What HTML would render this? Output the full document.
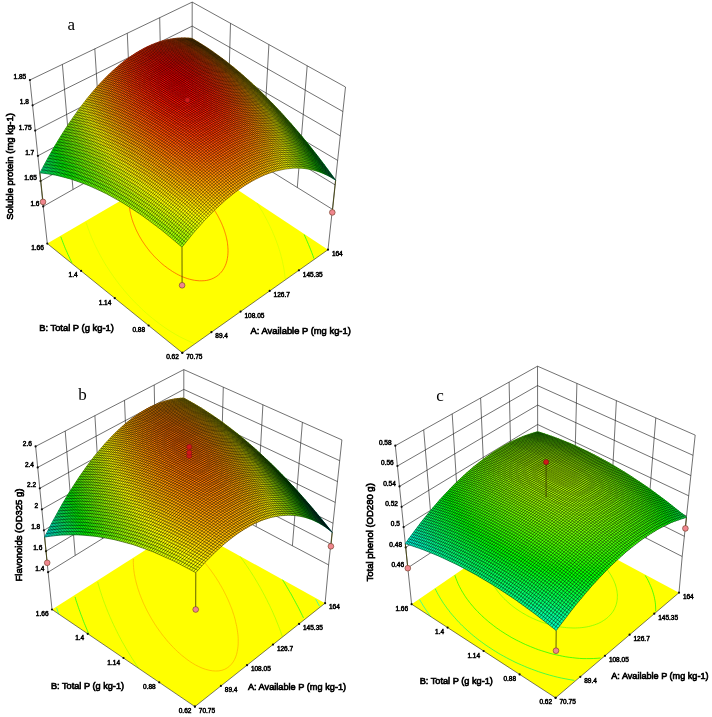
<!DOCTYPE html>
<html><head><meta charset="utf-8"><title>Response surfaces</title>
<style>
html,body{margin:0;padding:0;background:#fff}
svg{display:block}
text{font-family:"Liberation Sans",Arial,sans-serif;fill:#000}
.tk text{stroke:#000;stroke-width:0.5px}
.tt{stroke:#000;stroke-width:0.65px}
.lt{font-family:"Liberation Serif","Times New Roman",serif;font-size:17px;stroke:none}
</style></head><body>
<svg width="712" height="717" viewBox="0 0 712 717">
<rect width="712" height="717" fill="#fff"/>
<g><path d="M43.2 206.4L192.0 122.1M192.0 122.1L332.4 209.3M40.5 181.1L192.0 98.1M192.0 98.1L335.0 184.8M37.9 155.8L192.1 74.1M192.1 74.1L337.6 160.4M35.2 130.6L192.1 50.1M192.1 50.1L340.3 135.9M32.6 105.3L192.2 26.1M192.2 26.1L342.9 111.5M29.9 80.0L192.2 2.1M192.2 2.1L345.5 87.0M43.2 206.4L29.9 80.0M73.0 189.5L62.4 64.4M102.7 172.7L94.8 48.8M132.5 155.8L127.3 33.3M162.2 139.0L159.7 17.7M192.0 122.1L192.2 2.1M227.1 143.9L230.5 23.3M262.2 165.7L268.9 44.6M297.3 187.5L307.2 65.8M332.4 209.3L345.5 87.0M47.3 243.6L43.2 206.4M328.0 249.7L332.4 209.3" fill="none" stroke="#1a1a1a" stroke-width="0.62"/>
<path d="M47.3 243.6 L191.6 159.3 L328.0 249.7 L182.3 352.8 Z" fill="#ffff00"/>
<path d="M60.8 236.7 L61.5 238.7 L62.3 240.7 L63.0 242.7 L63.8 244.7 L64.6 246.7 L65.4 248.7 L66.3 250.6 L67.2 252.6 L68.0 254.6 L69.0 256.6 L69.9 258.6 L70.9 260.7 L71.9 262.7M313.9 258.5 L312.9 255.6 L311.8 252.7 L310.7 249.8 L309.6 247.1 L308.5 244.5 L307.4 241.9 L306.3 239.4 L305.2 236.9 L304.1 234.5" fill="none" stroke="#00ff15" stroke-width="0.70"/>
<path d="M86.1 222.5 L86.6 224.0 L87.2 225.6 L87.7 227.2 L88.2 228.7 L88.8 230.2 L89.4 231.7 L89.9 233.2 L90.5 234.7 L91.1 236.2 L91.7 237.7 L92.4 239.2 L93.0 240.7 L93.7 242.1 L94.3 243.6 L95.0 245.1 L95.7 246.6 L96.5 248.1 L97.2 249.5 L98.0 251.0 L98.7 252.5 L99.5 254.0 L100.4 255.6 L101.2 257.1 L102.1 258.6 L103.0 260.2 L103.9 261.8 L104.8 263.4 L105.8 265.0 L106.8 266.6 L107.9 268.2 L109.0 269.9 L110.1 271.6 L111.3 273.3 L112.5 275.1 L113.7 276.9 L115.1 278.7 L116.4 280.6 L117.8 282.4 L119.3 284.4 L120.9 286.3 L122.5 288.3 L124.2 290.4 L126.0 292.5 L127.8 294.6 L129.8 296.8 L131.8 299.0 L134.0 301.3 L136.3 303.6 L138.7 306.0 L141.2 308.4 L143.8 310.9 L146.6 313.4 L149.6 316.0 L152.7 318.5 L156.0 321.1 L159.4 323.7 L163.1 326.4 L166.9 329.0 L170.9 331.6 L175.1 334.1 L179.5 336.6 L184.2 338.9 L189.0 341.2 L193.9 343.3M285.2 279.0 L284.9 275.9 L284.5 272.9 L284.1 269.9 L283.6 267.1 L283.0 264.3 L282.5 261.6 L281.9 259.0 L281.2 256.5 L280.6 254.1 L279.9 251.7 L279.2 249.5 L278.5 247.3 L277.8 245.1 L277.0 243.0 L276.3 241.0 L275.5 239.0 L274.8 237.1 L274.0 235.2 L273.2 233.4 L272.5 231.6 L271.7 229.9 L270.9 228.1 L270.1 226.5 L269.3 224.8 L268.5 223.2 L267.7 221.6 L266.9 220.1 L266.1 218.5 L265.3 217.0 L264.5 215.6 L263.7 214.1 L262.9 212.6 L262.1 211.2 L261.2 209.8 L260.4 208.4 L259.5 207.0 L258.7 205.6 L257.8 204.2 L256.9 202.9" fill="none" stroke="#d2ff00" stroke-width="0.70"/>
<path d="M209.3 203.0 L208.7 202.3 L208.2 201.6 L207.6 200.8 L207.0 200.1 L206.4 199.4 L205.7 198.7 L205.1 197.9 L204.4 197.1 L203.7 196.4 L203.0 195.6 L202.2 194.8 L201.4 194.0 L200.6 193.2 L199.8 192.3 L198.9 191.5 L198.0 190.6 L197.0 189.8 L196.1 188.9 L195.0 188.0 L193.9 187.1 L192.8 186.1 L191.6 185.2 L190.4 184.3 L189.1 183.3 L187.7 182.4 L186.3 181.4 L184.8 180.4 L183.3 179.5 L181.7 178.5 L180.0 177.6 L178.2 176.7 L176.4 175.8 L174.5 175.0 L172.5 174.2 L170.5 173.5M129.3 196.4 L129.2 197.8 L129.1 199.1 L129.1 200.3 L129.1 201.6 L129.1 202.8 L129.2 204.0 L129.2 205.1 L129.3 206.2 L129.5 207.3 L129.6 208.4 L129.8 209.4 L129.9 210.5 L130.1 211.4 L130.3 212.4 L130.5 213.4 L130.7 214.3 L130.9 215.2 L131.2 216.1 L131.4 217.0 L131.6 217.8 L131.9 218.7 L132.1 219.5 L132.4 220.3 L132.7 221.1 L132.9 221.9 L133.2 222.7 L133.5 223.4 L133.8 224.2 L134.1 224.9 L134.4 225.7 L134.7 226.4 L135.0 227.1 L135.3 227.8 L135.6 228.6 L135.9 229.3 L136.2 230.0 L136.6 230.7 L136.9 231.4 L137.3 232.1 L137.6 232.8 L138.0 233.5 L138.3 234.2 L138.7 234.9 L139.1 235.6 L139.5 236.3 L139.9 237.0 L140.3 237.7 L140.7 238.4 L141.1 239.1 L141.6 239.8 L142.0 240.6 L142.5 241.3 L143.0 242.0 L143.5 242.8 L144.0 243.5 L144.5 244.3 L145.1 245.1 L145.6 245.8 L146.2 246.6 L146.8 247.4 L147.4 248.3 L148.1 249.1 L148.7 249.9 L149.4 250.8 L150.1 251.7 L150.9 252.6 L151.7 253.5 L152.5 254.4 L153.3 255.3 L154.2 256.3 L155.2 257.3 L156.2 258.3 L157.2 259.3 L158.3 260.3 L159.4 261.4 L160.6 262.5 L161.8 263.6 L163.1 264.7 L164.5 265.8 L166.0 266.9 L167.5 268.1 L169.1 269.2 L170.8 270.3 L172.5 271.5 L174.4 272.6 L176.3 273.7 L178.3 274.8 L180.4 275.8 L182.6 276.8 L184.9 277.7 L187.2 278.5 L189.6 279.2 L192.0 279.8 L194.5 280.3 L197.0 280.6 L199.4 280.8 L201.9 280.8 L204.3 280.7 L206.7 280.4 L208.9 279.9 L211.1 279.2 L213.2 278.3 L215.1 277.3 L216.9 276.2 L218.5 274.9 L220.0 273.5 L221.4 272.0 L222.6 270.4 L223.6 268.8 L224.5 267.2 L225.3 265.5 L226.0 263.8 L226.5 262.1 L227.0 260.4 L227.3 258.7 L227.6 257.0 L227.8 255.4 L227.9 253.8 L228.0 252.2 L228.0 250.7 L228.0 249.2 L227.9 247.8 L227.8 246.4 L227.7 245.1 L227.5 243.7 L227.4 242.5 L227.2 241.2 L226.9 240.0 L226.7 238.8 L226.4 237.7 L226.2 236.6 L225.9 235.5 L225.6 234.5 L225.3 233.5 L225.0 232.5 L224.7 231.5 L224.4 230.6 L224.1 229.7 L223.8 228.8 L223.4 227.9 L223.1 227.1 L222.8 226.2 L222.4 225.4 L222.1 224.6 L221.8 223.8 L221.4 223.0 L221.1 222.3 L220.7 221.5 L220.4 220.8 L220.0 220.0 L219.6 219.3 L219.3 218.6 L218.9 217.9 L218.5 217.2 L218.2 216.5 L217.8 215.8 L217.4 215.1 L217.0 214.4 L216.6 213.8 L216.2 213.1 L215.8 212.4 L215.4 211.8 L215.0 211.1 L214.6 210.4 L214.1 209.8 L213.7 209.1 L213.2 208.4 L212.8 207.8 L212.3 207.1 L211.8 206.4 L211.4 205.7 L210.9 205.0 L210.3 204.4 L209.8 203.7 L209.3 203.0" fill="none" stroke="#ff4500" stroke-width="0.70"/>
<path d="M47.3 243.6 L182.3 352.8 L328.0 249.7" fill="none" stroke="#222" stroke-width="0.6"/>
<g fill="#111"><circle cx="182.3" cy="352.8" r="1.1"/><circle cx="211.4" cy="332.2" r="1.1"/><circle cx="240.6" cy="311.6" r="1.1"/><circle cx="269.7" cy="290.9" r="1.1"/><circle cx="298.9" cy="270.3" r="1.1"/><circle cx="328.0" cy="249.7" r="1.1"/><circle cx="182.3" cy="352.8" r="1.1"/><circle cx="148.6" cy="325.5" r="1.1"/><circle cx="114.8" cy="298.2" r="1.1"/><circle cx="81.1" cy="270.9" r="1.1"/><circle cx="47.3" cy="243.6" r="1.1"/><circle cx="43.2" cy="206.4" r="1.1"/><circle cx="40.5" cy="181.1" r="1.1"/><circle cx="37.9" cy="155.8" r="1.1"/><circle cx="35.2" cy="130.6" r="1.1"/><circle cx="32.6" cy="105.3" r="1.1"/><circle cx="29.9" cy="80.0" r="1.1"/></g>
<g font-size="6.5" class="tk"><text x="186.2" y="359.0">70.75</text><text x="215.3" y="338.4">89.4</text><text x="244.5" y="317.8">108.05</text><text x="273.6" y="297.1">126.7</text><text x="302.8" y="276.5">145.35</text><text x="331.9" y="255.9">164</text><text x="178.8" y="359.3" text-anchor="end">0.62</text><text x="145.1" y="332.0" text-anchor="end">0.88</text><text x="111.3" y="304.7" text-anchor="end">1.14</text><text x="77.6" y="277.4" text-anchor="end">1.4</text><text x="43.8" y="250.1" text-anchor="end">1.66</text><text x="39.5" y="205.5" text-anchor="end">1.6</text><text x="36.8" y="180.2" text-anchor="end">1.65</text><text x="34.2" y="154.9" text-anchor="end">1.7</text><text x="31.5" y="129.7" text-anchor="end">1.75</text><text x="28.9" y="104.4" text-anchor="end">1.8</text><text x="26.2" y="79.1" text-anchor="end">1.85</text></g>
<path d="M182.0 247.1 L182.1 285.3" stroke="#3c3c00" stroke-width="0.8"/>
<circle cx="182.1" cy="285.3" r="2.85" fill="#f0868e" stroke="#6a3a20" stroke-width="0.6"/>
<path d="M40.0 172.8 L43.0 201.9" stroke="#3c3c00" stroke-width="0.8"/>
<circle cx="43.0" cy="201.9" r="2.85" fill="#f0868e" stroke="#6a3a20" stroke-width="0.6"/>
<path d="M335.7 180.2 L332.3 212.4" stroke="#3c3c00" stroke-width="0.8"/>
<circle cx="332.3" cy="212.4" r="2.85" fill="#f0868e" stroke="#6a3a20" stroke-width="0.6"/>
<g stroke-width="0.6" stroke-linejoin="round"><path fill="#96ff00" stroke="#96ff00" d="M182.0 247.1l4.3-5.6-4-3.5-4.4 5.6zM116.3 199.1l4.1-6.3-3.6-2-4.2 6.2zM102.4 183.4l4.1-6.3-3.5-1.7-4.1 6.3zM77.6 143.5l3.9-5.9-3.3-0.9-3.8 6zM303.0 168.3l3.5 0.4-3.9-4.8-3.5-0.4zM298.0 151.0l3.4 0.8-3.8-4.5-3.4-0.8z"/><path fill="#9cff00" stroke="#9cff00" d="M177.9 243.6l4.4-5.6-4.1-3.5-4.3 5.6zM119.9 201.2l4.2-6.2-3.7-2.2-4.1 6.3zM106.0 185.1l4-6.2-3.5-1.8-4.1 6.3zM96.0 172.3l4-6.1-3.5-1.5-4 6.2zM83.6 152.4l3.9-6-3.3-1-4 6zM72.5 128.8l3.8-5.7-3.2-0.6-3.8 5.7zM298.4 155.0l3.4 0.7-3.8-4.7-3.4-0.6z"/><path fill="#9fff00" stroke="#9fff00" d="M173.9 240.1l4.3-5.6-4-3.4-4.3 5.6zM123.6 203.4l4.2-6.2-3.7-2.2-4.2 6.2zM89.7 162.0l4-6.1-3.4-1.2-4 6.1z"/><path fill="#a6ff00" stroke="#a6ff00" d="M169.9 236.7l4.3-5.6-4-3.4-4.3 5.8zM131.1 208.1l4.2-6.1-3.8-2.4-4.1 6.1zM99.4 173.8l4.1-6.1-3.5-1.5-4 6.1z"/><path fill="#a9ff00" stroke="#a9ff00" d="M165.9 233.5l4.3-5.8-3.9-3.2-4.3 5.8zM162.0 230.3l4.3-5.8-4-3.1-4.3 5.8zM134.9 210.5l4.2-6-3.8-2.5-4.2 6.1zM93.1 163.3l4-6-3.4-1.4-4 6.1zM86.9 153.5l4-5.9-3.4-1.2-3.9 6zM78.2 136.7l3.9-5.7-3.2-0.8-3.9 5.8zM299.1 163.5l3.5 0.4-3.8-4.7-3.5-0.4zM294.2 146.5l3.4 0.8-3.8-4.6-3.4-0.7z"/><path fill="#acff00" stroke="#acff00" d="M158.0 227.2l4.3-5.8-3.9-3-4.3 5.8zM154.1 224.2l4.3-5.8-3.9-3-4.3 5.9zM142.5 215.7l4.2-5.9-3.8-2.7-4.2 6zM138.7 213.1l4.2-6-3.8-2.6-4.2 6zM113.1 188.8l4.1-6.1-3.6-2-4.1 6.2zM75.7 129.4l3.8-5.6-3.2-0.7-3.8 5.7zM73.1 122.5l3.9-5.6-3.2-0.5-3.8 5.5zM299.5 168.1l3.5 0.2-3.9-4.8-3.5-0.2z"/><path fill="#afff00" stroke="#afff00" d="M150.2 221.3l4.3-5.9-3.9-2.9-4.3 6zM146.3 218.5l4.3-6-3.9-2.7-4.2 5.9zM186.3 241.5l4.4-5.3-4.1-3.7-4.3 5.5zM116.8 190.8l4.1-6.1-3.7-2-4.1 6.1zM103.0 175.4l4-6-3.5-1.7-4.1 6.1zM84.2 145.4l3.9-5.9-3.3-1-3.9 5.9z"/><path fill="#a3ff00" stroke="#a3ff00" d="M127.4 205.7l4.1-6.1-3.7-2.4-4.2 6.2zM109.5 186.9l4.1-6.2-3.6-1.8-4 6.2zM80.9 144.4l3.9-5.9-3.3-0.9-3.9 5.9zM298.8 159.2l3.5 0.5-3.9-4.7-3.5-0.5z"/><path fill="#8fff00" stroke="#8fff00" d="M112.6 197.0l4.2-6.2-3.7-2-4.1 6.3zM80.2 151.4l4-6-3.3-1-3.9 6.1zM302.6 163.9l3.5 0.6-3.8-4.8-3.5-0.5z"/><path fill="#89ff00" stroke="#89ff00" d="M109.0 195.1l4.1-6.3-3.6-1.9-4.1 6.3zM71.8 135.3l3.9-5.9-3.2-0.6-3.9 5.8zM302.3 159.7l3.4 0.7-3.9-4.7-3.4-0.7z"/><path fill="#83ff00" stroke="#83ff00" d="M105.4 193.2l4.1-6.3-3.5-1.8-4.1 6.4zM95.4 180.1l4-6.3-3.4-1.5-4 6.4zM301.8 155.7l3.4 0.8-3.8-4.7-3.4-0.8z"/><path fill="#79ff00" stroke="#79ff00" d="M101.9 191.5l4.1-6.4-3.6-1.7-4 6.4zM92.0 178.7l4-6.4-3.5-1.4-4 6.4zM79.6 158.6l4-6.2-3.4-1-3.9 6.2zM71.1 141.9l3.9-5.9-3.2-0.7-3.8 6zM68.6 134.6l3.9-5.8-3.2-0.6-3.8 5.9z"/><path fill="#70ff00" stroke="#70ff00" d="M98.4 189.8l4-6.4-3.5-1.7-4 6.4zM82.4 167.1l3.9-6.3-3.3-1.1-4 6.3z"/><path fill="#66ff00" stroke="#66ff00" d="M94.9 188.1l4-6.4-3.5-1.6-4 6.5z"/><path fill="#5cff00" stroke="#5cff00" d="M91.4 186.6l4-6.5-3.4-1.4-4 6.5zM73.1 156.7l3.9-6.2-3.3-0.9-3.9 6.3z"/><path fill="#53ff00" stroke="#53ff00" d="M88.0 185.2l4-6.5-3.5-1.4-3.9 6.5zM75.7 164.9l3.9-6.3-3.3-1-3.8 6.4zM67.3 148.1l3.8-6.2-3.1-0.6-3.9 6.2z"/><path fill="#49ff00" stroke="#49ff00" d="M84.6 183.8l3.9-6.5-3.4-1.4-3.9 6.6zM78.4 173.5l4-6.4-3.4-1.1-3.9 6.5z"/><path fill="#3dff00" stroke="#3dff00" d="M81.2 182.5l3.9-6.6-3.3-1.2-4 6.6zM75.1 172.5l3.9-6.5-3.3-1.1-3.9 6.6z"/><path fill="#30ff00" stroke="#30ff00" d="M77.8 181.3l4-6.6-3.4-1.2-3.9 6.7z"/><path fill="#23ff00" stroke="#23ff00" d="M74.5 180.2l3.9-6.7-3.3-1-3.9 6.6z"/><path fill="#13ff00" stroke="#13ff00" d="M71.2 179.1l3.9-6.6-3.3-1-3.8 6.7z"/><path fill="#06ff00" stroke="#06ff00" d="M68.0 178.2l3.8-6.7-3.2-1-3.9 6.8zM59.7 160.9l3.8-6.5-3.2-0.6-3.8 6.6z"/><path fill="#00ff0a" stroke="#00ff0a" d="M64.7 177.3l3.9-6.8-3.2-0.8-3.9 6.8zM56.5 160.4l3.8-6.6-3.1-0.5-3.7 6.6z"/><path fill="#00ff1a" stroke="#00ff1a" d="M61.5 176.5l3.9-6.8-3.2-0.8-3.8 6.8z"/><path fill="#00ff29" stroke="#00ff29" d="M58.4 175.7l3.8-6.8-3.2-0.7-3.8 6.8z"/><path fill="#00ff3d" stroke="#00ff3d" d="M55.2 175.0l3.8-6.8-3.1-0.6-3.8 6.9z"/><path fill="#00ff4c" stroke="#00ff4c" d="M52.1 174.5l3.8-6.9-3.1-0.5-3.8 6.8z"/><path fill="#00ff60" stroke="#00ff60" d="M49.0 173.9l3.8-6.8-3.1-0.5-3.7 6.9z"/><path fill="#00ff73" stroke="#00ff73" d="M46.0 173.5l3.7-6.9-3-0.4-3.7 6.9z"/><path fill="#00ff86" stroke="#00ff86" d="M43.0 173.1l3.7-6.9-3-0.3-3.7 6.9z"/><path fill="#b6ff00" stroke="#b6ff00" d="M182.3 238.0l4.3-5.5-4-3.5-4.4 5.5zM120.4 192.8l4.2-6-3.7-2.1-4.1 6.1zM106.5 177.1l4.1-6-3.6-1.7-4 6zM90.3 154.7l3.9-5.9-3.3-1.2-4 5.9zM81.5 137.6l3.9-5.7-3.3-0.9-3.9 5.7z"/><path fill="#b9ff00" stroke="#b9ff00" d="M178.2 234.5l4.4-5.5-4.1-3.4-4.3 5.5zM294.9 154.5l3.5 0.5-3.8-4.6-3.6-0.5z"/><path fill="#bfff00" stroke="#bfff00" d="M174.2 231.1l4.3-5.5-4-3.4-4.3 5.5zM127.8 197.2l4.2-5.9-3.7-2.3-4.2 6zM110.0 178.9l4.1-6-3.5-1.8-4.1 6zM93.7 155.9l4-5.8-3.5-1.3-3.9 5.9z"/><path fill="#c2ff00" stroke="#c2ff00" d="M170.2 227.7l4.3-5.5-3.9-3.2-4.3 5.5zM131.5 199.6l4.2-6-3.7-2.3-4.2 5.9zM295.9 168.0l3.6 0.1-3.9-4.8-3.6 0zM295.6 163.3l3.5 0.2-3.8-4.7-3.6-0.2zM290.7 145.9l3.5 0.6-3.8-4.5-3.5-0.6z"/><path fill="#c6ff00" stroke="#c6ff00" d="M166.3 224.5l4.3-5.5-4-3.2-4.3 5.6zM135.3 202.0l4.2-5.9-3.8-2.5-4.2 6zM190.7 236.2l4.3-5.2-4.1-3.7-4.3 5.2zM113.6 180.7l4.1-5.9-3.6-1.9-4.1 6zM103.5 167.7l4-5.9-3.5-1.6-4 6zM84.8 138.5l3.9-5.7-3.3-0.9-3.9 5.7z"/><path fill="#c9ff00" stroke="#c9ff00" d="M162.3 221.4l4.3-5.6-3.9-3.1-4.3 5.7zM158.4 218.4l4.3-5.7-4-3-4.2 5.7zM154.5 215.4l4.2-5.7-3.9-2.9-4.2 5.7zM142.9 207.1l4.2-5.8-3.8-2.7-4.2 5.9zM139.1 204.5l4.2-5.9-3.8-2.5-4.2 5.9zM97.1 157.3l4-5.9-3.4-1.3-4 5.8zM90.9 147.6l3.9-5.8-3.3-1.2-4 5.8zM82.1 131.0l3.9-5.6-3.2-0.9-3.9 5.7z"/><path fill="#ccff00" stroke="#ccff00" d="M150.6 212.5l4.2-5.7-3.8-2.8-4.3 5.8zM146.7 209.8l4.3-5.8-3.9-2.7-4.2 5.8zM186.6 232.5l4.3-5.2-4-3.5-4.3 5.2zM117.2 182.7l4.2-6-3.7-1.9-4.1 5.9zM79.5 123.8l3.9-5.5-3.2-0.7-3.9 5.5zM77.0 116.9l3.8-5.3-3.1-0.6-3.9 5.4zM291.0 149.9l3.6 0.5-3.9-4.5-3.5-0.4z"/><path fill="#bcff00" stroke="#bcff00" d="M124.1 195.0l4.2-6-3.7-2.2-4.2 6zM100.0 166.2l4-6-3.5-1.5-4 6zM87.5 146.4l4-5.8-3.4-1.1-3.9 5.9zM78.9 130.2l3.9-5.7-3.3-0.7-3.8 5.6zM76.3 123.1l3.9-5.5-3.2-0.7-3.9 5.6zM295.3 158.8l3.5 0.4-3.9-4.7-3.5-0.3zM290.4 142.0l3.4 0.7-3.8-4.4-3.5-0.7z"/><path fill="#8cff00" stroke="#8cff00" d="M98.9 181.7l4.1-6.3-3.6-1.6-4 6.3zM69.3 128.2l3.8-5.7-3.1-0.6-3.8 5.8z"/><path fill="#6cff00" stroke="#6cff00" d="M88.5 177.3l4-6.4-3.4-1.4-4 6.4zM76.3 157.6l3.9-6.2-3.2-0.9-3.9 6.2zM305.7 160.4l3.4 0.9-3.9-4.8-3.4-0.8z"/><path fill="#63ff00" stroke="#63ff00" d="M85.1 175.9l4-6.4-3.4-1.2-3.9 6.4zM79.0 166.0l4-6.3-3.4-1.1-3.9 6.3zM70.5 148.8l3.9-6.1-3.3-0.8-3.8 6.2z"/><path fill="#56ff00" stroke="#56ff00" d="M81.8 174.7l3.9-6.4-3.3-1.2-4 6.4zM64.8 140.7l3.8-6.1-3.1-0.5-3.8 6.1zM309.5 165.2l3.4 0.9-3.8-4.8-3.4-0.9z"/><path fill="#2dff00" stroke="#2dff00" d="M71.8 171.5l3.9-6.6-3.2-0.9-3.9 6.5zM63.5 154.4l3.8-6.3-3.2-0.6-3.8 6.3z"/><path fill="#20ff00" stroke="#20ff00" d="M68.6 170.5l3.9-6.5-3.3-0.9-3.8 6.6zM57.9 146.4l3.8-6.2-3.1-0.5-3.8 6.3z"/><path fill="#10ff00" stroke="#10ff00" d="M65.4 169.7l3.8-6.6-3.2-0.8-3.8 6.6z"/><path fill="#00ff00" stroke="#00ff00" d="M62.2 168.9l3.8-6.6-3.2-0.7-3.8 6.6z"/><path fill="#00ff10" stroke="#00ff10" d="M59.0 168.2l3.8-6.6-3.1-0.7-3.8 6.7z"/><path fill="#00ff23" stroke="#00ff23" d="M55.9 167.6l3.8-6.7-3.2-0.5-3.7 6.7z"/><path fill="#00ff33" stroke="#00ff33" d="M52.8 167.1l3.7-6.7-3-0.5-3.8 6.7z"/><path fill="#00ff46" stroke="#00ff46" d="M49.7 166.6l3.8-6.7-3.1-0.5-3.7 6.8z"/><path fill="#00ff59" stroke="#00ff59" d="M46.7 166.2l3.7-6.8-3-0.3-3.7 6.8z"/><path fill="#d2ff00" stroke="#d2ff00" d="M182.6 229.0l4.3-5.2-4-3.5-4.4 5.3zM100.5 158.7l4.1-5.8-3.5-1.5-4 5.9zM88.1 139.5l4-5.6-3.4-1.1-3.9 5.7z"/><path fill="#d6ff00" stroke="#d6ff00" d="M178.5 225.6l4.4-5.3-4.1-3.4-4.3 5.3zM124.6 186.8l4.1-5.9-3.7-2.1-4.1 5.9zM110.6 171.1l4-5.9-3.5-1.7-4.1 5.9zM94.2 148.8l4-5.8-3.4-1.2-3.9 5.8zM85.4 131.9l3.9-5.6-3.3-0.9-3.9 5.6zM291.7 158.6l3.6 0.2-3.9-4.6-3.6-0.1zM286.9 141.4l3.5 0.6-3.9-4.4-3.5-0.5z"/><path fill="#dcff00" stroke="#dcff00" d="M174.5 222.2l4.3-5.3-4-3.3-4.2 5.4zM195.0 231.0l4.3-5-4-3.7-4.4 5zM114.1 172.9l4.1-5.8-3.6-1.9-4 5.9zM104.0 160.2l4.1-5.8-3.5-1.5-4.1 5.8zM91.5 140.6l3.9-5.6-3.3-1.1-4 5.6zM80.2 117.6l3.9-5.3-3.3-0.7-3.8 5.3zM287.2 145.5l3.5 0.4-3.8-4.5-3.6-0.3z"/><path fill="#dfff00" stroke="#dfff00" d="M170.6 219.0l4.2-5.4-3.9-3.2-4.3 5.4zM135.7 193.6l4.2-5.7-3.7-2.4-4.2 5.8zM132.0 191.3l4.2-5.8-3.8-2.3-4.1 5.8zM97.7 150.1l4-5.7-3.5-1.4-4 5.8zM282.7 133.3l3.5 0.7-3.8-4.3-3.5-0.6z"/><path fill="#e2ff00" stroke="#e2ff00" d="M166.6 215.8l4.3-5.4-4-3.2-4.2 5.5zM162.7 212.7l4.2-5.5-3.9-3-4.3 5.5zM139.5 196.1l4.2-5.7-3.8-2.5-4.2 5.7zM190.9 227.3l4.4-5-4.1-3.6-4.3 5.1zM117.7 174.8l4.2-5.8-3.7-1.9-4.1 5.8zM88.7 132.8l4-5.5-3.4-1-3.9 5.6zM287.5 149.7l3.5 0.2-3.8-4.4-3.6-0.3z"/><path fill="#e5ff00" stroke="#e5ff00" d="M158.7 209.7l4.3-5.5-3.9-2.9-4.3 5.5zM154.8 206.8l4.3-5.5-3.9-2.9-4.2 5.6zM151.0 204.0l4.2-5.6-3.8-2.7-4.3 5.6zM147.1 201.3l4.3-5.6-3.9-2.7-4.2 5.6zM143.3 198.6l4.2-5.6-3.8-2.6-4.2 5.7zM107.5 161.8l4.1-5.7-3.5-1.7-4.1 5.8zM278.6 125.5l3.5 0.8-3.7-4.2-3.5-0.7z"/><path fill="#d9ff00" stroke="#d9ff00" d="M128.3 189.0l4.1-5.8-3.7-2.3-4.1 5.9zM82.8 124.5l3.9-5.4-3.3-0.8-3.9 5.5zM292.3 168.1l3.6-0.1-3.9-4.7-3.6 0.2zM292.0 163.3l3.6 0-3.9-4.7-3.6 0.1z"/><path fill="#cfff00" stroke="#cfff00" d="M120.9 184.7l4.1-5.9-3.6-2.1-4.2 6zM107.0 169.4l4.1-5.9-3.6-1.7-4 5.9zM291.4 154.2l3.5 0.3-3.9-4.6-3.5-0.2zM286.5 137.6l3.5 0.7-3.8-4.3-3.5-0.7z"/><path fill="#93ff00" stroke="#93ff00" d="M92.5 170.9l4-6.2-3.4-1.4-4 6.2zM86.3 160.8l4-6.1-3.4-1.2-3.9 6.2z"/><path fill="#86ff00" stroke="#86ff00" d="M89.1 169.5l4-6.2-3.4-1.3-4 6.3zM83.0 159.7l3.9-6.2-3.3-1.1-4 6.2zM74.4 142.7l3.8-6-3.2-0.7-3.9 5.9z"/><path fill="#7cff00" stroke="#7cff00" d="M85.7 168.3l4-6.3-3.4-1.2-3.9 6.3zM306.5 168.7l3.5 0.6-3.9-4.8-3.5-0.6z"/><path fill="#46ff00" stroke="#46ff00" d="M72.5 164.0l3.8-6.4-3.2-0.9-3.9 6.4zM61.7 140.2l3.8-6.1-3.1-0.5-3.8 6.1z"/><path fill="#36ff00" stroke="#36ff00" d="M69.2 163.1l3.9-6.4-3.3-0.8-3.8 6.4z"/><path fill="#26ff00" stroke="#26ff00" d="M66.0 162.3l3.8-6.4-3.2-0.8-3.8 6.5z"/><path fill="#16ff00" stroke="#16ff00" d="M62.8 161.6l3.8-6.5-3.1-0.7-3.8 6.5z"/><path fill="#00ff1d" stroke="#00ff1d" d="M53.5 159.9l3.7-6.6-3.1-0.5-3.7 6.6z"/><path fill="#00ff30" stroke="#00ff30" d="M50.4 159.4l3.7-6.6-3-0.4-3.7 6.7z"/><path fill="#e9ff00" stroke="#e9ff00" d="M186.9 223.8l4.3-5.1-4-3.5-4.3 5.1zM121.4 176.7l4.1-5.7-3.6-2-4.2 5.8zM101.1 151.4l4-5.6-3.4-1.4-4 5.7zM94.8 141.8l4-5.6-3.4-1.2-3.9 5.6zM86.0 125.4l4-5.4-3.3-0.9-3.9 5.4zM83.4 118.3l3.9-5.3-3.2-0.7-3.9 5.3zM80.8 111.6l3.9-5.2-3.2-0.6-3.8 5.2zM288.1 158.7l3.6-0.1-3.9-4.5-3.6 0zM287.8 154.1l3.6 0.1-3.9-4.5-3.6-0.1zM283.0 137.1l3.5 0.5-3.8-4.3-3.5-0.5z"/><path fill="#ecff00" stroke="#ecff00" d="M182.9 220.3l4.3-5.1-4.1-3.5-4.3 5.2zM288.6 168.4l3.7-0.3-3.9-4.6-3.7 0.3zM288.4 163.5l3.6-0.2-3.9-4.6-3.7 0.2z"/><path fill="#f2ff00" stroke="#f2ff00" d="M178.8 216.9l4.3-5.2-4-3.3-4.3 5.2zM128.7 180.9l4.2-5.6-3.7-2.2-4.2 5.7zM104.6 152.9l4-5.6-3.5-1.5-4 5.6zM98.2 143.0l4-5.5-3.4-1.3-4 5.6z"/><path fill="#f5ff00" stroke="#f5ff00" d="M174.8 213.6l4.3-5.2-3.9-3.3-4.3 5.3zM195.3 222.3l4.3-4.8-4.1-3.6-4.3 4.8zM114.6 165.2l4.1-5.6-3.5-1.8-4.1 5.7zM89.3 126.3l4-5.4-3.3-0.9-4 5.4zM86.7 119.1l3.9-5.2-3.3-0.9-3.9 5.3zM84.1 112.3l3.9-5.2-3.3-0.7-3.9 5.2zM283.6 145.2l3.6 0.3-3.9-4.4-3.6-0.2zM274.9 121.4l3.5 0.7-3.8-4-3.5-0.7z"/><path fill="#f9ff00" stroke="#f9ff00" d="M170.9 210.4l4.3-5.3-4-3.1-4.3 5.2zM136.2 185.5l4.1-5.6-3.7-2.3-4.2 5.6zM132.4 183.2l4.2-5.6-3.7-2.3-4.2 5.6zM283.9 149.6l3.6 0.1-3.9-4.5-3.6 0zM279.2 132.8l3.5 0.5-3.8-4.2-3.5-0.5z"/><path fill="#fcff00" stroke="#fcff00" d="M166.9 207.2l4.3-5.2-3.9-3.1-4.3 5.3zM139.9 187.9l4.2-5.5-3.8-2.5-4.1 5.6zM191.2 218.7l4.3-4.8-4-3.6-4.3 4.9zM118.2 167.1l4.1-5.7-3.6-1.8-4.1 5.6zM108.1 154.4l4-5.6-3.5-1.5-4 5.6zM95.4 135.0l4-5.4-3.4-1.2-3.9 5.5zM284.2 154.1l3.6 0-3.9-4.5-3.7 0.1z"/><path fill="#ffff00" stroke="#ffff00" d="M163.0 204.2l4.3-5.3-4-3-4.2 5.4zM159.1 201.3l4.2-5.4-3.8-2.9-4.3 5.4zM155.2 198.4l4.3-5.4-3.9-2.8-4.2 5.5zM151.4 195.7l4.2-5.5-3.9-2.7-4.2 5.5zM147.5 193.0l4.2-5.5-3.8-2.6-4.2 5.5zM143.7 190.4l4.2-5.5-3.8-2.5-4.2 5.5zM203.6 221.3l4.3-4.6-4-3.8-4.3 4.6zM101.7 144.4l4-5.6-3.5-1.3-4 5.5zM284.9 169.0l3.7-0.6-3.9-4.6-3.7 0.6zM284.7 163.8l3.7-0.3-4-4.6-3.7 0.4zM284.4 158.9l3.7-0.2-3.9-4.6-3.7 0.3zM279.5 136.7l3.5 0.4-3.8-4.3-3.6-0.3zM275.1 124.9l3.5 0.6-3.7-4.1-3.6-0.5z"/><path fill="#efff00" stroke="#efff00" d="M125.0 178.8l4.2-5.7-3.7-2.1-4.1 5.7zM199.3 226.0l4.3-4.7-4-3.8-4.3 4.8zM111.1 163.5l4.1-5.7-3.6-1.7-4.1 5.7zM92.1 133.9l3.9-5.5-3.3-1.1-4 5.5zM283.3 141.1l3.6 0.3-3.9-4.3-3.5-0.4zM278.9 129.1l3.5 0.6-3.8-4.2-3.5-0.6z"/><path fill="#b3ff00" stroke="#b3ff00" d="M96.5 164.7l4-6-3.4-1.4-4 6zM294.6 150.4l3.4 0.6-3.8-4.5-3.5-0.6z"/><path fill="#4cff00" stroke="#4cff00" d="M69.8 155.9l3.9-6.3-3.2-0.8-3.9 6.3z"/><path fill="#40ff00" stroke="#40ff00" d="M66.6 155.1l3.9-6.3-3.2-0.7-3.8 6.3z"/><path fill="#1dff00" stroke="#1dff00" d="M60.3 153.8l3.8-6.3-3.1-0.6-3.8 6.4z"/><path fill="#0dff00" stroke="#0dff00" d="M57.2 153.3l3.8-6.4-3.1-0.5-3.8 6.4z"/><path fill="#00ff06" stroke="#00ff06" d="M54.1 152.8l3.8-6.4-3.1-0.4-3.7 6.4z"/><path fill="#fffc00" stroke="#fffc00" d="M187.2 215.2l4.3-4.9-4.1-3.5-4.3 4.9zM121.9 169.0l4.1-5.6-3.7-2-4.1 5.7zM111.6 156.1l4.1-5.6-3.6-1.7-4 5.6zM92.7 127.3l3.9-5.3-3.3-1.1-4 5.4zM84.7 106.4l3.9-5-3.2-0.7-3.9 5.1z"/><path fill="#fff900" stroke="#fff900" d="M183.1 211.7l4.3-4.9-4-3.4-4.3 5zM125.5 171.0l4.1-5.5-3.6-2.1-4.1 5.6zM98.8 136.2l4-5.4-3.4-1.2-4 5.4zM90.0 120.0l3.9-5.2-3.3-0.9-3.9 5.2zM87.3 113.0l3.9-5.1-3.2-0.8-3.9 5.2zM279.7 140.9l3.6 0.2-3.8-4.4-3.6-0.1zM271.1 117.4l3.5 0.7-3.8-4-3.5-0.6z"/><path fill="#fff200" stroke="#fff200" d="M179.1 208.4l4.3-5-4-3.3-4.2 5zM129.2 173.1l4.1-5.5-3.7-2.1-4.1 5.5zM115.2 157.8l4-5.5-3.5-1.8-4.1 5.6zM96.0 128.4l4-5.3-3.4-1.1-3.9 5.3zM280.0 145.2l3.6 0-3.9-4.3-3.6-0.1z"/><path fill="#ffef00" stroke="#ffef00" d="M175.2 205.1l4.2-5-3.9-3.2-4.3 5.1zM132.9 175.3l4.1-5.5-3.7-2.2-4.1 5.5zM195.5 213.9l4.3-4.7-4.1-3.6-4.2 4.7zM207.9 216.7l4.3-4.3-4.1-3.9-4.2 4.4zM108.6 147.3l4.1-5.5-3.5-1.5-4.1 5.5zM102.2 137.5l4-5.4-3.4-1.3-4 5.4zM93.3 120.9l3.9-5.1-3.3-1-3.9 5.2zM281.2 169.7l3.7-0.7-3.9-4.6-3.8 0.7zM281.0 164.4l3.7-0.6-4-4.5-3.7 0.6zM280.5 154.4l3.7-0.3-4-4.4-3.6 0.2zM280.2 149.7l3.7-0.1-3.9-4.4-3.7 0.1zM275.6 132.5l3.6 0.3-3.8-4.2-3.6-0.2zM271.3 120.9l3.6 0.5-3.8-4-3.6-0.5z"/><path fill="#ffec00" stroke="#ffec00" d="M171.2 202.0l4.3-5.1-4-3.1-4.2 5.1zM136.6 177.6l4.2-5.5-3.8-2.3-4.1 5.5zM118.7 159.6l4.1-5.5-3.6-1.8-4 5.5zM90.6 113.9l3.9-5.1-3.3-0.9-3.9 5.1zM88.0 107.1l3.8-4.9-3.2-0.8-3.9 5zM280.7 159.3l3.7-0.4-3.9-4.5-3.7 0.4z"/><path fill="#ffe900" stroke="#ffe900" d="M167.3 198.9l4.2-5.1-3.9-3-4.3 5.1zM140.3 179.9l4.2-5.4-3.7-2.4-4.2 5.5zM191.5 210.3l4.2-4.7-4-3.5-4.3 4.7zM275.9 136.6l3.6 0.1-3.9-4.2-3.6-0.1zM267.3 113.5l3.5 0.6-3.7-3.9-3.5-0.6z"/><path fill="#ffe500" stroke="#ffe500" d="M163.3 195.9l4.3-5.1-3.9-3-4.2 5.2zM159.5 193.0l4.2-5.2-3.9-2.8-4.2 5.2zM155.6 190.2l4.2-5.2-3.8-2.8-4.3 5.3zM151.7 187.5l4.3-5.3-3.9-2.6-4.2 5.3zM147.9 184.9l4.2-5.3-3.8-2.6-4.2 5.4zM144.1 182.4l4.2-5.4-3.8-2.5-4.2 5.4zM122.3 161.4l4.2-5.4-3.7-1.9-4.1 5.5zM203.9 212.9l4.2-4.4-4-3.7-4.3 4.4zM112.1 148.8l4.1-5.4-3.5-1.6-4.1 5.5zM105.7 138.8l4-5.3-3.5-1.4-4 5.4zM99.4 129.6l4-5.3-3.4-1.2-4 5.3zM271.6 124.5l3.5 0.4-3.8-4-3.5-0.4z"/><path fill="#80ff00" stroke="#80ff00" d="M77.0 150.5l3.9-6.1-3.3-0.9-3.9 6.1z"/><path fill="#73ff00" stroke="#73ff00" d="M73.7 149.6l3.9-6.1-3.2-0.8-3.9 6.1z"/><path fill="#43ff00" stroke="#43ff00" d="M64.1 147.5l3.9-6.2-3.2-0.6-3.8 6.2zM313.4 170.1l3.3 0.9-3.8-4.9-3.4-0.9z"/><path fill="#33ff00" stroke="#33ff00" d="M61.0 146.9l3.8-6.2-3.1-0.5-3.8 6.2z"/><path fill="#fff500" stroke="#fff500" d="M199.6 217.5l4.3-4.6-4.1-3.7-4.3 4.7zM105.1 145.8l4.1-5.5-3.5-1.5-4 5.6zM275.4 128.6l3.5 0.5-3.8-4.2-3.5-0.4z"/><path fill="#ffe200" stroke="#ffe200" d="M187.4 206.8l4.3-4.7-4-3.4-4.3 4.7zM126.0 163.4l4.1-5.4-3.6-2-4.2 5.4zM96.6 122.0l4-5.1-3.4-1.1-3.9 5.1zM277.4 170.6l3.8-0.9-4-4.6-3.8 0.9zM276.1 140.8l3.6 0.1-3.8-4.3-3.7 0z"/><path fill="#ffdf00" stroke="#ffdf00" d="M183.4 203.4l4.3-4.7-4-3.4-4.3 4.8zM199.8 209.2l4.3-4.4-4.1-3.7-4.3 4.5zM115.7 150.5l4-5.4-3.5-1.7-4.1 5.4zM212.2 212.4l4.3-4.2-4.1-3.9-4.3 4.2zM93.9 114.8l3.9-5-3.3-1-3.9 5.1zM91.2 107.9l3.9-4.9-3.3-0.8-3.8 4.9zM88.6 101.4l3.9-4.8-3.3-0.7-3.8 4.8zM277.2 165.1l3.8-0.7-4-4.5-3.8 0.7zM276.3 145.3l3.7-0.1-3.9-4.4-3.7 0.2zM271.8 128.4l3.6 0.2-3.8-4.1-3.6-0.2zM267.5 116.9l3.6 0.5-3.8-3.9-3.5-0.5z"/><path fill="#ffd900" stroke="#ffd900" d="M179.4 200.1l4.3-4.8-4-3.2-4.2 4.8zM133.3 167.6l4.2-5.3-3.7-2.2-4.2 5.4zM195.7 205.6l4.3-4.5-4-3.5-4.3 4.5zM119.2 152.3l4.1-5.4-3.6-1.8-4 5.4zM208.1 208.5l4.3-4.2-4.1-3.8-4.2 4.3zM272.0 132.4l3.6 0.1-3.8-4.1-3.6-0.1z"/><path fill="#ffd600" stroke="#ffd600" d="M175.5 196.9l4.2-4.8-3.9-3.2-4.3 4.9zM137.0 169.8l4.2-5.3-3.7-2.2-4.2 5.3zM100.0 123.1l4-5.1-3.4-1.1-4 5.1zM273.6 171.6l3.8-1-4-4.6-3.8 1.2zM267.8 120.5l3.5 0.4-3.8-4-3.5-0.3z"/><path fill="#ffd200" stroke="#ffd200" d="M171.5 193.8l4.3-4.9-4-3.1-4.2 5zM140.8 172.1l4.1-5.2-3.7-2.4-4.2 5.3zM191.7 202.1l4.3-4.5-4-3.5-4.3 4.6zM122.8 154.1l4.1-5.3-3.6-1.9-4.1 5.4zM112.7 141.8l4-5.2-3.5-1.6-4 5.3zM216.5 208.2l4.2-3.9-4-4-4.3 4zM106.2 132.1l4-5.2-3.4-1.3-4 5.2zM97.2 115.8l4-5-3.4-1-3.9 5zM94.5 108.8l3.9-4.9-3.3-0.9-3.9 4.9zM91.8 102.2l3.9-4.8-3.2-0.8-3.9 4.8zM272.2 136.6l3.7 0-3.9-4.2-3.6 0zM263.8 113.0l3.5 0.5-3.7-3.9-3.6-0.4z"/><path fill="#ffcf00" stroke="#ffcf00" d="M167.6 190.8l4.2-5-3.9-2.9-4.2 4.9zM163.7 187.8l4.2-4.9-3.9-2.9-4.2 5zM159.8 185.0l4.2-5-3.8-2.8-4.2 5zM148.3 177.0l4.2-5.1-3.8-2.6-4.2 5.2zM144.5 174.5l4.2-5.2-3.8-2.4-4.1 5.2zM204.1 204.8l4.2-4.3-4-3.7-4.3 4.3zM273.4 166.0l3.8-0.9-4-4.5-3.8 1zM273.2 160.6l3.8-0.7-4-4.5-3.8 0.8zM272.4 141.0l3.7-0.2-3.9-4.2-3.7 0.2zM268.0 124.3l3.6 0.2-3.8-4-3.7-0.2zM259.8 105.9l3.6 0.5-3.8-3.7-3.5-0.5z"/><path fill="#ffcc00" stroke="#ffcc00" d="M156.0 182.2l4.2-5-3.9-2.7-4.2 5.1zM152.1 179.6l4.2-5.1-3.8-2.6-4.2 5.1zM187.7 198.7l4.3-4.6-4-3.4-4.3 4.6zM126.5 156.0l4.1-5.2-3.7-2-4.1 5.3zM116.2 143.4l4.1-5.2-3.6-1.6-4 5.2zM212.4 204.3l4.3-4-4.1-3.8-4.3 4zM103.4 124.3l4-5.1-3.4-1.2-4 5.1zM273.0 155.4l3.8-0.6-4-4.4-3.7 0.7zM272.8 150.4l3.8-0.5-4-4.3-3.7 0.5zM272.6 145.6l3.7-0.3-3.9-4.3-3.7 0.4z"/><path fill="#ffdc00" stroke="#ffdc00" d="M129.6 165.5l4.2-5.4-3.7-2.1-4.1 5.4zM109.2 140.3l4-5.3-3.5-1.5-4 5.3zM102.8 130.8l4-5.2-3.4-1.3-4 5.3zM277.0 159.9l3.7-0.6-3.9-4.5-3.8 0.6zM276.8 154.8l3.7-0.4-3.9-4.5-3.8 0.5zM276.6 149.9l3.6-0.2-3.9-4.4-3.7 0.3zM263.6 109.6l3.5 0.6-3.7-3.8-3.6-0.5z"/><path fill="#69ff00" stroke="#69ff00" d="M68.0 141.3l3.8-6-3.2-0.7-3.8 6.1zM65.5 134.1l3.8-5.9-3.1-0.5-3.8 5.9z"/><path fill="#ffc600" stroke="#ffc600" d="M183.7 195.3l4.3-4.6-4-3.3-4.3 4.7zM130.1 158.0l4.1-5.2-3.6-2-4.1 5.2zM97.8 109.8l4-4.9-3.4-1-3.9 4.9zM95.1 103.0l3.9-4.7-3.3-0.9-3.9 4.8zM269.6 167.2l3.8-1.2-4-4.4-3.8 1.2z"/><path fill="#ffc200" stroke="#ffc200" d="M179.7 192.1l4.3-4.7-4-3.2-4.2 4.7zM133.8 160.1l4.1-5.2-3.7-2.1-4.1 5.2zM196.0 197.6l4.2-4.4-4-3.5-4.2 4.4zM119.7 145.1l4.1-5.1-3.5-1.8-4.1 5.2zM208.3 200.5l4.3-4-4.1-3.7-4.2 4zM106.8 125.6l4-5-3.4-1.4-4 5.1zM268.4 132.4l3.6 0-3.8-4.1-3.7 0.1zM260.0 109.2l3.6 0.4-3.8-3.7-3.6-0.4zM256.1 102.2l3.5 0.5-3.7-3.6-3.6-0.5z"/><path fill="#ffbf00" stroke="#ffbf00" d="M175.8 188.9l4.2-4.7-3.9-3.1-4.3 4.7zM137.5 162.3l4.1-5.1-3.7-2.3-4.1 5.2zM113.2 135.0l4-5.1-3.5-1.5-4 5.1zM216.7 200.3l4.2-3.7-4.1-3.9-4.2 3.8zM225.0 200.5l4.2-3.5-4.1-4-4.2 3.6zM265.8 174.4l3.9-1.5-4-4.4-3.9 1.5zM269.4 161.6l3.8-1-4-4.4-3.8 1.1zM268.5 136.8l3.7-0.2-3.8-4.2-3.7 0.3zM264.1 120.3l3.7 0.2-3.8-3.9-3.7-0.2z"/><path fill="#ffbc00" stroke="#ffbc00" d="M171.8 185.8l4.3-4.7-3.9-3-4.3 4.8zM141.2 164.5l4.2-5-3.8-2.3-4.1 5.1zM192.0 194.1l4.2-4.4-4-3.4-4.2 4.4zM123.3 146.9l4.1-5.1-3.6-1.8-4.1 5.1zM104.0 118.0l3.9-4.9-3.4-1.2-3.9 5zM95.7 97.4l4-4.5-3.3-0.9-3.9 4.6zM269.2 156.2l3.8-0.8-3.9-4.3-3.8 0.8zM269.1 151.1l3.7-0.7-3.9-4.3-3.8 0.7zM268.9 146.1l3.7-0.5-3.9-4.2-3.7 0.5zM268.7 141.4l3.7-0.4-3.9-4.2-3.7 0.4zM260.2 112.7l3.6 0.3-3.8-3.8-3.6-0.3z"/><path fill="#ffb900" stroke="#ffb900" d="M167.9 182.9l4.3-4.8-3.9-3-4.3 4.9zM164.0 180.0l4.3-4.9-3.9-2.8-4.2 4.9zM148.7 169.3l4.2-5-3.8-2.5-4.2 5.1zM144.9 166.9l4.2-5.1-3.7-2.3-4.2 5zM126.9 148.8l4.1-5.1-3.6-1.9-4.1 5.1zM204.3 196.8l4.2-4-4-3.7-4.3 4.1zM116.7 136.6l4.1-5.1-3.6-1.6-4 5.1zM110.2 126.9l4.1-4.9-3.5-1.4-4 5zM229.2 197.0l4.2-3.3-4.1-4.1-4.2 3.4zM101.2 110.8l3.9-4.8-3.3-1.1-4 4.9zM98.4 103.9l4-4.6-3.4-1-3.9 4.7zM261.9 176.1l3.9-1.7-4-4.4-4 1.8zM265.7 168.5l3.9-1.3-4-4.4-3.9 1.4zM264.3 124.2l3.7 0.1-3.9-4-3.6 0z"/><path fill="#ffb600" stroke="#ffb600" d="M160.2 177.2l4.2-4.9-3.9-2.7-4.2 4.9zM156.3 174.5l4.2-4.9-3.8-2.7-4.2 5zM152.5 171.9l4.2-5-3.8-2.6-4.2 5zM188.0 190.7l4.2-4.4-4-3.3-4.2 4.4zM212.6 196.5l4.2-3.8-4.1-3.8-4.2 3.9zM220.9 196.6l4.2-3.6-4.1-3.9-4.2 3.6zM265.6 162.8l3.8-1.2-4-4.3-3.8 1.2zM264.5 128.4l3.7-0.1-3.9-4.1-3.7 0.2zM256.2 105.5l3.6 0.4-3.7-3.7-3.6-0.4zM252.3 98.6l3.6 0.5-3.7-3.6-3.6-0.4z"/><path fill="#99ff00" stroke="#99ff00" d="M75.0 136.0l3.9-5.8-3.2-0.8-3.9 5.9z"/><path fill="#ffc900" stroke="#ffc900" d="M200.0 201.1l4.3-4.3-4.1-3.6-4.2 4.4zM109.7 133.5l4-5.1-3.5-1.5-4 5.2zM220.7 204.3l4.3-3.8-4.1-3.9-4.2 3.7zM100.6 116.9l3.9-5-3.3-1.1-4 5zM92.5 96.6l3.9-4.6-3.3-0.7-3.9 4.6zM269.7 172.9l3.9-1.3-4-4.4-3.9 1.3zM268.2 128.3l3.6 0.1-3.8-4.1-3.7-0.1zM264.0 116.6l3.5 0.3-3.7-3.9-3.6-0.3z"/><path fill="#ffb300" stroke="#ffb300" d="M184.0 187.4l4.2-4.4-3.9-3.3-4.3 4.5zM130.6 150.8l4.1-5.1-3.7-2-4.1 5.1zM200.2 193.2l4.3-4.1-4-3.6-4.3 4.2zM120.3 138.2l4-5-3.5-1.7-4.1 5.1zM107.4 119.2l4-4.8-3.5-1.3-3.9 4.9zM233.4 193.7l4.1-3.2-4.1-4.1-4.1 3.2zM96.4 92.0l3.9-4.4-3.3-0.8-3.9 4.5zM257.9 178.0l4-1.9-4.1-4.3-4 1.9zM261.8 170.0l3.9-1.5-4-4.3-4 1.5zM260.3 116.4l3.7 0.2-3.8-3.9-3.7-0.1z"/><path fill="#ffac00" stroke="#ffac00" d="M180.0 184.2l4.3-4.5-4-3.1-4.2 4.5zM137.9 154.9l4.2-4.9-3.7-2.2-4.2 5zM196.2 189.7l4.3-4.2-4.1-3.4-4.2 4.2zM123.8 140.0l4.1-5-3.6-1.8-4 5zM208.5 192.8l4.2-3.9-4-3.7-4.2 3.9zM216.8 192.7l4.2-3.6-4-3.9-4.3 3.7zM225.1 193.0l4.2-3.4-4.1-4-4.2 3.5zM241.6 187.6l4.1-2.7-4-4.2-4.1 2.8zM245.7 184.9l4.1-2.5-4-4.2-4.1 2.5zM249.8 182.4l4.1-2.3-4.1-4.3-4 2.4zM261.7 164.2l3.9-1.4-4-4.3-3.9 1.4zM265.1 146.8l3.8-0.7-3.9-4.2-3.8 0.8zM265.0 141.9l3.7-0.5-3.9-4.2-3.7 0.6zM260.5 120.3l3.6 0-3.8-3.9-3.6 0.1zM256.4 108.9l3.6 0.3-3.8-3.7-3.6-0.2zM252.5 101.8l3.6 0.4-3.8-3.6-3.6-0.3z"/><path fill="#ffa900" stroke="#ffa900" d="M176.1 181.1l4.2-4.5-3.9-3.1-4.2 4.6zM141.6 157.2l4.2-5-3.7-2.2-4.2 4.9zM117.2 129.9l4.1-4.9-3.5-1.5-4.1 4.9zM110.8 120.6l4-4.9-3.4-1.3-4 4.8zM257.8 171.8l4-1.8-4.1-4.3-3.9 1.8zM248.6 95.1l3.6 0.4-3.7-3.4-3.6-0.4z"/><path fill="#ffa600" stroke="#ffa600" d="M172.2 178.1l4.2-4.6-3.9-3-4.2 4.6zM168.3 175.1l4.2-4.6-3.9-2.9-4.2 4.7zM145.4 159.5l4.1-4.9-3.7-2.4-4.2 5zM192.2 186.3l4.2-4.2-3.9-3.4-4.3 4.3zM127.4 141.8l4.1-4.9-3.6-1.9-4.1 5zM204.5 189.1l4.2-3.9-4-3.6-4.2 3.9zM107.9 113.1l4-4.7-3.4-1.2-4 4.7zM229.3 189.6l4.1-3.2-4-4-4.2 3.2zM99.7 92.9l3.9-4.4-3.3-0.9-3.9 4.4zM253.8 173.7l4-1.9-4-4.3-4 2zM261.6 158.5l3.8-1.2-4-4.3-3.8 1.3zM260.6 124.4l3.7-0.2-3.8-3.9-3.7 0.2zM256.5 112.6l3.7 0.1-3.8-3.8-3.7 0z"/><path fill="#ffa300" stroke="#ffa300" d="M164.4 172.3l4.2-4.7-3.9-2.8-4.2 4.8zM160.5 169.6l4.2-4.8-3.8-2.7-4.2 4.8zM156.7 166.9l4.2-4.8-3.8-2.6-4.2 4.8zM152.9 164.3l4.2-4.8-3.8-2.5-4.2 4.8zM149.1 161.8l4.2-4.8-3.8-2.4-4.1 4.9zM212.7 188.9l4.3-3.7-4.1-3.7-4.2 3.7zM221.0 189.1l4.2-3.5-4.1-3.8-4.1 3.4zM105.1 106.0l4-4.6-3.4-1.1-3.9 4.6zM233.4 186.4l4.2-2.9-4.1-4.1-4.1 3zM102.4 99.3l3.9-4.5-3.3-1-4 4.5zM257.7 165.7l4-1.5-4-4.3-4 1.6zM261.4 153.0l3.9-1.1-4-4.2-3.8 1.1zM260.8 128.7l3.7-0.3-3.9-4-3.7 0.3zM252.6 105.3l3.6 0.2-3.7-3.7-3.7-0.1z"/><path fill="#ffaf00" stroke="#ffaf00" d="M134.2 152.8l4.2-5-3.7-2.1-4.1 5.1zM113.7 128.4l4.1-4.9-3.5-1.5-4.1 4.9zM104.5 111.9l4-4.7-3.4-1.2-3.9 4.8zM101.8 104.9l3.9-4.6-3.3-1-4 4.6zM237.5 190.5l4.1-2.9-4-4.1-4.2 2.9zM99.0 98.3l4-4.5-3.3-0.9-4 4.5zM253.9 180.1l4-2.1-4.1-4.3-4 2.1zM265.4 157.3l3.8-1.1-3.9-4.3-3.9 1.1zM265.3 151.9l3.8-0.8-4-4.3-3.8 0.9zM264.8 137.2l3.7-0.4-3.8-4.1-3.8 0.4zM264.7 132.7l3.7-0.3-3.9-4-3.7 0.3z"/><path fill="#ff9f00" stroke="#ff9f00" d="M188.2 183.0l4.3-4.3-4-3.3-4.2 4.3zM131.0 143.7l4.1-4.9-3.6-1.9-4.1 4.9zM200.5 185.5l4.2-3.9-4-3.5-4.3 4zM120.8 131.5l4-4.8-3.5-1.7-4.1 4.9zM114.3 122.0l4-4.8-3.5-1.5-4 4.9zM237.6 183.5l4.1-2.8-4.1-4.1-4.1 2.8zM241.7 180.7l4.1-2.5-4.1-4.2-4.1 2.6zM245.8 178.2l4-2.4-4-4.1-4.1 2.3zM249.8 175.8l4-2.1-4-4.2-4 2.2zM261.3 147.7l3.8-0.9-3.9-4.1-3.8 0.9zM261.2 142.7l3.8-0.8-3.9-4.1-3.8 0.8zM261.1 137.8l3.7-0.6-3.9-4.1-3.7 0.7zM260.9 133.1l3.8-0.4-3.9-4-3.8 0.5zM256.7 116.5l3.6-0.1-3.8-3.8-3.7 0.1zM248.7 98.3l3.6 0.3-3.7-3.5-3.6-0.3zM244.9 91.7l3.6 0.4-3.7-3.4-3.6-0.4z"/><path fill="#ff9c00" stroke="#ff9c00" d="M184.3 179.7l4.2-4.3-4-3.2-4.2 4.4zM134.7 145.7l4.1-4.8-3.7-2.1-4.1 4.9zM208.7 185.2l4.2-3.7-4-3.7-4.2 3.8zM111.4 114.4l4-4.7-3.5-1.3-4 4.7zM225.2 185.6l4.2-3.2-4.1-3.9-4.2 3.3zM100.3 87.6l3.9-4.2-3.3-0.8-3.9 4.2zM253.8 167.5l3.9-1.8-4-4.2-3.9 1.8zM257.7 159.9l3.9-1.4-4-4.2-3.9 1.4z"/><path fill="#ff9900" stroke="#ff9900" d="M180.3 176.6l4.2-4.4-3.9-3.1-4.2 4.4zM138.4 147.8l4.1-4.8-3.7-2.1-4.1 4.8zM196.4 182.1l4.3-4-4-3.4-4.2 4zM124.3 133.2l4.1-4.8-3.6-1.7-4 4.8zM117.8 123.5l4-4.8-3.5-1.5-4 4.8zM217.0 185.2l4.1-3.4-4-3.8-4.2 3.5zM108.5 107.2l4-4.6-3.4-1.2-4 4.6zM229.4 182.4l4.1-3-4.1-3.9-4.1 3zM105.7 100.3l4-4.4-3.4-1.1-3.9 4.5zM103.0 93.8l3.9-4.3-3.3-1-3.9 4.4zM256.8 120.5l3.7-0.2-3.8-3.8-3.7 0.2zM252.7 108.9l3.7 0-3.8-3.6-3.7-0.1z"/><path fill="#ff9600" stroke="#ff9600" d="M176.4 173.5l4.2-4.4-3.9-3-4.2 4.4zM142.1 150.0l4.1-4.8-3.7-2.2-4.1 4.8zM249.8 169.5l4-2-4-4.2-4.1 2zM253.7 161.5l4-1.6-4-4.2-4 1.7zM257.6 154.3l3.8-1.3-3.9-4.2-3.9 1.3zM256.9 124.7l3.7-0.3-3.8-3.9-3.7 0.4zM248.8 101.7l3.7 0.1-3.8-3.5-3.6-0.1zM245.0 94.8l3.6 0.3-3.7-3.4-3.6-0.3zM241.2 88.3l3.6 0.4-3.7-3.3-3.6-0.3z"/><path fill="#ff9300" stroke="#ff9300" d="M172.5 170.5l4.2-4.4-3.9-2.9-4.2 4.4zM145.8 152.2l4.1-4.7-3.7-2.3-4.1 4.8zM192.5 178.7l4.2-4-4-3.4-4.2 4.1zM127.9 135.0l4.1-4.8-3.6-1.8-4.1 4.8zM204.7 181.6l4.2-3.8-4-3.5-4.2 3.8zM212.9 181.5l4.2-3.5-4-3.7-4.2 3.5zM114.8 115.7l4-4.6-3.4-1.4-4 4.7zM221.1 181.8l4.2-3.3-4-3.8-4.2 3.3zM233.5 179.4l4.1-2.8-4-4-4.2 2.9zM237.6 176.6l4.1-2.6-4-4-4.1 2.6zM103.6 88.5l3.9-4.2-3.3-0.9-3.9 4.2zM241.7 174.0l4.1-2.3-4.1-4.1-4 2.4zM245.8 171.7l4-2.2-4.1-4.2-4 2.3zM257.5 148.8l3.8-1.1-3.9-4.1-3.9 1.2zM257.4 143.6l3.8-0.9-3.9-4.1-3.9 1zM257.0 129.2l3.8-0.5-3.9-4-3.7 0.6zM252.8 112.7l3.7-0.1-3.8-3.7-3.7 0.1z"/><path fill="#ff8f00" stroke="#ff8f00" d="M168.6 167.6l4.2-4.4-3.9-2.9-4.2 4.5zM164.7 164.8l4.2-4.5-3.8-2.7-4.2 4.5zM160.9 162.1l4.2-4.5-3.8-2.7-4.2 4.6zM157.1 159.5l4.2-4.6-3.8-2.5-4.2 4.6zM153.3 157.0l4.2-4.6-3.8-2.5-4.2 4.7zM149.5 154.6l4.2-4.7-3.8-2.4-4.1 4.7zM131.5 136.9l4.1-4.8-3.6-1.9-4.1 4.8zM121.3 125.0l4-4.7-3.5-1.6-4 4.8zM111.9 108.4l4-4.5-3.4-1.3-4 4.6zM106.3 94.8l3.9-4.3-3.3-1-3.9 4.3zM249.8 163.3l3.9-1.8-4-4.1-4 1.8zM253.7 155.7l3.9-1.4-4-4.2-3.9 1.5zM257.3 138.6l3.8-0.8-3.9-4-3.8 0.8zM257.2 133.8l3.7-0.7-3.9-3.9-3.7 0.6z"/><path fill="#ff8c00" stroke="#ff8c00" d="M188.5 175.4l4.2-4.1-3.9-3.2-4.3 4.1zM200.7 178.1l4.2-3.8-4-3.5-4.2 3.9zM225.3 178.5l4.1-3-4-3.9-4.1 3.1zM109.1 101.4l3.9-4.4-3.3-1.1-4 4.4zM253.0 116.7l3.7-0.2-3.9-3.8-3.7 0.3zM248.9 105.2l3.7 0.1-3.8-3.6-3.6 0zM237.5 85.1l3.6 0.3-3.7-3.2-3.6-0.3z"/><path fill="#ff8900" stroke="#ff8900" d="M184.5 172.2l4.3-4.1-4-3.2-4.2 4.2zM135.1 138.8l4.2-4.7-3.7-2-4.1 4.8zM124.8 126.7l4.1-4.7-3.6-1.7-4 4.7zM208.9 177.8l4.2-3.5-4-3.6-4.2 3.6zM118.3 117.2l4-4.6-3.5-1.5-4 4.6zM217.1 178.0l4.2-3.3-4.1-3.8-4.1 3.4zM229.4 175.5l4.2-2.9-4.1-3.9-4.1 2.9zM104.2 83.4l3.9-4-3.3-0.9-3.9 4.1zM245.7 165.3l4.1-2-4.1-4.1-4 2.1zM253.6 150.1l3.9-1.3-4-4-3.9 1.3zM253.1 120.9l3.7-0.4-3.8-3.8-3.8 0.4zM245.1 98.2l3.6 0.1-3.7-3.5-3.7-0.1zM241.3 91.4l3.6 0.3-3.7-3.4-3.7-0.2z"/><path fill="#ff8600" stroke="#ff8600" d="M180.6 169.1l4.2-4.2-3.9-3-4.2 4.2zM138.8 140.9l4.1-4.7-3.6-2.1-4.2 4.7zM196.7 174.7l4.2-3.9-4-3.4-4.2 3.9zM115.4 109.7l4-4.5-3.5-1.3-4 4.5zM233.6 172.6l4.1-2.6-4.1-4-4.1 2.7zM106.9 89.5l3.9-4.2-3.3-1-3.9 4.2zM237.7 170.0l4-2.4-4-4-4.1 2.4zM241.7 167.6l4-2.3-4-4-4 2.3zM249.7 157.4l4-1.7-4-4.1-4 1.7zM253.5 144.8l3.9-1.2-4-4-3.8 1.2zM253.2 125.3l3.7-0.6-3.8-3.8-3.8 0.5zM249.0 109.0l3.7-0.1-3.8-3.7-3.7 0.2z"/><path fill="#ff8300" stroke="#ff8300" d="M176.7 166.1l4.2-4.2-3.9-3-4.2 4.3zM142.5 143.0l4.1-4.6-3.7-2.2-4.1 4.7zM128.4 128.4l4.1-4.6-3.6-1.8-4.1 4.7zM204.9 174.3l4.2-3.6-4-3.5-4.2 3.6zM121.8 118.7l4-4.5-3.5-1.6-4 4.6zM221.3 174.7l4.1-3.1-4-3.8-4.2 3.1zM112.5 102.6l4-4.4-3.5-1.2-3.9 4.4zM109.7 95.9l3.9-4.3-3.4-1.1-3.9 4.3zM245.7 159.2l4-1.8-4-4.1-4 1.9zM253.4 139.6l3.9-1-3.9-4-3.9 1zM253.4 134.6l3.8-0.8-3.9-4-3.9 0.9zM253.3 129.8l3.7-0.6-3.8-3.9-3.8 0.7zM245.2 101.7l3.6 0-3.7-3.5-3.7 0zM233.8 81.9l3.6 0.3-3.6-3.2-3.6-0.2z"/><path fill="#ff8000" stroke="#ff8000" d="M172.8 163.2l4.2-4.3-3.9-2.9-4.2 4.3zM146.2 145.2l4.1-4.6-3.7-2.2-4.1 4.6zM192.7 171.3l4.2-3.9-4-3.2-4.1 3.9zM132.0 130.2l4.1-4.5-3.6-1.9-4.1 4.6zM213.1 174.3l4.1-3.4-4-3.6-4.1 3.4zM225.4 171.6l4.1-2.9-4-3.8-4.1 2.9zM107.5 84.3l3.9-4-3.3-0.9-3.9 4zM249.7 151.6l3.9-1.5-4-4-3.9 1.5zM249.1 113.0l3.7-0.3-3.8-3.7-3.7 0.3zM241.3 94.7l3.7 0.1-3.7-3.4-3.7 0zM237.5 88.1l3.7 0.2-3.7-3.2-3.7-0.2z"/><path fill="#ff7c00" stroke="#ff7c00" d="M168.9 160.3l4.2-4.3-3.8-2.8-4.2 4.4zM165.1 157.6l4.2-4.4-3.9-2.7-4.1 4.4zM161.3 154.9l4.1-4.4-3.8-2.6-4.1 4.5zM157.5 152.4l4.1-4.5-3.8-2.5-4.1 4.5zM153.7 149.9l4.1-4.5-3.7-2.4-4.2 4.5zM149.9 147.5l4.2-4.5-3.8-2.4-4.1 4.6zM188.8 168.1l4.1-3.9-3.9-3.2-4.2 3.9zM125.3 120.3l4.1-4.5-3.6-1.6-4 4.5zM118.8 111.1l4-4.4-3.4-1.5-4 4.5zM229.5 168.7l4.1-2.7-4-3.8-4.1 2.7zM110.2 90.5l4-4.1-3.4-1.1-3.9 4.2zM237.7 163.6l4-2.3-4-4-4 2.4zM241.7 161.3l4-2.1-4-4-4 2.1zM249.6 146.1l3.9-1.3-3.9-4-3.9 1.3zM249.2 117.1l3.8-0.4-3.9-3.7-3.7 0.4zM245.2 105.4l3.7-0.2-3.7-3.5-3.8 0.2zM230.2 78.8l3.6 0.2-3.7-3-3.6-0.2z"/><path fill="#ff7600" stroke="#ff7600" d="M184.8 164.9l4.2-3.9-3.9-3.1-4.2 4zM139.3 134.1l4.1-4.5-3.7-2-4.1 4.5zM196.9 167.4l4.2-3.6-4-3.4-4.2 3.8zM128.9 122.0l4-4.4-3.5-1.8-4.1 4.5zM122.3 112.6l4-4.4-3.5-1.5-4 4.4zM221.4 167.8l4.1-2.9-4-3.7-4.1 2.9zM241.7 155.2l4-1.9-4-3.9-4 1.9zM245.7 147.6l3.9-1.5-3.9-4-4 1.6zM249.5 135.6l3.9-1-4-3.9-3.8 1.1zM249.4 130.7l3.9-0.9-3.9-3.8-3.9 0.9zM249.4 126.0l3.8-0.7-3.9-3.9-3.8 0.8zM245.3 109.3l3.7-0.3-3.8-3.6-3.7 0.4zM241.4 98.2l3.7 0-3.8-3.5-3.7 0.2zM237.6 91.4l3.7 0-3.8-3.3-3.6 0.1z"/><path fill="#ff7300" stroke="#ff7300" d="M180.9 161.9l4.2-4-3.9-3.1-4.2 4.1zM142.9 136.2l4.1-4.4-3.6-2.2-4.1 4.5zM205.1 167.2l4.1-3.5-3.9-3.4-4.2 3.5zM213.2 167.3l4.2-3.2-4-3.6-4.2 3.2zM119.4 105.2l4-4.2-3.5-1.4-4 4.3zM225.5 164.9l4.1-2.7-4-3.8-4.1 2.8zM110.8 85.3l3.9-3.9-3.3-1.1-3.9 4zM237.7 157.3l4-2.1-4-3.9-4 2.2zM226.5 75.8l3.6 0.2-3.6-3-3.6-0.1z"/><path fill="#ff7000" stroke="#ff7000" d="M177.0 158.9l4.2-4.1-3.9-2.9-4.2 4.1zM146.6 138.4l4.1-4.4-3.7-2.2-4.1 4.4zM192.9 164.2l4.2-3.8-3.9-3.2-4.2 3.8zM132.5 123.8l4-4.4-3.6-1.8-4 4.4zM125.8 114.2l4.1-4.4-3.6-1.6-4 4.4zM116.5 98.2l3.9-4.1-3.4-1.3-4 4.2zM113.6 91.6l4-4-3.4-1.2-4 4.1zM229.6 162.2l4.1-2.5-4-3.9-4.1 2.6zM233.7 159.7l4-2.4-4-3.8-4 2.3zM241.7 149.4l4-1.8-4-3.9-3.9 1.8zM245.7 142.1l3.9-1.3-4-3.9-3.9 1.4zM245.4 113.4l3.7-0.4-3.8-3.7-3.8 0.5zM241.4 101.9l3.8-0.2-3.8-3.5-3.7 0.3zM230.2 81.8l3.6 0.1-3.6-3.1-3.7 0z"/><path fill="#ff6c00" stroke="#ff6c00" d="M173.1 156.0l4.2-4.1-3.9-2.8-4.1 4.1zM169.3 153.2l4.1-4.1-3.8-2.8-4.2 4.2zM154.1 143.0l4.1-4.3-3.7-2.4-4.2 4.3zM150.3 140.6l4.2-4.3-3.8-2.3-4.1 4.4zM136.1 125.7l4.1-4.4-3.7-1.9-4 4.4zM217.4 164.1l4.1-2.9-4-3.7-4.1 3zM111.4 80.3l3.9-3.8-3.3-1-3.9 3.9zM245.6 136.9l3.9-1.3-3.9-3.8-3.9 1.2zM245.5 122.2l3.8-0.8-3.9-3.7-3.8 0.8zM245.4 117.7l3.8-0.6-3.8-3.7-3.8 0.7zM237.6 94.9l3.7-0.2-3.7-3.3-3.7 0.2zM233.9 88.2l3.6-0.1-3.7-3.2-3.6 0.1zM222.9 72.9l3.6 0.1-3.6-2.9-3.7 0z"/><path fill="#ff6900" stroke="#ff6900" d="M165.4 150.5l4.2-4.2-3.8-2.6-4.2 4.2zM161.6 147.9l4.2-4.2-3.8-2.6-4.2 4.3zM157.8 145.4l4.2-4.3-3.8-2.4-4.1 4.3zM189.0 161.0l4.2-3.8-3.9-3.2-4.2 3.9zM201.1 163.8l4.2-3.5-4-3.4-4.2 3.5zM129.4 115.8l4-4.3-3.5-1.7-4.1 4.4zM209.2 163.7l4.2-3.2-4-3.5-4.1 3.3zM122.8 106.7l4-4.3-3.4-1.4-4 4.2zM221.5 161.2l4.1-2.8-4-3.7-4.1 2.8zM114.2 86.4l3.9-3.9-3.4-1.1-3.9 3.9zM112.0 75.5l3.9-3.6-3.3-1-3.9 3.7zM237.7 151.3l4-1.9-3.9-3.9-4 2zM241.7 143.7l4-1.6-4-3.8-3.9 1.6zM245.6 131.8l3.8-1.1-3.9-3.8-3.8 1.1zM245.5 126.9l3.9-0.9-3.9-3.8-3.8 1zM241.5 105.8l3.7-0.4-3.8-3.5-3.7 0.4zM226.5 78.8l3.7 0-3.7-3-3.7 0z"/><path fill="#ff7900" stroke="#ff7900" d="M135.6 132.1l4.1-4.5-3.6-1.9-4.1 4.5zM200.9 170.8l4.2-3.6-4-3.4-4.2 3.6zM209.1 170.7l4.1-3.4-4-3.6-4.1 3.5zM217.2 170.9l4.2-3.1-4-3.7-4.2 3.2zM115.9 103.9l4-4.3-3.4-1.4-4 4.4zM113.0 97.0l4-4.2-3.4-1.2-3.9 4.3zM233.6 166.0l4.1-2.4-4-3.9-4.1 2.5zM108.1 79.4l3.9-3.9-3.3-0.9-3.9 3.9zM245.7 153.3l4-1.7-4-4-4 1.8zM249.6 140.8l3.8-1.2-3.9-4-3.9 1.3zM249.3 121.4l3.8-0.5-3.9-3.8-3.8 0.6zM233.8 84.9l3.7 0.2-3.7-3.2-3.6-0.1z"/><path fill="#ff6600" stroke="#ff6600" d="M185.1 157.9l4.2-3.9-3.9-3-4.2 3.8zM139.7 127.6l4.1-4.3-3.6-2-4.1 4.4zM197.1 160.4l4.2-3.5-3.9-3.3-4.2 3.6zM119.9 99.6l4-4.2-3.5-1.3-3.9 4.1zM117.0 92.8l4-4-3.4-1.2-4 4zM225.6 158.4l4.1-2.6-4-3.7-4.1 2.6zM229.7 155.8l4-2.3-4-3.8-4 2.4zM233.7 153.5l4-2.2-3.9-3.8-4.1 2.2zM241.5 109.8l3.8-0.5-3.8-3.5-3.8 0.5zM237.7 98.5l3.7-0.3-3.8-3.3-3.7 0.3zM233.9 91.6l3.7-0.2-3.7-3.2-3.7 0.2zM230.2 85.0l3.6-0.1-3.6-3.1-3.7 0.1zM219.2 70.1l3.7 0-3.6-2.8-3.7 0z"/><path fill="#ff6300" stroke="#ff6300" d="M181.2 154.8l4.2-3.8-3.9-3-4.2 3.9zM143.4 129.6l4.1-4.2-3.7-2.1-4.1 4.3zM132.9 117.6l4.1-4.3-3.6-1.8-4 4.3zM205.3 160.3l4.1-3.3-4-3.4-4.1 3.3zM126.3 108.2l4.1-4.2-3.6-1.6-4 4.3zM213.4 160.5l4.1-3-4-3.5-4.1 3zM114.7 81.4l4-3.8-3.4-1.1-3.9 3.8zM237.8 145.5l3.9-1.8-3.9-3.8-4 1.8zM241.7 138.3l3.9-1.4-3.9-3.9-3.9 1.5zM241.6 114.1l3.8-0.7-3.9-3.6-3.7 0.7zM215.6 67.3l3.7 0-3.6-2.7-3.7 0z"/><path fill="#ff6000" stroke="#ff6000" d="M177.3 151.9l4.2-3.9-3.9-2.9-4.2 4zM147.0 131.8l4.2-4.3-3.7-2.1-4.1 4.2zM193.2 157.2l4.2-3.6-4-3.2-4.1 3.6zM123.4 101.0l4-4.1-3.5-1.5-4 4.2zM217.5 157.5l4.1-2.8-4-3.6-4.1 2.9zM120.4 94.1l4-4-3.4-1.3-4 4zM117.6 87.6l3.9-3.9-3.4-1.2-3.9 3.9zM115.3 76.5l3.9-3.5-3.3-1.1-3.9 3.6zM233.8 147.5l4-2-4-3.8-4 2.1zM241.7 133.0l3.9-1.2-3.9-3.8-3.9 1.3zM241.7 128.0l3.8-1.1-3.8-3.7-3.9 1.1zM241.7 123.2l3.8-1-3.9-3.7-3.8 1zM241.6 118.5l3.8-0.8-3.8-3.6-3.8 0.8zM237.7 102.3l3.7-0.4-3.7-3.4-3.8 0.4zM222.8 75.8l3.7 0-3.6-2.9-3.7 0z"/><path fill="#ff5c00" stroke="#ff5c00" d="M173.4 149.1l4.2-4-3.8-2.7-4.2 3.9zM169.6 146.3l4.2-3.9-3.9-2.7-4.1 4zM154.5 136.3l4.1-4.2-3.7-2.3-4.2 4.2zM150.7 134.0l4.2-4.2-3.7-2.3-4.2 4.3zM136.5 119.4l4.1-4.2-3.6-1.9-4.1 4.3zM201.3 156.9l4.1-3.3-3.9-3.3-4.1 3.3zM129.9 109.8l4-4.1-3.5-1.7-4.1 4.2zM209.4 157.0l4.1-3-3.9-3.5-4.2 3.1zM221.6 154.7l4.1-2.6-4-3.6-4.1 2.6zM225.7 152.1l4-2.4-3.9-3.7-4.1 2.5zM229.7 149.7l4.1-2.2-4-3.7-4 2.2zM115.9 71.9l3.9-3.4-3.3-1-3.9 3.4zM237.8 139.9l3.9-1.6-3.9-3.8-4 1.7zM237.7 106.3l3.8-0.5-3.8-3.5-3.8 0.6zM233.9 95.2l3.7-0.3-3.7-3.3-3.7 0.3zM230.2 88.4l3.7-0.2-3.7-3.2-3.8 0.2zM226.5 81.9l3.7-0.1-3.7-3-3.7 0.1zM212.0 64.6l3.7 0-3.6-2.6-3.7 0.1z"/><path fill="#ff5900" stroke="#ff5900" d="M165.8 143.7l4.1-4-3.8-2.6-4.1 4zM162.0 141.1l4.1-4-3.7-2.6-4.2 4.2zM158.2 138.7l4.2-4.2-3.8-2.4-4.1 4.2zM189.3 154.0l4.1-3.6-3.9-3.1-4.1 3.7zM140.2 121.3l4-4.2-3.6-1.9-4.1 4.2zM126.8 102.4l4.1-4-3.5-1.5-4 4.1zM118.1 82.5l4-3.7-3.4-1.2-4 3.8zM233.8 141.7l4-1.8-4-3.7-3.9 1.9zM237.8 134.5l3.9-1.5-3.9-3.7-3.9 1.5zM219.2 72.9l3.7 0-3.7-2.8-3.7 0.1zM208.4 62.1l3.7-0.1-3.6-2.5-3.7 0.1z"/><path fill="#ff5600" stroke="#ff5600" d="M185.4 151.0l4.1-3.7-3.9-3-4.1 3.7zM143.8 123.3l4.1-4.2-3.7-2-4 4.2zM197.4 153.6l4.1-3.3-3.9-3.3-4.2 3.4zM133.4 111.5l4.1-4.1-3.6-1.7-4 4.1zM205.4 153.6l4.2-3.1-4-3.4-4.1 3.2zM213.5 154.0l4.1-2.9-3.9-3.5-4.1 2.9zM123.9 95.4l4-3.9-3.5-1.4-4 4zM121.0 88.8l3.9-3.8-3.4-1.3-3.9 3.9zM118.7 77.6l3.9-3.5-3.4-1.1-3.9 3.5zM237.8 129.3l3.9-1.3-3.9-3.7-3.9 1.4zM237.8 114.9l3.8-0.8-3.8-3.6-3.9 0.9zM237.8 110.5l3.7-0.7-3.8-3.5-3.8 0.8zM233.9 98.9l3.8-0.4-3.8-3.3-3.8 0.4zM222.8 78.9l3.7-0.1-3.7-3-3.7 0.2zM215.5 70.2l3.7-0.1-3.6-2.8-3.7 0.2zM204.8 59.6l3.7-0.1-3.5-2.5-3.7 0.2z"/><path fill="#ff5300" stroke="#ff5300" d="M181.5 148.0l4.1-3.7-3.8-2.9-4.2 3.7zM147.5 125.4l4.1-4.1-3.7-2.2-4.1 4.2zM130.4 104.0l4-4-3.5-1.6-4.1 4zM217.6 151.1l4.1-2.6-3.9-3.6-4.1 2.7zM221.7 148.5l4.1-2.5-4-3.6-4 2.5zM225.8 146.0l4-2.2-3.9-3.7-4.1 2.3zM229.8 143.8l4-2.1-3.9-3.6-4 2zM119.2 73.0l4-3.4-3.4-1.1-3.9 3.4zM233.8 136.2l4-1.7-3.9-3.7-4 1.8zM237.8 124.3l3.9-1.1-3.9-3.7-3.9 1.2zM237.8 119.5l3.8-1-3.8-3.6-3.9 1.1zM233.9 102.9l3.8-0.6-3.8-3.4-3.8 0.7zM230.2 91.9l3.7-0.3-3.7-3.2-3.8 0.3zM226.4 85.2l3.8-0.2-3.7-3.1-3.8 0.3zM201.3 57.2l3.7-0.2-3.6-2.4-3.6 0.2zM173.4 40.8l3.8-0.5-3.4-1.7-3.7 0.6z"/><path fill="#ff5000" stroke="#ff5000" d="M177.6 145.1l4.2-3.7-3.9-2.8-4.1 3.8zM173.8 142.4l4.1-3.8-3.8-2.8-4.2 3.9zM151.2 127.5l4.1-4-3.7-2.2-4.1 4.1zM193.4 150.4l4.2-3.4-3.9-3.1-4.2 3.4zM137.0 113.3l4.1-4.1-3.6-1.8-4.1 4.1zM201.5 150.3l4.1-3.2-3.9-3.3-4.1 3.2zM209.6 150.5l4.1-2.9-4-3.4-4.1 2.9zM127.4 96.9l4-3.9-3.5-1.5-4 3.9zM124.4 90.1l4-3.8-3.5-1.3-3.9 3.8zM121.5 83.7l4-3.7-3.4-1.2-4 3.7zM119.8 68.5l3.9-3.3-3.3-1-3.9 3.3zM233.9 130.8l3.9-1.5-3.9-3.6-3.9 1.5zM219.1 76.0l3.7-0.2-3.6-2.9-3.7 0.3zM211.9 67.5l3.7-0.2-3.6-2.7-3.7 0.2zM197.8 54.8l3.6-0.2-3.5-2.3-3.7 0.3zM194.2 52.6l3.7-0.3-3.5-2.2-3.7 0.3zM180.3 44.4l3.7-0.4-3.4-1.9-3.7 0.5zM176.9 42.6l3.7-0.5-3.4-1.8-3.8 0.5z"/><path fill="#ff4c00" stroke="#ff4c00" d="M169.9 139.7l4.2-3.9-3.8-2.6-4.2 3.9zM166.1 137.1l4.2-3.9-3.8-2.6-4.1 3.9zM162.4 134.5l4.1-3.9-3.8-2.4-4.1 3.9zM158.6 132.1l4.1-3.9-3.7-2.4-4.1 4zM154.9 129.8l4.1-4-3.7-2.3-4.1 4zM189.5 147.3l4.2-3.4-3.9-3.1-4.2 3.5zM140.6 115.2l4.1-4.1-3.6-1.9-4.1 4.1zM133.9 105.7l4-4-3.5-1.7-4 4zM213.7 147.6l4.1-2.7-4-3.5-4.1 2.8zM122.1 78.8l3.9-3.5-3.4-1.2-3.9 3.5zM229.9 138.1l3.9-1.9-3.9-3.6-4 1.9zM233.9 125.7l3.9-1.4-3.9-3.6-3.9 1.4zM233.9 111.4l3.9-0.9-3.9-3.4-3.8 0.9zM233.9 107.1l3.8-0.8-3.8-3.4-3.8 0.8zM230.1 95.6l3.8-0.4-3.7-3.3-3.8 0.5zM226.4 88.7l3.8-0.3-3.8-3.2-3.7 0.5zM222.7 82.2l3.8-0.3-3.7-3-3.8 0.3zM208.3 64.8l3.7-0.2-3.6-2.5-3.7 0.2zM190.7 50.4l3.7-0.3-3.5-2.1-3.7 0.3zM187.2 48.3l3.7-0.3-3.4-2-3.7 0.3zM183.8 46.3l3.7-0.3-3.5-2-3.7 0.4z"/><path fill="#ff4900" stroke="#ff4900" d="M185.6 144.3l4.2-3.5-3.9-2.9-4.1 3.5zM144.2 117.1l4.1-4-3.6-2-4.1 4.1zM197.6 147.0l4.1-3.2-3.9-3.1-4.1 3.2zM205.6 147.1l4.1-2.9-3.9-3.3-4.1 2.9zM130.9 98.4l4-3.8-3.5-1.6-4 3.9zM217.8 144.9l4-2.5-3.9-3.5-4.1 2.5zM124.9 85.0l4-3.6-3.4-1.4-4 3.7zM221.8 142.4l4.1-2.3-4-3.5-4 2.3zM225.9 140.1l4-2-4-3.6-4 2.1zM122.6 74.1l3.9-3.4-3.3-1.1-4 3.4zM229.9 132.6l4-1.8-3.9-3.6-4 1.8zM233.9 120.7l3.9-1.2-3.9-3.5-3.9 1.2zM233.9 116.0l3.9-1.1-3.9-3.5-3.8 1.1zM230.1 99.6l3.8-0.7-3.8-3.3-3.7 0.7zM215.5 73.2l3.7-0.3-3.7-2.7-3.7 0.2zM204.7 62.3l3.7-0.2-3.6-2.5-3.7 0.3z"/><path fill="#ff4600" stroke="#ff4600" d="M181.8 141.4l4.1-3.5-3.9-2.9-4.1 3.6zM147.9 119.1l4.1-3.9-3.7-2.1-4.1 4zM137.5 107.4l4-3.9-3.6-1.8-4 4zM127.9 91.5l4-3.7-3.5-1.5-4 3.8zM123.2 69.6l3.9-3.2-3.4-1.2-3.9 3.3zM230.0 127.2l3.9-1.5-3.9-3.6-3.9 1.6zM226.4 92.4l3.8-0.5-3.8-3.2-3.8 0.6zM222.7 85.7l3.7-0.5-3.7-3-3.7 0.5zM219.0 79.2l3.8-0.3-3.7-2.9-3.7 0.4zM211.8 70.4l3.7-0.2-3.6-2.7-3.7 0.3zM201.1 59.9l3.7-0.3-3.5-2.4-3.7 0.3zM173.1 43.3l3.8-0.7-3.5-1.8-3.7 0.8zM169.7 41.6l3.7-0.8-3.3-1.6-3.8 0.7z"/><path fill="#ff4300" stroke="#ff4300" d="M177.9 138.6l4.1-3.6-3.8-2.8-4.1 3.6zM151.6 121.3l4-3.9-3.6-2.2-4.1 3.9zM193.7 143.9l4.1-3.2-3.9-3.1-4.1 3.2zM201.7 143.8l4.1-2.9-3.9-3.3-4.1 3.1zM134.4 100.0l4-3.8-3.5-1.6-4 3.8zM209.7 144.2l4.1-2.8-3.9-3.3-4.1 2.8zM213.8 141.4l4.1-2.5-3.9-3.4-4.1 2.6zM125.5 80.0l3.9-3.4-3.4-1.3-3.9 3.5zM221.9 136.6l4-2.1-3.9-3.5-4 2.1zM225.9 134.5l4-1.9-3.9-3.6-4 2zM123.7 65.2l3.9-3-3.4-1.1-3.8 3.1zM230.0 122.1l3.9-1.4-3.9-3.5-3.9 1.5zM230.1 108.0l3.8-0.9-3.8-3.4-3.8 1zM230.1 103.7l3.8-0.8-3.8-3.3-3.8 0.8zM197.6 57.5l3.7-0.3-3.5-2.4-3.8 0.4zM176.6 45.0l3.7-0.6-3.4-1.8-3.8 0.7z"/><path fill="#ff4000" stroke="#ff4000" d="M174.1 135.8l4.1-3.6-3.8-2.7-4.1 3.7zM170.3 133.2l4.1-3.7-3.8-2.6-4.1 3.7zM166.5 130.6l4.1-3.7-3.8-2.5-4.1 3.8zM162.7 128.2l4.1-3.8-3.7-2.4-4.1 3.8zM159.0 125.8l4.1-3.8-3.7-2.4-4.1 3.9zM155.3 123.5l4.1-3.9-3.8-2.2-4 3.9zM189.8 140.8l4.1-3.2-3.9-3.1-4.1 3.4zM141.1 109.2l4-3.8-3.6-1.9-4 3.9zM131.4 93.0l3.9-3.7-3.4-1.5-4 3.7zM128.4 86.3l4-3.5-3.5-1.4-4 3.6zM217.9 138.9l4-2.3-3.9-3.5-4 2.4zM126.0 75.3l3.9-3.3-3.4-1.3-3.9 3.4zM226.0 129.0l4-1.8-3.9-3.5-4 1.8zM230.0 117.2l3.9-1.2-3.8-3.5-3.9 1.3zM230.1 112.5l3.8-1.1-3.8-3.4-3.9 1.1zM226.4 96.3l3.7-0.7-3.7-3.2-3.8 0.8zM215.4 76.4l3.7-0.4-3.6-2.8-3.8 0.4zM208.2 67.8l3.7-0.3-3.6-2.7-3.7 0.4zM166.0 42.5l3.7-0.9-3.4-1.7-3.7 1zM194.0 55.2l3.8-0.4-3.6-2.2-3.7 0.4zM190.5 53.0l3.7-0.4-3.5-2.2-3.7 0.5zM187.0 50.9l3.7-0.5-3.5-2.1-3.7 0.6zM183.5 48.9l3.7-0.6-3.4-2-3.8 0.6zM180.0 46.9l3.8-0.6-3.5-1.9-3.7 0.6z"/><path fill="#ff3d00" stroke="#ff3d00" d="M185.9 137.9l4.1-3.4-3.8-2.9-4.2 3.4zM144.7 111.1l4-3.8-3.6-1.9-4 3.8zM197.8 140.7l4.1-3.1-3.9-3.1-4.1 3.1zM137.9 101.7l4.1-3.7-3.6-1.8-4 3.8zM205.8 140.9l4.1-2.8-3.9-3.3-4.1 2.8zM128.9 81.4l4-3.5-3.5-1.3-3.9 3.4zM222.0 131.0l4-2-3.9-3.5-4 2zM126.5 70.7l3.9-3.1-3.3-1.2-3.9 3.2zM127.1 66.4l3.9-3-3.4-1.2-3.9 3zM226.1 123.7l3.9-1.6-3.9-3.4-3.9 1.6zM127.6 62.2l3.9-2.9-3.4-1.1-3.9 2.9zM226.3 100.4l3.8-0.8-3.7-3.3-3.9 0.9zM222.6 89.3l3.8-0.6-3.7-3-3.8 0.6zM219.0 82.7l3.7-0.5-3.7-3-3.7 0.6zM211.7 73.6l3.8-0.4-3.7-2.8-3.7 0.5zM204.6 65.2l3.7-0.4-3.6-2.5-3.7 0.4z"/><path fill="#ff3900" stroke="#ff3900" d="M182.0 135.0l4.2-3.4-3.9-2.8-4.1 3.4zM148.3 113.1l4.1-3.8-3.7-2-4 3.8zM134.9 94.6l4-3.7-3.6-1.6-3.9 3.7zM209.9 138.1l4.1-2.6-4-3.3-4 2.6zM131.9 87.8l3.9-3.5-3.4-1.5-4 3.5zM214.0 135.5l4-2.4-3.9-3.3-4.1 2.4zM218.0 133.1l4-2.1-3.9-3.5-4 2.3zM226.1 118.7l3.9-1.5-3.8-3.4-3.9 1.5zM226.2 109.1l3.9-1.1-3.8-3.3-3.9 1.2zM226.3 104.7l3.8-1-3.8-3.3-3.8 1zM222.6 93.2l3.8-0.8-3.8-3.1-3.8 0.8zM215.3 79.8l3.7-0.6-3.6-2.8-3.8 0.6zM201.0 62.7l3.7-0.4-3.6-2.4-3.7 0.4zM172.8 45.9l3.8-0.9-3.5-1.7-3.7 0.8zM169.4 44.1l3.7-0.8-3.4-1.7-3.7 0.9z"/><path fill="#ff3600" stroke="#ff3600" d="M178.2 132.2l4.1-3.4-3.8-2.7-4.1 3.4zM155.6 117.4l4.1-3.7-3.7-2.2-4 3.7zM152.0 115.2l4-3.7-3.6-2.2-4.1 3.8zM193.9 137.6l4.1-3.1-3.9-3.1-4.1 3.1zM141.5 103.5l4-3.7-3.5-1.8-4.1 3.7zM201.9 137.6l4.1-2.8-3.9-3.2-4.1 2.9zM129.4 76.6l4-3.3-3.5-1.3-3.9 3.3zM222.1 125.5l4-1.8-3.9-3.4-4 1.9zM226.2 113.8l3.9-1.3-3.9-3.4-3.9 1.4zM218.9 86.3l3.8-0.6-3.7-3-3.8 0.7zM208.1 70.9l3.7-0.5-3.6-2.6-3.8 0.5zM162.2 43.6l3.8-1.1-3.4-1.6-3.8 1.1zM197.4 60.3l3.7-0.4-3.5-2.4-3.8 0.5zM193.8 58.0l3.8-0.5-3.6-2.3-3.7 0.6zM176.3 47.7l3.7-0.8-3.4-1.9-3.8 0.9z"/><path fill="#ff3300" stroke="#ff3300" d="M174.4 129.5l4.1-3.4-3.8-2.7-4.1 3.5zM170.6 126.9l4.1-3.5-3.8-2.6-4.1 3.6zM166.8 124.4l4.1-3.6-3.7-2.4-4.1 3.6zM163.1 122.0l4.1-3.6-3.8-2.4-4 3.6zM159.4 119.6l4-3.6-3.7-2.3-4.1 3.7zM190.0 134.5l4.1-3.1-3.8-2.9-4.1 3.1zM145.1 105.4l4-3.7-3.6-1.9-4 3.7zM198.0 134.5l4.1-2.9-3.9-3.1-4.1 2.9zM138.4 96.2l4-3.6-3.5-1.7-4 3.7zM206.0 134.8l4-2.6-3.9-3.3-4 2.7zM135.3 89.3l4-3.5-3.5-1.5-3.9 3.5zM210.0 132.2l4.1-2.4-3.9-3.3-4.1 2.4zM132.4 82.8l3.9-3.4-3.4-1.5-4 3.5zM214.1 129.8l4-2.3-3.9-3.3-4 2.3zM218.1 127.5l4-2-3.9-3.3-4 2zM129.9 72.0l4-3.1-3.5-1.3-3.9 3.1zM130.4 67.6l4-3-3.4-1.2-3.9 3zM222.2 120.3l3.9-1.6-3.8-3.4-4 1.7zM131.0 63.4l3.9-2.8-3.4-1.3-3.9 2.9zM131.5 59.3l3.9-2.6-3.4-1.2-3.9 2.7zM222.5 97.2l3.9-0.9-3.8-3.1-3.8 0.9zM211.6 77.0l3.8-0.6-3.7-2.8-3.8 0.6zM204.4 68.3l3.8-0.5-3.6-2.6-3.8 0.6zM165.6 45.2l3.8-1.1-3.4-1.6-3.8 1.1zM190.3 55.8l3.7-0.6-3.5-2.2-3.7 0.6zM186.8 53.6l3.7-0.6-3.5-2.1-3.8 0.7zM183.2 51.6l3.8-0.7-3.5-2-3.7 0.7zM179.8 49.6l3.7-0.7-3.5-2-3.7 0.8z"/><path fill="#ff3000" stroke="#ff3000" d="M186.2 131.6l4.1-3.1-3.9-2.9-4.1 3.2zM148.7 107.3l4.1-3.6-3.7-2-4 3.7zM142.0 98.0l4-3.6-3.6-1.8-4 3.6zM132.9 77.9l3.9-3.2-3.4-1.4-4 3.3zM218.2 122.2l4-1.9-3.9-3.3-4 1.9zM222.3 115.3l3.9-1.5-3.9-3.3-3.9 1.5zM222.3 110.5l3.9-1.4-3.8-3.2-3.9 1.3zM135.4 56.7l3.8-2.5-3.3-1.2-3.9 2.5zM222.4 105.9l3.9-1.2-3.8-3.3-3.9 1.3zM222.5 101.4l3.8-1-3.8-3.2-3.8 1.1zM218.8 90.1l3.8-0.8-3.7-3-3.8 0.8zM215.2 83.4l3.8-0.7-3.7-2.9-3.8 0.7zM158.4 44.9l3.8-1.3-3.4-1.6-3.8 1.4zM200.8 65.8l3.8-0.6-3.6-2.5-3.8 0.6zM169.0 46.9l3.8-1-3.4-1.8-3.8 1.1z"/><path fill="#ff2d00" stroke="#ff2d00" d="M182.3 128.8l4.1-3.2-3.8-2.8-4.1 3.3zM152.4 109.3l4-3.5-3.6-2.1-4.1 3.6zM194.1 131.4l4.1-2.9-3.9-3-4 3zM202.1 131.6l4-2.7-3.8-3.1-4.1 2.7zM138.9 90.9l4-3.4-3.6-1.7-4 3.5zM206.1 128.9l4.1-2.4-3.9-3.2-4 2.5zM135.8 84.3l4-3.4-3.5-1.5-3.9 3.4zM214.2 124.2l4-2-3.9-3.3-4 2.1zM133.4 73.3l3.9-3-3.4-1.4-4 3.1zM133.9 68.9l3.9-2.9-3.4-1.4-4 3zM134.4 64.6l3.9-2.7-3.4-1.3-3.9 2.8zM134.9 60.6l3.8-2.7-3.3-1.2-3.9 2.6zM218.8 94.1l3.8-0.9-3.8-3.1-3.8 1zM211.5 80.5l3.8-0.7-3.7-2.8-3.8 0.7zM154.6 46.3l3.8-1.4-3.4-1.5-3.8 1.5zM207.9 74.2l3.8-0.6-3.6-2.7-3.8 0.7zM161.8 46.4l3.8-1.2-3.4-1.6-3.8 1.3zM197.2 63.3l3.8-0.6-3.6-2.4-3.8 0.7zM172.5 48.6l3.8-0.9-3.5-1.8-3.8 1z"/><path fill="#ff2900" stroke="#ff2900" d="M178.5 126.1l4.1-3.3-3.8-2.7-4.1 3.3zM174.7 123.4l4.1-3.3-3.8-2.6-4.1 3.3zM170.9 120.8l4.1-3.3-3.7-2.5-4.1 3.4zM159.7 113.7l4.1-3.5-3.7-2.3-4.1 3.6zM156.0 111.5l4.1-3.6-3.7-2.1-4 3.5zM190.3 128.5l4-3-3.8-2.9-4.1 3zM145.5 99.8l4.1-3.5-3.6-1.9-4 3.6zM198.2 128.5l4.1-2.7-3.9-3.1-4.1 2.8zM210.2 126.5l4-2.3-3.9-3.2-4 2.3zM136.3 79.4l4-3.2-3.5-1.5-3.9 3.2zM218.3 117.0l4-1.7-3.9-3.3-3.9 1.8zM218.4 112.0l3.9-1.5-3.8-3.3-3.9 1.6zM218.5 107.2l3.9-1.3-3.8-3.2-3.9 1.4zM218.6 102.7l3.9-1.3-3.8-3.1-3.9 1.3zM139.2 54.2l3.9-2.2-3.4-1.3-3.8 2.3zM218.7 98.3l3.8-1.1-3.7-3.1-3.9 1.1zM143.1 52.0l3.8-2.1-3.3-1.3-3.9 2.1zM215.1 87.1l3.8-0.8-3.7-2.9-3.8 0.8zM150.8 48.0l3.8-1.7-3.4-1.4-3.8 1.7zM204.3 71.6l3.8-0.7-3.7-2.6-3.8 0.7zM165.3 48.1l3.7-1.2-3.4-1.7-3.8 1.2zM193.6 61.0l3.8-0.7-3.6-2.3-3.7 0.7zM190.1 58.7l3.7-0.7-3.5-2.2-3.8 0.7zM186.5 56.5l3.8-0.7-3.5-2.2-3.8 0.8zM183.0 54.4l3.8-0.8-3.6-2-3.7 0.8zM179.5 52.4l3.7-0.8-3.4-2-3.8 0.9zM176.0 50.5l3.8-0.9-3.5-1.9-3.8 0.9z"/><path fill="#ff2600" stroke="#ff2600" d="M167.2 118.4l4.1-3.4-3.8-2.5-4.1 3.5zM163.4 116.0l4.1-3.5-3.7-2.3-4.1 3.5zM186.4 125.6l4.1-3-3.8-2.9-4.1 3.1zM149.1 101.7l4.1-3.5-3.6-1.9-4.1 3.5zM142.4 92.6l4-3.4-3.5-1.7-4 3.4zM202.3 125.8l4-2.5-3.8-3.1-4.1 2.5zM139.3 85.8l4-3.2-3.5-1.7-4 3.4zM210.3 121.0l4-2.1-3.8-3.2-4 2.1zM136.8 74.7l3.9-3-3.4-1.4-3.9 3zM214.3 118.9l4-1.9-3.8-3.2-4 1.9zM138.3 61.9l3.9-2.6-3.5-1.4-3.8 2.7zM138.7 57.9l3.9-2.4-3.4-1.3-3.8 2.5zM215.0 91.1l3.8-1-3.7-3-3.8 1zM146.9 49.9l3.9-1.9-3.4-1.4-3.8 2zM211.4 84.2l3.8-0.8-3.7-2.9-3.8 0.9zM207.8 77.7l3.8-0.7-3.7-2.8-3.8 0.8zM158.0 47.9l3.8-1.5-3.4-1.5-3.8 1.4zM200.6 69.0l3.8-0.7-3.6-2.5-3.8 0.7zM168.7 49.8l3.8-1.2-3.5-1.7-3.7 1.2z"/><path fill="#ff2300" stroke="#ff2300" d="M182.6 122.8l4.1-3.1-3.8-2.7-4.1 3.1zM152.8 103.7l4-3.4-3.6-2.1-4.1 3.5zM194.3 125.5l4.1-2.8-3.8-2.9-4.1 2.8zM146.0 94.4l4-3.3-3.6-1.9-4 3.4zM142.9 87.5l4-3.2-3.6-1.7-4 3.2zM206.3 123.3l4-2.3-3.8-3.2-4 2.4zM139.8 80.9l4-3.1-3.5-1.6-4 3.2zM137.3 70.3l3.9-2.9-3.4-1.4-3.9 2.9zM214.5 113.8l3.9-1.8-3.8-3.2-4 1.8zM137.8 66.0l3.9-2.7-3.4-1.4-3.9 2.7zM214.6 108.8l3.9-1.6-3.8-3.1-3.9 1.6zM214.8 99.6l3.9-1.3-3.8-3.1-3.9 1.3zM142.6 55.5l3.9-2.2-3.4-1.3-3.9 2.2zM214.9 95.2l3.9-1.1-3.8-3-3.9 1.1zM146.5 53.3l3.8-2-3.4-1.4-3.8 2.1zM150.3 51.3l3.9-1.8-3.4-1.5-3.9 1.9zM154.2 49.5l3.8-1.6-3.4-1.6-3.8 1.7zM204.1 75.0l3.8-0.8-3.6-2.6-3.8 0.8zM161.4 49.4l3.9-1.3-3.5-1.7-3.8 1.5zM197.0 66.5l3.8-0.7-3.6-2.5-3.8 0.9zM172.2 51.6l3.8-1.1-3.5-1.9-3.8 1.2z"/><path fill="#ff2000" stroke="#ff2000" d="M178.8 120.1l4.1-3.1-3.8-2.7-4.1 3.2zM175.0 117.5l4.1-3.2-3.8-2.5-4 3.2zM163.8 110.2l4.1-3.3-3.7-2.3-4.1 3.3zM160.1 107.9l4.1-3.3-3.7-2.2-4.1 3.4zM156.4 105.8l4.1-3.4-3.7-2.1-4 3.4zM190.5 122.6l4.1-2.8-3.9-2.9-4 2.8zM149.6 96.3l4-3.3-3.6-1.9-4 3.3zM198.4 122.7l4.1-2.5-3.9-3-4 2.6zM202.5 120.2l4-2.4-3.9-3-4 2.4zM206.5 117.8l4-2.1-3.9-3.1-4 2.2zM140.3 76.2l3.9-2.9-3.5-1.6-3.9 3zM210.5 115.7l4-1.9-3.9-3.2-4 2zM214.7 104.1l3.9-1.4-3.8-3.1-3.9 1.4zM142.2 59.3l3.8-2.4-3.4-1.4-3.9 2.4zM211.3 88.1l3.8-1-3.7-2.9-3.9 1.1zM207.7 81.4l3.8-0.9-3.7-2.8-3.8 1zM157.6 51.0l3.8-1.6-3.4-1.5-3.8 1.6zM200.5 72.4l3.8-0.8-3.7-2.6-3.8 0.9zM164.9 51.1l3.8-1.3-3.4-1.7-3.9 1.3zM193.4 64.2l3.8-0.9-3.6-2.3-3.8 0.9zM189.8 61.9l3.8-0.9-3.5-2.3-3.8 0.9zM186.3 59.6l3.8-0.9-3.6-2.2-3.8 1zM182.7 57.5l3.8-1-3.5-2.1-3.8 1zM179.2 55.4l3.8-1-3.5-2-3.8 1.1zM175.7 53.5l3.8-1.1-3.5-1.9-3.8 1.1z"/><path fill="#ff1d00" stroke="#ff1d00" d="M171.3 115.0l4-3.2-3.7-2.5-4.1 3.2zM167.5 112.5l4.1-3.2-3.7-2.4-4.1 3.3zM186.7 119.7l4-2.8-3.8-2.8-4 2.9zM153.2 98.2l4-3.2-3.6-2-4 3.3zM194.6 119.8l4-2.6-3.8-2.9-4.1 2.6zM146.4 89.2l4-3.1-3.5-1.8-4 3.2zM143.3 82.6l4-3.1-3.5-1.7-4 3.1zM140.7 71.7l4-2.8-3.5-1.5-3.9 2.9zM210.6 110.6l4-1.8-3.8-3.1-4 1.9zM141.2 67.4l3.9-2.7-3.4-1.4-3.9 2.7zM210.8 105.7l3.9-1.6-3.8-3.1-3.9 1.7zM141.7 63.3l3.9-2.6-3.4-1.4-3.9 2.6zM211.0 96.5l3.9-1.3-3.8-3-3.8 1.4zM146.0 56.9l3.9-2.1-3.4-1.5-3.9 2.2zM211.1 92.2l3.9-1.1-3.7-3-3.9 1.2zM149.9 54.8l3.9-2-3.5-1.5-3.8 2zM207.5 85.3l3.9-1.1-3.7-2.8-3.9 1.1zM153.8 52.8l3.8-1.8-3.4-1.5-3.9 1.8zM204.0 78.7l3.8-1-3.7-2.7-3.8 1zM196.8 69.9l3.8-0.9-3.6-2.5-3.8 1zM168.4 52.9l3.8-1.3-3.5-1.8-3.8 1.3z"/><path fill="#ff1a00" stroke="#ff1a00" d="M182.9 117.0l4-2.9-3.7-2.7-4.1 2.9zM179.1 114.3l4.1-2.9-3.8-2.6-4.1 3zM156.8 100.3l4.1-3.2-3.7-2.1-4 3.2zM190.7 116.9l4.1-2.6-3.8-2.9-4.1 2.7zM150.0 91.1l4-3.2-3.6-1.8-4 3.1zM198.6 117.2l4-2.4-3.8-3-4 2.5zM146.9 84.3l3.9-3.1-3.5-1.7-4 3.1zM202.6 114.8l4-2.2-3.8-3-4 2.2zM143.8 77.8l3.9-2.9-3.5-1.6-3.9 2.9zM206.6 112.6l4-2-3.8-3-4 2zM144.2 73.3l4-2.8-3.5-1.6-4 2.8zM145.1 64.7l3.9-2.4-3.4-1.6-3.9 2.6zM210.9 101.0l3.9-1.4-3.8-3.1-3.9 1.6zM145.6 60.7l3.9-2.3-3.5-1.5-3.8 2.4zM207.4 89.3l3.9-1.2-3.8-2.8-3.8 1.2zM200.3 76.0l3.8-1-3.6-2.6-3.9 1.1zM161.1 52.6l3.8-1.5-3.5-1.7-3.8 1.6zM193.2 67.5l3.8-1-3.6-2.3-3.8 1zM171.9 54.7l3.8-1.2-3.5-1.9-3.8 1.3z"/><path fill="#ff1600" stroke="#ff1600" d="M175.3 111.8l4.1-3-3.8-2.5-4 3zM171.6 109.3l4-3-3.7-2.5-4 3.1zM167.9 106.9l4-3.1-3.7-2.3-4 3.1zM164.2 104.6l4-3.1-3.7-2.3-4 3.2zM160.5 102.4l4-3.2-3.6-2.1-4.1 3.2zM186.9 114.1l4.1-2.7-3.8-2.7-4 2.7zM153.6 93.0l4-3.1-3.6-2-4 3.2zM194.8 114.3l4-2.5-3.8-2.9-4 2.5zM147.3 79.5l4-2.9-3.6-1.7-3.9 2.9zM202.8 109.6l4-2-3.8-3-4 2.1zM206.8 107.6l4-1.9-3.8-3-4 1.9zM144.7 68.9l3.9-2.6-3.5-1.6-3.9 2.7zM207.0 102.7l3.9-1.7-3.8-2.9-3.9 1.7zM207.1 98.1l3.9-1.6-3.7-2.9-4 1.6zM207.3 93.6l3.8-1.4-3.7-2.9-3.9 1.5zM149.5 58.4l3.9-2.1-3.5-1.5-3.9 2.1zM153.4 56.3l3.8-1.9-3.4-1.6-3.9 2zM203.8 82.5l3.9-1.1-3.7-2.7-3.9 1.1zM157.2 54.4l3.9-1.8-3.5-1.6-3.8 1.8zM196.6 73.5l3.9-1.1-3.7-2.5-3.8 1.1zM164.5 54.4l3.9-1.5-3.5-1.8-3.8 1.5zM189.6 65.2l3.8-1-3.6-2.3-3.8 1zM186.0 62.9l3.8-1-3.5-2.3-3.8 1.1zM182.5 60.7l3.8-1.1-3.6-2.1-3.8 1.1zM178.9 58.6l3.8-1.1-3.5-2.1-3.8 1.2zM175.4 56.6l3.8-1.2-3.5-1.9-3.8 1.2z"/><path fill="#ff1300" stroke="#ff1300" d="M183.2 111.4l4-2.7-3.8-2.7-4 2.8zM157.2 95.0l4-3.1-3.6-2-4 3.1zM191.0 111.4l4-2.5-3.8-2.8-4 2.6zM150.4 86.1l4-3-3.6-1.9-3.9 3.1zM198.8 111.8l4-2.2-3.8-2.9-4 2.2zM147.7 74.9l4-2.7-3.5-1.7-4 2.8zM203.0 104.6l4-1.9-3.8-2.9-4 1.9zM148.2 70.5l3.9-2.6-3.5-1.6-3.9 2.6zM148.6 66.3l3.9-2.4-3.5-1.6-3.9 2.4zM149.0 62.3l3.9-2.3-3.4-1.6-3.9 2.3zM152.9 60.0l3.9-2.1-3.4-1.6-3.9 2.1zM203.7 86.5l3.8-1.2-3.7-2.8-3.8 1.3zM156.8 57.9l3.9-1.9-3.5-1.6-3.8 1.9zM200.1 79.8l3.9-1.1-3.7-2.7-3.8 1.3zM160.7 56.0l3.8-1.6-3.4-1.8-3.9 1.8zM193.0 71.0l3.8-1.1-3.6-2.4-3.8 1.1zM171.5 58.0l3.9-1.4-3.5-1.9-3.9 1.4zM168.0 56.1l3.9-1.4-3.5-1.8-3.9 1.5z"/><path fill="#ff1000" stroke="#ff1000" d="M179.4 108.8l4-2.8-3.7-2.5-4.1 2.8zM175.6 106.3l4.1-2.8-3.8-2.5-4 2.8zM171.9 103.8l4-2.8-3.7-2.4-4 2.9zM168.2 101.5l4-2.9-3.7-2.3-4 2.9zM164.5 99.2l4-2.9-3.6-2.2-4 3zM160.9 97.1l4-3-3.7-2.2-4 3.1zM187.2 108.7l4-2.6-3.8-2.7-4 2.6zM154.0 87.9l4-2.9-3.6-1.9-4 3zM195.0 108.9l4-2.2-3.8-2.9-4 2.3zM150.8 81.2l4-2.8-3.5-1.8-4 2.9zM199.0 106.7l4-2.1-3.8-2.9-4 2.1zM151.3 76.6l3.9-2.7-3.5-1.7-4 2.7zM203.2 99.8l3.9-1.7-3.8-2.9-3.9 1.7zM203.3 95.2l4-1.6-3.8-2.8-3.9 1.6zM152.5 63.9l3.9-2.3-3.5-1.6-3.9 2.3zM203.5 90.8l3.9-1.5-3.7-2.8-3.9 1.5zM200.0 83.8l3.8-1.3-3.7-2.7-3.8 1.4zM160.3 59.6l3.9-1.8-3.5-1.8-3.9 1.9zM196.5 77.3l3.8-1.3-3.7-2.5-3.8 1.2zM164.2 57.8l3.8-1.7-3.5-1.7-3.8 1.6zM189.4 68.6l3.8-1.1-3.6-2.3-3.8 1.2zM185.8 66.4l3.8-1.2-3.6-2.3-3.8 1.2zM182.2 64.1l3.8-1.2-3.5-2.2-3.9 1.3zM178.6 62.0l3.9-1.3-3.6-2.1-3.8 1.4zM175.1 60.0l3.8-1.4-3.5-2-3.9 1.4z"/><path fill="#ff0d00" stroke="#ff0d00" d="M183.4 106.0l4-2.6-3.7-2.6-4 2.7zM161.2 91.9l4-2.8-3.6-2.1-4 2.9zM157.6 89.9l4-2.9-3.6-2-4 2.9zM191.2 106.1l4-2.3-3.7-2.7-4.1 2.3zM154.4 83.1l4-2.8-3.6-1.9-4 2.8zM195.2 103.8l4-2.1-3.8-2.8-3.9 2.2zM199.2 101.7l4-1.9-3.8-2.9-4 2zM151.7 72.2l3.9-2.6-3.5-1.7-3.9 2.6zM199.4 96.9l3.9-1.7-3.7-2.8-4 1.8zM152.1 67.9l3.9-2.4-3.5-1.6-3.9 2.4zM199.6 92.4l3.9-1.6-3.7-2.8-3.9 1.7zM156.0 65.5l3.9-2.1-3.5-1.8-3.9 2.3zM199.8 88.0l3.9-1.5-3.7-2.7-3.9 1.5zM156.4 61.6l3.9-2-3.5-1.7-3.9 2.1zM196.3 81.2l3.8-1.4-3.6-2.5-3.9 1.4zM163.8 61.4l3.9-1.8-3.5-1.8-3.9 1.8zM192.8 74.7l3.8-1.2-3.6-2.5-3.8 1.3zM189.2 72.3l3.8-1.3-3.6-2.4-3.9 1.4zM171.2 61.5l3.9-1.5-3.6-2-3.8 1.6zM167.7 59.6l3.8-1.6-3.5-1.9-3.8 1.7z"/><path fill="#ff0a00" stroke="#ff0a00" d="M179.7 103.5l4-2.7-3.7-2.5-4.1 2.7zM175.9 101.0l4.1-2.7-3.7-2.4-4.1 2.7zM172.2 98.6l4.1-2.7-3.7-2.4-4.1 2.8zM168.5 96.3l4.1-2.8-3.7-2.2-4 2.8zM164.9 94.1l4-2.8-3.7-2.2-4 2.8zM187.4 103.4l4.1-2.3-3.8-2.7-4 2.4zM158.0 85.0l4-2.8-3.6-1.9-4 2.8zM191.5 101.1l3.9-2.2-3.7-2.7-4 2.2zM154.8 78.4l4-2.6-3.6-1.9-3.9 2.7zM195.4 98.9l4-2-3.8-2.7-3.9 2zM155.2 73.9l4-2.5-3.6-1.8-3.9 2.6zM195.6 94.2l4-1.8-3.7-2.7-4 1.8zM155.6 69.6l3.9-2.3-3.5-1.8-3.9 2.4zM195.9 89.7l3.9-1.7-3.7-2.7-4 1.7zM196.1 85.3l3.9-1.5-3.7-2.6-3.9 1.5zM159.9 63.4l3.9-2-3.5-1.8-3.9 2zM192.6 78.7l3.9-1.4-3.7-2.6-3.9 1.5zM167.3 63.2l3.9-1.7-3.5-1.9-3.9 1.8zM185.5 70.0l3.9-1.4-3.6-2.2-3.9 1.3zM181.9 67.7l3.9-1.3-3.6-2.3-3.9 1.5zM178.3 65.6l3.9-1.5-3.6-2.1-3.8 1.5zM174.8 63.5l3.8-1.5-3.5-2-3.9 1.5z"/><path fill="#ff0600" stroke="#ff0600" d="M183.7 100.8l4-2.4-3.7-2.6-4 2.5zM180.0 98.3l4-2.5-3.8-2.4-3.9 2.5zM176.3 95.9l3.9-2.5-3.6-2.4-4 2.5zM168.9 91.3l4-2.7-3.7-2.2-4 2.7zM165.2 89.1l4-2.7-3.6-2.1-4 2.7zM161.6 87.0l4-2.7-3.6-2.1-4 2.8zM187.7 98.4l4-2.2-3.8-2.6-3.9 2.2zM162.0 82.2l3.9-2.5-3.6-2-3.9 2.6zM158.4 80.3l3.9-2.6-3.5-1.9-4 2.6zM191.7 96.2l3.9-2-3.7-2.7-4 2.1zM158.8 75.8l3.9-2.5-3.5-1.9-4 2.5zM191.9 91.5l4-1.8-3.8-2.7-3.9 1.9zM159.2 71.4l3.9-2.2-3.6-1.9-3.9 2.3zM192.1 87.0l4-1.7-3.7-2.6-4 1.8zM163.1 69.2l3.9-2.1-3.6-1.9-3.9 2.1zM159.5 67.3l3.9-2.1-3.5-1.8-3.9 2.1zM192.4 82.7l3.9-1.5-3.7-2.5-3.9 1.6zM167.0 67.1l3.9-1.9-3.6-2-3.9 2zM163.4 65.2l3.9-2-3.5-1.8-3.9 2zM188.9 76.2l3.9-1.5-3.6-2.4-3.9 1.5zM185.3 73.8l3.9-1.5-3.7-2.3-3.9 1.5zM181.6 71.5l3.9-1.5-3.6-2.3-3.9 1.6zM178.0 69.3l3.9-1.6-3.6-2.1-3.8 1.6zM174.5 67.2l3.8-1.6-3.5-2.1-3.9 1.7zM170.9 65.2l3.9-1.7-3.6-2-3.9 1.7z"/><path fill="#ff0300" stroke="#ff0300" d="M172.6 93.5l4-2.5-3.7-2.4-4 2.7zM184.0 95.8l3.9-2.2-3.7-2.6-4 2.4zM180.2 93.4l4-2.4-3.7-2.4-3.9 2.4zM176.6 91.0l3.9-2.4-3.6-2.4-4 2.4zM169.2 86.4l4-2.4-3.6-2.2-4 2.5zM165.6 84.3l4-2.5-3.7-2.1-3.9 2.5zM187.9 93.6l4-2.1-3.7-2.6-4 2.1zM184.2 91.0l4-2.1-3.7-2.4-4 2.1zM165.9 79.7l4-2.3-3.6-2.1-4 2.4zM162.3 77.7l4-2.4-3.6-2-3.9 2.5zM188.2 88.9l3.9-1.9-3.7-2.5-3.9 2zM162.7 73.3l3.9-2.2-3.5-1.9-3.9 2.2zM188.4 84.5l4-1.8-3.7-2.4-3.9 1.7zM166.6 71.1l4-2-3.6-2-3.9 2.1zM188.7 80.3l3.9-1.6-3.7-2.5-3.9 1.6zM185.0 77.8l3.9-1.6-3.6-2.4-3.9 1.7zM181.4 75.5l3.9-1.7-3.7-2.3-3.9 1.8zM177.7 73.3l3.9-1.8-3.6-2.2-3.9 1.8zM174.1 71.1l3.9-1.8-3.5-2.1-3.9 1.9zM170.6 69.1l3.9-1.9-3.6-2-3.9 1.9z"/><path fill="#ff0000" stroke="#ff0000" d="M172.9 88.6l4-2.4-3.7-2.2-4 2.4zM180.5 88.6l4-2.1-3.7-2.5-3.9 2.2zM176.9 86.2l3.9-2.2-3.6-2.3-4 2.3zM173.2 84.0l4-2.3-3.7-2.2-3.9 2.3zM169.6 81.8l3.9-2.3-3.6-2.1-4 2.3zM184.5 86.5l3.9-2-3.6-2.5-4 2zM180.8 84.0l4-2-3.7-2.3-3.9 2zM177.2 81.7l3.9-2-3.6-2.3-4 2.1zM173.5 79.5l4-2.1-3.7-2.2-3.9 2.2zM169.9 77.4l3.9-2.2-3.6-2.1-3.9 2.2zM166.3 75.3l3.9-2.2-3.6-2-3.9 2.2zM184.8 82.0l3.9-1.7-3.7-2.5-3.9 1.9zM181.1 79.7l3.9-1.9-3.6-2.3-3.9 1.9zM177.5 77.4l3.9-1.9-3.7-2.2-3.9 1.9zM173.8 75.2l3.9-1.9-3.6-2.2-3.9 2zM170.2 73.1l3.9-2-3.5-2-4 2z"/><path fill="#60ff00" stroke="#60ff00" d="M310.0 169.3l3.4 0.8-3.9-4.9-3.4-0.7z"/><path fill="#76ff00" stroke="#76ff00" d="M306.1 164.5l3.4 0.7-3.8-4.8-3.4-0.7z"/><path fill="#21ef00" stroke="#21ef00" d="M316.7 171.0l3.3 1.2-3.8-5-3.3-1.1z"/><path fill="#35ef00" stroke="#35ef00" d="M312.9 166.1l3.3 1.1-3.8-4.9-3.3-1z"/><path fill="#4bef00" stroke="#4bef00" d="M309.1 161.3l3.3 1-3.8-4.8-3.4-1z"/><path fill="#5def00" stroke="#5def00" d="M305.2 156.5l3.4 1-3.8-4.7-3.4-1z"/><path fill="#71ef00" stroke="#71ef00" d="M301.4 151.8l3.4 1-3.8-4.6-3.4-0.9z"/><path fill="#83ef00" stroke="#83ef00" d="M297.6 147.3l3.4 0.9-3.8-4.5-3.4-1z"/><path fill="#95ef00" stroke="#95ef00" d="M293.8 142.7l3.4 1-3.8-4.5-3.4-0.9z"/><path fill="#a8ef00" stroke="#a8ef00" d="M290.0 138.3l3.4 0.9-3.7-4.4-3.5-0.8z"/><path fill="#baef00" stroke="#baef00" d="M286.2 134.0l3.5 0.8-3.8-4.3-3.5-0.8z"/><path fill="#c9ef00" stroke="#c9ef00" d="M282.4 129.7l3.5 0.8-3.8-4.2-3.5-0.8z"/><path fill="#03df00" stroke="#03df00" d="M320.0 172.2l3.2 1.2-3.7-4.9-3.3-1.3z"/><path fill="#17df00" stroke="#17df00" d="M316.2 167.2l3.3 1.3-3.8-4.9-3.3-1.3z"/><path fill="#2adf00" stroke="#2adf00" d="M312.4 162.3l3.3 1.3-3.8-4.9-3.3-1.2z"/><path fill="#3ddf00" stroke="#3ddf00" d="M308.6 157.5l3.3 1.2-3.8-4.7-3.3-1.2z"/><path fill="#4edf00" stroke="#4edf00" d="M304.8 152.8l3.3 1.2-3.7-4.7-3.4-1.1z"/><path fill="#69ef00" stroke="#69ef00" d="M301.0 148.2l3.4 1.1-3.8-4.6-3.4-1z"/><path fill="#7bef00" stroke="#7bef00" d="M297.2 143.7l3.4 1-3.8-4.5-3.4-1z"/><path fill="#8def00" stroke="#8def00" d="M293.4 139.2l3.4 1-3.7-4.4-3.4-1z"/><path fill="#9eef00" stroke="#9eef00" d="M289.7 134.8l3.4 1-3.8-4.3-3.4-1z"/><path fill="#adef00" stroke="#adef00" d="M285.9 130.5l3.4 1-3.7-4.3-3.5-0.9z"/><path fill="#bfef00" stroke="#bfef00" d="M282.1 126.3l3.5 0.9-3.8-4.1-3.4-1z"/><path fill="#ceef00" stroke="#ceef00" d="M278.4 122.1l3.4 1-3.7-4.1-3.5-0.9z"/><path fill="#ddef00" stroke="#ddef00" d="M274.6 118.1l3.5 0.9-3.8-4.1-3.5-0.8z"/><path fill="#e9ef00" stroke="#e9ef00" d="M270.8 114.1l3.5 0.8-3.7-3.9-3.5-0.8z"/><path fill="#efe600" stroke="#efe600" d="M267.1 110.2l3.5 0.8-3.7-3.8-3.5-0.8z"/><path fill="#efda00" stroke="#efda00" d="M263.4 106.4l3.5 0.8-3.7-3.8-3.6-0.7z"/><path fill="#efce00" stroke="#efce00" d="M259.6 102.7l3.6 0.7-3.8-3.7-3.5-0.6z"/><path fill="#efc200" stroke="#efc200" d="M255.9 99.1l3.5 0.6-3.7-3.6-3.5-0.6z"/><path fill="#efb600" stroke="#efb600" d="M252.2 95.5l3.5 0.6-3.6-3.5-3.6-0.5z"/><path fill="#efab00" stroke="#efab00" d="M248.5 92.1l3.6 0.5-3.7-3.4-3.6-0.5z"/><path fill="#efa100" stroke="#efa100" d="M244.8 88.7l3.6 0.5-3.7-3.3-3.6-0.5z"/><path fill="#ef9900" stroke="#ef9900" d="M241.1 85.4l3.6 0.5-3.7-3.3-3.6-0.4z"/><path fill="#ef8f00" stroke="#ef8f00" d="M237.4 82.2l3.6 0.4-3.6-3.2-3.6-0.4z"/><path fill="#ef8600" stroke="#ef8600" d="M233.8 79.0l3.6 0.4-3.6-3.1-3.7-0.3zM226.5 70.4l3.6 0.5-3.6-2.9-3.6-0.4z"/><path fill="#ef8000" stroke="#ef8000" d="M230.1 76.0l3.7 0.3-3.7-3-3.6-0.3zM222.9 67.6l3.6 0.4-3.6-2.8-3.6-0.4z"/><path fill="#ef7b00" stroke="#ef7b00" d="M226.5 73.0l3.6 0.3-3.6-2.9-3.6-0.3zM219.3 64.8l3.6 0.4-3.5-2.7-3.7-0.4z"/><path fill="#ef7100" stroke="#ef7100" d="M222.9 70.1l3.6 0.3-3.6-2.8-3.6-0.3zM212.2 59.6l3.6 0.2-3.5-2.5-3.7-0.3z"/><path fill="#ef6f00" stroke="#ef6f00" d="M219.3 67.3l3.6 0.3-3.6-2.8-3.6-0.2zM208.6 57.0l3.7 0.3-3.6-2.5-3.6-0.2z"/><path fill="#ef6900" stroke="#ef6900" d="M215.7 64.6l3.6 0.2-3.6-2.7-3.6-0.1zM201.6 52.3l3.6 0.1-3.5-2.3-3.6-0.1zM198.1 50.0l3.6 0.1-3.4-2.2-3.7-0.1z"/><path fill="#ef6200" stroke="#ef6200" d="M212.1 62.0l3.6 0.1-3.5-2.5-3.7-0.1z"/><path fill="#ef6000" stroke="#ef6000" d="M208.5 59.5l3.7 0.1-3.6-2.6-3.6 0z"/><path fill="#ef5d00" stroke="#ef5d00" d="M205.0 57.0l3.6 0-3.5-2.4-3.7 0z"/><path fill="#ef5a00" stroke="#ef5a00" d="M201.4 54.6l3.7 0-3.5-2.3-3.7 0zM197.9 52.3l3.7 0-3.5-2.3-3.7 0.1zM177.2 40.3l3.6-0.3-3.4-1.8-3.6 0.4z"/><path fill="#ef5600" stroke="#ef5600" d="M194.4 50.1l3.7-0.1-3.5-2.2-3.7 0.2zM190.9 48.0l3.7-0.2-3.5-2-3.6 0.2zM187.5 46.0l3.6-0.2-3.4-2.1-3.7 0.3zM184.0 44.0l3.7-0.3-3.4-1.9-3.7 0.3zM180.6 42.1l3.7-0.3-3.5-1.8-3.6 0.3z"/><path fill="#00cf1a" stroke="#00cf1a" d="M323.2 173.4l3.2 1.5-3.7-5-3.2-1.4z"/><path fill="#00df09" stroke="#00df09" d="M319.5 168.5l3.2 1.4-3.8-5-3.2-1.3z"/><path fill="#0bdf00" stroke="#0bdf00" d="M315.7 163.6l3.2 1.3-3.7-4.8-3.3-1.4z"/><path fill="#1fdf00" stroke="#1fdf00" d="M311.9 158.7l3.3 1.4-3.8-4.8-3.3-1.3z"/><path fill="#32df00" stroke="#32df00" d="M308.1 154.0l3.3 1.3-3.7-4.7-3.3-1.3z"/><path fill="#46df00" stroke="#46df00" d="M304.4 149.3l3.3 1.3-3.8-4.6-3.3-1.3z"/><path fill="#57df00" stroke="#57df00" d="M300.6 144.7l3.3 1.3-3.7-4.5-3.4-1.3z"/><path fill="#67df00" stroke="#67df00" d="M296.8 140.2l3.4 1.3-3.8-4.5-3.3-1.2z"/><path fill="#78df00" stroke="#78df00" d="M293.1 135.8l3.3 1.2-3.7-4.4-3.4-1.1z"/><path fill="#88df00" stroke="#88df00" d="M289.3 131.5l3.4 1.1-3.8-4.3-3.3-1.1z"/><path fill="#96df00" stroke="#96df00" d="M285.6 127.2l3.3 1.1-3.7-4.2-3.4-1z"/><path fill="#a7df00" stroke="#a7df00" d="M281.8 123.1l3.4 1-3.7-4.1-3.4-1zM277.8 116.0l3.4 1.1-3.7-4-3.5-1.1z"/><path fill="#b5df00" stroke="#b5df00" d="M278.1 119.0l3.4 1-3.7-4-3.5-1.1zM274.0 112.0l3.5 1.1-3.7-3.9-3.5-1.1z"/><path fill="#c3df00" stroke="#c3df00" d="M274.3 114.9l3.5 1.1-3.8-4-3.4-1zM270.3 108.1l3.5 1.1-3.7-3.8-3.5-1.1z"/><path fill="#cedf00" stroke="#cedf00" d="M270.6 111.0l3.4 1-3.7-3.9-3.4-0.9zM266.6 104.3l3.5 1.1-3.7-3.8-3.5-1z"/><path fill="#dcdf00" stroke="#dcdf00" d="M266.9 107.2l3.4 0.9-3.7-3.8-3.4-0.9zM262.9 100.6l3.5 1-3.7-3.7-3.4-1z"/><path fill="#dfd600" stroke="#dfd600" d="M263.2 103.4l3.4 0.9-3.7-3.7-3.5-0.9zM259.3 96.9l3.4 1-3.6-3.6-3.5-0.9z"/><path fill="#dfcc00" stroke="#dfcc00" d="M259.4 99.7l3.5 0.9-3.6-3.7-3.6-0.8zM255.6 93.4l3.5 0.9-3.7-3.5-3.5-0.9z"/><path fill="#dfc000" stroke="#dfc000" d="M255.7 96.1l3.6 0.8-3.7-3.5-3.5-0.8z"/><path fill="#dfb500" stroke="#dfb500" d="M252.1 92.6l3.5 0.8-3.7-3.5-3.5-0.7z"/><path fill="#dfad00" stroke="#dfad00" d="M248.4 89.2l3.5 0.7-3.7-3.4-3.5-0.6z"/><path fill="#efad00" stroke="#efad00" d="M244.7 85.9l3.5 0.6-3.6-3.3-3.6-0.6z"/><path fill="#efa400" stroke="#efa400" d="M241.0 82.6l3.6 0.6-3.6-3.2-3.6-0.6z"/><path fill="#ef9c00" stroke="#ef9c00" d="M237.4 79.4l3.6 0.6-3.7-3.1-3.5-0.6z"/><path fill="#ef9500" stroke="#ef9500" d="M233.8 76.3l3.5 0.6-3.6-3.1-3.6-0.5z"/><path fill="#ef8d00" stroke="#ef8d00" d="M230.1 73.3l3.6 0.5-3.6-2.9-3.6-0.5z"/><path fill="#ef7800" stroke="#ef7800" d="M215.7 62.1l3.7 0.4-3.6-2.7-3.6-0.2z"/><path fill="#ef6c00" stroke="#ef6c00" d="M205.1 54.6l3.6 0.2-3.5-2.4-3.6-0.1z"/><path fill="#ef6500" stroke="#ef6500" d="M194.6 47.8l3.7 0.1-3.5-2.2-3.7 0.1zM191.1 45.8l3.7-0.1-3.4-2-3.7 0zM187.7 43.7l3.7 0-3.5-2-3.6 0.1z"/><path fill="#df5e00" stroke="#df5e00" d="M184.3 41.8l3.6-0.1-3.4-1.9-3.7 0.2z"/><path fill="#df6200" stroke="#df6200" d="M180.8 40.0l3.7-0.2-3.4-1.8-3.7 0.2z"/><path fill="#00cf39" stroke="#00cf39" d="M326.4 174.9l3.2 1.6-3.8-5-3.1-1.6z"/><path fill="#00cf25" stroke="#00cf25" d="M322.7 169.9l3.1 1.6-3.7-5-3.2-1.6z"/><path fill="#00cf12" stroke="#00cf12" d="M318.9 164.9l3.2 1.6-3.7-4.9-3.2-1.5z"/><path fill="#00cf00" stroke="#00cf00" d="M315.2 160.1l3.2 1.5-3.8-4.8-3.2-1.5z"/><path fill="#12cf00" stroke="#12cf00" d="M311.4 155.3l3.2 1.5-3.7-4.7-3.2-1.5z"/><path fill="#25cf00" stroke="#25cf00" d="M307.7 150.6l3.2 1.5-3.7-4.7-3.3-1.4z"/><path fill="#36cf00" stroke="#36cf00" d="M303.9 146.0l3.3 1.4-3.7-4.5-3.3-1.4z"/><path fill="#46cf00" stroke="#46cf00" d="M300.2 141.5l3.3 1.4-3.8-4.5-3.3-1.4z"/><path fill="#55cf00" stroke="#55cf00" d="M296.4 137.0l3.3 1.4-3.7-4.4-3.3-1.4z"/><path fill="#65cf00" stroke="#65cf00" d="M292.7 132.6l3.3 1.4-3.7-4.4-3.4-1.3z"/><path fill="#74cf00" stroke="#74cf00" d="M288.9 128.3l3.4 1.3-3.7-4.2-3.4-1.3zM284.9 121.2l3.3 1.4-3.7-4.1-3.3-1.4z"/><path fill="#81cf00" stroke="#81cf00" d="M285.2 124.1l3.4 1.3-3.7-4.2-3.4-1.2z"/><path fill="#8ecf00" stroke="#8ecf00" d="M281.5 120.0l3.4 1.2-3.7-4.1-3.4-1.1z"/><path fill="#dfc300" stroke="#dfc300" d="M251.9 89.9l3.5 0.9-3.6-3.4-3.6-0.9z"/><path fill="#dfb800" stroke="#dfb800" d="M248.2 86.5l3.6 0.9-3.7-3.4-3.5-0.8z"/><path fill="#dfb000" stroke="#dfb000" d="M244.6 83.2l3.5 0.8-3.6-3.2-3.5-0.8z"/><path fill="#dfa700" stroke="#dfa700" d="M241.0 80.0l3.5 0.8-3.6-3.2-3.6-0.7z"/><path fill="#df9f00" stroke="#df9f00" d="M237.3 76.9l3.6 0.7-3.6-3.1-3.6-0.7z"/><path fill="#df9900" stroke="#df9900" d="M233.7 73.8l3.6 0.7-3.6-3-3.6-0.6z"/><path fill="#df9100" stroke="#df9100" d="M230.1 70.9l3.6 0.6-3.6-2.9-3.6-0.6z"/><path fill="#df8b00" stroke="#df8b00" d="M226.5 68.0l3.6 0.6-3.6-2.9-3.6-0.5z"/><path fill="#df8600" stroke="#df8600" d="M222.9 65.2l3.6 0.5-3.5-2.7-3.6-0.5z"/><path fill="#df8100" stroke="#df8100" d="M219.4 62.5l3.6 0.5-3.6-2.7-3.6-0.5z"/><path fill="#df7d00" stroke="#df7d00" d="M215.8 59.8l3.6 0.5-3.5-2.6-3.6-0.4z"/><path fill="#df7800" stroke="#df7800" d="M212.3 57.3l3.6 0.4-3.5-2.5-3.7-0.4z"/><path fill="#df7500" stroke="#df7500" d="M208.7 54.8l3.7 0.4-3.5-2.5-3.7-0.3z"/><path fill="#df7300" stroke="#df7300" d="M205.2 52.4l3.7 0.3-3.5-2.3-3.7-0.3z"/><path fill="#df7000" stroke="#df7000" d="M201.7 50.1l3.7 0.3-3.5-2.3-3.6-0.2zM198.3 47.9l3.6 0.2-3.5-2.2-3.6-0.2zM194.8 45.7l3.6 0.2-3.4-2.1-3.6-0.1zM184.5 39.8l3.6 0-3.3-1.9-3.7 0.1z"/><path fill="#df6c00" stroke="#df6c00" d="M191.4 43.7l3.6 0.1-3.4-2-3.7-0.1zM187.9 41.7l3.7 0.1-3.5-2-3.6 0z"/><path fill="#00bf51" stroke="#00bf51" d="M329.6 176.5l3.1 1.8-3.7-5.1-3.2-1.7z"/><path fill="#00bf3e" stroke="#00bf3e" d="M325.8 171.5l3.2 1.7-3.7-5-3.2-1.7z"/><path fill="#00bf2b" stroke="#00bf2b" d="M322.1 166.5l3.2 1.7-3.8-4.9-3.1-1.7z"/><path fill="#00bf1a" stroke="#00bf1a" d="M318.4 161.6l3.1 1.7-3.7-4.8-3.2-1.7z"/><path fill="#00bf0a" stroke="#00bf0a" d="M314.6 156.8l3.2 1.7-3.7-4.8-3.2-1.6z"/><path fill="#08bf00" stroke="#08bf00" d="M310.9 152.1l3.2 1.6-3.7-4.7-3.2-1.6z"/><path fill="#18bf00" stroke="#18bf00" d="M307.2 147.4l3.2 1.6-3.7-4.6-3.2-1.5z"/><path fill="#29cf00" stroke="#29cf00" d="M303.5 142.9l3.2 1.5-3.7-4.5-3.3-1.5z"/><path fill="#39cf00" stroke="#39cf00" d="M299.7 138.4l3.3 1.5-3.7-4.5-3.3-1.4z"/><path fill="#48cf00" stroke="#48cf00" d="M296.0 134.0l3.3 1.4-3.7-4.3-3.3-1.5z"/><path fill="#58cf00" stroke="#58cf00" d="M292.3 129.6l3.3 1.5-3.7-4.3-3.3-1.4z"/><path fill="#68cf00" stroke="#68cf00" d="M288.6 125.4l3.3 1.4-3.7-4.2-3.3-1.4z"/><path fill="#84cf00" stroke="#84cf00" d="M281.2 117.1l3.3 1.4-3.7-4.1-3.3-1.3z"/><path fill="#91cf00" stroke="#91cf00" d="M277.5 113.1l3.3 1.3-3.7-3.9-3.3-1.3z"/><path fill="#9ecf00" stroke="#9ecf00" d="M273.8 109.2l3.3 1.3-3.6-3.9-3.4-1.2z"/><path fill="#a8cf00" stroke="#a8cf00" d="M270.1 105.4l3.4 1.2-3.7-3.8-3.4-1.2z"/><path fill="#b5cf00" stroke="#b5cf00" d="M266.4 101.6l3.4 1.2-3.6-3.7-3.5-1.2z"/><path fill="#c0cf00" stroke="#c0cf00" d="M262.7 97.9l3.5 1.2-3.7-3.7-3.4-1.1z"/><path fill="#cacf00" stroke="#cacf00" d="M259.1 94.3l3.4 1.1-3.6-3.5-3.5-1.1z"/><path fill="#cfca00" stroke="#cfca00" d="M255.4 90.8l3.5 1.1-3.7-3.5-3.4-1z"/><path fill="#cfc200" stroke="#cfc200" d="M251.8 87.4l3.4 1-3.6-3.4-3.5-1z"/><path fill="#cfb800" stroke="#cfb800" d="M248.1 84.0l3.5 1-3.6-3.3-3.5-0.9z"/><path fill="#cfb000" stroke="#cfb000" d="M244.5 80.8l3.5 0.9-3.6-3.2-3.5-0.9z"/><path fill="#cfa800" stroke="#cfa800" d="M240.9 77.6l3.5 0.9-3.6-3.1-3.5-0.9z"/><path fill="#cfa300" stroke="#cfa300" d="M237.3 74.5l3.5 0.9-3.6-3.1-3.5-0.8z"/><path fill="#cf9b00" stroke="#cf9b00" d="M233.7 71.5l3.5 0.8-3.6-3-3.5-0.7z"/><path fill="#cf9600" stroke="#cf9600" d="M230.1 68.6l3.5 0.7-3.5-2.9-3.6-0.7z"/><path fill="#cf8e00" stroke="#cf8e00" d="M226.5 65.7l3.6 0.7-3.6-2.8-3.5-0.6z"/><path fill="#cf8900" stroke="#cf8900" d="M223.0 63.0l3.5 0.6-3.5-2.7-3.6-0.6z"/><path fill="#cf8700" stroke="#cf8700" d="M219.4 60.3l3.6 0.6-3.6-2.7-3.5-0.5z"/><path fill="#cf8100" stroke="#cf8100" d="M215.9 57.7l3.5 0.5-3.5-2.5-3.5-0.5z"/><path fill="#cf7f00" stroke="#cf7f00" d="M212.4 55.2l3.5 0.5-3.5-2.5-3.5-0.5z"/><path fill="#cf7c00" stroke="#cf7c00" d="M208.9 52.7l3.5 0.5-3.4-2.4-3.6-0.4z"/><path fill="#cf7a00" stroke="#cf7a00" d="M205.4 50.4l3.6 0.4-3.5-2.3-3.6-0.4z"/><path fill="#cf7700" stroke="#cf7700" d="M201.9 48.1l3.6 0.4-3.5-2.3-3.6-0.3zM198.4 45.9l3.6 0.3-3.4-2.1-3.6-0.3z"/><path fill="#cf7400" stroke="#cf7400" d="M195.0 43.8l3.6 0.3-3.4-2.1-3.6-0.2zM191.6 41.8l3.6 0.2-3.4-2-3.7-0.2zM188.1 39.8l3.7 0.2-3.4-1.9-3.6-0.2z"/><path fill="#00af65" stroke="#00af65" d="M332.7 178.3l3 1.9-3.7-5.1-3-1.9z"/><path fill="#00bf5b" stroke="#00bf5b" d="M329.0 173.2l3 1.9-3.7-5-3-1.9z"/><path fill="#00bf48" stroke="#00bf48" d="M325.3 168.2l3 1.9-3.6-5-3.2-1.8z"/><path fill="#00bf37" stroke="#00bf37" d="M321.5 163.3l3.2 1.8-3.7-4.8-3.2-1.8z"/><path fill="#00bf26" stroke="#00bf26" d="M317.8 158.5l3.2 1.8-3.7-4.8-3.2-1.8z"/><path fill="#00bf16" stroke="#00bf16" d="M314.1 153.7l3.2 1.8-3.7-4.7-3.2-1.8z"/><path fill="#00bf04" stroke="#00bf04" d="M310.4 149.0l3.2 1.8-3.7-4.7-3.2-1.7z"/><path fill="#0cbf00" stroke="#0cbf00" d="M306.7 144.4l3.2 1.7-3.7-4.5-3.2-1.7z"/><path fill="#1abf00" stroke="#1abf00" d="M303.0 139.9l3.2 1.7-3.7-4.5-3.2-1.7z"/><path fill="#28bf00" stroke="#28bf00" d="M299.3 135.4l3.2 1.7-3.7-4.4-3.2-1.6z"/><path fill="#39bf00" stroke="#39bf00" d="M295.6 131.1l3.2 1.6-3.6-4.3-3.3-1.6z"/><path fill="#45bf00" stroke="#45bf00" d="M291.9 126.8l3.3 1.6-3.7-4.3-3.3-1.5z"/><path fill="#54bf00" stroke="#54bf00" d="M288.2 122.6l3.3 1.5-3.7-4.1-3.3-1.5z"/><path fill="#60bf00" stroke="#60bf00" d="M284.5 118.5l3.3 1.5-3.6-4.1-3.4-1.5z"/><path fill="#6ebf00" stroke="#6ebf00" d="M280.8 114.4l3.4 1.5-3.7-4-3.4-1.4z"/><path fill="#7abf00" stroke="#7abf00" d="M277.1 110.5l3.4 1.4-3.7-3.9-3.3-1.4z"/><path fill="#83bf00" stroke="#83bf00" d="M273.5 106.6l3.3 1.4-3.6-3.9-3.4-1.3z"/><path fill="#8fbf00" stroke="#8fbf00" d="M269.8 102.8l3.4 1.3-3.7-3.7-3.3-1.3z"/><path fill="#99bf00" stroke="#99bf00" d="M266.2 99.1l3.3 1.3-3.6-3.7-3.4-1.3z"/><path fill="#a3bf00" stroke="#a3bf00" d="M262.5 95.4l3.4 1.3-3.6-3.6-3.4-1.2z"/><path fill="#acbf00" stroke="#acbf00" d="M258.9 91.9l3.4 1.2-3.6-3.5-3.5-1.2z"/><path fill="#b6bf00" stroke="#b6bf00" d="M255.2 88.4l3.5 1.2-3.7-3.4-3.4-1.2z"/><path fill="#bfbf00" stroke="#bfbf00" d="M251.6 85.0l3.4 1.2-3.6-3.4-3.4-1.1z"/><path fill="#bfb800" stroke="#bfb800" d="M248.0 81.7l3.4 1.1-3.6-3.2-3.4-1.1z"/><path fill="#bfb100" stroke="#bfb100" d="M244.4 78.5l3.4 1.1-3.5-3.2-3.5-1z"/><path fill="#bfaa00" stroke="#bfaa00" d="M240.8 75.4l3.5 1-3.6-3.1-3.5-1z"/><path fill="#bfa300" stroke="#bfa300" d="M237.2 72.3l3.5 1-3.6-3-3.5-1z"/><path fill="#bf9e00" stroke="#bf9e00" d="M233.6 69.3l3.5 1-3.5-3-3.5-0.9z"/><path fill="#bf9700" stroke="#bf9700" d="M230.1 66.4l3.5 0.9-3.6-2.8-3.5-0.9z"/><path fill="#bf9200" stroke="#bf9200" d="M226.5 63.6l3.5 0.9-3.5-2.8-3.5-0.8z"/><path fill="#bf8d00" stroke="#bf8d00" d="M223.0 60.9l3.5 0.8-3.5-2.7-3.6-0.8z"/><path fill="#bf8b00" stroke="#bf8b00" d="M219.4 58.2l3.6 0.8-3.5-2.6-3.6-0.7z"/><path fill="#bf8600" stroke="#bf8600" d="M215.9 55.7l3.6 0.7-3.5-2.5-3.6-0.7z"/><path fill="#bf8300" stroke="#bf8300" d="M212.4 53.2l3.6 0.7-3.5-2.5-3.5-0.6z"/><path fill="#bf8100" stroke="#bf8100" d="M209.0 50.8l3.5 0.6-3.5-2.3-3.5-0.6z"/><path fill="#bf7f00" stroke="#bf7f00" d="M205.5 48.5l3.5 0.6-3.4-2.3-3.6-0.6z"/><path fill="#bf7c00" stroke="#bf7c00" d="M202.0 46.2l3.6 0.6-3.4-2.2-3.6-0.5zM198.6 44.1l3.6 0.5-3.4-2.2-3.6-0.4zM195.2 42.0l3.6 0.4-3.5-2-3.5-0.4z"/><path fill="#bf7a00" stroke="#bf7a00" d="M191.8 40.0l3.5 0.4-3.3-2-3.6-0.3z"/></g>
<path d="M182.0 247.1Q141.2 211.3 105.4 193.2Q69.7 175.3 40.0 172.8M182.0 247.1Q226.0 190.3 265.8 174.4Q305.3 159.3 335.7 180.2M183.8 244.7Q143.1 208.7 107.2 190.5Q71.4 172.4 41.6 169.8M180.3 245.6Q224.3 188.6 264.1 172.5Q303.7 157.2 334.1 178.0M185.7 242.4Q144.9 206.2 108.9 187.8Q73.0 169.5 43.1 166.9M178.5 244.1Q222.5 186.9 262.4 170.7Q302.0 155.2 332.6 175.9M187.5 240.0Q146.7 203.7 110.7 185.2Q74.7 166.7 44.7 164.0M176.8 242.6Q220.8 185.2 260.6 168.8Q300.3 153.1 331.0 173.7M189.4 237.8Q148.5 201.2 112.4 182.6Q76.4 164.0 46.3 161.1M175.1 241.1Q219.0 183.6 258.9 167.0Q298.6 151.1 329.4 171.6M191.2 235.5Q150.3 198.8 114.2 180.0Q78.0 161.2 47.8 158.2M173.4 239.7Q217.3 181.9 257.2 165.2Q297.0 149.1 327.9 169.4M193.1 233.3Q152.1 196.4 115.9 177.4Q79.7 158.5 49.4 155.4M171.7 238.2Q215.5 180.3 255.5 163.4Q295.3 147.1 326.3 167.3M194.9 231.1Q154.0 194.1 117.7 174.9Q81.4 155.8 51.0 152.6M170.0 236.8Q213.8 178.7 253.8 161.6Q293.6 145.2 324.7 165.2M196.8 229.0Q155.8 191.7 119.4 172.4Q83.1 153.2 52.6 149.8M168.3 235.4Q212.0 177.2 252.1 159.8Q292.0 143.2 323.2 163.2M198.6 226.9Q157.6 189.5 121.2 170.0Q84.8 150.6 54.2 147.1M166.6 234.0Q210.3 175.6 250.4 158.1Q290.3 141.3 321.6 161.1M200.4 224.8Q159.4 187.2 122.9 167.5Q86.5 148.0 55.8 144.4M164.9 232.6Q208.5 174.0 248.7 156.3Q288.6 139.4 320.0 159.0M202.3 222.8Q161.2 185.0 124.7 165.2Q88.2 145.4 57.4 141.7M163.2 231.3Q206.8 172.5 247.0 154.6Q287.0 137.4 318.5 157.0M204.1 220.8Q163.0 182.8 126.4 162.8Q89.8 142.9 59.0 139.1M161.5 230.0Q205.1 171.0 245.3 152.9Q285.3 135.6 316.9 155.0M205.9 218.8Q164.9 180.7 128.2 160.5Q91.5 140.4 60.6 136.4M159.9 228.6Q203.4 169.5 243.6 151.2Q283.6 133.7 315.3 153.0M207.8 216.9Q166.7 178.6 129.9 158.2Q93.2 138.0 62.2 133.9M158.2 227.3Q201.6 168.0 241.9 149.5Q282.0 131.8 313.7 151.0M209.6 215.0Q168.5 176.5 131.7 156.0Q94.9 135.6 63.8 131.3M156.5 226.0Q199.9 166.5 240.2 147.9Q280.3 130.0 312.2 149.0M211.4 213.2Q170.3 174.5 133.4 153.8Q96.6 133.2 65.4 128.8M154.8 224.8Q198.2 165.1 238.5 146.3Q278.7 128.1 310.6 147.0M213.2 211.4Q172.1 172.5 135.2 151.6Q98.3 130.9 67.1 126.3M153.2 223.5Q196.5 163.7 236.8 144.6Q277.0 126.3 309.0 145.1M215.0 209.6Q173.9 170.5 137.0 149.5Q100.1 128.6 68.7 123.9M151.5 222.3Q194.8 162.2 235.2 143.0Q275.3 124.5 307.5 143.1M216.9 207.9Q175.7 168.6 138.7 147.4Q101.8 126.3 70.3 121.4M149.9 221.0Q193.1 160.8 233.5 141.4Q273.7 122.7 305.9 141.2M218.7 206.2Q177.5 166.7 140.5 145.3Q103.5 124.0 71.9 119.1M148.2 219.8Q191.4 159.5 231.8 139.9Q272.0 121.0 304.3 139.3M220.5 204.5Q179.3 164.9 142.2 143.3Q105.2 121.8 73.6 116.7M146.6 218.6Q189.7 158.1 230.1 138.3Q270.4 119.2 302.8 137.4M222.3 202.9Q181.1 163.1 144.0 141.3Q106.9 119.7 75.2 114.4M144.9 217.5Q188.0 156.8 228.4 136.8Q268.7 117.5 301.2 135.5M224.1 201.3Q182.9 161.3 145.7 139.3Q108.6 117.5 76.8 112.1M143.3 216.3Q186.3 155.4 226.8 135.2Q267.1 115.8 299.6 133.6M225.9 199.8Q184.7 159.5 147.5 137.4Q110.3 115.4 78.5 109.8M141.7 215.2Q184.6 154.1 225.1 133.7Q265.4 114.1 298.1 131.8M227.7 198.2Q186.5 157.9 149.3 135.5Q112.0 113.4 80.1 107.6M140.0 214.0Q182.9 152.8 223.4 132.2Q263.8 112.4 296.5 129.9M229.4 196.8Q188.3 156.2 151.0 133.7Q113.7 111.3 81.8 105.4M138.4 212.9Q181.2 151.5 221.8 130.7Q262.1 110.7 294.9 128.1M231.2 195.3Q190.1 154.6 152.8 131.9Q115.5 109.3 83.4 103.3M136.8 211.8Q179.5 150.3 220.1 129.3Q260.5 109.0 293.4 126.3M233.0 193.9Q191.9 153.0 154.5 130.1Q117.2 107.4 85.0 101.2M135.2 210.7Q177.9 149.0 218.4 127.8Q258.8 107.4 291.8 124.5M234.8 192.6Q193.7 151.4 156.3 128.4Q118.9 105.4 86.7 99.1M133.6 209.7Q176.2 147.8 216.8 126.4Q257.2 105.8 290.2 122.7M236.5 191.2Q195.5 149.9 158.0 126.7Q120.6 103.6 88.3 97.0M132.0 208.6Q174.5 146.6 215.1 125.0Q255.6 104.2 288.7 120.9M238.3 190.0Q197.3 148.5 159.8 125.0Q122.3 101.7 90.0 95.0M130.4 207.6Q172.9 145.4 213.5 123.6Q253.9 102.6 287.1 119.2M240.1 188.7Q199.0 147.0 161.5 123.4Q124.0 99.9 91.6 93.0M128.8 206.6Q171.2 144.2 211.8 122.2Q252.3 101.0 285.6 117.5M241.8 187.5Q200.8 145.6 163.3 121.8Q125.8 98.1 93.3 91.1M127.2 205.6Q169.5 143.0 210.2 120.9Q250.7 99.4 284.0 115.7M243.6 186.3Q202.6 144.3 165.0 120.3Q127.5 96.4 94.9 89.2M125.6 204.6Q167.9 141.9 208.5 119.5Q249.0 97.9 282.4 114.0M245.3 185.2Q204.3 142.9 166.7 118.7Q129.2 94.7 96.6 87.3M124.0 203.6Q166.2 140.7 206.9 118.2Q247.4 96.3 280.9 112.3M247.1 184.1Q206.1 141.7 168.5 117.3Q130.9 93.0 98.3 85.4M122.5 202.7Q164.6 139.6 205.3 116.9Q245.8 94.8 279.3 110.6M248.8 183.0Q207.9 140.4 170.2 115.8Q132.6 91.4 99.9 83.6M120.9 201.7Q163.0 138.5 203.6 115.6Q244.1 93.3 277.8 109.0M250.5 182.0Q209.6 139.2 172.0 114.4Q134.3 89.8 101.6 81.8M119.3 200.8Q161.3 137.4 202.0 114.3Q242.5 91.8 276.2 107.3M252.2 181.0Q211.4 138.0 173.7 113.0Q136.1 88.2 103.2 80.1M117.8 199.9Q159.7 136.4 200.4 113.0Q240.9 90.4 274.7 105.7M253.9 180.1Q213.1 136.9 175.4 111.7Q137.8 86.7 104.9 78.4M116.2 199.0Q158.1 135.3 198.7 111.8Q239.3 88.9 273.1 104.1M255.7 179.1Q214.9 135.8 177.1 110.4Q139.5 85.2 106.5 76.7M114.7 198.2Q156.4 134.3 197.1 110.5Q237.6 87.5 271.6 102.5M257.4 178.3Q216.6 134.7 178.9 109.2Q141.2 83.7 108.2 75.1M113.1 197.3Q154.8 133.3 195.5 109.3Q236.0 86.1 270.0 100.9M259.1 177.4Q218.3 133.7 180.6 108.0Q142.9 82.3 109.8 73.5M111.6 196.5Q153.2 132.3 193.9 108.1Q234.4 84.7 268.5 99.3M260.8 176.6Q220.1 132.7 182.3 106.8Q144.6 80.9 111.5 71.9M110.0 195.6Q151.6 131.3 192.3 106.9Q232.8 83.3 266.9 97.7M262.4 175.9Q221.8 131.8 184.0 105.6Q146.3 79.6 113.2 70.4M108.5 194.8Q150.0 130.3 190.7 105.7Q231.2 81.9 265.4 96.2M264.1 175.1Q223.5 130.9 185.7 104.5Q148.0 78.3 114.8 68.9M107.0 194.0Q148.4 129.4 189.1 104.6Q229.6 80.5 263.8 94.6M265.8 174.4Q225.2 130.0 187.4 103.4Q149.7 77.0 116.5 67.5M105.4 193.2Q146.8 128.4 187.4 103.4Q228.0 79.2 262.3 93.1M267.5 173.8Q226.9 129.2 189.2 102.4Q151.4 75.8 118.1 66.0M103.9 192.5Q145.2 127.5 185.9 102.3Q226.4 77.9 260.7 91.6M269.1 173.1Q228.6 128.4 190.9 101.4Q153.1 74.6 119.8 64.6M102.4 191.7Q143.6 126.6 184.3 101.2Q224.8 76.6 259.2 90.1M270.8 172.6Q230.3 127.6 192.6 100.5Q154.8 73.4 121.4 63.3M100.9 191.0Q142.0 125.7 182.7 100.1Q223.2 75.3 257.7 88.7M272.4 172.0Q232.0 126.9 194.3 99.5Q156.5 72.3 123.1 62.0M99.4 190.3Q140.4 124.8 181.1 99.0Q221.6 74.0 256.1 87.2M274.1 171.5Q233.7 126.2 195.9 98.6Q158.2 71.2 124.7 60.7M97.9 189.5Q138.9 124.0 179.5 98.0Q220.0 72.7 254.6 85.8M275.7 171.0Q235.4 125.5 197.6 97.8Q159.9 70.2 126.4 59.4M96.4 188.9Q137.3 123.1 177.9 96.9Q218.4 71.5 253.0 84.3M277.3 170.6Q237.1 124.9 199.3 97.0Q161.6 69.1 128.0 58.2M94.9 188.2Q135.7 122.3 176.3 95.9Q216.8 70.3 251.5 82.9M278.9 170.2Q238.8 124.4 201.0 96.2Q163.3 68.2 129.7 57.1M93.5 187.5Q134.2 121.5 174.8 94.9Q215.2 69.0 250.0 81.5M280.5 169.8Q240.4 123.8 202.7 95.5Q164.9 67.2 131.3 55.9M92.0 186.9Q132.6 120.7 173.2 93.9Q213.6 67.9 248.5 80.1M282.1 169.5Q242.1 123.3 204.3 94.8Q166.6 66.3 133.0 54.8M90.5 186.2Q131.1 119.9 171.6 92.9Q212.1 66.7 246.9 78.7M283.7 169.2Q243.8 122.8 206.0 94.1Q168.3 65.5 134.6 53.8M89.1 185.6Q129.5 119.2 170.1 92.0Q210.5 65.5 245.4 77.4M285.3 168.9Q245.4 122.4 207.7 93.5Q170.0 64.6 136.3 52.7M87.6 185.0Q128.0 118.4 168.5 91.0Q208.9 64.3 243.9 76.1M286.9 168.7Q247.0 122.0 209.3 92.9Q171.6 63.8 137.9 51.7M86.2 184.4Q126.4 117.7 166.9 90.1Q207.3 63.2 242.4 74.7M288.5 168.5Q248.7 121.6 211.0 92.3Q173.3 63.1 139.6 50.8M84.7 183.9Q124.9 117.0 165.4 89.2Q205.8 62.1 240.8 73.4M290.1 168.3Q250.3 121.3 212.6 91.8Q175.0 62.3 141.2 49.8M83.3 183.3Q123.4 116.3 163.8 88.3Q204.2 61.0 239.3 72.1M291.6 168.2Q251.9 121.0 214.3 91.3Q176.6 61.7 142.8 48.9M81.8 182.8Q121.8 115.6 162.3 87.4Q202.6 59.9 237.8 70.8M293.2 168.1Q253.6 120.8 215.9 90.8Q178.3 61.0 144.5 48.1M80.4 182.2Q120.3 114.9 160.8 86.5Q201.1 58.8 236.3 69.6M294.7 168.0Q255.2 120.6 217.5 90.4Q179.9 60.4 146.1 47.3M79.0 181.7Q118.8 114.3 159.2 85.7Q199.5 57.8 234.8 68.3M296.2 168.0Q256.8 120.4 219.2 90.0Q181.6 59.8 147.7 46.5M77.5 181.2Q117.3 113.6 157.7 84.8Q198.0 56.7 233.3 67.1M297.8 168.0Q258.4 120.2 220.8 89.7Q183.2 59.3 149.3 45.7M76.1 180.7Q115.8 113.0 156.2 84.0Q196.4 55.7 231.8 65.9M299.3 168.0Q260.0 120.1 222.4 89.4Q184.9 58.8 151.0 45.0M74.7 180.3Q114.3 112.4 154.6 83.2Q194.9 54.7 230.3 64.7M300.8 168.1Q261.5 120.0 224.0 89.1Q186.5 58.3 152.6 44.3M73.3 179.8Q112.8 111.8 153.1 82.4Q193.3 53.7 228.7 63.5M302.3 168.2Q263.1 120.0 225.6 88.9Q188.2 57.8 154.2 43.7M71.9 179.4Q111.3 111.2 151.6 81.6Q191.8 52.7 227.2 62.3M303.8 168.4Q264.7 120.0 227.2 88.6Q189.8 57.4 155.8 43.1M70.5 178.9Q109.8 110.7 150.1 80.8Q190.2 51.8 225.7 61.1M305.3 168.5Q266.3 120.0 228.8 88.5Q191.4 57.1 157.4 42.5M69.1 178.5Q108.4 110.1 148.6 80.1Q188.7 50.8 224.3 60.0M306.7 168.7Q267.8 120.1 230.4 88.3Q193.0 56.7 159.0 42.0M67.8 178.1Q106.9 109.6 147.1 79.4Q187.2 49.9 222.8 58.8M308.2 169.0Q269.4 120.1 232.0 88.2Q194.6 56.4 160.6 41.5M66.4 177.7Q105.4 109.1 145.6 78.7Q185.6 49.0 221.3 57.7M309.7 169.3Q270.9 120.3 233.6 88.2Q196.3 56.2 162.2 41.0M65.0 177.3Q103.9 108.6 144.1 78.0Q184.1 48.1 219.8 56.6M311.1 169.6Q272.4 120.4 235.1 88.1Q197.9 56.0 163.8 40.5M63.6 177.0Q102.5 108.1 142.6 77.3Q182.6 47.2 218.3 55.5M312.6 169.9Q274.0 120.6 236.7 88.1Q199.5 55.8 165.4 40.1M62.3 176.6Q101.0 107.6 141.1 76.6Q181.1 46.3 216.8 54.5M314.0 170.3Q275.5 120.8 238.2 88.2Q201.1 55.6 167.0 39.8M60.9 176.3Q99.6 107.2 139.6 75.9Q179.6 45.4 215.3 53.4M315.4 170.7Q277.0 121.1 239.8 88.2Q202.6 55.5 168.6 39.4M59.6 176.0Q98.1 106.7 138.1 75.3Q178.1 44.6 213.8 52.3M316.8 171.1Q278.5 121.4 241.3 88.3Q204.2 55.4 170.2 39.1M58.2 175.7Q96.7 106.3 136.7 74.7Q176.5 43.8 212.4 51.3M318.2 171.5Q280.0 121.7 242.9 88.5Q205.8 55.3 171.8 38.9M56.9 175.4Q95.3 105.9 135.2 74.1Q175.0 43.0 210.9 50.3M319.6 172.0Q281.5 122.1 244.4 88.6Q207.4 55.3 173.4 38.6M55.6 175.1Q93.8 105.5 133.7 73.5Q173.5 42.2 209.4 49.3M321.0 172.5Q283.0 122.4 245.9 88.8Q209.0 55.3 174.9 38.4M54.2 174.9Q92.4 105.1 132.3 72.9Q172.0 41.4 207.9 48.3M322.4 173.1Q284.4 122.9 247.5 89.1Q210.5 55.4 176.5 38.3M52.9 174.6Q91.0 104.7 130.8 72.3Q170.6 40.6 206.5 47.3M323.8 173.7Q285.9 123.3 249.0 89.3Q212.1 55.4 178.1 38.1M51.6 174.4Q89.6 104.4 129.3 71.8Q169.1 39.9 205.0 46.4M325.1 174.3Q287.3 123.8 250.5 89.6Q213.6 55.6 179.6 38.0M50.3 174.1Q88.2 104.0 127.9 71.2Q167.6 39.2 203.6 45.4M326.5 174.9Q288.8 124.3 252.0 89.9Q215.2 55.7 181.2 38.0M49.0 173.9Q86.8 103.7 126.5 70.7Q166.1 38.4 202.1 44.5M327.8 175.6Q290.2 124.8 253.5 90.3Q216.7 55.9 182.7 37.9M47.7 173.7Q85.4 103.4 125.0 70.2Q164.6 37.7 200.6 43.6M329.2 176.3Q291.7 125.4 255.0 90.7Q218.3 56.1 184.3 37.9M46.4 173.5Q84.0 103.1 123.6 69.7Q163.1 37.0 199.2 42.7M330.5 177.0Q293.1 126.0 256.4 91.1Q219.8 56.3 185.8 38.0M45.1 173.4Q82.6 102.8 122.1 69.2Q161.7 36.4 197.7 41.8M331.8 177.8Q294.5 126.7 257.9 91.6Q221.3 56.6 187.4 38.0M43.8 173.2Q81.2 102.5 120.7 68.8Q160.2 35.7 196.3 40.9M333.1 178.5Q295.9 127.3 259.4 92.1Q222.9 56.9 188.9 38.1M42.5 173.1Q79.8 102.3 119.3 68.3Q158.7 35.1 194.8 40.1M334.4 179.4Q297.3 128.0 260.8 92.6Q224.4 57.3 190.4 38.3M41.3 172.9Q78.5 102.0 117.9 67.9Q157.3 34.4 193.4 39.3M335.7 180.2Q298.7 128.7 262.3 93.1Q225.9 57.6 192.0 38.4M40.0 172.8Q77.1 101.8 116.5 67.5Q155.8 33.8 192.0 38.4" fill="none" stroke="#000" stroke-width="0.60" stroke-opacity="0.70"/>
<circle cx="187.4" cy="100.0" r="2.6" fill="#d01818" stroke="#701010" stroke-width="0.5"/>
<text x="13.0" y="166.4" font-size="9.5" text-anchor="middle" class="tt" transform="rotate(-90 13.0 166.4)">Soluble protein (mg kg-1)</text>
<text x="76.5" y="331.0" font-size="9.4" text-anchor="middle" class="tt">B: Total P (g kg-1)</text>
<text x="300.7" y="334.0" font-size="9.4" text-anchor="middle" class="tt">A: Available P (mg kg-1)</text>
<text x="67.5" y="29.9" class="lt">a</text></g>
<g><path d="M48.1 572.2L183.8 488.4M183.8 488.4L328.6 564.9M46.0 551.2L183.8 468.6M183.8 468.6L330.8 544.1M43.9 530.3L183.8 448.8M183.8 448.8L333.0 523.2M41.9 509.3L183.8 429.0M183.8 429.0L335.2 502.4M39.8 488.3L183.8 409.2M183.8 409.2L337.5 481.6M37.7 467.4L183.8 389.4M183.8 389.4L339.7 460.7M35.6 446.4L183.8 369.6M183.8 369.6L341.9 439.9M48.1 572.2L35.6 446.4M75.2 555.4L65.2 431.0M102.4 538.7L94.9 415.7M129.5 521.9L124.5 400.3M156.7 505.2L154.2 385.0M183.8 488.4L183.8 369.6M220.0 507.5L223.3 387.2M256.2 526.6L262.9 404.8M292.4 545.8L302.4 422.3M328.6 564.9L341.9 439.9M52.0 609.5L48.1 572.2M325.1 603.2L328.6 564.9" fill="none" stroke="#1a1a1a" stroke-width="0.62"/>
<path d="M52.0 609.5 L184.3 525.3 L325.1 603.2 L194.9 706.6 Z" fill="#ffff00"/>
<path d="M56.6 607.9 L57.3 610.0 L58.0 612.2 L58.7 614.3M319.7 606.4 L318.3 604.0 L317.0 601.6 L315.7 599.3" fill="none" stroke="#00ffd6" stroke-width="0.70"/>
<path d="M75.0 596.9 L75.6 598.7 L76.1 600.6 L76.7 602.3 L77.3 604.1 L77.9 605.9 L78.5 607.7 L79.1 609.4 L79.8 611.2 L80.4 612.9 L81.0 614.7 L81.7 616.4 L82.4 618.2 L83.0 619.9 L83.7 621.7 L84.4 623.5 L85.2 625.3 L85.9 627.1 L86.7 628.9 L87.4 630.7 L88.2 632.6 L89.0 634.5M303.5 617.9 L302.3 615.5 L301.2 613.2 L300.1 611.0 L299.0 608.8 L297.9 606.7 L296.8 604.7 L295.7 602.6 L294.7 600.7 L293.6 598.8 L292.6 596.9 L291.6 595.0 L290.6 593.2 L289.5 591.5 L288.5 589.7 L287.5 588.0 L286.5 586.3 L285.5 584.6 L284.5 582.9 L283.5 581.3 L282.5 579.7" fill="none" stroke="#00ff1a" stroke-width="0.70"/>
<path d="M97.7 581.9 L98.1 583.5 L98.5 585.1 L99.0 586.6 L99.4 588.1 L99.9 589.6 L100.3 591.1 L100.8 592.5 L101.3 593.9 L101.7 595.3 L102.2 596.7 L102.7 598.1 L103.1 599.4 L103.6 600.7 L104.1 602.1 L104.6 603.4 L105.1 604.7 L105.6 606.0 L106.1 607.3 L106.6 608.6 L107.1 609.9 L107.6 611.2 L108.2 612.5 L108.7 613.8 L109.3 615.1 L109.8 616.4 L110.4 617.7 L111.0 619.1 L111.6 620.4 L112.2 621.8 L112.8 623.1 L113.5 624.5 L114.1 625.9 L114.8 627.3 L115.5 628.7 L116.2 630.2 L117.0 631.7 L117.7 633.2 L118.5 634.7 L119.3 636.3 L120.2 637.9 L121.0 639.5 L121.9 641.2 L122.9 642.9 L123.9 644.6 L124.9 646.4 L126.0 648.3 L127.1 650.2 L128.3 652.2 L129.5 654.2 L130.8 656.3 L132.2 658.5 L133.7 660.8 L135.2 663.1 L136.8 665.6 L138.5 668.1M282.3 636.5 L281.4 633.8 L280.5 631.3 L279.6 628.8 L278.7 626.5 L277.8 624.2 L276.9 622.0 L276.1 620.0 L275.3 617.9 L274.4 616.0 L273.6 614.1 L272.8 612.3 L272.0 610.5 L271.2 608.8 L270.4 607.2 L269.7 605.6 L268.9 604.0 L268.1 602.5 L267.4 601.0 L266.7 599.5 L265.9 598.1 L265.2 596.7 L264.5 595.3 L263.7 593.9 L263.0 592.6 L262.3 591.3 L261.6 590.0 L260.9 588.7 L260.2 587.4 L259.5 586.2 L258.7 584.9 L258.0 583.7 L257.3 582.5 L256.6 581.3 L255.9 580.1 L255.1 578.8 L254.4 577.6 L253.7 576.4 L252.9 575.2 L252.1 574.0 L251.4 572.8 L250.6 571.6 L249.8 570.4 L249.0 569.2 L248.2 568.0 L247.4 566.8 L246.5 565.5 L245.7 564.3 L244.8 563.0 L243.9 561.7 L243.0 560.4 L242.0 559.1 L241.1 557.8 L240.1 556.4" fill="none" stroke="#a2ff00" stroke-width="0.70"/>
<path d="M213.9 574.7 L213.4 573.9 L212.8 573.2 L212.3 572.4 L211.7 571.6 L211.1 570.7 L210.5 569.9 L209.8 569.0 L209.1 568.1 L208.4 567.2 L207.7 566.3 L206.9 565.3 L206.1 564.3 L205.3 563.3 L204.4 562.3 L203.4 561.2 L202.4 560.1 L201.4 558.9 L200.3 557.7 L199.1 556.5 L197.9 555.2 L196.6 553.9 L195.2 552.5 L193.7 551.1 L192.1 549.7 L190.5 548.2 L188.7 546.8 L186.8 545.2 L184.8 543.7 L182.6 542.2 L180.4 540.7 L178.0 539.2 L175.5 537.8 L172.9 536.4 L170.2 535.2M133.4 558.9 L133.3 560.8 L133.3 562.6 L133.4 564.3 L133.5 566.0 L133.6 567.6 L133.7 569.1 L133.9 570.6 L134.1 572.1 L134.3 573.5 L134.5 574.8 L134.8 576.1 L135.0 577.3 L135.2 578.5 L135.5 579.6 L135.8 580.7 L136.0 581.8 L136.3 582.9 L136.6 583.9 L136.8 584.8 L137.1 585.8 L137.4 586.7 L137.6 587.6 L137.9 588.5 L138.2 589.4 L138.5 590.2 L138.7 591.0 L139.0 591.8 L139.3 592.6 L139.5 593.4 L139.8 594.1 L140.1 594.9 L140.4 595.6 L140.7 596.4 L140.9 597.1 L141.2 597.8 L141.5 598.5 L141.8 599.2 L142.1 599.9 L142.4 600.6 L142.6 601.2 L142.9 601.9 L143.2 602.6 L143.5 603.3 L143.8 603.9 L144.1 604.6 L144.5 605.3 L144.8 606.0 L145.1 606.6 L145.4 607.3 L145.7 608.0 L146.1 608.7 L146.4 609.4 L146.8 610.1 L147.1 610.8 L147.5 611.5 L147.9 612.2 L148.3 612.9 L148.7 613.7 L149.1 614.4 L149.5 615.2 L149.9 615.9 L150.4 616.7 L150.8 617.5 L151.3 618.4 L151.8 619.2 L152.3 620.1 L152.9 620.9 L153.4 621.8 L154.0 622.8 L154.6 623.7 L155.2 624.7 L155.9 625.7 L156.6 626.8 L157.3 627.8 L158.1 628.9 L158.9 630.1 L159.8 631.3 L160.7 632.5 L161.6 633.8 L162.6 635.1 L163.7 636.5 L164.9 637.9 L166.1 639.4 L167.4 641.0 L168.8 642.6 L170.3 644.2 L171.9 646.0 L173.6 647.7 L175.5 649.6 L177.4 651.5 L179.6 653.4 L181.8 655.4 L184.3 657.3 L186.8 659.3 L189.6 661.3 L192.5 663.2 L195.6 665.0 L198.8 666.6 L202.1 668.1 L205.5 669.3 L208.9 670.2 L212.3 670.8 L215.6 671.0 L218.8 670.9 L221.9 670.3 L224.7 669.3 L227.2 667.9 L229.5 666.2 L231.5 664.1 L233.2 661.9 L234.6 659.4 L235.7 656.9 L236.6 654.3 L237.2 651.6 L237.7 648.9 L238.0 646.3 L238.2 643.7 L238.2 641.2 L238.2 638.8 L238.1 636.5 L237.9 634.3 L237.6 632.2 L237.3 630.1 L237.0 628.2 L236.7 626.3 L236.3 624.6 L235.9 622.9 L235.5 621.3 L235.2 619.7 L234.8 618.3 L234.4 616.8 L234.0 615.5 L233.6 614.2 L233.1 613.0 L232.8 611.8 L232.4 610.6 L232.0 609.5 L231.6 608.4 L231.2 607.4 L230.8 606.4 L230.4 605.4 L230.0 604.5 L229.7 603.6 L229.3 602.7 L228.9 601.8 L228.6 601.0 L228.2 600.2 L227.9 599.4 L227.5 598.6 L227.1 597.8 L226.8 597.1 L226.4 596.3 L226.1 595.6 L225.7 594.9 L225.4 594.2 L225.0 593.5 L224.7 592.8 L224.4 592.1 L224.0 591.5 L223.7 590.8 L223.3 590.1 L223.0 589.5 L222.6 588.8 L222.2 588.2 L221.9 587.5 L221.5 586.9 L221.2 586.2 L220.8 585.6 L220.4 584.9 L220.0 584.3 L219.6 583.6 L219.3 583.0 L218.9 582.3 L218.5 581.7 L218.0 581.0 L217.6 580.3 L217.2 579.7 L216.8 579.0 L216.3 578.3 L215.9 577.6 L215.4 576.9 L214.9 576.2 L214.4 575.4 L213.9 574.7" fill="none" stroke="#ffae00" stroke-width="0.70"/>
<path d="M52.0 609.5 L194.9 706.6 L325.1 603.2" fill="none" stroke="#222" stroke-width="0.6"/>
<g fill="#111"><circle cx="194.9" cy="706.6" r="1.1"/><circle cx="220.9" cy="685.9" r="1.1"/><circle cx="247.0" cy="665.2" r="1.1"/><circle cx="273.0" cy="644.6" r="1.1"/><circle cx="299.1" cy="623.9" r="1.1"/><circle cx="325.1" cy="603.2" r="1.1"/><circle cx="194.9" cy="706.6" r="1.1"/><circle cx="159.2" cy="682.3" r="1.1"/><circle cx="123.5" cy="658.0" r="1.1"/><circle cx="87.7" cy="633.8" r="1.1"/><circle cx="52.0" cy="609.5" r="1.1"/><circle cx="48.1" cy="572.2" r="1.1"/><circle cx="46.0" cy="551.2" r="1.1"/><circle cx="43.9" cy="530.3" r="1.1"/><circle cx="41.9" cy="509.3" r="1.1"/><circle cx="39.8" cy="488.3" r="1.1"/><circle cx="37.7" cy="467.4" r="1.1"/><circle cx="35.6" cy="446.4" r="1.1"/></g>
<g font-size="6.5" class="tk"><text x="198.8" y="712.8">70.75</text><text x="224.8" y="692.1">89.4</text><text x="250.9" y="671.4">108.05</text><text x="276.9" y="650.8">126.7</text><text x="303.0" y="630.1">145.35</text><text x="329.0" y="609.4">164</text><text x="191.4" y="713.1" text-anchor="end">0.62</text><text x="155.7" y="688.8" text-anchor="end">0.88</text><text x="120.0" y="664.5" text-anchor="end">1.14</text><text x="84.2" y="640.3" text-anchor="end">1.4</text><text x="48.5" y="616.0" text-anchor="end">1.66</text><text x="44.4" y="571.3" text-anchor="end">1.4</text><text x="42.3" y="550.3" text-anchor="end">1.6</text><text x="40.2" y="529.4" text-anchor="end">1.8</text><text x="38.1" y="508.4" text-anchor="end">2</text><text x="36.1" y="487.4" text-anchor="end">2.2</text><text x="34.0" y="466.5" text-anchor="end">2.4</text><text x="31.9" y="445.5" text-anchor="end">2.6</text></g>
<path d="M195.8 572.6 L195.7 609.5" stroke="#3c3c00" stroke-width="0.8"/>
<circle cx="195.7" cy="609.5" r="2.85" fill="#f0868e" stroke="#6a3a20" stroke-width="0.6"/>
<path d="M44.6 537.0 L47.2 562.8" stroke="#3c3c00" stroke-width="0.8"/>
<circle cx="47.2" cy="562.8" r="2.85" fill="#f0868e" stroke="#6a3a20" stroke-width="0.6"/>
<path d="M332.3 532.4 L330.9 546.3" stroke="#3c3c00" stroke-width="0.8"/>
<circle cx="330.9" cy="546.3" r="2.85" fill="#f0868e" stroke="#6a3a20" stroke-width="0.6"/>
<g stroke-width="0.6" stroke-linejoin="round"><path fill="#efff00" stroke="#efff00" d="M195.8 572.6l4.1-4.6-4.4-2.5-4 4.7zM191.5 570.2l4-4.7-4.4-2.4-4 4.7zM187.1 567.8l4-4.7-4.3-2.4-4 4.8zM165.6 550.2l3.9-4.9-4.1-1.9-4 5zM153.0 538.3l3.9-5-4-1.6-3.9 5zM144.8 528.7l3.9-4.9-4-1.5-3.8 5zM132.9 512.4l3.8-4.9-3.8-1.2-3.8 5zM110.7 473.7l3.7-4.5-3.6-0.6-3.6 4.5zM271.6 499.4l3.3-0.2-4.1-3.7-3.3 0.2z"/><path fill="#ecff00" stroke="#ecff00" d="M182.8 565.5l4-4.8-4.3-2.3-4 4.9zM136.9 519.7l3.8-4.9-3.9-1.3-3.8 5zM104.0 457.9l3.6-4.2-3.5-0.4-3.5 4.3zM265.2 484.3l3.3 0.1-4.1-3.6-3.2 0zM259.7 473.9l3.2 0.2-3.9-3.5-3.3-0.2z"/><path fill="#e9ff00" stroke="#e9ff00" d="M178.5 563.3l4-4.9-4.3-2.2-4 5zM174.2 561.2l4-5-4.2-2-4 4.9zM161.4 548.4l4-5-4.2-1.8-3.9 5zM149.0 536.7l3.9-5-4.1-1.5-3.8 5zM125.3 504.3l3.7-4.9-3.7-1-3.8 5zM121.5 497.6l3.8-4.8-3.8-0.9-3.7 4.8zM117.8 491.1l3.8-4.8-3.7-0.7-3.8 4.8zM114.2 484.9l3.7-4.7-3.6-0.7-3.7 4.7zM107.3 468.1l3.6-4.5-3.5-0.5-3.6 4.5zM278.3 515.9l3.3-0.5-4.2-3.9-3.3 0.5zM270.8 495.5l3.3-0.1-4.1-3.8-3.3 0.2zM254.3 464.1l3.3 0.4-3.9-3.4-3.3-0.3z"/><path fill="#e2ff00" stroke="#e2ff00" d="M170.0 559.1l4-4.9-4.2-2.1-4 5.1zM133.0 518.5l3.8-5-3.9-1.1-3.8 5zM107.2 473.1l3.6-4.5-3.5-0.5-3.7 4.6zM100.7 452.9l3.6-4.2-3.4-0.3-3.6 4.3zM276.6 507.3l3.3-0.2-4.1-3.9-3.4 0.3z"/><path fill="#dfff00" stroke="#dfff00" d="M165.8 557.2l4-5.1-4.2-1.9-4 5.1zM153.2 545.0l3.9-5.1-4.1-1.6-3.9 5.1zM145.0 535.2l3.8-5-4-1.5-3.8 5.1zM136.9 526.0l3.9-5-3.9-1.3-3.9 5.1zM121.5 503.4l3.8-5-3.8-0.8-3.8 4.9zM117.8 496.7l3.7-4.8-3.7-0.8-3.7 4.9zM114.1 490.4l3.8-4.8-3.7-0.7-3.7 4.8zM275.8 503.2l3.3-0.1-4.2-3.9-3.3 0.2zM269.3 488.0l3.2 0.1-4-3.7-3.3-0.1zM263.7 477.4l3.2 0.3-4-3.6-3.2-0.2z"/><path fill="#dcff00" stroke="#dcff00" d="M161.6 555.3l4-5.1-4.2-1.8-4 5.1zM125.3 510.3l3.8-5-3.8-1-3.8 5zM110.6 484.2l3.7-4.7-3.6-0.6-3.7 4.8zM103.8 467.6l3.6-4.5-3.5-0.4-3.6 4.6zM100.6 457.6l3.5-4.3-3.4-0.4-3.6 4.4zM274.9 499.2l3.3 0-4.1-3.8-3.3 0.1zM258.3 467.5l3.2 0.4-3.9-3.4-3.3-0.4z"/><path fill="#d6ff00" stroke="#d6ff00" d="M157.4 553.5l4-5.1-4.1-1.8-4 5.2zM133.0 524.8l3.9-5.1-3.9-1.2-3.9 5.2zM103.6 472.7l3.7-4.6-3.5-0.5-3.7 4.7zM100.4 462.4l3.6-4.5-3.4-0.3-3.6 4.5zM280.8 511.2l3.3-0.2-4.2-3.9-3.3 0.2zM274.1 495.4l3.3 0.1-4.1-3.8-3.3-0.1zM262.9 474.1l3.3 0.4-4-3.5-3.2-0.4z"/><path fill="#cfff00" stroke="#cfff00" d="M153.3 551.8l4-5.2-4.1-1.6-4 5.2zM137.0 532.5l3.9-5.2-4-1.3-3.8 5.3zM125.3 516.4l3.8-5.1-3.8-1-3.8 5.1zM107.0 483.7l3.7-4.8-3.6-0.6-3.7 4.9zM100.3 467.3l3.6-4.6-3.5-0.3-3.6 4.6zM97.1 457.3l3.6-4.4-3.4-0.2-3.6 4.4zM273.3 491.7l3.2 0.2-4-3.8-3.2-0.1zM262.2 471.0l3.2 0.5-3.9-3.6-3.2-0.4z"/><path fill="#c9ff00" stroke="#c9ff00" d="M149.2 550.2l4-5.2-4.1-1.6-3.9 5.3zM141.0 540.5l4-5.3-4-1.4-3.9 5.3zM114.0 501.8l3.8-5.1-3.7-0.7-3.7 5.1zM97.0 462.1l3.6-4.5-3.5-0.3-3.5 4.6zM278.2 499.2l3.3 0.2-4.1-3.9-3.3-0.1zM272.5 488.1l3.2 0.3-4-3.7-3.2-0.3zM266.9 477.7l3.2 0.5-3.9-3.7-3.3-0.4z"/><path fill="#c2ff00" stroke="#c2ff00" d="M145.2 548.7l3.9-5.3-4-1.5-4 5.4zM137.1 539.1l3.9-5.3-4-1.3-3.9 5.4zM125.3 522.7l3.8-5.3-3.8-1-3.8 5.3zM103.4 483.2l3.7-4.9-3.6-0.4-3.6 4.9zM284.1 511.0l3.2 0-4.1-4-3.3 0.1zM277.4 495.5l3.2 0.3-4.1-3.9-3.2-0.2zM271.7 484.7l3.2 0.4-4-3.7-3.2-0.4z"/><path fill="#b9ff00" stroke="#b9ff00" d="M141.1 547.3l4-5.4-4.1-1.4-3.9 5.4zM133.1 537.9l3.9-5.4-3.9-1.2-3.9 5.4zM117.7 514.6l3.8-5.3-3.8-0.8-3.8 5.3zM106.8 494.8l3.7-5.1-3.6-0.5-3.7 5.1zM103.3 488.7l3.7-5-3.6-0.5-3.6 5zM96.7 472.0l3.6-4.7-3.5-0.3-3.6 4.8zM93.6 461.9l3.5-4.6-3.4-0.2-3.5 4.7zM282.3 503.1l3.2 0.3-4-4-3.3-0.2zM270.9 481.4l3.2 0.5-4-3.7-3.2-0.5z"/><path fill="#b3ff00" stroke="#b3ff00" d="M137.1 545.9l3.9-5.4-3.9-1.4-3.9 5.5zM125.3 529.1l3.8-5.4-3.8-1-3.8 5.4zM99.9 482.8l3.6-4.9-3.5-0.4-3.6 5zM93.4 466.8l3.6-4.7-3.4-0.2-3.6 4.7zM288.2 515.1l3.3 0-4.2-4.1-3.2 0zM281.5 499.4l3.2 0.3-4.1-3.9-3.2-0.3zM275.7 488.4l3.2 0.5-4-3.8-3.2-0.4z"/><path fill="#a9ff00" stroke="#a9ff00" d="M133.2 544.6l3.9-5.5-4-1.2-3.9 5.5zM121.5 528.1l3.8-5.4-3.8-1-3.9 5.5zM99.8 488.2l3.6-5-3.5-0.4-3.7 5.1zM93.2 471.8l3.6-4.8-3.4-0.2-3.6 4.8zM286.4 507.1l3.2 0.3-4.1-4-3.2-0.3z"/><path fill="#9fff00" stroke="#9fff00" d="M129.2 543.4l3.9-5.5-3.9-1.2-3.9 5.6zM113.9 520.0l3.8-5.4-3.8-0.8-3.7 5.4zM103.1 500.0l3.7-5.2-3.6-0.5-3.7 5.2zM99.6 493.8l3.7-5.1-3.5-0.5-3.7 5.2zM93.1 476.9l3.6-4.9-3.5-0.2-3.6 5z"/><path fill="#96ff00" stroke="#96ff00" d="M125.3 542.3l3.9-5.6-3.9-1.1-3.8 5.7zM106.6 512.4l3.7-5.4-3.7-0.6-3.7 5.5zM92.9 482.2l3.6-5-3.4-0.3-3.6 5.1zM290.6 511.2l3.1 0.4-4.1-4.2-3.2-0.3z"/><path fill="#89ff00" stroke="#89ff00" d="M121.5 541.3l3.8-5.7-3.8-1-3.9 5.7zM86.4 471.5l3.6-4.9-3.4-0.1-3.5 5zM288.7 503.8l3.2 0.5-4.1-4.1-3.1-0.5z"/><path fill="#80ff00" stroke="#80ff00" d="M117.6 540.3l3.9-5.7-3.9-0.9-3.8 5.8zM92.6 493.2l3.6-5.3-3.5-0.3-3.6 5.3zM86.2 476.6l3.6-5-3.4-0.1-3.5 5.1zM293.7 511.6l3.2 0.5-4.1-4.2-3.2-0.5z"/><path fill="#73ff00" stroke="#73ff00" d="M113.8 539.5l3.8-5.8-3.8-0.9-3.8 5.9zM92.4 498.8l3.7-5.4-3.5-0.2-3.6 5.4z"/><path fill="#66ff00" stroke="#66ff00" d="M110.0 538.7l3.8-5.9-3.7-0.8-3.8 5.9zM92.3 504.6l3.7-5.5-3.6-0.3-3.6 5.6zM82.7 481.8l3.5-5.2-3.3 0-3.6 5.3zM296.9 512.1l3.1 0.6-4.1-4.2-3.1-0.6z"/><path fill="#59ff00" stroke="#59ff00" d="M106.3 537.9l3.8-5.9-3.7-0.7-3.8 6zM102.7 530.7l3.7-5.8-3.7-0.6-3.7 5.9zM92.2 510.6l3.6-5.6-3.5-0.4-3.7 5.7zM82.5 487.2l3.5-5.3-3.3-0.1-3.6 5.4z"/><path fill="#49ff00" stroke="#49ff00" d="M102.6 537.3l3.8-6-3.7-0.6-3.8 6zM88.6 510.3l3.7-5.7-3.5-0.2-3.6 5.7zM79.1 487.2l3.6-5.4-3.4 0.1-3.5 5.4z"/><path fill="#3dff00" stroke="#3dff00" d="M98.9 536.7l3.8-6-3.7-0.5-3.7 6zM95.4 529.7l3.7-6-3.6-0.4-3.7 6zM91.9 522.9l3.7-5.9-3.6-0.3-3.7 5.9zM88.5 516.4l3.7-5.8-3.6-0.3-3.6 5.9zM78.9 492.7l3.6-5.5-3.4 0-3.6 5.5z"/><path fill="#2dff00" stroke="#2dff00" d="M95.3 536.2l3.7-6-3.6-0.5-3.8 6.1zM91.8 529.3l3.7-6-3.6-0.4-3.7 6zM88.3 522.6l3.7-5.9-3.5-0.3-3.7 5.9z"/><path fill="#1dff00" stroke="#1dff00" d="M91.6 535.8l3.8-6.1-3.6-0.4-3.7 6.1zM88.2 528.9l3.7-6-3.6-0.3-3.6 6.1zM84.8 522.3l3.7-5.9-3.5-0.2-3.7 6zM75.3 498.3l3.6-5.6-3.4 0-3.5 5.7z"/><path fill="#0dff00" stroke="#0dff00" d="M88.1 535.4l3.7-6.1-3.6-0.4-3.7 6.2zM84.7 528.7l3.6-6.1-3.5-0.3-3.6 6.2z"/><path fill="#00ff03" stroke="#00ff03" d="M84.5 535.1l3.7-6.2-3.5-0.2-3.7 6.2zM71.8 504.1l3.5-5.8-3.3 0.1-3.5 5.9z"/><path fill="#00ff16" stroke="#00ff16" d="M81.0 534.9l3.7-6.2-3.5-0.2-3.7 6.3zM77.7 528.3l3.6-6.1-3.4-0.1-3.6 6.2zM68.5 504.3l3.5-5.9-3.3 0.2-3.5 5.9z"/><path fill="#00ff29" stroke="#00ff29" d="M77.5 534.8l3.7-6.3-3.5-0.2-3.6 6.4zM74.3 528.3l3.6-6.2-3.4-0.1-3.6 6.3zM65.2 504.5l3.5-5.9-3.3 0.2-3.5 6z"/><path fill="#00ff3d" stroke="#00ff3d" d="M74.1 534.7l3.6-6.4-3.4 0-3.6 6.4zM70.9 528.3l3.6-6.3-3.4 0.1-3.6 6.3z"/><path fill="#00ff50" stroke="#00ff50" d="M70.7 534.7l3.6-6.4-3.4 0-3.6 6.4z"/><path fill="#00ff63" stroke="#00ff63" d="M67.3 534.7l3.6-6.4-3.4 0.1-3.5 6.5z"/><path fill="#00ff76" stroke="#00ff76" d="M64.0 534.9l3.5-6.5-3.3 0.1-3.5 6.6z"/><path fill="#00ff8c" stroke="#00ff8c" d="M60.7 535.1l3.5-6.6-3.3 0.2-3.5 6.6z"/><path fill="#00ffa3" stroke="#00ffa3" d="M57.4 535.3l3.5-6.6-3.3 0.3-3.4 6.6z"/><path fill="#00ffb9" stroke="#00ffb9" d="M54.2 535.6l3.4-6.6-3.2 0.4-3.4 6.6z"/><path fill="#00ffcf" stroke="#00ffcf" d="M51.0 536.0l3.4-6.6-3.2 0.4-3.4 6.7z"/><path fill="#00ffe9" stroke="#00ffe9" d="M47.8 536.5l3.4-6.7-3.1 0.4-3.5 6.8z"/><path fill="#ffff00" stroke="#ffff00" d="M199.9 568.0l4-4.4-4.4-2.6-4 4.5zM195.5 565.5l4-4.5-4.4-2.5-4 4.6zM191.1 563.1l4-4.6-4.3-2.4-4 4.6zM165.4 543.4l3.9-4.7-4.1-1.9-4 4.8zM129.0 499.4l3.8-4.7-3.8-1-3.7 4.7zM125.3 492.8l3.7-4.7-3.7-0.9-3.8 4.7zM121.6 486.3l3.7-4.5-3.7-0.9-3.7 4.7zM117.9 480.2l3.7-4.5-3.6-0.8-3.7 4.6zM110.9 463.6l3.7-4.2-3.6-0.6-3.6 4.3zM107.6 453.7l3.6-4.1-3.5-0.5-3.6 4.2zM268.3 499.7l3.3-0.3-4.1-3.7-3.4 0.4zM261.9 484.4l3.3-0.1-4-3.5-3.4 0.1zM256.4 473.8l3.3 0.1-4-3.5-3.3 0zM246.5 457.5l3.3 0.3-3.9-3.2-3.3-0.2z"/><path fill="#fcff00" stroke="#fcff00" d="M186.8 560.7l4-4.6-4.3-2.3-4 4.6zM182.5 558.4l4-4.6-4.3-2.3-4 4.7zM152.9 531.7l3.9-4.8-4.1-1.6-3.9 4.9zM144.7 522.3l3.9-4.8-4-1.4-3.8 4.9zM132.9 506.3l3.8-4.7-3.9-1.1-3.7 4.8zM114.3 474.3l3.7-4.5-3.6-0.6-3.7 4.5zM267.5 495.7l3.3-0.2-4.1-3.7-3.3 0.3zM251.1 463.9l3.2 0.2-3.9-3.3-3.2-0.2z"/><path fill="#f9ff00" stroke="#f9ff00" d="M178.2 556.2l4-4.7-4.3-2.1-3.9 4.8zM161.2 541.6l4-4.8-4.2-1.8-3.9 4.9zM136.8 513.5l3.8-4.8-3.9-1.2-3.8 4.9zM107.5 458.3l3.6-4.2-3.5-0.4-3.6 4.2zM274.9 516.5l3.4-0.6-4.2-3.9-3.5 0.7zM266.7 491.8l3.3-0.2-4-3.6-3.4 0.2zM261.2 480.8l3.2 0-4-3.5-3.3 0zM255.7 470.4l3.3 0.2-4-3.4-3.2-0.1z"/><path fill="#f5ff00" stroke="#f5ff00" d="M174.0 554.2l3.9-4.8-4.2-2.1-3.9 4.8zM148.8 530.2l3.9-4.9-4-1.5-3.9 4.9zM140.8 521.0l3.8-4.9-3.9-1.3-3.8 4.9zM125.3 498.4l3.7-4.7-3.7-0.9-3.8 4.8zM121.5 491.9l3.8-4.7-3.7-0.9-3.8 4.8zM117.9 485.6l3.7-4.7-3.7-0.7-3.7 4.7zM110.8 468.6l3.7-4.4-3.6-0.6-3.6 4.5zM104.3 448.7l3.6-4-3.5-0.4-3.5 4.1zM274.1 512.0l3.3-0.5-4.2-3.8-3.4 0.5zM273.2 507.7l3.4-0.4-4.2-3.8-3.3 0.4zM250.4 460.8l3.3 0.3-3.9-3.3-3.3-0.3zM245.9 454.6l3.2 0.4-3.9-3.2-3.2-0.3z"/><path fill="#f2ff00" stroke="#f2ff00" d="M169.8 552.1l3.9-4.8-4.2-2-3.9 4.9zM157.1 539.9l3.9-4.9-4.1-1.7-3.9 5zM129.1 505.3l3.7-4.8-3.8-1.1-3.7 4.9zM114.3 479.5l3.7-4.6-3.7-0.6-3.6 4.6zM107.4 463.1l3.6-4.3-3.5-0.5-3.6 4.4zM104.1 453.3l3.6-4.2-3.4-0.4-3.6 4.2zM272.4 503.5l3.4-0.3-4.2-3.8-3.3 0.3zM266.0 488.0l3.3 0-4.1-3.7-3.3 0.1zM260.4 477.3l3.3 0.1-4-3.5-3.3-0.1zM255.0 467.2l3.3 0.3-4-3.4-3.2-0.2z"/><path fill="#e5ff00" stroke="#e5ff00" d="M157.3 546.6l3.9-5-4.1-1.7-3.9 5.1zM140.9 527.3l3.8-5-3.9-1.3-3.9 5zM129.1 511.3l3.8-5-3.8-1-3.8 5zM110.7 478.9l3.6-4.6-3.6-0.6-3.6 4.6zM103.9 462.7l3.6-4.4-3.5-0.4-3.6 4.5zM277.4 511.5l3.4-0.3-4.2-3.9-3.4 0.4zM270.0 491.6l3.3 0.1-4-3.7-3.3 0zM264.4 480.8l3.3 0.2-4-3.6-3.3-0.1zM259.0 470.6l3.2 0.4-3.9-3.5-3.3-0.3z"/><path fill="#d9ff00" stroke="#d9ff00" d="M149.1 543.4l3.9-5.1-4-1.6-3.9 5.2zM141.0 533.8l3.8-5.1-3.9-1.4-3.9 5.2zM129.1 517.4l3.8-5-3.8-1.1-3.8 5.1zM107.1 478.3l3.6-4.6-3.5-0.6-3.7 4.8zM281.6 515.4l3.4-0.2-4.2-4-3.4 0.3zM268.5 484.4l3.2 0.3-4-3.7-3.3-0.2z"/><path fill="#d2ff00" stroke="#d2ff00" d="M145.1 541.9l3.9-5.2-4-1.5-4 5.3zM121.5 509.3l3.8-5-3.8-0.9-3.8 5.1zM117.7 502.5l3.8-4.9-3.7-0.9-3.8 5.1zM114.1 496.0l3.7-4.9-3.7-0.7-3.7 4.9zM110.5 489.7l3.7-4.8-3.6-0.7-3.7 5zM279.9 507.1l3.3-0.1-4.1-3.9-3.3 0.1zM267.7 481.0l3.2 0.4-4-3.7-3.2-0.3z"/><path fill="#afff00" stroke="#afff00" d="M129.2 536.7l3.9-5.4-3.9-1.2-3.9 5.5zM113.9 513.8l3.8-5.3-3.7-0.8-3.8 5.4zM110.3 507.0l3.7-5.2-3.6-0.7-3.8 5.3zM106.7 500.5l3.7-5.2-3.6-0.5-3.7 5.2zM96.5 477.2l3.6-4.9-3.4-0.3-3.6 4.9z"/><path fill="#a6ff00" stroke="#a6ff00" d="M125.3 535.6l3.9-5.5-3.9-1-3.8 5.5zM96.4 482.5l3.6-5-3.5-0.3-3.6 5z"/><path fill="#99ff00" stroke="#99ff00" d="M121.5 534.6l3.8-5.5-3.8-1-3.9 5.6zM89.8 471.6l3.6-4.8-3.4-0.2-3.6 4.9z"/><path fill="#8fff00" stroke="#8fff00" d="M117.6 533.7l3.9-5.6-3.9-0.9-3.8 5.6zM96.1 493.4l3.7-5.2-3.6-0.3-3.6 5.3zM89.6 476.8l3.6-5-3.4-0.2-3.6 5zM289.6 507.4l3.2 0.5-4.1-4.1-3.2-0.4z"/><path fill="#83ff00" stroke="#83ff00" d="M113.8 532.8l3.8-5.6-3.7-0.9-3.8 5.7zM96.0 499.1l3.6-5.3-3.5-0.4-3.7 5.4zM287.8 500.2l3.1 0.7-4-4.1-3.1-0.6z"/><path fill="#76ff00" stroke="#76ff00" d="M110.1 532.0l3.8-5.7-3.8-0.7-3.7 5.7zM95.8 505.0l3.7-5.5-3.5-0.4-3.7 5.5zM86.0 481.9l3.6-5.1-3.4-0.2-3.5 5.2z"/><path fill="#69ff00" stroke="#69ff00" d="M106.4 531.3l3.7-5.7-3.7-0.7-3.7 5.8zM102.7 524.3l3.8-5.7-3.7-0.6-3.7 5.7zM99.2 517.5l3.7-5.6-3.6-0.5-3.7 5.6zM95.7 510.9l3.7-5.5-3.6-0.4-3.6 5.6z"/><path fill="#4cff00" stroke="#4cff00" d="M99.0 530.2l3.7-5.9-3.6-0.6-3.7 6zM95.5 523.3l3.7-5.8-3.6-0.5-3.7 5.9zM92.0 516.7l3.7-5.8-3.5-0.3-3.7 5.8z"/><path fill="#00ff06" stroke="#00ff06" d="M81.2 528.5l3.6-6.2-3.5-0.1-3.6 6.1zM77.9 522.1l3.6-6.1-3.4-0.1-3.6 6.1z"/><path fill="#00ff53" stroke="#00ff53" d="M67.5 528.4l3.6-6.3-3.3 0.1-3.6 6.3z"/><path fill="#00ff66" stroke="#00ff66" d="M64.2 528.5l3.6-6.3-3.4 0.1-3.5 6.4z"/><path fill="#00ff7c" stroke="#00ff7c" d="M60.9 528.7l3.5-6.4-3.2 0.3-3.6 6.4z"/><path fill="#00ff93" stroke="#00ff93" d="M57.6 529.0l3.6-6.4-3.3 0.3-3.5 6.5z"/><path fill="#00ffa9" stroke="#00ffa9" d="M54.4 529.4l3.5-6.5-3.2 0.3-3.5 6.6z"/><path fill="#00ffbf" stroke="#00ffbf" d="M51.2 529.8l3.5-6.6-3.2 0.4-3.4 6.6z"/><path fill="#fff200" stroke="#fff200" d="M203.9 563.6l3.9-4.2-4.4-2.6-3.9 4.2zM199.5 561.0l3.9-4.2-4.3-2.6-4 4.3zM195.1 558.5l4-4.3-4.3-2.5-4 4.4zM190.8 556.1l4-4.4-4.4-2.4-3.9 4.5zM186.5 553.8l3.9-4.5-4.2-2.3-4 4.5zM165.2 536.8l3.9-4.7-4.1-1.8-4 4.7zM140.6 508.7l3.9-4.6-3.9-1.3-3.9 4.7zM111.1 454.1l3.6-4-3.5-0.5-3.6 4.1zM264.1 496.1l3.4-0.4-4.1-3.6-3.4 0.4zM257.8 480.9l3.4-0.1-4.1-3.5-3.3 0.2zM252.4 470.4l3.3 0-3.9-3.3-3.4 0zM242.6 454.4l3.3 0.2-3.9-3.1-3.3-0.2zM238.1 448.4l3.3 0.2-3.8-3-3.3-0.2zM233.7 442.6l3.3 0.3-3.8-2.9-3.3-0.2z"/><path fill="#fff500" stroke="#fff500" d="M182.2 551.5l4-4.5-4.3-2.2-4 4.6zM177.9 549.4l4-4.6-4.2-2.1-4 4.6zM152.7 525.3l3.9-4.7-4-1.6-3.9 4.8zM144.6 516.1l3.9-4.7-4-1.4-3.8 4.8zM132.8 500.5l3.8-4.7-3.8-1.1-3.8 4.7zM129.0 493.7l3.8-4.6-3.8-1-3.7 4.7zM125.3 487.2l3.7-4.5-3.7-0.9-3.7 4.5zM121.6 480.9l3.7-4.4-3.7-0.8-3.7 4.5zM114.5 464.2l3.6-4.2-3.5-0.6-3.7 4.2zM107.9 444.7l3.5-3.9-3.4-0.4-3.6 3.9zM263.4 492.1l3.3-0.3-4.1-3.6-3.3 0.3zM247.2 460.6l3.2 0.2-3.9-3.3-3.3-0.1z"/><path fill="#fff900" stroke="#fff900" d="M173.7 547.3l4-4.6-4.2-2.1-4 4.7zM161.0 535.0l4-4.7-4.1-1.8-4 4.8zM136.7 507.5l3.9-4.7-3.9-1.2-3.8 4.7zM118.0 474.9l3.6-4.4-3.6-0.7-3.7 4.5zM111.0 458.8l3.6-4.1-3.5-0.6-3.6 4.2zM271.4 517.3l3.5-0.8-4.3-3.8-3.4 0.9zM270.6 512.7l3.5-0.7-4.3-3.8-3.4 0.8zM269.8 508.2l3.4-0.5-4.1-3.8-3.5 0.6zM262.6 488.2l3.4-0.2-4.1-3.6-3.3 0.2zM257.1 477.3l3.3 0-4-3.5-3.3 0.1zM251.8 467.1l3.2 0.1-3.9-3.3-3.3-0.1z"/><path fill="#fffc00" stroke="#fffc00" d="M169.5 545.3l4-4.7-4.2-1.9-3.9 4.7zM156.9 533.3l4-4.8-4.1-1.6-3.9 4.8zM148.7 523.8l3.9-4.8-4-1.5-3.9 4.8zM140.7 514.8l3.8-4.8-3.9-1.3-3.8 4.8zM114.4 469.2l3.7-4.4-3.6-0.6-3.7 4.4zM107.7 449.1l3.6-4-3.4-0.4-3.6 4zM269.1 503.9l3.3-0.4-4.1-3.8-3.4 0.5zM242.0 451.5l3.2 0.3-3.8-3.2-3.3-0.2z"/><path fill="#c6ff00" stroke="#c6ff00" d="M133.1 531.3l3.8-5.3-3.9-1.2-3.8 5.3zM121.5 515.4l3.8-5.1-3.8-1-3.8 5.3zM117.7 508.5l3.8-5.1-3.8-0.9-3.7 5.2zM110.4 495.3l3.7-4.9-3.6-0.7-3.7 5.1zM106.9 489.2l3.7-5-3.6-0.5-3.7 5zM100.1 472.3l3.7-4.7-3.5-0.3-3.6 4.7zM285.0 515.2l3.2-0.1-4.1-4.1-3.3 0.2z"/><path fill="#bcff00" stroke="#bcff00" d="M129.2 530.1l3.8-5.3-3.9-1.1-3.8 5.4zM114.0 507.7l3.7-5.2-3.7-0.7-3.7 5.2zM110.4 501.1l3.7-5.1-3.7-0.7-3.7 5.2zM283.2 507.0l3.2 0.1-4.1-4-3.2 0zM276.5 491.9l3.2 0.4-4-3.9-3.2-0.3z"/><path fill="#9cff00" stroke="#9cff00" d="M117.6 527.2l3.9-5.5-3.8-0.9-3.8 5.5zM96.2 487.9l3.7-5.1-3.5-0.3-3.7 5.1zM291.5 515.1l3.2 0.3-4.1-4.2-3.3-0.2zM284.7 499.7l3.1 0.5-4-4-3.2-0.4z"/><path fill="#93ff00" stroke="#93ff00" d="M113.9 526.3l3.8-5.5-3.8-0.8-3.8 5.6zM110.2 519.2l3.7-5.4-3.7-0.7-3.7 5.5zM103.0 505.8l3.7-5.3-3.6-0.5-3.7 5.4zM99.5 499.5l3.7-5.2-3.6-0.5-3.6 5.3zM283.8 496.2l3.1 0.6-4-4-3.2-0.5z"/><path fill="#86ff00" stroke="#86ff00" d="M110.1 525.6l3.8-5.6-3.7-0.8-3.8 5.7zM106.5 518.6l3.7-5.5-3.6-0.7-3.8 5.6zM102.9 511.9l3.7-5.5-3.6-0.6-3.7 5.6zM99.4 505.4l3.7-5.4-3.6-0.5-3.7 5.5zM89.5 482.0l3.6-5.1-3.5-0.1-3.6 5.1zM294.7 515.4l3.1 0.4-4.1-4.2-3.1-0.4z"/><path fill="#79ff00" stroke="#79ff00" d="M106.4 524.9l3.8-5.7-3.7-0.6-3.8 5.7zM102.8 518.0l3.8-5.6-3.7-0.5-3.7 5.6zM99.3 511.4l3.7-5.6-3.6-0.4-3.7 5.5zM292.8 507.9l3.1 0.6-4-4.2-3.2-0.5z"/><path fill="#5cff00" stroke="#5cff00" d="M99.1 523.7l3.7-5.7-3.6-0.5-3.7 5.8zM95.6 517.0l3.7-5.6-3.6-0.5-3.7 5.8z"/><path fill="#0aff00" stroke="#0aff00" d="M81.3 522.2l3.7-6-3.5-0.2-3.6 6.1zM72.0 498.4l3.5-5.7-3.3 0.2-3.5 5.7z"/><path fill="#00ff1a" stroke="#00ff1a" d="M74.5 522.0l3.6-6.1-3.4 0-3.6 6.2z"/><path fill="#00ff2d" stroke="#00ff2d" d="M71.1 522.1l3.6-6.2-3.4 0.1-3.5 6.2z"/><path fill="#00ff43" stroke="#00ff43" d="M67.8 522.2l3.5-6.2-3.3 0.1-3.6 6.2z"/><path fill="#00ff56" stroke="#00ff56" d="M64.4 522.3l3.6-6.2-3.3 0.2-3.5 6.3z"/><path fill="#00ff6c" stroke="#00ff6c" d="M61.2 522.6l3.5-6.3-3.3 0.2-3.5 6.4z"/><path fill="#00ff80" stroke="#00ff80" d="M57.9 522.9l3.5-6.4-3.2 0.3-3.5 6.4z"/><path fill="#00ff96" stroke="#00ff96" d="M54.7 523.2l3.5-6.4-3.2 0.4-3.5 6.4z"/><path fill="#ffe500" stroke="#ffe500" d="M207.8 559.4l4-4-4.4-2.7-4 4.1zM203.4 556.8l4-4.1-4.4-2.7-3.9 4.2zM186.2 547.0l3.9-4.3-4.2-2.3-4 4.4zM181.9 544.8l4-4.4-4.3-2.2-3.9 4.5zM165.0 530.3l3.9-4.5-4.1-1.8-3.9 4.5zM140.6 502.8l3.8-4.5-3.9-1.3-3.8 4.6zM121.6 470.5l3.7-4.2-3.6-0.8-3.7 4.3zM111.4 440.8l3.6-3.7-3.5-0.5-3.5 3.8zM260.0 492.5l3.4-0.4-4.1-3.6-3.4 0.5zM253.8 477.5l3.3-0.2-4-3.4-3.3 0.2zM248.4 467.1l3.4 0-4-3.3-3.3 0.1z"/><path fill="#ffe200" stroke="#ffe200" d="M199.1 554.2l3.9-4.2-4.3-2.5-3.9 4.2zM194.8 551.7l3.9-4.2-4.3-2.5-4 4.3zM190.4 549.3l4-4.3-4.3-2.3-3.9 4.3zM169.1 532.1l3.9-4.4-4.1-1.9-3.9 4.5zM156.6 520.6l3.9-4.5-4-1.7-3.9 4.6zM148.5 511.4l3.8-4.5-3.9-1.5-3.9 4.6zM136.6 495.8l3.8-4.4-3.8-1.2-3.8 4.5zM132.8 489.1l3.7-4.4-3.7-1-3.8 4.4zM129.0 482.7l3.7-4.3-3.7-1-3.7 4.4zM125.3 476.5l3.7-4.3-3.7-0.9-3.7 4.4zM118.1 460.0l3.7-4-3.6-0.7-3.6 4.1zM114.7 450.1l3.6-3.9-3.5-0.6-3.6 4zM260.7 496.7l3.4-0.6-4.1-3.6-3.4 0.7zM254.5 481.2l3.3-0.3-4-3.4-3.4 0.3zM243.9 460.6l3.3 0-4-3.2-3.3 0.1z"/><path fill="#ffe900" stroke="#ffe900" d="M177.7 542.7l3.9-4.5-4.2-2.1-3.9 4.5zM160.9 528.5l3.9-4.5-4.1-1.8-3.9 4.7zM152.6 519.0l3.9-4.6-4-1.5-3.9 4.6zM144.5 510.0l3.9-4.6-3.9-1.3-3.9 4.6zM118.1 464.8l3.6-4.1-3.6-0.7-3.6 4.2zM114.6 454.7l3.7-4-3.6-0.6-3.6 4zM111.3 445.1l3.6-3.8-3.5-0.5-3.5 3.9zM259.3 488.5l3.3-0.3-4-3.6-3.4 0.5zM238.7 451.3l3.3 0.2-3.9-3.1-3.2-0.1zM234.3 445.4l3.3 0.2-3.9-3-3.2-0.1zM229.9 439.8l3.3 0.2-3.8-2.9-3.3-0.1z"/><path fill="#ffec00" stroke="#ffec00" d="M173.5 540.6l3.9-4.5-4.2-2-3.9 4.6zM132.8 494.7l3.8-4.5-3.8-1.1-3.8 4.6zM129.0 488.1l3.8-4.4-3.8-1-3.7 4.5zM125.3 481.8l3.7-4.4-3.7-0.9-3.7 4.4zM121.6 475.7l3.7-4.4-3.7-0.8-3.6 4.4zM114.6 459.4l3.6-4.1-3.6-0.6-3.6 4.1zM267.9 518.3l3.5-1-4.2-3.7-3.5 1zM267.2 513.6l3.4-0.9-4.2-3.7-3.5 0.9zM266.4 509.0l3.4-0.8-4.2-3.7-3.4 0.8zM265.6 504.5l3.5-0.6-4.2-3.7-3.4 0.7zM258.6 484.6l3.3-0.2-4.1-3.5-3.3 0.3zM253.1 473.9l3.3-0.1-4-3.4-3.3 0.2zM243.2 457.4l3.3 0.1-3.9-3.1-3.3-0.1z"/><path fill="#ffef00" stroke="#ffef00" d="M169.3 538.7l3.9-4.6-4.1-2-3.9 4.7zM156.8 526.9l3.9-4.7-4.1-1.6-3.9 4.7zM148.6 517.5l3.9-4.6-4-1.5-3.9 4.7zM136.7 501.6l3.8-4.6-3.9-1.2-3.8 4.7zM118.0 469.8l3.7-4.3-3.6-0.7-3.7 4.4zM111.2 449.6l3.6-4-3.5-0.5-3.6 4zM264.9 500.2l3.4-0.5-4.2-3.6-3.4 0.6zM247.8 463.8l3.3 0.1-3.9-3.3-3.3 0z"/><path fill="#ccff00" stroke="#ccff00" d="M129.1 523.7l3.9-5.2-3.9-1.1-3.8 5.3zM103.5 477.9l3.7-4.8-3.6-0.4-3.6 4.8zM279.1 503.1l3.2 0-4.1-3.9-3.3 0z"/><path fill="#b6ff00" stroke="#b6ff00" d="M121.5 521.7l3.8-5.3-3.8-1-3.8 5.4z"/><path fill="#acff00" stroke="#acff00" d="M117.7 520.8l3.8-5.4-3.8-0.8-3.8 5.4zM103.2 494.3l3.7-5.1-3.6-0.5-3.7 5.1zM287.3 511.0l3.3 0.2-4.2-4.1-3.2-0.1zM280.6 495.8l3.2 0.4-4.1-3.9-3.2-0.4zM274.9 485.1l3.1 0.6-3.9-3.8-3.2-0.5z"/><path fill="#29ff00" stroke="#29ff00" d="M85.0 516.2l3.6-5.9-3.4-0.2-3.7 5.9zM75.5 492.7l3.6-5.5-3.3 0.1-3.6 5.6z"/><path fill="#1aff00" stroke="#1aff00" d="M81.5 516.0l3.7-5.9-3.5-0.1-3.6 5.9z"/><path fill="#06ff00" stroke="#06ff00" d="M78.1 515.9l3.6-5.9-3.4-0.1-3.6 6z"/><path fill="#00ff0d" stroke="#00ff0d" d="M74.7 515.9l3.6-6-3.4 0-3.6 6.1z"/><path fill="#00ff20" stroke="#00ff20" d="M71.3 516.0l3.6-6.1-3.4 0.1-3.5 6.1z"/><path fill="#00ff33" stroke="#00ff33" d="M68.0 516.1l3.5-6.1-3.3 0.1-3.5 6.2z"/><path fill="#00ff46" stroke="#00ff46" d="M64.7 516.3l3.5-6.2-3.3 0.2-3.5 6.2z"/><path fill="#00ff5c" stroke="#00ff5c" d="M61.4 516.5l3.5-6.2-3.2 0.3-3.5 6.2z"/><path fill="#00ff73" stroke="#00ff73" d="M58.2 516.8l3.5-6.2-3.3 0.3-3.4 6.3z"/><path fill="#ffdc00" stroke="#ffdc00" d="M211.8 555.4l3.9-3.8-4.4-2.8-3.9 3.9zM177.4 536.1l3.9-4.3-4.1-2.1-4 4.4zM160.7 522.2l3.9-4.4-4.1-1.7-3.9 4.5zM152.5 512.9l3.8-4.5-4-1.5-3.8 4.5zM140.5 497.0l3.8-4.4-3.9-1.2-3.8 4.4zM125.3 471.3l3.7-4.1-3.7-0.9-3.7 4.2zM118.2 455.3l3.6-3.9-3.5-0.7-3.7 4zM255.2 485.1l3.4-0.5-4.1-3.4-3.4 0.5zM249.8 474.1l3.3-0.2-4-3.3-3.4 0.3zM244.5 463.9l3.3-0.1-3.9-3.2-3.4 0.2zM218.1 429.0l3.3 0.1-3.7-2.6-3.3-0.1z"/><path fill="#ffd900" stroke="#ffd900" d="M207.4 552.7l3.9-3.9-4.3-2.7-4 3.9zM203.0 550.0l4-3.9-4.3-2.6-4 4zM185.9 540.4l3.9-4.2-4.3-2.3-3.9 4.3zM181.6 538.2l3.9-4.3-4.2-2.1-3.9 4.3zM164.8 524.0l3.8-4.4-4-1.8-3.9 4.4zM148.4 505.4l3.8-4.3-3.9-1.5-3.8 4.5zM136.6 490.2l3.8-4.3-3.9-1.2-3.7 4.4zM132.8 483.7l3.7-4.3-3.8-1-3.7 4.3zM129.0 477.4l3.7-4.2-3.7-1-3.7 4.3zM121.7 460.7l3.7-4-3.6-0.7-3.7 4zM114.9 441.3l3.6-3.6-3.5-0.6-3.6 3.7zM115.0 437.1l3.6-3.5-3.5-0.5-3.6 3.5zM255.9 489.0l3.4-0.5-4.1-3.4-3.4 0.5zM239.9 457.5l3.3-0.1-3.9-3.1-3.3 0.2zM222.3 434.2l3.3 0.1-3.7-2.7-3.3 0z"/><path fill="#ffd600" stroke="#ffd600" d="M198.7 547.5l4-4-4.4-2.5-3.9 4zM194.4 545.0l3.9-4-4.2-2.5-4 4.2zM190.1 542.7l4-4.2-4.3-2.3-3.9 4.2zM168.9 525.8l3.9-4.3-4.2-1.9-3.8 4.4zM156.5 514.4l3.8-4.4-4-1.6-3.8 4.5zM118.3 450.7l3.6-3.8-3.6-0.7-3.6 3.9zM260.9 520.8l3.5-1.4-4.2-3.6-3.6 1.4zM260.2 515.8l3.5-1.2-4.3-3.6-3.5 1.3zM257.3 497.4l3.4-0.7-4.1-3.5-3.5 0.8zM256.6 493.2l3.4-0.7-4.1-3.5-3.5 0.7zM250.4 477.8l3.4-0.3-4-3.4-3.4 0.5zM245.1 467.3l3.3-0.2-3.9-3.2-3.4 0.3zM235.4 451.3l3.3 0-3.8-3-3.4 0.1zM231.0 445.4l3.3 0-3.8-2.9-3.3 0.1zM226.6 439.7l3.3 0.1-3.8-2.8-3.3 0z"/><path fill="#ffdf00" stroke="#ffdf00" d="M173.2 534.1l4-4.4-4.2-2-3.9 4.4zM144.5 504.1l3.8-4.5-3.9-1.3-3.8 4.5zM121.7 465.5l3.7-4-3.7-0.8-3.6 4.1zM114.8 445.6l3.6-3.7-3.5-0.6-3.6 3.8zM264.4 519.4l3.5-1.1-4.2-3.7-3.5 1.2zM263.7 514.6l3.5-1-4.3-3.7-3.5 1.1zM262.9 509.9l3.5-0.9-4.2-3.7-3.5 1zM262.2 505.3l3.4-0.8-4.1-3.6-3.5 0.9zM261.5 500.9l3.4-0.7-4.2-3.5-3.4 0.7zM249.1 470.6l3.3-0.2-4-3.3-3.3 0.2zM239.3 454.3l3.3 0.1-3.9-3.1-3.3 0zM234.9 448.3l3.2 0.1-3.8-3-3.3 0zM230.5 442.5l3.2 0.1-3.8-2.8-3.3-0.1zM226.1 437.0l3.3 0.1-3.8-2.8-3.3-0.1z"/><path fill="#a3ff00" stroke="#a3ff00" d="M110.2 513.1l3.8-5.4-3.7-0.7-3.7 5.4zM106.6 506.4l3.8-5.3-3.7-0.6-3.7 5.3zM90.0 466.6l3.6-4.7-3.4-0.1-3.6 4.7zM285.5 503.4l3.2 0.4-4-4.1-3.2-0.3zM279.7 492.3l3.2 0.5-4-3.9-3.2-0.5z"/><path fill="#39ff00" stroke="#39ff00" d="M85.2 510.1l3.6-5.7-3.5-0.2-3.6 5.8z"/><path fill="#26ff00" stroke="#26ff00" d="M81.7 510.0l3.6-5.8-3.4-0.1-3.6 5.8z"/><path fill="#16ff00" stroke="#16ff00" d="M78.3 509.9l3.6-5.8-3.4-0.1-3.6 5.9zM72.2 492.9l3.6-5.6-3.3 0.1-3.6 5.6z"/><path fill="#03ff00" stroke="#03ff00" d="M74.9 509.9l3.6-5.9-3.4 0.1-3.6 5.9z"/><path fill="#00ff10" stroke="#00ff10" d="M71.5 510.0l3.6-5.9-3.3 0-3.6 6z"/><path fill="#00ff23" stroke="#00ff23" d="M68.2 510.1l3.6-6-3.3 0.2-3.6 6z"/><path fill="#00ff39" stroke="#00ff39" d="M64.9 510.3l3.6-6-3.3 0.2-3.5 6.1z"/><path fill="#00ff4c" stroke="#00ff4c" d="M61.7 510.6l3.5-6.1-3.3 0.3-3.5 6.1z"/><path fill="#ffd200" stroke="#ffd200" d="M215.7 551.6l3.9-3.7-4.3-2.8-4 3.7zM173.0 527.7l3.9-4.3-4.1-1.9-3.9 4.3zM160.5 516.1l3.9-4.4-4.1-1.7-3.8 4.4zM152.3 506.9l3.9-4.3-4-1.5-3.8 4.3zM144.4 498.3l3.8-4.3-3.9-1.4-3.8 4.4zM140.4 491.4l3.8-4.3-3.8-1.2-3.8 4.3zM129.0 472.2l3.7-4.1-3.7-0.9-3.7 4.1zM125.3 466.3l3.7-4-3.6-0.8-3.7 4zM121.8 456.0l3.6-3.9-3.6-0.7-3.6 3.9zM118.3 446.2l3.6-3.7-3.5-0.6-3.6 3.7zM259.4 511.0l3.5-1.1-4.2-3.6-3.5 1.2zM258.7 506.3l3.5-1-4.2-3.5-3.5 1zM258.0 501.8l3.5-0.9-4.2-3.5-3.5 0.9zM251.1 481.7l3.4-0.5-4.1-3.4-3.4 0.6zM240.5 460.8l3.4-0.2-4-3.1-3.3 0.2zM214.4 426.4l3.3 0.1-3.7-2.5-3.3 0z"/><path fill="#ffcf00" stroke="#ffcf00" d="M211.3 548.8l4-3.7-4.4-2.8-3.9 3.8zM177.2 529.7l3.9-4.2-4.2-2.1-3.9 4.3zM136.5 484.7l3.8-4.2-3.8-1.1-3.7 4.3zM132.7 478.4l3.8-4.2-3.8-1-3.7 4.2zM257.3 522.3l3.6-1.5-4.3-3.6-3.6 1.6zM118.4 441.9l3.6-3.6-3.5-0.6-3.6 3.6zM251.8 485.6l3.4-0.5-4.1-3.4-3.4 0.6zM245.7 470.9l3.4-0.3-4-3.3-3.4 0.4zM236.0 454.5l3.3-0.2-3.9-3-3.3 0.2zM222.8 437.0l3.3 0-3.8-2.8-3.3 0.1zM218.6 431.6l3.3 0-3.8-2.6-3.3 0zM210.7 424.0l3.3 0-3.7-2.5-3.3 0.1zM202.9 416.8l3.3 0-3.7-2.3-3.2 0.1z"/><path fill="#ffcc00" stroke="#ffcc00" d="M207.0 546.1l3.9-3.8-4.3-2.6-3.9 3.8zM202.7 543.5l3.9-3.8-4.3-2.6-4 3.9zM198.3 541.0l4-3.9-4.3-2.5-3.9 3.9zM194.1 538.5l3.9-3.9-4.3-2.4-3.9 4zM189.8 536.2l3.9-4-4.2-2.3-4 4zM185.5 533.9l4-4-4.3-2.3-3.9 4.2zM181.3 531.8l3.9-4.2-4.1-2.1-3.9 4.2zM219.6 547.9l3.9-3.4-4.3-2.9-3.9 3.5zM164.6 517.8l3.8-4.3-4-1.8-3.9 4.4zM156.3 508.4l3.9-4.2-4-1.6-3.9 4.3zM148.3 499.6l3.8-4.2-3.9-1.4-3.8 4.3zM125.4 461.5l3.6-3.9-3.6-0.9-3.7 4zM121.8 451.4l3.7-3.8-3.6-0.7-3.6 3.8zM256.6 517.2l3.6-1.4-4.3-3.5-3.6 1.4zM118.5 437.7l3.6-3.5-3.5-0.6-3.6 3.5zM252.4 489.7l3.5-0.7-4.1-3.4-3.5 0.8zM246.4 474.6l3.4-0.5-4.1-3.2-3.4 0.5zM241.1 464.2l3.4-0.3-4-3.1-3.4 0.3zM231.5 448.4l3.4-0.1-3.9-2.9-3.3 0.2zM227.2 442.6l3.3-0.1-3.9-2.8-3.3 0.1zM188.1 406.2l3.3-0.2-3.5-2-3.3 0.3z"/><path fill="#56ff00" stroke="#56ff00" d="M88.8 504.4l3.6-5.6-3.4-0.2-3.7 5.6z"/><path fill="#46ff00" stroke="#46ff00" d="M85.3 504.2l3.7-5.6-3.5-0.2-3.6 5.7z"/><path fill="#36ff00" stroke="#36ff00" d="M81.9 504.1l3.6-5.7-3.4-0.1-3.6 5.7zM75.8 487.3l3.5-5.4-3.3 0-3.5 5.5z"/><path fill="#23ff00" stroke="#23ff00" d="M78.5 504.0l3.6-5.7-3.4 0-3.6 5.8z"/><path fill="#10ff00" stroke="#10ff00" d="M75.1 504.1l3.6-5.8-3.4 0-3.5 5.8z"/><path fill="#ffc900" stroke="#ffc900" d="M215.3 545.1l3.9-3.5-4.4-2.8-3.9 3.5zM168.6 519.6l3.9-4.2-4.1-1.9-3.8 4.3zM144.3 492.6l3.8-4.2-3.9-1.3-3.8 4.3zM140.4 485.9l3.7-4.1-3.8-1.3-3.8 4.2zM136.5 479.4l3.7-4.1-3.7-1.1-3.8 4.2zM132.7 473.2l3.7-4-3.7-1.1-3.7 4.1zM129.0 467.2l3.7-4-3.7-0.9-3.7 4zM125.4 456.7l3.6-3.8-3.6-0.8-3.6 3.9zM121.9 446.9l3.6-3.6-3.6-0.8-3.6 3.7zM255.9 512.3l3.5-1.3-4.2-3.5-3.6 1.3zM255.2 507.5l3.5-1.2-4.2-3.5-3.5 1.3zM254.5 502.8l3.5-1-4.2-3.5-3.5 1.1zM118.6 433.6l3.5-3.3-3.5-0.6-3.5 3.4zM253.8 498.3l3.5-0.9-4.2-3.4-3.5 1zM253.1 494.0l3.5-0.8-4.2-3.5-3.4 0.9zM247.0 478.4l3.4-0.6-4-3.2-3.4 0.6zM236.6 457.7l3.3-0.2-3.9-3-3.4 0.3zM214.8 429.0l3.3 0-3.7-2.6-3.3 0.2zM207.0 421.6l3.3-0.1-3.7-2.4-3.3 0.2zM199.3 414.6l3.2-0.1-3.6-2.2-3.3 0.2zM184.6 404.3l3.3-0.3-3.6-1.9-3.3 0.3zM181.0 402.4l3.3-0.3-3.5-1.8-3.3 0.4z"/><path fill="#ffc600" stroke="#ffc600" d="M210.9 542.3l3.9-3.5-4.3-2.8-3.9 3.7zM172.8 521.5l3.8-4.2-4.1-1.9-3.9 4.2zM223.5 544.5l3.9-3.2-4.4-3-3.8 3.3zM160.3 510.0l3.9-4.2-4-1.6-3.9 4.2zM152.2 501.1l3.8-4.2-3.9-1.5-3.8 4.2zM253.7 524.0l3.6-1.7-4.3-3.5-3.7 1.8zM121.9 442.5l3.6-3.5-3.5-0.7-3.6 3.6zM241.7 467.7l3.4-0.4-4-3.1-3.4 0.4zM232.1 451.5l3.3-0.2-3.9-2.9-3.3 0.3zM227.7 445.6l3.3-0.2-3.8-2.8-3.4 0.2zM223.3 439.8l3.3-0.1-3.8-2.7-3.3 0.2zM219.0 434.3l3.3-0.1-3.7-2.6-3.3 0.1zM195.6 412.5l3.3-0.2-3.6-2.1-3.3 0.2zM177.5 400.7l3.3-0.4-3.5-1.7-3.3 0.4z"/><path fill="#ffc200" stroke="#ffc200" d="M206.6 539.7l3.9-3.7-4.3-2.6-3.9 3.7zM181.1 525.5l3.8-4-4.1-2.1-3.9 4zM176.9 523.4l3.9-4-4.2-2.1-3.8 4.2zM164.4 511.7l3.8-4.1-4-1.8-3.9 4.2zM156.2 502.6l3.8-4.2-4-1.5-3.8 4.2zM148.2 494.0l3.8-4.2-3.9-1.4-3.8 4.2zM132.7 468.1l3.7-3.9-3.7-1-3.7 4zM250.0 525.9l3.7-1.9-4.4-3.4-3.6 1.9zM129.0 462.3l3.7-3.8-3.7-0.9-3.6 3.9zM253.0 518.8l3.6-1.6-4.3-3.5-3.6 1.7zM125.4 452.1l3.7-3.7-3.6-0.8-3.7 3.8zM252.3 513.7l3.6-1.4-4.3-3.5-3.6 1.6zM122.0 438.3l3.6-3.4-3.5-0.7-3.6 3.5zM248.3 486.4l3.5-0.8-4.1-3.3-3.5 0.9zM247.7 482.3l3.4-0.6-4.1-3.3-3.4 0.7zM242.3 471.4l3.4-0.5-4-3.2-3.4 0.6zM237.1 461.1l3.4-0.3-3.9-3.1-3.4 0.4zM211.1 426.6l3.3-0.2-3.7-2.4-3.4 0.2zM203.3 419.3l3.3-0.2-3.7-2.3-3.3 0.3zM192.0 410.4l3.3-0.2-3.6-2.1-3.3 0.3z"/><path fill="#ffbf00" stroke="#ffbf00" d="M202.3 537.1l3.9-3.7-4.3-2.6-3.9 3.8zM198.0 534.6l3.9-3.8-4.3-2.4-3.9 3.8zM193.7 532.2l3.9-3.8-4.2-2.4-3.9 3.9zM189.5 529.9l3.9-3.9-4.3-2.3-3.9 3.9zM185.2 527.6l3.9-3.9-4.2-2.2-3.8 4zM219.2 541.6l3.8-3.3-4.3-2.9-3.9 3.4zM168.4 513.5l3.9-4.1-4.1-1.8-3.8 4.1zM227.4 541.3l3.8-3.1-4.3-3-3.9 3.1zM144.2 487.1l3.8-4.1-3.9-1.2-3.7 4.1zM140.3 480.5l3.7-4-3.8-1.2-3.7 4.1zM136.5 474.2l3.7-3.9-3.8-1.1-3.7 4zM246.3 528.0l3.7-2.1-4.3-3.4-3.7 2.2zM129.0 457.6l3.7-3.8-3.7-0.9-3.6 3.8zM125.5 447.6l3.6-3.5-3.6-0.8-3.6 3.6zM251.6 508.8l3.6-1.3-4.2-3.4-3.6 1.4zM251.0 504.1l3.5-1.3-4.2-3.4-3.6 1.3zM250.3 499.4l3.5-1.1-4.2-3.3-3.5 1.1zM122.1 434.2l3.5-3.2-3.5-0.7-3.5 3.3zM249.6 495.0l3.5-1-4.1-3.4-3.5 1.1zM122.1 430.3l3.6-3.2-3.5-0.7-3.6 3.3zM249.0 490.6l3.4-0.9-4.1-3.3-3.5 0.9zM232.6 454.8l3.4-0.3-3.9-3-3.4 0.4zM219.5 437.2l3.3-0.2-3.8-2.7-3.3 0.3zM215.3 431.7l3.3-0.1-3.8-2.6-3.3 0.2zM207.3 424.2l3.4-0.2-3.7-2.4-3.4 0.2zM199.6 417.1l3.3-0.3-3.6-2.2-3.4 0.3zM188.4 408.4l3.3-0.3-3.6-1.9-3.3 0.3zM184.8 406.5l3.3-0.3-3.5-1.9-3.4 0.4z"/><path fill="#63ff00" stroke="#63ff00" d="M89.0 498.6l3.6-5.4-3.5-0.3-3.6 5.5z"/><path fill="#53ff00" stroke="#53ff00" d="M85.5 498.4l3.6-5.5-3.4-0.1-3.6 5.5zM79.3 481.9l3.6-5.3-3.4 0-3.5 5.3z"/><path fill="#43ff00" stroke="#43ff00" d="M82.1 498.3l3.6-5.5-3.4-0.1-3.6 5.6z"/><path fill="#30ff00" stroke="#30ff00" d="M78.7 498.3l3.6-5.6-3.4 0-3.6 5.6z"/><path fill="#00ff0a" stroke="#00ff0a" d="M68.7 498.6l3.5-5.7-3.3 0.1-3.5 5.8z"/><path fill="#ffbc00" stroke="#ffbc00" d="M214.8 538.8l3.9-3.4-4.4-2.8-3.8 3.4zM172.5 515.4l3.9-4-4.1-2-3.9 4.1zM223.0 538.3l3.9-3.1-4.4-3-3.8 3.2zM160.2 504.2l3.8-4.1-4-1.7-3.8 4.2zM231.2 538.2l3.9-2.8-4.4-3.1-3.8 2.9zM152.1 495.4l3.8-4.1-3.9-1.5-3.8 4.2zM235.1 535.4l3.7-2.7-4.3-3.1-3.8 2.7zM242.6 530.3l3.7-2.3-4.3-3.3-3.8 2.3zM132.7 463.2l3.7-3.7-3.7-1-3.7 3.8zM249.3 520.6l3.7-1.8-4.3-3.4-3.7 1.8zM125.5 443.3l3.6-3.5-3.6-0.8-3.6 3.5zM243.0 475.2l3.4-0.6-4.1-3.2-3.4 0.7zM237.7 464.6l3.4-0.4-4-3.1-3.4 0.5zM228.2 448.7l3.3-0.3-3.8-2.8-3.4 0.3zM223.8 442.8l3.4-0.2-3.9-2.8-3.3 0.3zM195.9 414.9l3.4-0.3-3.7-2.1-3.3 0.3zM181.2 404.7l3.4-0.4-3.6-1.9-3.3 0.5zM177.7 402.9l3.3-0.5-3.5-1.7-3.4 0.6zM174.1 401.3l3.4-0.6-3.5-1.7-3.4 0.7z"/><path fill="#ffb900" stroke="#ffb900" d="M210.5 536.0l3.8-3.4-4.3-2.7-3.8 3.5zM206.2 533.4l3.8-3.5-4.3-2.6-3.8 3.5zM176.6 517.3l3.9-3.9-4.1-2-3.9 4zM164.2 505.8l3.8-4-4-1.7-3.8 4.1zM156.0 496.9l3.8-4.1-3.9-1.5-3.8 4.1zM148.1 488.4l3.7-4-3.8-1.4-3.8 4.1zM238.8 532.7l3.8-2.4-4.4-3.3-3.7 2.6zM144.1 481.8l3.8-4-3.9-1.3-3.7 4zM140.2 475.3l3.8-3.9-3.8-1.1-3.7 3.9zM136.4 469.2l3.7-3.9-3.7-1.1-3.7 3.9zM245.7 522.5l3.6-1.9-4.3-3.4-3.6 2.1zM248.7 515.4l3.6-1.7-4.3-3.3-3.6 1.7zM129.0 452.9l3.7-3.6-3.6-0.9-3.7 3.7zM248.0 510.4l3.6-1.6-4.2-3.3-3.6 1.6zM125.5 439.0l3.6-3.3-3.5-0.8-3.6 3.4zM244.2 483.2l3.5-0.9-4.1-3.2-3.5 0.9zM243.6 479.1l3.4-0.7-4-3.2-3.5 0.8zM238.3 468.3l3.4-0.6-4-3.1-3.4 0.7zM233.2 458.1l3.4-0.4-4-2.9-3.4 0.4zM215.7 434.6l3.3-0.3-3.7-2.6-3.4 0.3zM211.5 429.2l3.3-0.2-3.7-2.4-3.4 0.2zM203.6 421.8l3.4-0.2-3.7-2.3-3.4 0.3zM192.3 412.8l3.3-0.3-3.6-2.1-3.3 0.4z"/><path fill="#ffb600" stroke="#ffb600" d="M201.9 530.8l3.8-3.5-4.2-2.6-3.9 3.7zM197.6 528.4l3.9-3.7-4.3-2.4-3.8 3.7zM193.4 526.0l3.8-3.7-4.2-2.4-3.9 3.8zM189.1 523.7l3.9-3.8-4.2-2.2-3.9 3.8zM184.9 521.5l3.9-3.8-4.1-2.2-3.9 3.9zM180.8 519.4l3.9-3.9-4.2-2.1-3.9 3.9zM218.7 535.4l3.8-3.2-4.3-2.8-3.9 3.2zM168.2 507.6l3.9-3.9-4.1-1.9-3.8 4zM226.9 535.2l3.8-2.9-4.4-3-3.8 2.9zM230.7 532.3l3.8-2.7-4.4-3.1-3.8 2.8zM242.0 524.7l3.7-2.2-4.3-3.2-3.7 2.2zM245.0 517.2l3.7-1.8-4.3-3.3-3.6 1.9zM132.7 458.5l3.7-3.7-3.7-1-3.7 3.8zM129.1 448.4l3.6-3.5-3.6-0.8-3.6 3.5zM247.4 505.5l3.6-1.4-4.3-3.4-3.5 1.5zM246.7 500.7l3.6-1.3-4.2-3.3-3.6 1.4zM246.1 496.1l3.5-1.1-4.1-3.3-3.6 1.2zM125.6 434.9l3.5-3.2-3.5-0.7-3.5 3.2zM245.5 491.7l3.5-1.1-4.2-3.3-3.5 1.2zM125.6 431.0l3.6-3.1-3.5-0.8-3.6 3.2zM244.8 487.3l3.5-0.9-4.1-3.2-3.5 1zM228.7 451.9l3.4-0.4-3.9-2.8-3.4 0.4zM224.3 445.9l3.4-0.3-3.9-2.8-3.4 0.4zM220.0 440.1l3.3-0.3-3.8-2.6-3.4 0.3zM207.7 426.8l3.4-0.2-3.8-2.4-3.3 0.3zM199.9 419.6l3.4-0.3-3.7-2.2-3.4 0.3zM188.7 410.8l3.3-0.4-3.6-2-3.4 0.5z"/><path fill="#70ff00" stroke="#70ff00" d="M89.1 492.9l3.6-5.3-3.4-0.2-3.6 5.4zM82.9 476.6l3.5-5.1-3.3 0-3.6 5.1z"/><path fill="#60ff00" stroke="#60ff00" d="M85.7 492.8l3.6-5.4-3.4-0.1-3.6 5.4z"/><path fill="#50ff00" stroke="#50ff00" d="M82.3 492.7l3.6-5.4-3.4-0.1-3.6 5.5z"/><path fill="#ffb300" stroke="#ffb300" d="M214.3 532.6l3.9-3.2-4.3-2.8-3.9 3.3zM172.3 509.4l3.8-3.8-4-1.9-3.9 3.9zM222.5 532.2l3.8-2.9-4.3-3-3.8 3.1zM160.0 498.4l3.8-3.9-4-1.7-3.8 4.1zM152.0 489.8l3.7-3.9-3.9-1.5-3.7 4zM234.5 529.6l3.7-2.6-4.3-3.1-3.8 2.6zM148.0 483.0l3.7-3.8-3.8-1.4-3.8 4zM238.2 527.0l3.8-2.3-4.3-3.2-3.8 2.4zM140.2 470.3l3.7-3.8-3.8-1.2-3.7 3.9zM136.4 464.2l3.7-3.7-3.7-1-3.7 3.7zM244.4 512.1l3.6-1.7-4.2-3.3-3.7 1.8zM129.1 444.1l3.6-3.4-3.6-0.9-3.6 3.5zM125.7 427.1l3.5-3-3.5-0.7-3.5 3zM238.9 472.1l3.4-0.7-4-3.1-3.4 0.7zM233.7 461.6l3.4-0.5-3.9-3-3.4 0.6zM211.9 432.0l3.4-0.3-3.8-2.5-3.4 0.4zM196.2 417.4l3.4-0.3-3.7-2.2-3.3 0.4zM185.0 408.9l3.4-0.5-3.6-1.9-3.3 0.6zM181.5 407.1l3.3-0.6-3.6-1.8-3.3 0.6zM177.9 405.3l3.3-0.6-3.5-1.8-3.4 0.7zM174.3 403.6l3.4-0.7-3.6-1.6-3.3 0.7zM170.8 402.0l3.3-0.7-3.5-1.6-3.3 0.8z"/><path fill="#ffaf00" stroke="#ffaf00" d="M210.0 529.9l3.9-3.3-4.3-2.7-3.9 3.4zM205.7 527.3l3.9-3.4-4.3-2.6-3.8 3.4zM176.4 511.4l3.8-3.8-4.1-2-3.8 3.8zM218.2 529.4l3.8-3.1-4.3-2.8-3.8 3.1zM164.0 500.1l3.8-3.9-4-1.7-3.8 3.9zM226.3 529.3l3.8-2.8-4.3-3-3.8 2.8zM155.9 491.3l3.8-3.9-4-1.5-3.7 3.9zM144.0 476.5l3.8-3.8-3.8-1.3-3.8 3.9zM237.7 521.5l3.7-2.2-4.3-3.2-3.8 2.3zM241.4 519.3l3.6-2.1-4.2-3.2-3.7 2.1zM132.7 453.8l3.6-3.5-3.6-1-3.7 3.6zM243.8 507.1l3.6-1.6-4.2-3.3-3.7 1.7zM129.1 439.8l3.6-3.2-3.6-0.9-3.6 3.3zM240.1 480.0l3.5-0.9-4.1-3.1-3.5 0.9zM239.5 476.0l3.5-0.8-4.1-3.1-3.5 0.8zM234.3 465.3l3.4-0.7-4-3-3.4 0.7zM229.2 455.2l3.4-0.4-3.9-2.9-3.4 0.5zM224.8 449.1l3.4-0.4-3.9-2.8-3.4 0.5zM220.4 443.2l3.4-0.4-3.8-2.7-3.4 0.5zM216.1 437.5l3.4-0.3-3.8-2.6-3.4 0.4zM204.0 424.5l3.3-0.3-3.7-2.4-3.3 0.4zM192.6 415.3l3.3-0.4-3.6-2.1-3.4 0.5z"/><path fill="#ffac00" stroke="#ffac00" d="M201.5 524.7l3.8-3.4-4.2-2.5-3.9 3.5zM197.2 522.3l3.9-3.5-4.2-2.4-3.9 3.5zM188.8 517.7l3.9-3.7-4.2-2.2-3.8 3.7zM184.7 515.5l3.8-3.7-4.1-2.2-3.9 3.8zM180.5 513.4l3.9-3.8-4.2-2-3.8 3.8zM168.0 501.8l3.8-3.8-4-1.8-3.8 3.9zM230.1 526.5l3.8-2.6-4.3-3.1-3.8 2.7zM151.8 484.4l3.8-3.8-3.9-1.4-3.7 3.8zM233.9 523.9l3.8-2.4-4.4-3.1-3.7 2.4zM140.1 465.3l3.7-3.6-3.7-1.2-3.7 3.7zM240.8 514.0l3.6-1.9-4.3-3.2-3.6 1.9zM136.4 459.5l3.7-3.6-3.7-1.1-3.7 3.7zM132.7 449.3l3.6-3.4-3.6-1-3.6 3.5zM243.2 502.2l3.5-1.5-4.2-3.2-3.6 1.5zM242.5 497.5l3.6-1.4-4.2-3.2-3.5 1.4zM241.9 492.9l3.6-1.2-4.2-3.2-3.5 1.3zM129.1 435.7l3.6-3.1-3.6-0.9-3.5 3.2zM241.3 488.5l3.5-1.2-4.1-3.1-3.5 1.1zM129.1 431.7l3.6-3-3.5-0.8-3.6 3.1zM240.7 484.2l3.5-1-4.1-3.2-3.5 1.1zM129.2 427.9l3.5-2.9-3.5-0.9-3.5 3zM129.2 424.1l3.6-2.8-3.5-0.8-3.6 2.9zM234.9 469.0l3.4-0.7-4-3-3.4 0.8zM229.8 458.7l3.4-0.6-4-2.9-3.4 0.7zM208.1 429.6l3.4-0.4-3.8-2.4-3.3 0.5zM200.3 422.2l3.3-0.4-3.7-2.2-3.3 0.5zM188.9 413.3l3.4-0.5-3.6-2-3.4 0.6z"/><path fill="#ffa900" stroke="#ffa900" d="M193.0 519.9l3.9-3.5-4.2-2.4-3.9 3.7zM213.9 526.6l3.8-3.1-4.3-2.8-3.8 3.2zM172.1 503.7l3.8-3.8-4.1-1.9-3.8 3.8zM222.0 526.3l3.8-2.8-4.3-2.9-3.8 2.9zM159.8 492.8l3.8-3.8-3.9-1.6-3.8 3.9zM225.8 523.5l3.8-2.7-4.3-3-3.8 2.8zM147.9 477.8l3.7-3.8-3.8-1.3-3.8 3.8zM144.0 471.4l3.7-3.7-3.8-1.2-3.7 3.8zM237.1 516.1l3.7-2.1-4.3-3.2-3.7 2.2zM240.1 508.9l3.7-1.8-4.3-3.2-3.6 1.8zM136.4 454.8l3.6-3.5-3.7-1-3.6 3.5zM132.7 444.9l3.6-3.3-3.6-0.9-3.6 3.4zM235.4 472.9l3.5-0.8-4-3.1-3.5 0.9zM225.3 452.4l3.4-0.5-3.9-2.8-3.4 0.6zM220.9 446.4l3.4-0.5-3.9-2.7-3.4 0.5zM216.6 440.6l3.4-0.5-3.9-2.6-3.3 0.5zM212.3 435.0l3.4-0.4-3.8-2.6-3.4 0.5zM196.6 420.1l3.3-0.5-3.7-2.2-3.3 0.6zM185.3 411.4l3.4-0.6-3.7-1.9-3.3 0.6zM181.7 409.5l3.3-0.6-3.5-1.8-3.4 0.7zM170.9 404.4l3.4-0.8-3.5-1.6-3.4 0.9zM167.4 402.9l3.4-0.9-3.5-1.5-3.4 0.9z"/><path fill="#8cff00" stroke="#8cff00" d="M92.7 487.6l3.7-5.1-3.5-0.3-3.6 5.2z"/><path fill="#7cff00" stroke="#7cff00" d="M89.3 487.4l3.6-5.2-3.4-0.2-3.6 5.3z"/><path fill="#6cff00" stroke="#6cff00" d="M85.9 487.3l3.6-5.3-3.5-0.1-3.5 5.3zM297.8 515.8l3.1 0.5-4-4.2-3.2-0.5z"/><path fill="#ffa600" stroke="#ffa600" d="M209.6 523.9l3.8-3.2-4.2-2.6-3.9 3.2zM205.3 521.3l3.9-3.2-4.3-2.6-3.8 3.3zM176.1 505.6l3.9-3.7-4.1-2-3.8 3.8zM217.7 523.5l3.8-2.9-4.3-2.8-3.8 2.9zM163.8 494.5l3.8-3.8-4-1.7-3.8 3.8zM155.7 485.9l3.8-3.8-3.9-1.5-3.8 3.8zM229.6 520.8l3.7-2.4-4.2-3.1-3.8 2.5zM151.7 479.2l3.8-3.7-3.9-1.5-3.7 3.8zM233.3 518.4l3.8-2.3-4.3-3.1-3.7 2.3zM236.5 510.8l3.6-1.9-4.2-3.2-3.7 2zM140.1 460.5l3.7-3.5-3.7-1.1-3.7 3.6zM239.5 503.9l3.7-1.7-4.3-3.2-3.6 1.7zM238.9 499.0l3.6-1.5-4.1-3.2-3.6 1.6zM132.7 440.7l3.6-3.2-3.6-0.9-3.6 3.2zM236.0 476.9l3.5-0.9-4.1-3.1-3.4 1zM230.3 462.3l3.4-0.7-3.9-2.9-3.5 0.8zM204.4 427.3l3.3-0.5-3.7-2.3-3.4 0.5zM192.9 418.0l3.3-0.6-3.6-2.1-3.4 0.6zM178.1 407.8l3.4-0.7-3.6-1.8-3.4 0.8zM174.5 406.1l3.4-0.8-3.6-1.7-3.4 0.8z"/><path fill="#ffa300" stroke="#ffa300" d="M201.1 518.8l3.8-3.3-4.2-2.5-3.8 3.4zM196.9 516.4l3.8-3.4-4.2-2.4-3.8 3.4zM192.7 514.0l3.8-3.4-4.2-2.3-3.8 3.5zM188.5 511.8l3.8-3.5-4.1-2.2-3.8 3.5zM184.4 509.6l3.8-3.5-4.1-2.2-3.9 3.7zM180.2 507.6l3.9-3.7-4.1-2-3.9 3.7zM213.4 520.7l3.8-2.9-4.2-2.8-3.8 3.1zM167.8 496.2l3.8-3.7-4-1.8-3.8 3.8zM221.5 520.6l3.8-2.8-4.3-2.8-3.8 2.8zM159.7 487.4l3.8-3.7-4-1.6-3.8 3.8zM225.3 517.8l3.8-2.5-4.3-2.9-3.8 2.6zM229.1 515.3l3.7-2.3-4.3-3-3.7 2.4zM147.8 472.7l3.7-3.7-3.8-1.3-3.7 3.7zM232.8 513.0l3.7-2.2-4.3-3.1-3.7 2.3zM143.9 466.5l3.7-3.6-3.8-1.2-3.7 3.6zM235.9 505.7l3.6-1.8-4.2-3.2-3.6 2zM136.3 450.3l3.7-3.4-3.7-1-3.6 3.4zM238.4 494.3l3.5-1.4-4.1-3.1-3.6 1.4zM237.8 489.8l3.5-1.3-4.1-3.2-3.6 1.4zM132.7 436.6l3.6-3.1-3.6-0.9-3.6 3.1zM237.2 485.3l3.5-1.1-4.1-3.1-3.5 1.2zM132.7 432.6l3.6-3-3.6-0.9-3.6 3zM236.6 481.1l3.5-1.1-4.1-3.1-3.5 1.1zM132.7 428.7l3.6-2.8-3.6-0.9-3.5 2.9zM132.7 425.0l3.6-2.8-3.5-0.9-3.6 2.8zM132.8 421.3l3.5-2.6-3.5-0.9-3.5 2.7zM230.9 466.1l3.4-0.8-4-3-3.4 0.9zM225.8 455.9l3.4-0.7-3.9-2.8-3.4 0.7zM221.4 449.7l3.4-0.6-3.9-2.7-3.4 0.6zM217.0 443.7l3.4-0.5-3.8-2.6-3.4 0.6zM212.8 438.0l3.3-0.5-3.8-2.5-3.4 0.6zM208.5 432.5l3.4-0.5-3.8-2.4-3.4 0.6zM200.6 425.0l3.4-0.5-3.7-2.3-3.4 0.6zM189.2 415.9l3.4-0.6-3.7-2-3.3 0.7zM164.0 404.0l3.4-1.1-3.5-1.5-3.4 1.2z"/><path fill="#ff9f00" stroke="#ff9f00" d="M209.2 518.1l3.8-3.1-4.3-2.6-3.8 3.1zM171.8 498.0l3.8-3.6-4-1.9-3.8 3.7zM217.2 517.8l3.8-2.8-4.2-2.8-3.8 2.8zM155.6 480.6l3.8-3.6-3.9-1.5-3.8 3.7zM232.2 507.7l3.7-2-4.2-3-3.7 2.1zM143.8 461.7l3.7-3.5-3.7-1.2-3.7 3.5zM140.1 455.9l3.6-3.5-3.7-1.1-3.6 3.5zM235.3 500.7l3.6-1.7-4.1-3.1-3.7 1.8zM136.3 445.9l3.6-3.3-3.6-1-3.6 3.3zM136.3 441.6l3.6-3.1-3.6-1-3.6 3.2zM231.4 469.9l3.5-0.9-4-2.9-3.5 0.9zM226.3 459.5l3.5-0.8-4-2.8-3.4 0.8zM204.7 430.2l3.4-0.6-3.7-2.3-3.4 0.6zM196.9 422.8l3.4-0.6-3.7-2.1-3.4 0.6zM185.6 414.0l3.3-0.7-3.6-1.9-3.4 0.7zM181.9 412.1l3.4-0.7-3.6-1.9-3.4 0.8zM178.3 410.3l3.4-0.8-3.6-1.7-3.4 0.8zM174.7 408.6l3.4-0.8-3.6-1.7-3.4 0.9zM171.1 407.0l3.4-0.9-3.6-1.7-3.3 1.1zM167.6 405.5l3.3-1.1-3.5-1.5-3.4 1.1z"/><path fill="#ff9c00" stroke="#ff9c00" d="M204.9 515.5l3.8-3.1-4.2-2.6-3.8 3.2zM200.7 513.0l3.8-3.2-4.2-2.4-3.8 3.2zM180.0 501.9l3.8-3.5-4.1-2.1-3.8 3.6zM175.9 499.9l3.8-3.6-4.1-1.9-3.8 3.6zM213.0 515.0l3.8-2.8-4.3-2.7-3.8 2.9zM163.6 489.0l3.8-3.6-3.9-1.7-3.8 3.7zM221.0 515.0l3.8-2.6-4.3-2.9-3.7 2.7zM224.8 512.4l3.7-2.4-4.2-3-3.8 2.5zM151.6 474.0l3.8-3.5-3.9-1.5-3.7 3.7zM228.5 510.0l3.7-2.3-4.2-2.9-3.7 2.2zM147.7 467.7l3.7-3.5-3.8-1.3-3.7 3.6zM140.0 451.3l3.7-3.3-3.7-1.1-3.7 3.4zM234.8 495.9l3.6-1.6-4.2-3.1-3.6 1.7zM234.2 491.2l3.6-1.4-4.2-3.1-3.6 1.6zM233.6 486.7l3.6-1.4-4.1-3-3.6 1.4zM136.3 437.5l3.6-3-3.6-1-3.6 3.1zM233.1 482.3l3.5-1.2-4.1-3.1-3.5 1.4zM136.3 433.5l3.6-2.9-3.6-1-3.6 3zM232.5 478.0l3.5-1.1-4-3-3.6 1.2zM232.0 473.9l3.4-1-4-3-3.5 1.1zM136.3 425.9l3.5-2.7-3.5-1-3.6 2.8zM136.3 422.2l3.5-2.5-3.5-1-3.5 2.6zM226.9 463.2l3.4-0.9-4-2.8-3.4 0.9zM136.3 418.7l3.5-2.4-3.5-1-3.5 2.5zM221.9 453.1l3.4-0.7-3.9-2.7-3.4 0.8zM217.5 447.0l3.4-0.6-3.9-2.7-3.4 0.8zM213.2 441.2l3.4-0.6-3.8-2.6-3.5 0.7zM208.9 435.6l3.4-0.6-3.8-2.5-3.4 0.7zM201.0 427.9l3.4-0.6-3.8-2.3-3.4 0.7zM193.2 420.7l3.4-0.6-3.7-2.1-3.4 0.7zM160.6 405.2l3.4-1.2-3.5-1.4-3.4 1.3z"/><path fill="#ff9900" stroke="#ff9900" d="M196.5 510.6l3.8-3.2-4.1-2.4-3.9 3.3zM192.3 508.3l3.9-3.3-4.2-2.3-3.8 3.4zM188.2 506.1l3.8-3.4-4.1-2.2-3.8 3.4zM184.1 503.9l3.8-3.4-4.1-2.1-3.8 3.5zM208.7 512.4l3.8-2.9-4.2-2.7-3.8 3zM167.6 490.7l3.8-3.5-4-1.8-3.8 3.6zM216.8 512.2l3.7-2.7-4.2-2.8-3.8 2.8zM159.5 482.1l3.8-3.6-3.9-1.5-3.8 3.6zM155.5 475.5l3.7-3.6-3.8-1.4-3.8 3.5zM151.5 469.0l3.7-3.4-3.8-1.4-3.7 3.5zM228.0 504.8l3.7-2.1-4.2-3-3.7 2.1zM147.6 462.9l3.7-3.4-3.8-1.3-3.7 3.5zM231.7 502.7l3.6-2-4.2-3-3.6 2zM143.8 457.0l3.6-3.4-3.7-1.2-3.6 3.5zM231.1 497.7l3.7-1.8-4.2-3-3.7 1.9zM140.0 446.9l3.6-3.2-3.7-1.1-3.6 3.3zM136.3 429.6l3.5-2.8-3.5-0.9-3.6 2.8zM227.4 467.0l3.5-0.9-4-2.9-3.5 1zM222.4 456.7l3.4-0.8-3.9-2.8-3.5 0.9zM139.8 416.3l3.5-2.3-3.5-1-3.5 2.3zM205.1 433.2l3.4-0.7-3.8-2.3-3.4 0.7zM157.2 406.6l3.4-1.4-3.5-1.3-3.5 1.5zM189.5 418.7l3.4-0.7-3.7-2.1-3.4 0.8zM185.8 416.7l3.4-0.8-3.6-1.9-3.4 0.8zM167.7 408.1l3.4-1.1-3.5-1.5-3.5 1.1zM164.1 406.6l3.5-1.1-3.6-1.5-3.4 1.2z"/><path fill="#bfff00" stroke="#bfff00" d="M100.0 477.5l3.6-4.8-3.5-0.4-3.6 4.9zM96.8 467.0l3.6-4.6-3.4-0.3-3.6 4.7z"/><path fill="#ff9600" stroke="#ff9600" d="M204.5 509.8l3.8-3-4.2-2.5-3.8 3.1zM175.6 494.4l3.8-3.5-4-1.9-3.8 3.5zM171.6 492.5l3.8-3.5-4-1.8-3.8 3.5zM163.5 483.7l3.7-3.5-3.9-1.7-3.8 3.6zM220.5 509.5l3.8-2.5-4.2-2.8-3.8 2.5zM224.3 507.0l3.7-2.2-4.2-3-3.7 2.4zM143.7 452.4l3.7-3.2-3.7-1.2-3.7 3.3zM230.6 492.9l3.6-1.7-4.2-2.9-3.6 1.7zM230.0 488.3l3.6-1.6-4.1-3-3.6 1.7zM139.9 442.6l3.7-3-3.7-1.1-3.6 3.1zM139.9 438.5l3.6-2.9-3.6-1.1-3.6 3zM228.4 475.1l3.6-1.2-4.1-2.9-3.5 1.3zM227.9 471.0l3.5-1.1-4-2.9-3.5 1.2zM139.8 423.2l3.6-2.5-3.6-1-3.5 2.5zM222.9 460.4l3.4-0.9-3.9-2.8-3.5 1zM139.8 419.7l3.5-2.4-3.5-1-3.5 2.4zM218.0 450.5l3.4-0.8-3.9-2.7-3.5 0.9zM143.3 414.0l3.5-2.1-3.5-1.1-3.5 2.2zM213.6 444.5l3.4-0.8-3.8-2.5-3.5 0.8zM146.8 411.9l3.5-1.9-3.6-1.2-3.4 2zM209.3 438.7l3.5-0.7-3.9-2.4-3.4 0.7zM153.7 408.2l3.5-1.6-3.6-1.2-3.4 1.6zM197.2 425.7l3.4-0.7-3.7-2.2-3.4 0.8zM193.5 423.6l3.4-0.8-3.7-2.1-3.4 0.8zM160.7 408.0l3.4-1.4-3.5-1.4-3.4 1.4zM182.2 414.8l3.4-0.8-3.7-1.9-3.4 0.9zM178.5 413.0l3.4-0.9-3.6-1.8-3.4 1zM174.9 411.3l3.4-1-3.6-1.7-3.4 1.1zM171.3 409.7l3.4-1.1-3.6-1.6-3.4 1.1z"/><path fill="#ff9300" stroke="#ff9300" d="M200.3 507.4l3.8-3.1-4.1-2.4-3.8 3.1zM196.2 505.0l3.8-3.1-4.2-2.4-3.8 3.2zM192.0 502.7l3.8-3.2-4.1-2.3-3.8 3.3zM187.9 500.5l3.8-3.3-4.1-2.1-3.8 3.3zM183.8 498.4l3.8-3.3-4.1-2.1-3.8 3.3zM179.7 496.3l3.8-3.3-4.1-2.1-3.8 3.5zM212.5 509.5l3.8-2.8-4.2-2.6-3.8 2.7zM167.4 485.4l3.8-3.5-4-1.7-3.7 3.5zM216.3 506.7l3.8-2.5-4.3-2.8-3.7 2.7zM159.4 477.0l3.7-3.5-3.9-1.6-3.7 3.6zM220.1 504.2l3.7-2.4-4.2-2.8-3.8 2.4zM155.4 470.5l3.7-3.4-3.9-1.5-3.7 3.4zM223.8 501.8l3.7-2.1-4.2-2.9-3.7 2.2zM151.4 464.2l3.7-3.3-3.8-1.4-3.7 3.4zM227.5 499.7l3.6-2-4.2-2.9-3.6 2zM147.5 458.2l3.7-3.3-3.8-1.3-3.6 3.4zM226.9 494.8l3.7-1.9-4.2-2.9-3.6 1.9zM143.7 448.0l3.6-3.1-3.7-1.2-3.6 3.2zM229.5 483.7l3.6-1.4-4.1-2.9-3.6 1.5zM229.0 479.4l3.5-1.4-4.1-2.9-3.5 1.4zM139.9 434.5l3.6-2.9-3.6-1-3.6 2.9zM139.9 430.6l3.5-2.7-3.6-1.1-3.5 2.8zM139.8 426.8l3.6-2.6-3.6-1-3.5 2.7zM223.4 464.2l3.5-1-4-2.8-3.5 1.1zM218.4 454.0l3.5-0.9-3.9-2.6-3.5 0.9zM143.3 417.3l3.5-2.2-3.5-1.1-3.5 2.3zM205.5 436.3l3.4-0.7-3.8-2.4-3.4 0.8zM150.3 410.0l3.4-1.8-3.5-1.2-3.5 1.8zM201.3 430.9l3.4-0.7-3.7-2.3-3.4 0.8zM157.3 409.5l3.4-1.5-3.5-1.4-3.5 1.6zM189.8 421.5l3.4-0.8-3.7-2-3.4 0.8zM164.3 409.4l3.4-1.3-3.6-1.5-3.4 1.4z"/><path fill="#ff8f00" stroke="#ff8f00" d="M208.3 506.8l3.8-2.7-4.2-2.6-3.8 2.8zM204.1 504.3l3.8-2.8-4.2-2.6-3.7 3zM171.4 487.2l3.8-3.4-4-1.9-3.8 3.5zM212.1 504.1l3.7-2.7-4.1-2.6-3.8 2.7zM163.3 478.5l3.7-3.4-3.9-1.6-3.7 3.5zM223.3 496.8l3.6-2-4.1-2.9-3.7 2.1zM147.4 453.6l3.7-3.1-3.7-1.3-3.7 3.2zM226.4 490.0l3.6-1.7-4.1-2.9-3.6 1.8zM143.6 443.7l3.6-3-3.6-1.1-3.7 3zM143.6 439.6l3.6-2.9-3.7-1.1-3.6 2.9zM224.4 472.3l3.5-1.3-4-2.8-3.6 1.3zM223.9 468.2l3.5-1.2-4-2.8-3.6 1.2zM143.4 424.2l3.5-2.4-3.5-1.1-3.6 2.5zM218.9 457.7l3.5-1-4-2.7-3.5 1.1zM143.4 420.7l3.5-2.3-3.6-1.1-3.5 2.4zM214.0 447.9l3.5-0.9-3.9-2.5-3.4 0.9zM146.8 415.1l3.5-2.1-3.5-1.1-3.5 2.1zM209.7 442.0l3.5-0.8-3.9-2.5-3.4 0.9zM150.3 413.0l3.5-1.8-3.5-1.2-3.5 1.9zM153.8 411.2l3.5-1.7-3.6-1.3-3.4 1.8zM197.6 428.7l3.4-0.8-3.8-2.2-3.4 0.8zM160.8 410.8l3.5-1.4-3.6-1.4-3.4 1.5zM186.1 419.5l3.4-0.8-3.7-2-3.4 1zM182.4 417.7l3.4-1-3.6-1.9-3.5 1zM178.7 415.8l3.5-1-3.7-1.8-3.4 1.1zM175.1 414.1l3.4-1.1-3.6-1.7-3.4 1.2zM171.5 412.5l3.4-1.2-3.6-1.6-3.4 1.2zM167.9 410.9l3.4-1.2-3.6-1.6-3.4 1.3z"/><path fill="#ff8c00" stroke="#ff8c00" d="M200.0 501.9l3.7-3-4.1-2.4-3.8 3zM195.8 499.5l3.8-3-4.1-2.3-3.8 3zM179.4 490.9l3.8-3.2-4-2-3.8 3.3zM175.4 489.0l3.8-3.3-4-1.9-3.8 3.4zM207.9 501.5l3.8-2.7-4.2-2.6-3.8 2.7zM167.2 480.2l3.8-3.3-4-1.8-3.7 3.4zM215.8 501.4l3.8-2.4-4.2-2.7-3.7 2.5zM159.2 471.9l3.7-3.3-3.8-1.5-3.7 3.4zM219.6 499.0l3.7-2.2-4.2-2.8-3.7 2.3zM155.2 465.6l3.7-3.3-3.8-1.4-3.7 3.3zM151.3 459.5l3.7-3.2-3.8-1.4-3.7 3.3zM222.8 491.9l3.6-1.9-4.1-2.8-3.7 1.9zM147.4 449.2l3.6-3-3.7-1.3-3.6 3.1zM225.9 485.4l3.6-1.7-4.1-2.8-3.6 1.6zM225.4 480.9l3.6-1.5-4.1-2.9-3.6 1.6zM224.9 476.5l3.5-1.4-4-2.8-3.6 1.4zM143.5 435.6l3.6-2.8-3.6-1.2-3.6 2.9zM143.5 431.6l3.5-2.6-3.6-1.1-3.5 2.7zM143.4 427.9l3.6-2.6-3.6-1.1-3.6 2.6zM219.4 461.5l3.5-1.1-4-2.7-3.5 1.2zM214.5 451.4l3.5-0.9-4-2.6-3.4 1zM146.9 418.4l3.5-2.2-3.6-1.1-3.5 2.2zM210.2 445.4l3.4-0.9-3.9-2.5-3.4 0.9zM150.4 416.2l3.5-1.9-3.6-1.3-3.5 2.1zM205.9 439.6l3.4-0.9-3.8-2.4-3.4 0.9zM153.9 414.3l3.5-1.8-3.6-1.3-3.5 1.8zM201.7 434.0l3.4-0.8-3.8-2.3-3.4 0.9zM157.4 412.5l3.4-1.7-3.5-1.3-3.5 1.7zM193.8 426.5l3.4-0.8-3.7-2.1-3.4 0.9zM190.1 424.5l3.4-0.9-3.7-2.1-3.5 1zM164.4 412.3l3.5-1.4-3.6-1.5-3.5 1.4z"/><path fill="#ff8900" stroke="#ff8900" d="M191.7 497.2l3.8-3-4.1-2.3-3.8 3.2zM187.6 495.1l3.8-3.2-4.1-2.1-3.8 3.2zM183.5 493.0l3.8-3.2-4.1-2.1-3.8 3.2zM203.7 498.9l3.8-2.7-4.2-2.5-3.7 2.8zM171.2 481.9l3.7-3.2-3.9-1.8-3.8 3.3zM211.7 498.8l3.7-2.5-4.2-2.6-3.7 2.5zM163.1 473.5l3.7-3.3-3.9-1.6-3.7 3.3zM215.4 496.3l3.7-2.3-4.2-2.7-3.7 2.4zM159.1 467.1l3.7-3.3-3.9-1.5-3.7 3.3zM219.1 494.0l3.7-2.1-4.2-2.8-3.7 2.2zM155.1 460.9l3.7-3.2-3.8-1.4-3.7 3.2zM151.2 454.9l3.7-3.1-3.8-1.3-3.7 3.1zM222.3 487.2l3.6-1.8-4.1-2.9-3.7 1.9zM221.8 482.5l3.6-1.6-4.1-2.8-3.6 1.7zM147.3 444.9l3.6-2.9-3.7-1.3-3.6 3zM147.2 440.7l3.6-2.8-3.6-1.2-3.6 2.9zM220.3 469.5l3.6-1.3-4.1-2.8-3.5 1.4zM219.8 465.4l3.6-1.2-4-2.7-3.6 1.3zM147.0 425.3l3.5-2.3-3.6-1.2-3.5 2.4zM214.9 455.1l3.5-1.1-3.9-2.6-3.5 1.1zM146.9 421.8l3.6-2.3-3.6-1.1-3.5 2.3zM150.5 419.5l3.5-2-3.6-1.3-3.5 2.2zM202.1 437.2l3.4-0.9-3.8-2.3-3.5 1zM197.9 431.8l3.4-0.9-3.7-2.2-3.5 0.9zM161.0 413.8l3.4-1.5-3.6-1.5-3.4 1.7zM186.3 422.5l3.5-1-3.7-2-3.5 1.1zM182.6 420.6l3.5-1.1-3.7-1.8-3.4 1.1zM179.0 418.8l3.4-1.1-3.7-1.9-3.4 1.2zM175.3 417.0l3.4-1.2-3.6-1.7-3.5 1.3zM171.6 415.4l3.5-1.3-3.6-1.6-3.5 1.3zM168.0 413.8l3.5-1.3-3.6-1.6-3.5 1.4z"/><path fill="#ff8600" stroke="#ff8600" d="M199.6 496.5l3.7-2.8-4.1-2.4-3.7 2.9zM195.5 494.2l3.7-2.9-4.1-2.3-3.7 2.9zM179.2 485.7l3.7-3.1-4-2-3.7 3.2zM175.2 483.8l3.7-3.2-4-1.9-3.7 3.2zM207.5 496.2l3.7-2.5-4.1-2.6-3.8 2.6zM167.0 475.1l3.8-3.2-4-1.7-3.7 3.3zM162.9 468.6l3.8-3.1-3.9-1.7-3.7 3.3zM214.9 491.3l3.7-2.2-4.1-2.7-3.7 2.3zM218.6 489.1l3.7-1.9-4.2-2.8-3.6 2zM155.0 456.3l3.7-3.1-3.8-1.4-3.7 3.1zM151.1 450.5l3.7-3-3.8-1.3-3.6 3zM221.3 478.1l3.6-1.6-4.1-2.8-3.6 1.6zM220.8 473.7l3.6-1.4-4.1-2.8-3.6 1.5zM147.2 436.7l3.6-2.7-3.7-1.2-3.6 2.8zM147.1 432.8l3.6-2.6-3.7-1.2-3.5 2.6zM147.0 429.0l3.6-2.5-3.6-1.2-3.6 2.6zM215.4 458.9l3.5-1.2-4-2.6-3.5 1.2zM150.5 423.0l3.6-2.2-3.6-1.3-3.6 2.3zM210.6 448.9l3.4-1-3.8-2.5-3.5 1zM206.3 442.9l3.4-0.9-3.8-2.4-3.5 1zM154.0 417.5l3.5-2-3.6-1.2-3.5 1.9zM198.2 435.0l3.5-1-3.8-2.2-3.5 1zM157.5 415.5l3.5-1.7-3.6-1.3-3.5 1.8zM194.1 429.6l3.5-0.9-3.8-2.2-3.4 1zM190.4 427.5l3.4-1-3.7-2-3.5 1.1zM164.6 415.3l3.4-1.5-3.6-1.5-3.4 1.5z"/><path fill="#ff8300" stroke="#ff8300" d="M191.4 491.9l3.7-2.9-4.1-2.2-3.7 3zM187.3 489.8l3.7-3-4-2.2-3.8 3.1zM183.2 487.7l3.8-3.1-4.1-2-3.7 3.1zM203.3 493.7l3.8-2.6-4.1-2.5-3.8 2.7zM174.9 478.7l3.8-3.1-4-1.9-3.7 3.2zM171.0 476.9l3.7-3.2-3.9-1.8-3.8 3.2zM211.2 493.7l3.7-2.4-4.1-2.6-3.7 2.4zM158.9 462.3l3.7-3.1-3.8-1.5-3.7 3.2zM214.5 486.4l3.6-2-4.1-2.7-3.6 2.1zM218.1 484.4l3.7-1.9-4.1-2.7-3.7 1.9zM154.9 451.8l3.6-2.9-3.7-1.4-3.7 3zM217.7 479.8l3.6-1.7-4.1-2.8-3.6 1.9zM151.0 446.2l3.7-2.9-3.8-1.3-3.6 2.9zM217.2 475.3l3.6-1.6-4.1-2.7-3.6 1.7zM150.9 442.0l3.6-2.8-3.7-1.3-3.6 2.8zM216.7 471.0l3.6-1.5-4-2.7-3.6 1.6zM150.8 437.9l3.6-2.6-3.6-1.3-3.6 2.7zM216.3 466.8l3.5-1.4-4-2.6-3.5 1.4zM150.8 434.0l3.5-2.5-3.6-1.3-3.6 2.6zM215.8 462.8l3.6-1.3-4-2.6-3.6 1.3zM150.7 430.2l3.5-2.4-3.6-1.3-3.6 2.5zM150.6 426.5l3.6-2.3-3.7-1.2-3.5 2.3zM211.0 452.5l3.5-1.1-3.9-2.5-3.5 1.2zM206.7 446.4l3.5-1-3.9-2.5-3.5 1.2zM154.1 420.8l3.5-2-3.6-1.3-3.5 2zM202.4 440.6l3.5-1-3.8-2.4-3.5 1.1zM157.6 418.8l3.5-1.9-3.6-1.4-3.5 2zM194.4 432.8l3.5-1-3.8-2.2-3.5 1.1zM161.1 416.9l3.5-1.6-3.6-1.5-3.5 1.7zM186.6 425.6l3.5-1.1-3.8-2-3.4 1.1zM182.9 423.6l3.4-1.1-3.7-1.9-3.4 1.2zM179.2 421.8l3.4-1.2-3.6-1.8-3.5 1.3zM175.5 420.1l3.5-1.3-3.7-1.8-3.5 1.4zM171.8 418.4l3.5-1.4-3.7-1.6-3.4 1.4zM168.2 416.8l3.4-1.4-3.6-1.6-3.4 1.5z"/><path fill="#ff8000" stroke="#ff8000" d="M199.2 491.3l3.8-2.7-4.1-2.3-3.8 2.7zM195.1 489.0l3.8-2.7-4.1-2.3-3.8 2.8zM191.0 486.8l3.8-2.8-4.1-2.3-3.7 2.9zM187.0 484.6l3.7-2.9-4-2.1-3.8 3zM182.9 482.6l3.8-3-4-2-3.8 3zM178.9 480.6l3.8-3-4-2-3.8 3.1zM207.1 491.1l3.7-2.4-4.1-2.6-3.7 2.5zM203.0 488.6l3.7-2.5-4.1-2.4-3.7 2.6zM170.8 471.9l3.7-3-3.9-1.8-3.8 3.1zM166.8 470.2l3.8-3.1-3.9-1.6-3.8 3.1zM210.8 488.7l3.7-2.3-4.1-2.6-3.7 2.3zM162.8 463.8l3.7-3-3.9-1.6-3.7 3.1zM158.8 457.7l3.7-3-3.8-1.5-3.7 3.1zM214.0 481.7l3.7-1.9-4.1-2.6-3.7 1.9zM154.8 447.5l3.6-2.8-3.7-1.4-3.7 2.9zM211.8 460.2l3.6-1.3-4-2.6-3.5 1.4zM211.4 456.3l3.5-1.2-3.9-2.6-3.5 1.3zM154.2 427.8l3.6-2.3-3.6-1.3-3.6 2.3zM207.1 450.1l3.5-1.2-3.9-2.5-3.5 1.3zM154.2 424.2l3.5-2.1-3.6-1.3-3.6 2.2zM202.8 444.1l3.5-1.2-3.9-2.3-3.5 1.2zM157.7 422.1l3.5-2-3.6-1.3-3.5 2zM198.6 438.3l3.5-1.1-3.9-2.2-3.4 1.2zM161.2 420.1l3.5-1.7-3.6-1.5-3.5 1.9zM190.6 430.7l3.5-1.1-3.7-2.1-3.5 1.2zM168.3 419.9l3.5-1.5-3.6-1.6-3.5 1.6zM164.7 418.4l3.5-1.6-3.6-1.5-3.5 1.6z"/><path fill="#ff7c00" stroke="#ff7c00" d="M198.9 486.3l3.7-2.6-4.1-2.4-3.7 2.7zM174.7 473.7l3.7-2.9-3.9-1.9-3.7 3zM206.7 486.1l3.7-2.3-4.1-2.5-3.7 2.4zM166.7 465.5l3.7-3-3.9-1.7-3.7 3zM210.4 483.8l3.6-2.1-4.1-2.6-3.6 2.2zM162.6 459.2l3.7-2.9-3.8-1.6-3.7 3zM209.9 479.1l3.7-1.9-4.1-2.6-3.6 2.1zM158.7 453.2l3.6-2.8-3.8-1.5-3.6 2.9zM213.6 477.2l3.6-1.9-4.1-2.6-3.6 1.9zM158.5 448.9l3.7-2.8-3.8-1.4-3.6 2.8zM213.1 472.7l3.6-1.7-4-2.6-3.6 1.8zM154.7 443.3l3.6-2.7-3.8-1.4-3.6 2.8zM212.7 468.4l3.6-1.6-4-2.6-3.6 1.7zM154.5 439.2l3.6-2.6-3.7-1.3-3.6 2.6zM212.3 464.2l3.5-1.4-4-2.6-3.5 1.5zM154.4 435.3l3.6-2.5-3.7-1.3-3.5 2.5zM154.3 431.5l3.6-2.4-3.7-1.3-3.5 2.4zM207.5 453.8l3.5-1.3-3.9-2.4-3.6 1.3zM203.2 447.7l3.5-1.3-3.9-2.3-3.5 1.3zM157.8 425.5l3.5-2-3.6-1.4-3.5 2.1zM198.9 441.8l3.5-1.2-3.8-2.3-3.5 1.3zM161.3 423.5l3.5-1.9-3.6-1.5-3.5 2zM194.8 436.2l3.4-1.2-3.8-2.2-3.5 1.3zM164.8 421.6l3.5-1.7-3.6-1.5-3.5 1.7zM186.9 428.7l3.5-1.2-3.8-1.9-3.5 1.2zM183.1 426.8l3.5-1.2-3.7-2-3.5 1.4zM179.4 425.0l3.5-1.4-3.7-1.8-3.5 1.4zM175.7 423.2l3.5-1.4-3.7-1.7-3.5 1.4zM172.0 421.5l3.5-1.4-3.7-1.7-3.5 1.5z"/><path fill="#ff7900" stroke="#ff7900" d="M194.8 484.0l3.7-2.7-4.1-2.2-3.7 2.6zM190.7 481.7l3.7-2.6-4-2.2-3.7 2.7zM186.7 479.6l3.7-2.7-4-2.2-3.7 2.9zM182.7 477.6l3.7-2.9-4-2-3.7 2.9zM178.7 475.6l3.7-2.9-4-1.9-3.7 2.9zM202.6 483.7l3.7-2.4-4.1-2.4-3.7 2.4zM198.5 481.3l3.7-2.4-4.1-2.3-3.7 2.5zM174.5 468.9l3.7-2.8-3.9-1.9-3.7 2.9zM170.6 467.1l3.7-2.9-3.9-1.7-3.7 3zM206.3 481.3l3.6-2.2-4-2.4-3.7 2.2zM166.5 460.8l3.7-2.8-3.9-1.7-3.7 2.9zM162.5 454.7l3.6-2.8-3.8-1.5-3.6 2.8zM209.5 474.6l3.6-1.9-4-2.5-3.6 1.9zM209.1 470.2l3.6-1.8-4-2.5-3.6 1.8zM158.4 444.7l3.6-2.6-3.7-1.5-3.6 2.7zM208.7 465.9l3.6-1.7-4-2.5-3.6 1.7zM158.3 440.6l3.6-2.5-3.8-1.5-3.6 2.6zM208.3 461.7l3.5-1.5-3.9-2.5-3.6 1.6zM158.1 436.6l3.6-2.4-3.7-1.4-3.6 2.5zM207.9 457.7l3.5-1.4-3.9-2.5-3.6 1.5zM158.0 432.8l3.6-2.3-3.7-1.4-3.6 2.4zM203.5 451.4l3.6-1.3-3.9-2.4-3.6 1.4zM157.9 429.1l3.6-2.1-3.7-1.5-3.6 2.3zM199.3 445.4l3.5-1.3-3.9-2.3-3.5 1.4zM161.5 427.0l3.5-2-3.7-1.5-3.5 2zM195.1 439.6l3.5-1.3-3.8-2.1-3.6 1.3zM165.0 425.0l3.5-1.8-3.7-1.6-3.5 1.9zM190.9 434.1l3.5-1.3-3.8-2.1-3.4 1.3zM187.2 432.0l3.4-1.3-3.7-2-3.5 1.4zM183.4 430.1l3.5-1.4-3.8-1.9-3.5 1.4zM179.6 428.2l3.5-1.4-3.7-1.8-3.5 1.5zM175.9 426.5l3.5-1.5-3.7-1.8-3.5 1.6zM172.2 424.8l3.5-1.6-3.7-1.7-3.5 1.7zM168.5 423.2l3.5-1.7-3.7-1.6-3.5 1.7z"/><path fill="#ff7600" stroke="#ff7600" d="M194.4 479.1l3.7-2.5-4-2.3-3.7 2.6zM190.4 476.9l3.7-2.6-4-2.2-3.7 2.6zM186.4 474.7l3.7-2.6-4-2.1-3.7 2.7zM182.4 472.7l3.7-2.7-4-2-3.7 2.8zM178.4 470.8l3.7-2.8-3.9-1.9-3.7 2.8zM202.2 478.9l3.7-2.2-4.1-2.5-3.7 2.4zM198.1 476.6l3.7-2.4-4-2.3-3.7 2.4zM170.4 462.5l3.6-2.8-3.8-1.7-3.7 2.8zM205.9 476.7l3.6-2.1-4-2.5-3.7 2.1zM201.8 474.2l3.7-2.1-4.1-2.4-3.6 2.2zM166.3 456.3l3.7-2.7-3.9-1.7-3.6 2.8zM205.5 472.1l3.6-1.9-4-2.5-3.7 2zM162.3 450.4l3.7-2.7-3.8-1.6-3.7 2.8zM205.1 467.7l3.6-1.8-4-2.5-3.6 1.9zM162.2 446.1l3.6-2.5-3.8-1.5-3.6 2.6zM204.7 463.4l3.6-1.7-4-2.4-3.6 1.8zM162.0 442.1l3.6-2.5-3.7-1.5-3.6 2.5zM204.3 459.3l3.6-1.6-4-2.4-3.6 1.7zM161.9 438.1l3.6-2.3-3.8-1.6-3.6 2.4zM203.9 455.3l3.6-1.5-4-2.4-3.5 1.6zM161.7 434.2l3.6-2.2-3.7-1.5-3.6 2.3zM199.6 449.1l3.6-1.4-3.9-2.3-3.6 1.5zM161.6 430.5l3.5-2.1-3.6-1.4-3.6 2.1zM195.4 443.2l3.5-1.4-3.8-2.2-3.5 1.5zM165.1 428.4l3.6-1.9-3.7-1.5-3.5 2zM191.2 437.5l3.6-1.3-3.9-2.1-3.5 1.4zM187.4 435.5l3.5-1.4-3.7-2.1-3.6 1.5zM172.4 428.1l3.5-1.6-3.7-1.7-3.5 1.7zM168.7 426.5l3.5-1.7-3.7-1.6-3.5 1.8z"/><path fill="#ff7300" stroke="#ff7300" d="M194.1 474.3l3.7-2.4-4-2.2-3.7 2.4zM190.1 472.1l3.7-2.4-4-2.2-3.7 2.5zM186.1 470.0l3.7-2.5-4-2.1-3.7 2.6zM182.1 468.0l3.7-2.6-3.9-2-3.7 2.7zM178.2 466.1l3.7-2.7-4-1.9-3.6 2.7zM174.3 464.2l3.6-2.7-3.9-1.8-3.6 2.8zM197.8 471.9l3.6-2.2-4-2.3-3.6 2.3zM174.0 459.7l3.7-2.6-3.9-1.8-3.6 2.7zM170.2 458.0l3.6-2.7-3.8-1.7-3.7 2.7zM201.4 469.7l3.7-2-4-2.4-3.7 2.1zM170.0 453.6l3.6-2.6-3.8-1.7-3.7 2.6zM166.1 451.9l3.7-2.6-3.8-1.6-3.7 2.7zM201.1 465.3l3.6-1.9-4-2.3-3.6 1.9zM166.0 447.7l3.6-2.5-3.8-1.6-3.6 2.5zM200.7 461.1l3.6-1.8-4-2.3-3.6 1.8zM165.8 443.6l3.6-2.4-3.8-1.6-3.6 2.5zM200.3 457.0l3.6-1.7-3.9-2.3-3.6 1.7zM165.6 439.6l3.6-2.2-3.7-1.6-3.6 2.3zM200.0 453.0l3.5-1.6-3.9-2.3-3.5 1.6zM165.5 435.8l3.5-2.2-3.7-1.6-3.6 2.2zM195.7 446.9l3.6-1.5-3.9-2.2-3.5 1.6zM169.0 433.6l3.6-2-3.7-1.6-3.6 2zM165.3 432.0l3.6-2-3.8-1.6-3.5 2.1zM191.6 441.1l3.5-1.5-3.9-2.1-3.5 1.5zM187.7 439.0l3.5-1.5-3.8-2-3.5 1.6zM176.3 433.4l3.6-1.8-3.8-1.7-3.5 1.7zM172.6 431.6l3.5-1.7-3.7-1.8-3.5 1.9zM168.9 430.0l3.5-1.9-3.7-1.6-3.6 1.9zM183.6 433.5l3.6-1.5-3.8-1.9-3.5 1.5zM179.9 431.6l3.5-1.5-3.8-1.9-3.5 1.7zM176.1 429.9l3.5-1.7-3.7-1.7-3.5 1.6z"/><path fill="#ff7000" stroke="#ff7000" d="M193.8 469.7l3.6-2.3-4-2.2-3.6 2.3zM189.8 467.5l3.6-2.3-3.9-2.2-3.7 2.4zM185.8 465.4l3.7-2.4-4-2-3.6 2.4zM181.9 463.4l3.6-2.4-3.9-2-3.7 2.5zM177.9 461.5l3.7-2.5-3.9-1.9-3.7 2.6zM197.4 467.4l3.7-2.1-4-2.3-3.7 2.2zM193.4 465.2l3.7-2.2-4-2.2-3.6 2.2zM177.7 457.1l3.7-2.4-3.9-1.9-3.7 2.5zM173.8 455.3l3.7-2.5-3.9-1.8-3.6 2.6zM197.1 463.0l3.6-1.9-4-2.3-3.6 2zM173.6 451.0l3.6-2.3-3.8-1.8-3.6 2.4zM169.8 449.3l3.6-2.4-3.8-1.7-3.6 2.5zM196.7 458.8l3.6-1.8-3.9-2.3-3.6 1.9zM169.6 445.2l3.6-2.3-3.8-1.7-3.6 2.4zM196.4 454.7l3.6-1.7-3.9-2.3-3.6 1.8zM169.4 441.2l3.6-2.2-3.8-1.6-3.6 2.2zM196.1 450.7l3.5-1.6-3.9-2.2-3.5 1.7zM192.2 448.6l3.5-1.7-3.8-2.1-3.6 1.7zM173.0 439.0l3.6-2-3.8-1.7-3.6 2.1zM169.2 437.4l3.6-2.1-3.8-1.7-3.5 2.2zM191.9 444.8l3.5-1.6-3.8-2.1-3.6 1.6zM188.0 442.7l3.6-1.6-3.9-2.1-3.5 1.7zM184.2 440.7l3.5-1.7-3.8-1.9-3.5 1.7zM180.4 438.8l3.5-1.7-3.8-1.9-3.5 1.8zM176.6 437.0l3.5-1.8-3.8-1.8-3.5 1.9zM172.8 435.3l3.5-1.9-3.7-1.8-3.6 2zM183.9 437.1l3.5-1.6-3.8-2-3.5 1.7zM180.1 435.2l3.5-1.7-3.7-1.9-3.6 1.8z"/><path fill="#ff6c00" stroke="#ff6c00" d="M189.5 463.0l3.6-2.2-3.9-2.1-3.7 2.3zM185.5 461.0l3.7-2.3-3.9-2-3.7 2.3zM181.6 459.0l3.7-2.3-3.9-2-3.7 2.4zM193.1 460.8l3.6-2-3.9-2.2-3.6 2.1zM189.2 458.7l3.6-2.1-3.9-2.1-3.6 2.2zM185.3 456.7l3.6-2.2-3.9-2-3.6 2.2zM181.4 454.7l3.6-2.2-3.9-2-3.6 2.3zM177.5 452.8l3.6-2.3-3.9-1.8-3.6 2.3zM192.8 456.6l3.6-1.9-3.9-2.2-3.6 2zM188.9 454.5l3.6-2-3.9-2.1-3.6 2.1zM185.0 452.5l3.6-2.1-3.9-2-3.6 2.1zM181.1 450.5l3.6-2.1-3.9-1.9-3.6 2.2zM177.2 448.7l3.6-2.2-3.8-1.8-3.6 2.2zM173.4 446.9l3.6-2.2-3.8-1.8-3.6 2.3zM192.5 452.5l3.6-1.8-3.9-2.1-3.6 1.8zM188.6 450.4l3.6-1.8-3.9-2.1-3.6 1.9zM184.7 448.4l3.6-1.9-3.9-2-3.6 2zM180.8 446.5l3.6-2-3.8-1.9-3.6 2.1zM177.0 444.7l3.6-2.1-3.8-1.8-3.6 2.1zM173.2 442.9l3.6-2.1-3.8-1.8-3.6 2.2zM188.3 446.5l3.6-1.7-3.9-2.1-3.6 1.8zM184.4 444.5l3.6-1.8-3.8-2-3.6 1.9zM180.6 442.6l3.6-1.9-3.8-1.9-3.6 2zM176.8 440.8l3.6-2-3.8-1.8-3.6 2z"/><path fill="#4eef00" stroke="#4eef00" d="M300.9 516.3l3.1 0.8-4-4.4-3.1-0.6z"/><path fill="#35ef00" stroke="#35ef00" d="M304.0 517.1l3 0.8-4-4.3-3-0.9z"/><path fill="#47ef00" stroke="#47ef00" d="M300.0 512.7l3 0.9-4-4.3-3.1-0.8z"/><path fill="#5aef00" stroke="#5aef00" d="M295.9 508.5l3.1 0.8-4.1-4.3-3-0.7z"/><path fill="#69ef00" stroke="#69ef00" d="M291.9 504.3l3 0.7-4-4.1-3.1-0.7z"/><path fill="#19df00" stroke="#19df00" d="M307.0 517.9l3 1.1-4-4.5-3-0.9z"/><path fill="#2adf00" stroke="#2adf00" d="M303.0 513.6l3 0.9-4-4.3-3-0.9z"/><path fill="#3bdf00" stroke="#3bdf00" d="M299.0 509.3l3 0.9-4-4.3-3.1-0.9z"/><path fill="#51ef00" stroke="#51ef00" d="M294.9 505.0l3.1 0.9-4-4.2-3.1-0.8z"/><path fill="#62ef00" stroke="#62ef00" d="M290.9 500.9l3.1 0.8-4-4.1-3.1-0.8z"/><path fill="#71ef00" stroke="#71ef00" d="M286.9 496.8l3.1 0.8-4-4.1-3.1-0.7z"/><path fill="#83ef00" stroke="#83ef00" d="M282.9 492.8l3.1 0.7-4-3.9-3.1-0.7z"/><path fill="#92ef00" stroke="#92ef00" d="M278.9 488.9l3.1 0.7-4-3.9-3.1-0.6z"/><path fill="#00cf02" stroke="#00cf02" d="M310.0 519.0l3 1.1-4-4.4-3-1.2z"/><path fill="#0fcf00" stroke="#0fcf00" d="M306.0 514.5l3 1.2-4-4.5-3-1zM300.0 503.8l3 1.3-4-4.3-2.9-1.2z"/><path fill="#21df00" stroke="#21df00" d="M302.0 510.2l3 1-4-4.3-3-1z"/><path fill="#32df00" stroke="#32df00" d="M298.0 505.9l3 1-4-4.2-3-1z"/><path fill="#42df00" stroke="#42df00" d="M294.0 501.7l3 1-3.9-4.2-3.1-0.9z"/><path fill="#54df00" stroke="#54df00" d="M290.0 497.6l3.1 0.9-4-4.1-3.1-0.9z"/><path fill="#65df00" stroke="#65df00" d="M286.0 493.5l3.1 0.9-4-4-3.1-0.8z"/><path fill="#7bef00" stroke="#7bef00" d="M282.0 489.6l3.1 0.8-3.9-4-3.2-0.7z"/><path fill="#8aef00" stroke="#8aef00" d="M278.0 485.7l3.2 0.7-4-3.8-3.1-0.7z"/><path fill="#99ef00" stroke="#99ef00" d="M274.1 481.9l3.1 0.7-3.9-3.8-3.2-0.6z"/><path fill="#a8ef00" stroke="#a8ef00" d="M270.1 478.2l3.2 0.6-4-3.7-3.1-0.6z"/><path fill="#b3ef00" stroke="#b3ef00" d="M266.2 474.5l3.1 0.6-3.9-3.6-3.2-0.5z"/><path fill="#00cf1a" stroke="#00cf1a" d="M313.0 520.1l2.9 1.4-4-4.6-2.9-1.2z"/><path fill="#00cf0b" stroke="#00cf0b" d="M309.0 515.7l2.9 1.2-4-4.4-2.9-1.3z"/><path fill="#08cf00" stroke="#08cf00" d="M305.0 511.2l2.9 1.3-3.9-4.4-3-1.2z"/><path fill="#18cf00" stroke="#18cf00" d="M301.0 506.9l3 1.2-4-4.3-3-1.1z"/><path fill="#27cf00" stroke="#27cf00" d="M297.0 502.7l3 1.1-3.9-4.2-3-1.1z"/><path fill="#36cf00" stroke="#36cf00" d="M293.1 498.5l3 1.1-4-4.2-3-1z"/><path fill="#4bdf00" stroke="#4bdf00" d="M289.1 494.4l3 1-3.9-4.1-3.1-0.9z"/><path fill="#59df00" stroke="#59df00" d="M285.1 490.4l3.1 0.9-4-4-3-0.9z"/><path fill="#6adf00" stroke="#6adf00" d="M281.2 486.4l3 0.9-3.9-3.9-3.1-0.8z"/><path fill="#78df00" stroke="#78df00" d="M277.2 482.6l3.1 0.8-3.9-3.8-3.1-0.8z"/><path fill="#86df00" stroke="#86df00" d="M273.3 478.8l3.1 0.8-4-3.8-3.1-0.7z"/><path fill="#9eef00" stroke="#9eef00" d="M269.3 475.1l3.1 0.7-3.9-3.7-3.1-0.6z"/><path fill="#abef00" stroke="#abef00" d="M265.4 471.5l3.1 0.6-3.9-3.6-3.1-0.6z"/><path fill="#baef00" stroke="#baef00" d="M261.5 467.9l3.1 0.6-3.9-3.5-3.1-0.5z"/><path fill="#c5ef00" stroke="#c5ef00" d="M257.6 464.5l3.1 0.5-3.8-3.4-3.2-0.5z"/><path fill="#d1ef00" stroke="#d1ef00" d="M253.7 461.1l3.2 0.5-3.9-3.4-3.2-0.4z"/><path fill="#ddef00" stroke="#ddef00" d="M249.8 457.8l3.2 0.4-3.9-3.2-3.2-0.4zM245.2 451.8l3.3 0.4-3.9-3.2-3.2-0.4zM240.8 445.9l3.2 0.5-3.8-3.1-3.2-0.4z"/><path fill="#00bf32" stroke="#00bf32" d="M315.9 521.5l2.8 1.4-3.9-4.5-2.9-1.5z"/><path fill="#00bf22" stroke="#00bf22" d="M311.9 516.9l2.9 1.5-4-4.6-2.9-1.3z"/><path fill="#00bf10" stroke="#00bf10" d="M307.9 512.5l2.9 1.3-3.9-4.4-2.9-1.3z"/><path fill="#00bf02" stroke="#00bf02" d="M304.0 508.1l2.9 1.3-3.9-4.3-3-1.3z"/><path fill="#1fcf00" stroke="#1fcf00" d="M296.1 499.6l2.9 1.2-3.9-4.2-3-1.2z"/><path fill="#2ecf00" stroke="#2ecf00" d="M292.1 495.4l3 1.2-3.9-4.2-3-1.1z"/><path fill="#3ecf00" stroke="#3ecf00" d="M288.2 491.3l3 1.1-3.9-4-3.1-1.1z"/><path fill="#4bcf00" stroke="#4bcf00" d="M284.2 487.3l3.1 1.1-4-4-3-1z"/><path fill="#5bcf00" stroke="#5bcf00" d="M280.3 483.4l3 1-3.9-3.9-3-0.9z"/><path fill="#70df00" stroke="#70df00" d="M276.4 479.6l3 0.9-3.9-3.8-3.1-0.9z"/><path fill="#7ddf00" stroke="#7ddf00" d="M272.4 475.8l3.1 0.9-3.9-3.7-3.1-0.9z"/><path fill="#8bdf00" stroke="#8bdf00" d="M268.5 472.1l3.1 0.9-3.8-3.7-3.2-0.8z"/><path fill="#96df00" stroke="#96df00" d="M264.6 468.5l3.2 0.8-3.9-3.6-3.2-0.7z"/><path fill="#a4df00" stroke="#a4df00" d="M260.7 465.0l3.2 0.7-3.9-3.5-3.1-0.6zM256.1 458.8l3.2 0.8-3.8-3.4-3.2-0.7z"/><path fill="#bcef00" stroke="#bcef00" d="M256.9 461.6l3.1 0.6-3.9-3.4-3.1-0.6z"/><path fill="#c9ef00" stroke="#c9ef00" d="M253.0 458.2l3.1 0.6-3.8-3.3-3.2-0.5z"/><path fill="#d4ef00" stroke="#d4ef00" d="M249.1 455.0l3.2 0.5-3.8-3.3-3.3-0.4z"/><path fill="#e9ef00" stroke="#e9ef00" d="M241.4 448.6l3.2 0.4-3.8-3.1-3.2-0.3zM237.0 442.9l3.2 0.4-3.8-3-3.2-0.3z"/><path fill="#efec00" stroke="#efec00" d="M237.6 445.6l3.2 0.3-3.8-3-3.3-0.3zM233.2 440.0l3.2 0.3-3.8-2.9-3.2-0.3z"/><path fill="#00af44" stroke="#00af44" d="M318.7 522.9l2.8 1.7-3.9-4.7-2.8-1.5z"/><path fill="#00af34" stroke="#00af34" d="M314.8 518.4l2.8 1.5-3.9-4.5-2.9-1.6z"/><path fill="#00bf28" stroke="#00bf28" d="M310.8 513.8l2.9 1.6-3.9-4.5-2.9-1.5z"/><path fill="#00bf1a" stroke="#00bf1a" d="M306.9 509.4l2.9 1.5-3.9-4.4-2.9-1.4z"/><path fill="#00bf0a" stroke="#00bf0a" d="M303.0 505.1l2.9 1.4-3.9-4.4-3-1.3z"/><path fill="#04bf00" stroke="#04bf00" d="M299.0 500.8l3 1.3-4-4.2-2.9-1.3z"/><path fill="#14bf00" stroke="#14bf00" d="M295.1 496.6l2.9 1.3-3.9-4.2-2.9-1.3z"/><path fill="#22bf00" stroke="#22bf00" d="M291.2 492.4l2.9 1.3-3.8-4.1-3-1.2z"/><path fill="#34cf00" stroke="#34cf00" d="M287.3 488.4l3 1.2-3.9-4-3.1-1.2z"/><path fill="#43cf00" stroke="#43cf00" d="M283.3 484.4l3.1 1.2-3.9-4-3.1-1.1z"/><path fill="#50cf00" stroke="#50cf00" d="M279.4 480.5l3.1 1.1-3.9-3.9-3.1-1z"/><path fill="#5dcf00" stroke="#5dcf00" d="M275.5 476.7l3.1 1-3.9-3.8-3.1-0.9z"/><path fill="#6acf00" stroke="#6acf00" d="M271.6 473.0l3.1 0.9-3.9-3.7-3-0.9z"/><path fill="#77cf00" stroke="#77cf00" d="M267.8 469.3l3 0.9-3.8-3.6-3.1-0.9z"/><path fill="#8fdf00" stroke="#8fdf00" d="M263.9 465.7l3.1 0.9-3.9-3.6-3.1-0.8z"/><path fill="#99df00" stroke="#99df00" d="M260.0 462.2l3.1 0.8-3.8-3.4-3.2-0.8z"/><path fill="#b0df00" stroke="#b0df00" d="M252.3 455.5l3.2 0.7-3.9-3.4-3.1-0.6z"/><path fill="#bbdf00" stroke="#bbdf00" d="M248.5 452.2l3.1 0.6-3.8-3.2-3.2-0.6zM244.0 446.4l3.2 0.7-3.8-3.2-3.2-0.6zM239.6 440.9l3.2 0.7-3.8-3.1-3.2-0.6z"/><path fill="#c6df00" stroke="#c6df00" d="M244.6 449.0l3.2 0.6-3.8-3.2-3.2-0.5zM240.2 443.3l3.2 0.6-3.8-3-3.2-0.6z"/><path fill="#efe300" stroke="#efe300" d="M229.4 437.1l3.2 0.3-3.7-2.8-3.3-0.3z"/><path fill="#efdd00" stroke="#efdd00" d="M225.6 434.3l3.3 0.3-3.8-2.8-3.2-0.2zM221.4 429.1l3.2 0.3-3.7-2.7-3.2-0.2zM213.5 421.6l3.3 0.3-3.7-2.6-3.2-0.1z"/><path fill="#efd400" stroke="#efd400" d="M221.9 431.6l3.2 0.2-3.7-2.7-3.3-0.1zM198.6 410.1l3.2 0.1-3.5-2.2-3.3 0z"/><path fill="#009f56" stroke="#009f56" d="M321.5 524.6l2.8 1.7-3.9-4.7-2.8-1.7z"/><path fill="#00af4d" stroke="#00af4d" d="M317.6 519.9l2.8 1.7-3.9-4.6-2.8-1.6z"/><path fill="#00af3d" stroke="#00af3d" d="M313.7 515.4l2.8 1.6-3.9-4.5-2.8-1.6z"/><path fill="#00af2e" stroke="#00af2e" d="M309.8 510.9l2.8 1.6-3.9-4.5-2.8-1.5z"/><path fill="#00af21" stroke="#00af21" d="M305.9 506.5l2.8 1.5-3.9-4.4-2.8-1.5z"/><path fill="#00af12" stroke="#00af12" d="M302.0 502.1l2.8 1.5-3.8-4.3-3-1.4z"/><path fill="#00bf04" stroke="#00bf04" d="M298.0 497.9l3 1.4-3.9-4.2-3-1.4z"/><path fill="#0cbf00" stroke="#0cbf00" d="M294.1 493.7l3 1.4-3.9-4.2-2.9-1.3z"/><path fill="#1abf00" stroke="#1abf00" d="M290.3 489.6l2.9 1.3-3.9-4-2.9-1.3z"/><path fill="#26bf00" stroke="#26bf00" d="M286.4 485.6l2.9 1.3-3.8-4-3-1.3z"/><path fill="#34bf00" stroke="#34bf00" d="M282.5 481.6l3 1.3-3.9-4-3-1.2z"/><path fill="#40bf00" stroke="#40bf00" d="M278.6 477.7l3 1.2-3.9-3.8-3-1.2z"/><path fill="#55cf00" stroke="#55cf00" d="M274.7 473.9l3 1.2-3.8-3.8-3.1-1.1z"/><path fill="#62cf00" stroke="#62cf00" d="M270.8 470.2l3.1 1.1-3.8-3.7-3.1-1z"/><path fill="#6dcf00" stroke="#6dcf00" d="M267.0 466.6l3.1 1-3.9-3.6-3.1-1z"/><path fill="#7acf00" stroke="#7acf00" d="M263.1 463.0l3.1 1-3.8-3.5-3.1-0.9z"/><path fill="#87cf00" stroke="#87cf00" d="M259.3 459.6l3.1 0.9-3.8-3.5-3.1-0.8zM254.8 453.6l3.1 0.9-3.8-3.3-3.1-0.9z"/><path fill="#91cf00" stroke="#91cf00" d="M255.5 456.2l3.1 0.8-3.8-3.4-3.2-0.8zM251.0 450.3l3.1 0.9-3.8-3.3-3.1-0.8zM246.5 444.7l3.1 0.9-3.7-3.2-3.1-0.8z"/><path fill="#a7df00" stroke="#a7df00" d="M251.6 452.8l3.2 0.8-3.8-3.3-3.2-0.7z"/><path fill="#b2df00" stroke="#b2df00" d="M247.8 449.6l3.2 0.7-3.8-3.2-3.2-0.7z"/><path fill="#cedf00" stroke="#cedf00" d="M236.4 440.3l3.2 0.6-3.8-3-3.2-0.5zM232.1 435.0l3.2 0.5-3.7-2.9-3.2-0.5z"/><path fill="#d6df00" stroke="#d6df00" d="M232.6 437.4l3.2 0.5-3.7-2.9-3.2-0.4zM228.4 432.1l3.2 0.5-3.8-2.8-3.2-0.4z"/><path fill="#efef00" stroke="#efef00" d="M228.9 434.6l3.2 0.4-3.7-2.9-3.3-0.3z"/><path fill="#efe600" stroke="#efe600" d="M225.1 431.8l3.3 0.3-3.8-2.7-3.2-0.3z"/><path fill="#efd700" stroke="#efd700" d="M217.7 426.5l3.2 0.2-3.7-2.6-3.2-0.1zM209.9 419.2l3.2 0.1-3.6-2.4-3.3-0.1z"/><path fill="#efd100" stroke="#efd100" d="M214.0 424.0l3.2 0.1-3.7-2.5-3.2-0.1zM206.2 416.8l3.3 0.1-3.7-2.3-3.3-0.1z"/><path fill="#efcb00" stroke="#efcb00" d="M210.3 421.5l3.2 0.1-3.6-2.4-3.3-0.1zM202.5 414.5l3.3 0.1-3.6-2.3-3.3 0zM191.4 406.0l3.3-0.1-3.6-2-3.2 0.1z"/><path fill="#efc500" stroke="#efc500" d="M206.6 419.1l3.3 0.1-3.7-2.4-3.3 0zM195.3 410.2l3.3-0.1-3.6-2.1-3.3 0.1zM180.8 400.3l3.3-0.3-3.5-1.8-3.3 0.4z"/><path fill="#009f6c" stroke="#009f6c" d="M324.3 526.3l2.7 1.9-3.9-4.7-2.7-1.9z"/><path fill="#009f5e" stroke="#009f5e" d="M320.4 521.6l2.7 1.9-3.8-4.7-2.8-1.8z"/><path fill="#009f50" stroke="#009f50" d="M316.5 517.0l2.8 1.8-3.9-4.6-2.8-1.7z"/><path fill="#009f40" stroke="#009f40" d="M312.6 512.5l2.8 1.7-3.9-4.5-2.8-1.7z"/><path fill="#00af37" stroke="#00af37" d="M308.7 508.0l2.8 1.7-3.8-4.4-2.9-1.7z"/><path fill="#00af2a" stroke="#00af2a" d="M304.8 503.6l2.9 1.7-3.9-4.4-2.8-1.6z"/><path fill="#00af1a" stroke="#00af1a" d="M301.0 499.3l2.8 1.6-3.8-4.3-2.9-1.5z"/><path fill="#00af0d" stroke="#00af0d" d="M297.1 495.1l2.9 1.5-3.9-4.2-2.9-1.5z"/><path fill="#02af00" stroke="#02af00" d="M293.2 490.9l2.9 1.5-3.8-4.1-3-1.4z"/><path fill="#0faf00" stroke="#0faf00" d="M289.3 486.9l3 1.4-3.9-4.1-2.9-1.3z"/><path fill="#1cbf00" stroke="#1cbf00" d="M285.5 482.9l2.9 1.3-3.8-3.9-3-1.4z"/><path fill="#2bbf00" stroke="#2bbf00" d="M281.6 478.9l3 1.4-3.9-3.9-3-1.3z"/><path fill="#37bf00" stroke="#37bf00" d="M277.7 475.1l3 1.3-3.8-3.9-3-1.2z"/><path fill="#45bf00" stroke="#45bf00" d="M273.9 471.3l3 1.2-3.8-3.7-3-1.2zM269.3 465.1l3 1.3-3.8-3.7-3-1.2z"/><path fill="#51bf00" stroke="#51bf00" d="M270.1 467.6l3 1.2-3.8-3.7-3.1-1.1zM265.5 461.5l3 1.2-3.8-3.6-3-1.1z"/><path fill="#5bbf00" stroke="#5bbf00" d="M266.2 464.0l3.1 1.1-3.8-3.6-3.1-1z"/><path fill="#6fcf00" stroke="#6fcf00" d="M262.4 460.5l3.1 1-3.8-3.5-3.1-1z"/><path fill="#7ccf00" stroke="#7ccf00" d="M258.6 457.0l3.1 1-3.8-3.5-3.1-0.9z"/><path fill="#9bcf00" stroke="#9bcf00" d="M247.2 447.1l3.1 0.8-3.8-3.2-3.1-0.8zM242.8 441.6l3.1 0.8-3.7-3.1-3.2-0.8z"/><path fill="#a6cf00" stroke="#a6cf00" d="M243.4 443.9l3.1 0.8-3.7-3.1-3.2-0.7z"/><path fill="#c3df00" stroke="#c3df00" d="M235.8 437.9l3.2 0.6-3.7-3-3.2-0.5z"/><path fill="#dcdf00" stroke="#dcdf00" d="M224.6 429.4l3.2 0.4-3.7-2.7-3.2-0.4z"/><path fill="#dfda00" stroke="#dfda00" d="M220.9 426.7l3.2 0.4-3.7-2.7-3.2-0.3zM213.1 419.3l3.2 0.4-3.6-2.5-3.2-0.3zM205.4 412.5l3.3 0.3-3.6-2.4-3.3-0.2z"/><path fill="#dfd400" stroke="#dfd400" d="M217.2 424.1l3.2 0.3-3.6-2.5-3.3-0.3zM209.5 416.9l3.2 0.3-3.6-2.4-3.3-0.2zM201.8 410.2l3.3 0.2-3.6-2.2-3.2-0.2z"/><path fill="#efc900" stroke="#efc900" d="M198.9 412.3l3.3 0-3.6-2.2-3.3 0.1zM187.9 404.0l3.2-0.1-3.5-2-3.3 0.2zM184.3 402.1l3.3-0.2-3.5-1.9-3.3 0.3z"/><path fill="#efc200" stroke="#efc200" d="M191.7 408.1l3.3-0.1-3.6-2-3.3 0.2z"/><path fill="#008f76" stroke="#008f76" d="M327.0 528.2l2.6 2-3.8-4.7-2.7-2z"/><path fill="#008f6a" stroke="#008f6a" d="M323.1 523.5l2.7 2-3.8-4.7-2.7-2z"/><path fill="#009f66" stroke="#009f66" d="M319.3 518.8l2.7 2-3.9-4.7-2.7-1.9z"/><path fill="#009f58" stroke="#009f58" d="M315.4 514.2l2.7 1.9-3.8-4.5-2.8-1.9z"/><path fill="#009f4a" stroke="#009f4a" d="M311.5 509.7l2.8 1.9-3.8-4.5-2.8-1.8z"/><path fill="#009f3c" stroke="#009f3c" d="M307.7 505.3l2.8 1.8-3.9-4.4-2.8-1.8z"/><path fill="#009f2e" stroke="#009f2e" d="M303.8 500.9l2.8 1.8-3.8-4.4-2.8-1.7z"/><path fill="#009f20" stroke="#009f20" d="M300.0 496.6l2.8 1.7-3.8-4.2-2.9-1.7z"/><path fill="#00af16" stroke="#00af16" d="M296.1 492.4l2.9 1.7-3.9-4.2-2.8-1.6z"/><path fill="#00af09" stroke="#00af09" d="M292.3 488.3l2.8 1.6-3.8-4.1-2.9-1.6z"/><path fill="#04af00" stroke="#04af00" d="M288.4 484.2l2.9 1.6-3.8-4.1-2.9-1.4z"/><path fill="#12af00" stroke="#12af00" d="M284.6 480.3l2.9 1.4-3.8-3.9-3-1.4z"/><path fill="#1faf00" stroke="#1faf00" d="M280.7 476.4l3 1.4-3.8-3.9-3-1.4z"/><path fill="#2aaf00" stroke="#2aaf00" d="M276.9 472.5l3 1.4-3.8-3.8-3-1.3z"/><path fill="#39bf00" stroke="#39bf00" d="M273.1 468.8l3 1.3-3.8-3.7-3-1.3z"/><path fill="#5dbf00" stroke="#5dbf00" d="M261.7 458.0l3 1.1-3.8-3.5-3-1.1zM257.2 452.2l3 1.2-3.7-3.4-3.1-1.1z"/><path fill="#69bf00" stroke="#69bf00" d="M257.9 454.5l3 1.1-3.7-3.4-3.1-1zM253.4 448.9l3.1 1.1-3.8-3.4-3.1-1z"/><path fill="#73bf00" stroke="#73bf00" d="M254.1 451.2l3.1 1-3.8-3.3-3.1-1zM249.6 445.6l3.1 1-3.7-3.2-3.1-1z"/><path fill="#7cbf00" stroke="#7cbf00" d="M250.3 447.9l3.1 1-3.8-3.3-3.1-0.9zM245.9 442.4l3.1 1-3.7-3.2-3.1-0.9z"/><path fill="#a3cf00" stroke="#a3cf00" d="M239.0 438.5l3.2 0.8-3.8-3-3.1-0.8z"/><path fill="#abcf00" stroke="#abcf00" d="M235.3 435.5l3.1 0.8-3.7-3-3.1-0.7z"/><path fill="#b5cf00" stroke="#b5cf00" d="M231.6 432.6l3.1 0.7-3.7-2.9-3.2-0.6z"/><path fill="#bdcf00" stroke="#bdcf00" d="M227.8 429.8l3.2 0.6-3.7-2.8-3.2-0.5z"/><path fill="#d1df00" stroke="#d1df00" d="M224.1 427.1l3.2 0.5-3.6-2.7-3.3-0.5z"/><path fill="#dadf00" stroke="#dadf00" d="M220.4 424.4l3.3 0.5-3.7-2.6-3.2-0.4z"/><path fill="#dfdf00" stroke="#dfdf00" d="M216.8 421.9l3.2 0.4-3.7-2.6-3.2-0.4zM209.1 414.8l3.2 0.4-3.6-2.4-3.3-0.3z"/><path fill="#dfce00" stroke="#dfce00" d="M205.8 414.6l3.3 0.2-3.7-2.3-3.2-0.2z"/><path fill="#dfc800" stroke="#dfc800" d="M202.2 412.3l3.2 0.2-3.6-2.3-3.2-0.1zM191.1 403.9l3.3 0-3.5-2-3.3 0zM187.6 401.9l3.3 0-3.6-1.9-3.2 0z"/><path fill="#efce00" stroke="#efce00" d="M195.0 408.0l3.3 0-3.6-2.1-3.3 0.1z"/><path fill="#008f8e" stroke="#008f8e" d="M329.6 530.2l2.7 2.2-3.8-4.8-2.7-2.1z"/><path fill="#008f7f" stroke="#008f7f" d="M325.8 525.5l2.7 2.1-3.9-4.8-2.6-2z"/><path fill="#008f71" stroke="#008f71" d="M322.0 520.8l2.6 2-3.8-4.7-2.7-2z"/><path fill="#008f64" stroke="#008f64" d="M318.1 516.1l2.7 2-3.8-4.6-2.7-1.9z"/><path fill="#008f56" stroke="#008f56" d="M314.3 511.6l2.7 1.9-3.8-4.5-2.7-1.9z"/><path fill="#008f4a" stroke="#008f4a" d="M310.5 507.1l2.7 1.9-3.8-4.5-2.8-1.8z"/><path fill="#009f44" stroke="#009f44" d="M306.6 502.7l2.8 1.8-3.8-4.3-2.8-1.9z"/><path fill="#009f36" stroke="#009f36" d="M302.8 498.3l2.8 1.9-3.8-4.4-2.8-1.7z"/><path fill="#009f2a" stroke="#009f2a" d="M299.0 494.1l2.8 1.7-3.8-4.2-2.9-1.7z"/><path fill="#009f1c" stroke="#009f1c" d="M295.1 489.9l2.9 1.7-3.8-4.2-2.9-1.6z"/><path fill="#009f10" stroke="#009f10" d="M291.3 485.8l2.9 1.6-3.8-4-2.9-1.7z"/><path fill="#009f04" stroke="#009f04" d="M287.5 481.7l2.9 1.7-3.8-4.1-2.9-1.5z"/><path fill="#09af00" stroke="#09af00" d="M283.7 477.8l2.9 1.5-3.8-3.9-2.9-1.5z"/><path fill="#14af00" stroke="#14af00" d="M279.9 473.9l2.9 1.5-3.8-3.9-2.9-1.4z"/><path fill="#21af00" stroke="#21af00" d="M276.1 470.1l2.9 1.4-3.7-3.7-3-1.4z"/><path fill="#2caf00" stroke="#2caf00" d="M272.3 466.4l3 1.4-3.8-3.8-3-1.3z"/><path fill="#37af00" stroke="#37af00" d="M268.5 462.7l3 1.3-3.8-3.6-3-1.3z"/><path fill="#42af00" stroke="#42af00" d="M264.7 459.1l3 1.3-3.7-3.5-3.1-1.3z"/><path fill="#4daf00" stroke="#4daf00" d="M260.9 455.6l3.1 1.3-3.8-3.5-3-1.2z"/><path fill="#83bf00" stroke="#83bf00" d="M242.2 439.3l3.1 0.9-3.7-3.1-3.2-0.8z"/><path fill="#8dbf00" stroke="#8dbf00" d="M238.4 436.3l3.2 0.8-3.7-3-3.2-0.8z"/><path fill="#a1cf00" stroke="#a1cf00" d="M234.7 433.3l3.2 0.8-3.7-2.9-3.2-0.8z"/><path fill="#a8cf00" stroke="#a8cf00" d="M231.0 430.4l3.2 0.8-3.7-2.9-3.2-0.7z"/><path fill="#b0cf00" stroke="#b0cf00" d="M227.3 427.6l3.2 0.7-3.7-2.8-3.1-0.6z"/><path fill="#b8cf00" stroke="#b8cf00" d="M223.7 424.9l3.1 0.6-3.6-2.7-3.2-0.5z"/><path fill="#c0cf00" stroke="#c0cf00" d="M220.0 422.3l3.2 0.5-3.7-2.6-3.2-0.5z"/><path fill="#c5cf00" stroke="#c5cf00" d="M216.3 419.7l3.2 0.5-3.6-2.6-3.2-0.4z"/><path fill="#cacf00" stroke="#cacf00" d="M212.7 417.2l3.2 0.4-3.6-2.4-3.2-0.4z"/><path fill="#dfd100" stroke="#dfd100" d="M198.3 408.0l3.2 0.2-3.6-2.2-3.2-0.1z"/><path fill="#dfcc00" stroke="#dfcc00" d="M194.7 405.9l3.2 0.1-3.5-2.1-3.3 0z"/><path fill="#dfc600" stroke="#dfc600" d="M184.1 400.0l3.2 0-3.5-1.9-3.2 0.1z"/></g>
<path d="M195.8 572.6Q151.8 547.7 113.8 539.5Q75.9 531.3 44.6 537.0M195.8 572.6Q236.5 525.8 271.4 517.3Q306.2 509.3 332.3 532.4M197.8 570.3Q153.8 545.0 115.7 536.5Q77.7 528.1 46.4 533.6M193.6 571.4Q234.3 524.2 269.3 515.4Q304.1 507.1 330.4 530.0M199.9 568.0Q155.8 542.4 117.6 533.7Q79.5 525.0 48.1 530.2M191.5 570.2Q232.1 522.7 267.2 513.6Q302.1 504.9 328.5 527.6M201.9 565.8Q157.8 539.9 119.5 530.9Q81.3 521.9 49.8 526.9M189.3 569.0Q229.9 521.2 265.1 511.7Q300.1 502.7 326.6 525.2M203.9 563.6Q159.8 537.4 121.5 528.1Q83.2 518.8 51.5 523.6M187.1 567.8Q227.7 519.7 262.9 509.9Q298.0 500.6 324.6 522.8M205.8 561.5Q161.8 534.9 123.4 525.3Q85.0 515.8 53.2 520.4M184.9 566.6Q225.5 518.2 260.8 508.1Q296.0 498.5 322.7 520.5M207.8 559.4Q163.8 532.5 125.3 522.7Q86.9 512.8 55.0 517.2M182.8 565.5Q223.3 516.8 258.7 506.3Q293.9 496.4 320.8 518.1M209.8 557.4Q165.7 530.2 127.2 520.0Q88.7 509.9 56.7 514.0M180.6 564.4Q221.1 515.3 256.6 504.6Q291.9 494.3 318.9 515.8M211.8 555.4Q167.7 527.9 129.1 517.4Q90.6 507.0 58.4 510.9M178.5 563.3Q218.9 513.9 254.5 502.8Q289.9 492.3 317.0 513.5M213.8 553.5Q169.7 525.6 131.0 514.9Q92.4 504.2 60.2 507.8M176.4 562.2Q216.8 512.5 252.4 501.1Q287.8 490.2 315.1 511.3M215.7 551.6Q171.7 523.4 132.9 512.4Q94.2 501.4 61.9 504.8M174.2 561.2Q214.6 511.2 250.3 499.4Q285.8 488.2 313.2 509.0M217.7 549.7Q173.6 521.3 134.8 509.9Q96.1 498.6 63.7 501.8M172.1 560.1Q212.5 509.8 248.2 497.8Q283.8 486.2 311.3 506.8M219.6 547.9Q175.6 519.2 136.7 507.5Q98.0 495.9 65.4 498.8M170.0 559.1Q210.3 508.5 246.1 496.1Q281.7 484.3 309.4 504.5M221.6 546.2Q177.6 517.1 138.6 505.1Q99.8 493.2 67.2 495.9M167.9 558.1Q208.2 507.2 244.0 494.5Q279.7 482.3 307.5 502.3M223.5 544.5Q179.5 515.1 140.6 502.8Q101.7 490.6 68.9 493.0M165.8 557.2Q206.0 506.0 241.9 492.9Q277.7 480.4 305.6 500.2M225.5 542.9Q181.5 513.1 142.5 500.5Q103.5 488.0 70.7 490.2M163.7 556.2Q203.9 504.7 239.8 491.3Q275.6 478.5 303.7 498.0M227.4 541.3Q183.4 511.2 144.4 498.3Q105.4 485.5 72.5 487.4M161.6 555.3Q201.7 503.5 237.8 489.8Q273.6 476.6 301.8 495.8M229.3 539.7Q185.4 509.3 146.3 496.1Q107.2 483.0 74.2 484.7M159.5 554.4Q199.6 502.3 235.7 488.2Q271.6 474.7 299.9 493.7M231.2 538.2Q187.3 507.5 148.2 494.0Q109.1 480.5 76.0 481.9M157.4 553.5Q197.5 501.1 233.6 486.7Q269.6 472.8 298.0 491.6M233.2 536.8Q189.2 505.7 150.1 491.9Q110.9 478.1 77.8 479.3M155.4 552.7Q195.4 499.9 231.6 485.2Q267.6 471.0 296.1 489.5M235.1 535.4Q191.2 504.0 152.0 489.8Q112.8 475.7 79.5 476.6M153.3 551.8Q193.3 498.8 229.5 483.7Q265.5 469.2 294.2 487.4M236.9 534.0Q193.1 502.3 153.9 487.8Q114.7 473.4 81.3 474.1M151.3 551.0Q191.2 497.7 227.4 482.3Q263.5 467.4 292.3 485.4M238.8 532.7Q195.0 500.7 155.7 485.9Q116.5 471.2 83.1 471.5M149.2 550.2Q189.1 496.6 225.4 480.9Q261.5 465.7 290.4 483.4M240.7 531.5Q197.0 499.1 157.6 484.0Q118.4 468.9 84.8 469.0M147.2 549.5Q187.0 495.5 223.3 479.4Q259.5 463.9 288.5 481.3M242.6 530.3Q198.9 497.6 159.5 482.1Q120.2 466.8 86.6 466.5M145.2 548.7Q184.9 494.5 221.3 478.1Q257.5 462.2 286.6 479.3M244.5 529.1Q200.8 496.1 161.4 480.3Q122.1 464.6 88.4 464.1M143.2 548.0Q182.8 493.4 219.2 476.7Q255.5 460.5 284.7 477.4M246.3 528.0Q202.7 494.6 163.3 478.5Q123.9 462.5 90.2 461.8M141.1 547.3Q180.8 492.4 217.2 475.3Q253.5 458.8 282.8 475.4M248.2 526.9Q204.6 493.2 165.2 476.8Q125.8 460.5 92.0 459.4M139.1 546.6Q178.7 491.4 215.2 474.0Q251.5 457.1 280.9 473.5M250.0 525.9Q206.5 491.9 167.0 475.1Q127.6 458.5 93.7 457.1M137.1 545.9Q176.6 490.5 213.1 472.7Q249.5 455.5 279.0 471.5M251.8 524.9Q208.4 490.6 168.9 473.5Q129.5 456.5 95.5 454.9M135.2 545.3Q174.6 489.5 211.1 471.4Q247.5 453.9 277.1 469.6M253.7 524.0Q210.2 489.4 170.8 471.9Q131.3 454.6 97.3 452.7M133.2 544.6Q172.5 488.6 209.1 470.2Q245.5 452.3 275.3 467.8M255.5 523.1Q212.1 488.2 172.6 470.4Q133.2 452.8 99.1 450.5M131.2 544.0Q170.5 487.7 207.1 468.9Q243.5 450.7 273.4 465.9M257.3 522.3Q214.0 487.0 174.5 468.9Q135.0 450.9 100.9 448.4M129.2 543.4Q168.5 486.8 205.1 467.7Q241.6 449.1 271.5 464.0M259.1 521.5Q215.8 485.9 176.3 467.5Q136.9 449.2 102.6 446.3M127.3 542.9Q166.4 486.0 203.1 466.5Q239.6 447.6 269.6 462.2M260.9 520.8Q217.7 484.8 178.2 466.1Q138.7 447.4 104.4 444.3M125.3 542.3Q164.4 485.1 201.1 465.3Q237.6 446.1 267.7 460.4M262.7 520.1Q219.5 483.8 180.0 464.7Q140.6 445.8 106.2 442.3M123.4 541.8Q162.4 484.3 199.1 464.2Q235.6 444.6 265.8 458.6M264.4 519.4Q221.4 482.9 181.9 463.4Q142.4 444.1 108.0 440.4M121.5 541.3Q160.4 483.5 197.1 463.0Q233.7 443.1 264.0 456.9M266.2 518.8Q223.2 481.9 183.7 462.2Q144.2 442.5 109.8 438.5M119.5 540.8Q158.4 482.8 195.1 461.9Q231.7 441.7 262.1 455.1M267.9 518.3Q225.0 481.1 185.5 461.0Q146.1 441.0 111.5 436.6M117.6 540.3Q156.4 482.0 193.1 460.8Q229.7 440.2 260.2 453.4M269.7 517.8Q226.9 480.2 187.4 459.8Q147.9 439.5 113.3 434.8M115.7 539.9Q154.4 481.3 191.1 459.8Q227.8 438.8 258.3 451.7M271.4 517.3Q228.7 479.5 189.2 458.7Q149.7 438.1 115.1 433.1M113.8 539.5Q152.4 480.6 189.2 458.7Q225.8 437.4 256.5 450.0M273.2 516.9Q230.5 478.7 191.0 457.6Q151.5 436.6 116.9 431.3M111.9 539.0Q150.5 479.9 187.2 457.7Q223.8 436.0 254.6 448.3M274.9 516.5Q232.3 478.1 192.8 456.6Q153.4 435.3 118.6 429.7M110.0 538.7Q148.5 479.2 185.3 456.7Q221.9 434.7 252.7 446.6M276.6 516.2Q234.1 477.4 194.6 455.6Q155.2 434.0 120.4 428.0M108.2 538.3Q146.5 478.6 183.3 455.7Q220.0 433.4 250.9 445.0M278.3 515.9Q235.9 476.8 196.4 454.7Q157.0 432.7 122.2 426.4M106.3 537.9Q144.6 477.9 181.4 454.7Q218.0 432.1 249.0 443.4M280.0 515.6Q237.6 476.3 198.2 453.8Q158.8 431.5 124.0 424.9M104.4 537.6Q142.6 477.3 179.4 453.8Q216.1 430.8 247.1 441.8M281.6 515.4Q239.4 475.8 200.0 453.0Q160.6 430.3 125.7 423.4M102.6 537.3Q140.7 476.7 177.5 452.8Q214.1 429.5 245.3 440.2M283.3 515.3Q241.2 475.3 201.8 452.2Q162.4 429.2 127.5 421.9M100.7 537.0Q138.8 476.2 175.5 451.9Q212.2 428.3 243.4 438.7M285.0 515.2Q242.9 474.9 203.5 451.4Q164.2 428.1 129.3 420.5M98.9 536.7Q136.8 475.6 173.6 451.0Q210.3 427.0 241.6 437.1M286.6 515.1Q244.6 474.5 205.3 450.7Q166.0 427.0 131.0 419.2M97.1 536.4Q134.9 475.1 171.7 450.2Q208.3 425.8 239.7 435.6M288.2 515.1Q246.4 474.2 207.1 450.1Q167.8 426.0 132.8 417.8M95.3 536.2Q133.0 474.6 169.8 449.3Q206.4 424.6 237.9 434.1M289.9 515.1Q248.1 473.9 208.8 449.5Q169.6 425.1 134.5 416.6M93.4 536.0Q131.1 474.1 167.9 448.5Q204.5 423.5 236.0 432.6M291.5 515.1Q249.8 473.7 210.6 448.9Q171.4 424.2 136.3 415.3M91.6 535.8Q129.2 473.6 166.0 447.7Q202.6 422.3 234.2 431.2M293.1 515.2Q251.5 473.5 212.3 448.4Q173.1 423.3 138.0 414.1M89.9 535.6Q127.3 473.2 164.1 446.9Q200.7 421.2 232.3 429.7M294.7 515.4Q253.2 473.3 214.0 447.9Q174.9 422.5 139.8 413.0M88.1 535.4Q125.4 472.8 162.2 446.1Q198.8 420.1 230.5 428.3M296.3 515.6Q254.9 473.2 215.8 447.4Q176.7 421.7 141.5 411.9M86.3 535.3Q123.6 472.4 160.3 445.4Q196.9 419.0 228.7 426.9M297.8 515.8Q256.6 473.2 217.5 447.0Q178.4 421.0 143.3 410.8M84.5 535.1Q121.7 472.0 158.4 444.7Q195.0 417.9 226.8 425.5M299.4 516.0Q258.3 473.1 219.2 446.7Q180.2 420.3 145.0 409.8M82.8 535.0Q119.8 471.6 156.5 444.0Q193.1 416.9 225.0 424.2M300.9 516.3Q259.9 473.2 220.9 446.4Q181.9 419.7 146.7 408.8M81.0 534.9Q118.0 471.3 154.7 443.3Q191.2 415.9 223.2 422.8M302.5 516.7Q261.6 473.2 222.6 446.1Q183.7 419.1 148.5 407.9M79.3 534.8Q116.1 470.9 152.8 442.6Q189.3 414.9 221.3 421.5M304.0 517.1Q263.2 473.3 224.3 445.9Q185.4 418.5 150.2 407.0M77.5 534.8Q114.3 470.6 150.9 442.0Q187.5 413.9 219.5 420.2M305.5 517.5Q264.9 473.5 226.0 445.7Q187.2 418.0 151.9 406.2M75.8 534.7Q112.5 470.3 149.1 441.3Q185.6 412.9 217.7 418.9M307.0 517.9Q266.5 473.7 227.7 445.6Q188.9 417.6 153.6 405.4M74.1 534.7Q110.7 470.0 147.2 440.7Q183.7 412.0 215.9 417.6M308.5 518.4Q268.1 473.9 229.3 445.5Q190.6 417.1 155.4 404.6M72.4 534.7Q108.8 469.8 145.4 440.1Q181.9 411.1 214.1 416.4M310.0 519.0Q269.7 474.2 231.0 445.4Q192.3 416.8 157.1 403.9M70.7 534.7Q107.0 469.6 143.6 439.6Q180.0 410.2 212.3 415.2M311.5 519.5Q271.3 474.5 232.7 445.4Q194.0 416.4 158.8 403.2M69.0 534.7Q105.2 469.3 141.7 439.0Q178.1 409.3 210.5 413.9M313.0 520.1Q272.9 474.8 234.3 445.4Q195.7 416.1 160.5 402.6M67.3 534.7Q103.4 469.1 139.9 438.5Q176.3 408.4 208.7 412.8M314.4 520.8Q274.5 475.2 235.9 445.5Q197.4 415.9 162.2 402.0M65.6 534.8Q101.7 469.0 138.1 438.0Q174.5 407.6 206.9 411.6M315.9 521.5Q276.0 475.6 237.6 445.6Q199.1 415.7 163.9 401.4M64.0 534.9Q99.9 468.8 136.3 437.5Q172.6 406.8 205.1 410.4M317.3 522.2Q277.6 476.1 239.2 445.7Q200.8 415.5 165.6 400.9M62.3 535.0Q98.1 468.7 134.5 437.0Q170.8 406.0 203.3 409.3M318.7 522.9Q279.1 476.6 240.8 445.9Q202.5 415.4 167.3 400.5M60.7 535.1Q96.4 468.5 132.7 436.6Q169.0 405.2 201.5 408.2M320.1 523.7Q280.7 477.1 242.4 446.2Q204.2 415.3 168.9 400.0M59.0 535.2Q94.6 468.4 130.9 436.1Q167.1 404.4 199.7 407.1M321.5 524.6Q282.2 477.7 244.0 446.4Q205.8 415.2 170.6 399.7M57.4 535.3Q92.9 468.3 129.1 435.7Q165.3 403.7 197.9 406.0M322.9 525.4Q283.7 478.3 245.6 446.7Q207.5 415.2 172.3 399.3M55.8 535.5Q91.1 468.3 127.3 435.3Q163.5 402.9 196.2 405.0M324.3 526.3Q285.2 479.0 247.2 447.1Q209.1 415.3 174.0 399.0M54.2 535.6Q89.4 468.2 125.6 434.9Q161.7 402.2 194.4 403.9M325.6 527.2Q286.7 479.7 248.7 447.5Q210.8 415.4 175.6 398.8M52.5 535.8Q87.7 468.2 123.8 434.6Q159.9 401.6 192.6 402.9M327.0 528.2Q288.2 480.4 250.3 447.9Q212.4 415.5 177.3 398.6M51.0 536.0Q86.0 468.2 122.1 434.2Q158.1 400.9 190.9 401.9M328.3 529.2Q289.7 481.2 251.8 448.4Q214.1 415.6 178.9 398.4M49.4 536.2Q84.3 468.2 120.3 433.9Q156.3 400.2 189.1 400.9M329.6 530.2Q291.1 482.0 253.4 448.9Q215.7 415.8 180.6 398.2M47.8 536.5Q82.6 468.2 118.6 433.6Q154.5 399.6 187.3 400.0M331.0 531.3Q292.6 482.8 254.9 449.4Q217.3 416.1 182.2 398.1M46.2 536.7Q80.9 468.2 116.8 433.3Q152.7 399.0 185.6 399.0M332.3 532.4Q294.0 483.7 256.5 450.0Q218.9 416.3 183.8 398.1M44.6 537.0Q79.2 468.3 115.1 433.1Q150.9 398.4 183.8 398.1" fill="none" stroke="#000" stroke-width="0.70" stroke-opacity="0.66"/>
<circle cx="189.2" cy="455.8" r="2.6" fill="#d01818" stroke="#701010" stroke-width="0.5"/>
<circle cx="189.2" cy="452.6" r="2.6" fill="#d01818" stroke="#701010" stroke-width="0.5"/>
<circle cx="189.2" cy="446.9" r="2.6" fill="#d01818" stroke="#701010" stroke-width="0.5"/>
<text x="22.0" y="535.0" font-size="9.5" text-anchor="middle" class="tt" transform="rotate(-90 22.0 535.0)">Flavonoids (OD325 g)</text>
<text x="87.5" y="689.0" font-size="9.2" text-anchor="middle" class="tt">B: Total P (g kg-1)</text>
<text x="297.0" y="690.4" font-size="9.2" text-anchor="middle" class="tt">A: Available P (mg kg-1)</text>
<text x="78.3" y="400.0" class="lt">b</text></g>
<g><path d="M407.8 567.8L537.8 482.8M537.8 482.8L682.2 556.5M405.7 547.4L537.8 463.4M537.8 463.4L684.4 536.3M403.6 527.1L537.7 443.9M537.7 443.9L686.5 516.0M401.6 506.8L537.6 424.5M537.6 424.5L688.7 495.8M399.5 486.4L537.6 405.1M537.6 405.1L690.9 475.6M397.4 466.0L537.5 385.6M537.5 385.6L693.0 455.3M395.3 445.7L537.5 366.2M537.5 366.2L695.2 435.1M407.8 567.8L395.3 445.7M433.8 550.8L423.7 429.8M459.8 533.8L452.2 413.9M485.8 516.8L480.6 398.0M511.8 499.8L509.1 382.1M537.8 482.8L537.5 366.2M573.9 501.2L576.9 383.4M610.0 519.6L616.4 400.6M646.1 538.1L655.8 417.9M682.2 556.5L695.2 435.1M411.6 604.2L407.8 567.8M679.0 592.7L682.2 556.5" fill="none" stroke="#1a1a1a" stroke-width="0.62"/>
<path d="M411.6 604.2 L538.2 517.3 L679.0 592.7 L555.6 697.8 Z" fill="#ffff00"/>
<path d="" fill="none" stroke="#00dcff" stroke-width="0.70"/>
<path d="M419.6 599.5 L420.8 601.7 L422.1 603.8 L423.4 606.0 L424.8 608.1 L426.2 610.2 L427.6 612.3 L429.1 614.4 L430.6 616.5" fill="none" stroke="#00ffbe" stroke-width="0.70"/>
<path d="M435.2 588.7 L436.1 590.6 L437.1 592.5 L438.1 594.4 L439.2 596.2 L440.2 598.1 L441.4 599.9 L442.5 601.8 L443.7 603.6 L445.0 605.4 L446.2 607.1 L447.5 608.9 L448.9 610.6 L450.2 612.4 L451.6 614.1 L453.1 615.8 L454.6 617.5 L456.1 619.2 L457.6 620.9 L459.2 622.6 L460.8 624.2 L462.5 625.9 L464.2 627.5 L466.0 629.2 L467.8 630.8 L469.6 632.4 L471.5 634.1 L473.4 635.7 L475.4 637.3 L477.4 638.9 L479.5 640.5 L481.7 642.1 L483.8 643.7 L486.1 645.3 L488.4 646.8 L490.8 648.4 L493.2 650.0 L495.7 651.5 L498.2 653.1 L500.8 654.6 L503.5 656.1 L506.3 657.6 L509.1 659.1 L512.1 660.6 L515.0 662.1 L518.1 663.5 L521.3 664.9 L524.5 666.3 L527.8 667.7 L531.3 669.0 L534.8 670.3 L538.3 671.6 L542.0 672.8 L545.8 674.0 L549.6 675.1 L553.6 676.2 L557.6 677.2 L561.7 678.1 L565.9 678.9 L570.1 679.7 L574.4 680.4" fill="none" stroke="#00ff5a" stroke-width="0.70"/>
<path d="M454.9 575.2 L455.4 576.9 L456.0 578.5 L456.6 580.1 L457.3 581.7 L457.9 583.3 L458.6 584.8 L459.4 586.4 L460.2 587.9 L461.0 589.4 L461.8 590.9 L462.7 592.4 L463.6 593.8 L464.5 595.3 L465.4 596.7 L466.4 598.1 L467.4 599.5 L468.5 600.9 L469.5 602.3 L470.6 603.6 L471.7 605.0 L472.9 606.3 L474.0 607.7 L475.2 609.0 L476.4 610.3 L477.7 611.6 L479.0 612.9 L480.3 614.2 L481.6 615.5 L483.0 616.8 L484.4 618.1 L485.8 619.3 L487.3 620.6 L488.8 621.9 L490.3 623.1 L491.9 624.3 L493.5 625.6 L495.1 626.8 L496.8 628.1 L498.6 629.3 L500.3 630.5 L502.1 631.7 L504.0 632.9 L505.9 634.1 L507.9 635.3 L509.9 636.5 L511.9 637.7 L514.0 638.8 L516.2 640.0 L518.4 641.1 L520.7 642.2 L523.1 643.4 L525.5 644.5 L527.9 645.5 L530.5 646.6 L533.0 647.6 L535.7 648.7 L538.4 649.7 L541.2 650.6 L544.1 651.5 L547.0 652.4 L550.0 653.3 L553.0 654.1 L556.1 654.8 L559.3 655.5 L562.6 656.2 L565.8 656.8 L569.2 657.3 L572.6 657.7 L576.0 658.1 L579.5 658.4 L583.0 658.6 L586.5 658.6 L590.0 658.6 L593.6 658.5 L597.1 658.3 L600.6 658.0M655.6 611.3 L655.7 609.2 L655.6 607.0 L655.5 604.9 L655.3 602.8 L655.0 600.8 L654.6 598.7 L654.2 596.7 L653.7 594.8 L653.1 592.8 L652.5 590.9 L651.9 589.1 L651.2 587.3 L650.4 585.5 L649.6 583.7 L648.8 582.0 L648.0 580.3 L647.1 578.6 L646.1 577.0 L645.2 575.4" fill="none" stroke="#0aff00" stroke-width="0.70"/>
<path d="M587.2 550.9 L586.2 550.2 L585.1 549.6 L584.1 548.9 L583.0 548.2 L582.0 547.6 L580.9 546.9 L579.7 546.3 L578.6 545.6 L577.4 545.0 L576.2 544.4 L575.0 543.8 L573.8 543.2 L572.5 542.6 L571.3 542.0 L569.9 541.4 L568.6 540.8 L567.2 540.2 L565.8 539.7 L564.4 539.1 L562.9 538.6 L561.4 538.0 L559.9 537.5 L558.4 537.0 L556.8 536.6 L555.2 536.1 L553.5 535.7 L551.8 535.2 L550.1 534.8 L548.4 534.5 L546.6 534.1 L544.8 533.8 L542.9 533.5 L541.1 533.3 L539.2 533.1 L537.3 532.9 L535.3 532.7 L533.4 532.7 L531.4 532.6 L529.5 532.6 L527.5 532.7 L525.5 532.8 L523.5 532.9 L521.6 533.1 L519.6 533.4 L517.7 533.8 L515.8 534.1 L513.9 534.6M491.1 550.1 L490.4 551.3 L489.8 552.5 L489.3 553.7 L488.8 555.0 L488.4 556.2 L488.1 557.5 L487.8 558.7 L487.6 559.9 L487.4 561.2 L487.3 562.4 L487.3 563.6 L487.3 564.8 L487.3 566.0 L487.4 567.2 L487.5 568.3 L487.7 569.5 L487.9 570.6 L488.1 571.8 L488.4 572.9 L488.7 574.0 L489.0 575.1 L489.4 576.1 L489.7 577.2 L490.1 578.2 L490.6 579.3 L491.0 580.3 L491.5 581.3 L492.0 582.3 L492.5 583.3 L493.0 584.2 L493.6 585.2 L494.1 586.1 L494.7 587.1 L495.3 588.0 L496.0 588.9 L496.6 589.8 L497.2 590.7 L497.9 591.6 L498.6 592.5 L499.3 593.3 L500.0 594.2 L500.8 595.0 L501.5 595.9 L502.3 596.7 L503.0 597.5 L503.8 598.4 L504.7 599.2 L505.5 600.0 L506.3 600.8 L507.2 601.6 L508.1 602.4 L509.0 603.2 L509.9 604.0 L510.9 604.8 L511.8 605.5 L512.8 606.3 L513.8 607.1 L514.9 607.9 L515.9 608.6 L517.0 609.4 L518.1 610.1 L519.2 610.9 L520.4 611.6 L521.6 612.4 L522.8 613.1 L524.0 613.8 L525.3 614.5 L526.6 615.3 L527.9 616.0 L529.3 616.7 L530.7 617.4 L532.1 618.1 L533.6 618.7 L535.1 619.4 L536.7 620.1 L538.2 620.7 L539.9 621.4 L541.5 622.0 L543.2 622.6 L545.0 623.2 L546.7 623.7 L548.6 624.2 L550.4 624.8 L552.3 625.2 L554.3 625.7 L556.2 626.1 L558.2 626.5 L560.3 626.9 L562.4 627.2 L564.5 627.4 L566.6 627.7 L568.8 627.8 L570.9 627.9 L573.1 628.0 L575.3 628.0 L577.5 627.9 L579.7 627.8 L581.9 627.6 L584.0 627.3 L586.2 627.0 L588.3 626.6 L590.4 626.1 L592.4 625.5 L594.4 624.9 L596.3 624.2 L598.2 623.5 L600.0 622.6 L601.7 621.7 L603.3 620.7 L604.8 619.7 L606.3 618.6 L607.7 617.5 L608.9 616.3 L610.1 615.1 L611.2 613.9 L612.2 612.6 L613.1 611.3 L613.9 610.0 L614.6 608.6 L615.2 607.2 L615.8 605.9 L616.2 604.5 L616.6 603.1 L616.9 601.7 L617.1 600.4 L617.3 599.0 L617.3 597.7 L617.4 596.3 L617.4 595.0 L617.3 593.7 L617.1 592.4 L617.0 591.1 L616.7 589.8 L616.5 588.6 L616.2 587.4 L615.8 586.2 L615.5 585.0 L615.1 583.8 L614.6 582.7 L614.2 581.6 L613.7 580.5 L613.2 579.4 L612.7 578.3 L612.1 577.3 L611.5 576.2 L611.0 575.2 L610.3 574.2 L609.7 573.3 L609.1 572.3 L608.4 571.4 L607.8 570.4 L607.1 569.5 L606.4 568.6 L605.7 567.7 L605.0 566.9 L604.3 566.0 L603.5 565.2 L602.8 564.3 L602.0 563.5 L601.2 562.7 L600.5 561.9 L599.7 561.1 L598.9 560.3 L598.0 559.6 L597.2 558.8 L596.4 558.0 L595.5 557.3 L594.6 556.6 L593.8 555.8 L592.9 555.1 L591.9 554.4 L591.0 553.7 L590.1 553.0 L589.1 552.3 L588.2 551.6 L587.2 550.9" fill="none" stroke="#6eff00" stroke-width="0.70"/>
<path d="M411.6 604.2 L555.6 697.8 L679.0 592.7" fill="none" stroke="#222" stroke-width="0.6"/>
<g fill="#111"><circle cx="555.6" cy="697.8" r="1.1"/><circle cx="580.3" cy="676.8" r="1.1"/><circle cx="605.0" cy="655.8" r="1.1"/><circle cx="629.6" cy="634.7" r="1.1"/><circle cx="654.3" cy="613.7" r="1.1"/><circle cx="679.0" cy="592.7" r="1.1"/><circle cx="555.6" cy="697.8" r="1.1"/><circle cx="519.6" cy="674.4" r="1.1"/><circle cx="483.6" cy="651.0" r="1.1"/><circle cx="447.6" cy="627.6" r="1.1"/><circle cx="411.6" cy="604.2" r="1.1"/><circle cx="407.8" cy="567.8" r="1.1"/><circle cx="405.7" cy="547.4" r="1.1"/><circle cx="403.6" cy="527.1" r="1.1"/><circle cx="401.6" cy="506.8" r="1.1"/><circle cx="399.5" cy="486.4" r="1.1"/><circle cx="397.4" cy="466.0" r="1.1"/><circle cx="395.3" cy="445.7" r="1.1"/></g>
<g font-size="6.5" class="tk"><text x="559.5" y="704.0">70.75</text><text x="584.2" y="683.0">89.4</text><text x="608.9" y="662.0">108.05</text><text x="633.5" y="640.9">126.7</text><text x="658.2" y="619.9">145.35</text><text x="682.9" y="598.9">164</text><text x="552.1" y="704.3" text-anchor="end">0.62</text><text x="516.1" y="680.9" text-anchor="end">0.88</text><text x="480.1" y="657.5" text-anchor="end">1.14</text><text x="444.1" y="634.1" text-anchor="end">1.4</text><text x="408.1" y="610.7" text-anchor="end">1.66</text><text x="404.1" y="566.9" text-anchor="end">0.46</text><text x="402.0" y="546.5" text-anchor="end">0.48</text><text x="399.9" y="526.2" text-anchor="end">0.5</text><text x="397.9" y="505.9" text-anchor="end">0.52</text><text x="395.8" y="485.5" text-anchor="end">0.54</text><text x="393.7" y="465.1" text-anchor="end">0.56</text><text x="391.6" y="444.8" text-anchor="end">0.58</text></g>
<path d="M556.2 630.5 L556.0 650.7" stroke="#3c3c00" stroke-width="0.8"/>
<circle cx="556.0" cy="650.7" r="2.85" fill="#f0868e" stroke="#6a3a20" stroke-width="0.6"/>
<path d="M405.3 543.6 L407.8 568.2" stroke="#3c3c00" stroke-width="0.8"/>
<circle cx="407.8" cy="568.2" r="2.85" fill="#f0868e" stroke="#6a3a20" stroke-width="0.6"/>
<path d="M686.5 517.3 L685.4 528.4" stroke="#3c3c00" stroke-width="0.8"/>
<circle cx="685.4" cy="528.4" r="2.85" fill="#f0868e" stroke="#6a3a20" stroke-width="0.6"/>
<g stroke-width="0.6" stroke-linejoin="round"><path fill="#00ffb9" stroke="#00ffb9" d="M556.2 630.5l3.6-5-4.1-3.4-3.7 5z"/><path fill="#00ffb2" stroke="#00ffb2" d="M552.0 627.1l3.7-5-4.2-3.3-3.6 5zM415.5 535.1l3.4-4.6-3.3-1-3.4 4.6z"/><path fill="#00ffa9" stroke="#00ffa9" d="M547.9 623.8l3.6-5-4.1-3.2-3.7 5zM418.8 536.2l3.5-4.6-3.4-1.1-3.4 4.6z"/><path fill="#00ffa3" stroke="#00ffa3" d="M543.7 620.6l3.7-5-4.2-3.2-3.6 5z"/><path fill="#00ff9c" stroke="#00ff9c" d="M539.6 617.4l3.6-5-4.1-3.1-3.6 5zM555.7 622.1l3.6-4.8-4.2-3.3-3.6 4.8zM429.0 545.8l3.5-4.8-3.5-1.3-3.4 4.8zM418.9 530.5l3.5-4.5-3.4-1-3.4 4.5z"/><path fill="#00ff96" stroke="#00ff96" d="M535.5 614.3l3.6-5-4.1-3-3.6 4.9zM439.6 556.4l3.5-4.8-3.6-1.6-3.5 4.9zM551.5 618.8l3.6-4.8-4.1-3.3-3.6 4.9zM425.6 538.5l3.5-4.6-3.4-1.2-3.5 4.6z"/><path fill="#00ff8f" stroke="#00ff8f" d="M531.4 611.2l3.6-4.9-4-3-3.7 4.9z"/><path fill="#00ff89" stroke="#00ff89" d="M527.3 608.2l3.7-4.9-4.1-3-3.6 5zM559.3 617.3l3.6-4.8-4.2-3.3-3.6 4.8zM425.7 532.7l3.4-4.5-3.4-1.1-3.4 4.5z"/><path fill="#00ff86" stroke="#00ff86" d="M523.3 605.3l3.6-5-4-2.8-3.6 4.9zM450.3 561.4l3.6-4.9-3.7-1.7-3.5 4.9zM543.2 612.4l3.7-4.8-4.1-3.1-3.7 4.8zM439.5 550.0l3.5-4.7-3.5-1.5-3.5 4.8zM432.5 541.0l3.5-4.6-3.5-1.3-3.5 4.6zM422.4 526.0l3.4-4.4-3.4-1-3.4 4.4z"/><path fill="#00ff80" stroke="#00ff80" d="M519.3 602.4l3.6-4.9-4-2.8-3.6 4.9zM457.6 565.0l3.6-4.9-3.7-1.8-3.5 4.8zM539.1 609.3l3.7-4.8-4.1-3.1-3.7 4.9zM443.1 551.6l3.5-4.8-3.6-1.5-3.5 4.7zM555.1 614.0l3.6-4.8-4.1-3.2-3.6 4.7zM567.1 615.9l3.6-4.7-4.2-3.3-3.6 4.6zM429.1 533.9l3.4-4.5-3.4-1.2-3.4 4.5z"/><path fill="#00ff7c" stroke="#00ff7c" d="M515.3 599.6l3.6-4.9-4-2.8-3.6 5zM461.3 566.8l3.6-4.8-3.7-1.9-3.6 4.9zM436.0 542.4l3.5-4.6-3.5-1.4-3.5 4.6zM425.7 527.1l3.5-4.4-3.4-1.1-3.4 4.4z"/><path fill="#00ff79" stroke="#00ff79" d="M511.3 596.9l3.6-5-4-2.6-3.6 4.9zM465.0 568.8l3.6-4.9-3.7-1.9-3.6 4.8zM535.0 606.3l3.7-4.9-4.1-3-3.6 4.9zM446.6 553.1l3.5-4.7-3.5-1.6-3.5 4.8zM551.0 610.7l3.6-4.7-4.1-3.2-3.6 4.8z"/><path fill="#00ff76" stroke="#00ff76" d="M507.3 594.2l3.6-4.9-4-2.6-3.6 4.9zM468.7 570.8l3.6-4.9-3.7-2-3.6 4.9zM531.0 603.3l3.6-4.9-4.1-2.9-3.6 4.8zM439.5 543.8l3.5-4.6-3.5-1.4-3.5 4.6zM562.9 612.5l3.6-4.6-4.2-3.3-3.6 4.6zM432.5 535.1l3.5-4.5-3.5-1.2-3.4 4.5z"/><path fill="#00ff73" stroke="#00ff73" d="M503.3 591.6l3.6-4.9-3.9-2.6-3.6 4.9zM499.4 589.0l3.6-4.9-3.9-2.5-3.6 4.9zM476.3 575.0l3.5-4.9-3.7-2.1-3.6 4.9zM472.5 572.9l3.6-4.9-3.8-2.1-3.6 4.9zM450.2 554.8l3.6-4.8-3.7-1.6-3.5 4.7zM546.9 607.6l3.6-4.8-4.1-3.1-3.6 4.8zM429.1 528.2l3.5-4.4-3.4-1.1-3.5 4.4z"/><path fill="#00ff70" stroke="#00ff70" d="M495.5 586.5l3.6-4.9-3.9-2.4-3.6 4.9zM491.6 584.1l3.6-4.9-3.9-2.4-3.6 4.9zM487.7 581.7l3.6-4.9-3.8-2.3-3.6 4.9zM483.9 579.4l3.6-4.9-3.8-2.2-3.6 4.9zM480.1 577.2l3.6-4.9-3.9-2.2-3.5 4.9zM526.9 600.3l3.6-4.8-4-2.9-3.6 4.9zM453.9 556.5l3.5-4.8-3.6-1.7-3.6 4.8zM443.0 545.3l3.5-4.7-3.5-1.4-3.5 4.6zM425.8 521.6l3.4-4.3-3.3-1-3.5 4.3z"/><path fill="#00ff83" stroke="#00ff83" d="M454.0 563.1l3.5-4.8-3.6-1.8-3.6 4.9z"/><path fill="#00ff8c" stroke="#00ff8c" d="M446.7 559.7l3.5-4.9-3.6-1.7-3.5 4.9zM547.4 615.6l3.6-4.9-4.1-3.1-3.7 4.8zM436.0 548.6l3.5-4.8-3.5-1.4-3.5 4.7zM429.0 539.7l3.5-4.6-3.4-1.2-3.5 4.6z"/><path fill="#00ff93" stroke="#00ff93" d="M443.1 558.0l3.5-4.9-3.5-1.5-3.5 4.8zM432.5 547.1l3.5-4.7-3.5-1.4-3.5 4.8zM563.5 620.6l3.6-4.7-4.2-3.4-3.6 4.8zM422.3 531.6l3.4-4.5-3.3-1.1-3.5 4.5z"/><path fill="#00ff9f" stroke="#00ff9f" d="M436.0 554.9l3.5-4.9-3.5-1.4-3.5 4.8zM422.2 537.3l3.5-4.6-3.4-1.1-3.5 4.6z"/><path fill="#00ffa6" stroke="#00ffa6" d="M432.5 553.4l3.5-4.8-3.5-1.5-3.5 4.9zM559.8 625.5l3.7-4.9-4.2-3.3-3.6 4.8zM425.6 544.5l3.4-4.8-3.4-1.2-3.4 4.7z"/><path fill="#00ffac" stroke="#00ffac" d="M429.0 552.0l3.5-4.9-3.5-1.3-3.4 4.8zM422.2 543.2l3.4-4.7-3.4-1.2-3.4 4.7z"/><path fill="#00ffb6" stroke="#00ffb6" d="M425.6 550.6l3.4-4.8-3.4-1.3-3.5 4.8zM418.8 542.0l3.4-4.7-3.4-1.1-3.4 4.7z"/><path fill="#00ffbc" stroke="#00ffbc" d="M422.1 549.3l3.5-4.8-3.4-1.3-3.5 4.8z"/><path fill="#00ffc6" stroke="#00ffc6" d="M418.7 548.0l3.5-4.8-3.4-1.2-3.5 4.9z"/><path fill="#00ffcf" stroke="#00ffcf" d="M415.3 546.9l3.5-4.9-3.4-1.1-3.4 4.8z"/><path fill="#00ffd9" stroke="#00ffd9" d="M412.0 545.7l3.4-4.8-3.4-1.1-3.4 4.8z"/><path fill="#00ffe2" stroke="#00ffe2" d="M408.6 544.6l3.4-4.8-3.3-1-3.4 4.8z"/><path fill="#00ff6c" stroke="#00ff6c" d="M522.9 597.5l3.6-4.9-4-2.7-3.6 4.8zM542.8 604.5l3.6-4.8-4.1-3-3.6 4.7zM558.7 609.2l3.6-4.6-4.1-3.2-3.6 4.6zM436.0 536.4l3.5-4.5-3.5-1.3-3.5 4.5zM570.7 611.2l3.6-4.5-4.2-3.4-3.6 4.6z"/><path fill="#00ff66" stroke="#00ff66" d="M518.9 594.7l3.6-4.8-4-2.8-3.6 4.8zM461.2 560.1l3.5-4.8-3.7-1.8-3.5 4.8zM538.7 601.4l3.6-4.7-4.1-3-3.6 4.7zM554.6 606.0l3.6-4.6-4.1-3.2-3.6 4.6zM439.5 537.8l3.4-4.6-3.4-1.3-3.5 4.5zM429.2 522.7l3.4-4.4-3.4-1-3.4 4.3z"/><path fill="#00ff63" stroke="#00ff63" d="M514.9 591.9l3.6-4.8-4-2.7-3.6 4.9zM464.9 562.0l3.5-4.8-3.7-1.9-3.5 4.8zM450.1 548.4l3.6-4.7-3.6-1.5-3.5 4.6zM566.5 607.9l3.6-4.6-4.2-3.2-3.6 4.5z"/><path fill="#00ff60" stroke="#00ff60" d="M510.9 589.3l3.6-4.9-4-2.6-3.6 4.9zM506.9 586.7l3.6-4.9-3.9-2.5-3.6 4.8zM468.6 563.9l3.5-4.8-3.7-1.9-3.5 4.8zM534.6 598.4l3.6-4.7-4.1-2.9-3.6 4.7zM550.5 602.8l3.6-4.6-4.1-3.1-3.6 4.6zM443.0 539.2l3.5-4.6-3.6-1.4-3.4 4.6zM436.0 530.6l3.4-4.4-3.4-1.3-3.5 4.5z"/><path fill="#00ff5c" stroke="#00ff5c" d="M503.0 584.1l3.6-4.8-3.9-2.5-3.6 4.8zM476.1 568.0l3.5-4.8-3.7-2.1-3.6 4.8zM472.3 565.9l3.6-4.8-3.8-2-3.5 4.8zM530.5 595.5l3.6-4.7-4-2.9-3.6 4.7zM453.8 550.0l3.5-4.6-3.6-1.7-3.6 4.7zM562.3 604.6l3.6-4.5-4.1-3.3-3.6 4.6zM574.3 606.7l3.5-4.4-4.1-3.4-3.6 4.4zM432.6 523.8l3.4-4.3-3.4-1.2-3.4 4.4zM429.2 517.3l3.5-4.2-3.4-1-3.4 4.2z"/><path fill="#00ff59" stroke="#00ff59" d="M499.1 581.6l3.6-4.8-3.9-2.4-3.6 4.8zM495.2 579.2l3.6-4.8-3.9-2.4-3.6 4.8zM491.3 576.8l3.6-4.8-3.8-2.3-3.6 4.8zM487.5 574.5l3.6-4.8-3.9-2.2-3.5 4.8zM483.7 572.3l3.5-4.8-3.8-2.2-3.6 4.8zM479.8 570.1l3.6-4.8-3.8-2.1-3.5 4.8zM457.4 551.7l3.5-4.6-3.6-1.7-3.5 4.6zM546.4 599.7l3.6-4.6-4.1-3.1-3.6 4.7zM446.5 540.6l3.5-4.5-3.5-1.5-3.5 4.6zM439.5 531.9l3.4-4.4-3.5-1.3-3.4 4.4z"/><path fill="#00ff69" stroke="#00ff69" d="M457.5 558.3l3.5-4.8-3.6-1.8-3.5 4.8zM446.6 546.8l3.5-4.6-3.6-1.6-3.5 4.7zM432.5 529.4l3.5-4.5-3.4-1.1-3.5 4.4z"/><path fill="#00ffbf" stroke="#00ffbf" d="M415.4 540.9l3.4-4.7-3.3-1.1-3.5 4.7z"/><path fill="#00ffcc" stroke="#00ffcc" d="M412.0 539.8l3.5-4.7-3.3-1-3.5 4.7z"/><path fill="#00ff56" stroke="#00ff56" d="M526.5 592.6l3.6-4.7-4-2.8-3.6 4.8z"/><path fill="#00ff53" stroke="#00ff53" d="M522.5 589.9l3.6-4.8-4-2.7-3.6 4.7zM461.0 553.5l3.6-4.7-3.7-1.7-3.5 4.6zM542.3 596.7l3.6-4.7-4.1-2.9-3.6 4.6zM450.1 542.2l3.5-4.6-3.6-1.5-3.5 4.5zM558.2 601.4l3.6-4.6-4.1-3.1-3.6 4.5zM570.1 603.3l3.6-4.4-4.2-3.3-3.6 4.5zM436.0 524.9l3.5-4.3-3.5-1.1-3.4 4.3zM432.6 518.3l3.5-4.2-3.4-1-3.5 4.2z"/><path fill="#00ff50" stroke="#00ff50" d="M518.5 587.1l3.6-4.7-4-2.7-3.6 4.7zM464.7 555.3l3.5-4.7-3.6-1.8-3.6 4.7zM442.9 533.2l3.5-4.4-3.5-1.3-3.4 4.4z"/><path fill="#00ff4c" stroke="#00ff4c" d="M514.5 584.4l3.6-4.7-4-2.6-3.6 4.7zM468.4 557.2l3.5-4.7-3.7-1.9-3.5 4.7zM538.2 593.7l3.6-4.6-4.1-2.9-3.6 4.6zM453.7 543.7l3.5-4.5-3.6-1.6-3.5 4.6zM554.1 598.2l3.6-4.5-4.2-3.1-3.5 4.5zM439.4 526.2l3.5-4.3-3.4-1.3-3.5 4.3zM577.8 602.3l3.6-4.3-4.2-3.4-3.5 4.3zM683.8 518.1l2.7-0.8-3.9-3.3-2.8 0.8z"/><path fill="#00ff49" stroke="#00ff49" d="M510.5 581.8l3.6-4.7-3.9-2.5-3.6 4.7zM475.9 561.1l3.5-4.7-3.7-1.9-3.6 4.6zM472.1 559.1l3.6-4.6-3.8-2-3.5 4.7zM446.5 534.6l3.4-4.4-3.5-1.4-3.5 4.4zM565.9 600.1l3.6-4.5-4.1-3.2-3.6 4.4zM436.0 519.5l3.5-4.2-3.4-1.2-3.5 4.2zM432.7 513.1l3.4-4.1-3.4-1-3.4 4.1z"/><path fill="#00ff46" stroke="#00ff46" d="M506.6 579.3l3.6-4.7-3.9-2.5-3.6 4.7zM502.7 576.8l3.6-4.7-3.9-2.4-3.6 4.7zM483.4 565.3l3.6-4.7-3.8-2.1-3.6 4.7zM479.6 563.2l3.6-4.7-3.8-2.1-3.5 4.7zM534.1 590.8l3.6-4.6-4-2.9-3.6 4.6zM457.3 545.4l3.5-4.6-3.6-1.6-3.5 4.5zM550.0 595.1l3.5-4.5-4.1-3.1-3.5 4.5z"/><path fill="#00ff43" stroke="#00ff43" d="M498.8 574.4l3.6-4.7-3.9-2.4-3.6 4.7zM494.9 572.0l3.6-4.7-3.9-2.3-3.5 4.7zM491.1 569.7l3.5-4.7-3.8-2.2-3.6 4.7zM487.2 567.5l3.6-4.7-3.8-2.2-3.6 4.7zM530.1 587.9l3.6-4.6-4-2.8-3.6 4.6zM460.9 547.1l3.5-4.6-3.6-1.7-3.5 4.6zM450.0 536.1l3.5-4.4-3.6-1.5-3.4 4.4zM561.8 596.8l3.6-4.4-4.2-3.1-3.5 4.4zM442.9 527.5l3.5-4.4-3.5-1.2-3.5 4.3zM573.7 598.9l3.5-4.3-4.1-3.3-3.6 4.3z"/><path fill="#00ff40" stroke="#00ff40" d="M526.1 585.1l3.6-4.6-4-2.7-3.6 4.6zM464.6 548.8l3.5-4.5-3.7-1.8-3.5 4.6zM545.9 592.0l3.5-4.5-4-2.9-3.6 4.5zM439.5 520.6l3.4-4.2-3.4-1.1-3.5 4.2zM436.1 514.1l3.4-4.1-3.4-1-3.4 4.1zM679.8 514.8l2.8-0.8-4-3.2-2.7 0.8z"/><path fill="#00ff39" stroke="#00ff39" d="M522.1 582.4l3.6-4.6-4-2.7-3.6 4.6zM468.2 550.6l3.6-4.5-3.7-1.8-3.5 4.5zM541.8 589.1l3.6-4.5-4.1-3-3.6 4.6zM569.5 595.6l3.6-4.3-4.2-3.2-3.5 4.3z"/><path fill="#00ff36" stroke="#00ff36" d="M518.1 579.7l3.6-4.6-4-2.6-3.6 4.6zM514.1 577.1l3.6-4.6-3.9-2.5-3.6 4.6zM475.7 554.5l3.5-4.6-3.7-1.9-3.6 4.5zM471.9 552.5l3.6-4.5-3.7-1.9-3.6 4.5zM537.7 586.2l3.6-4.6-4-2.8-3.6 4.5zM457.2 539.2l3.5-4.4-3.6-1.6-3.5 4.4zM449.9 530.2l3.5-4.3-3.5-1.4-3.5 4.3zM442.9 521.9l3.5-4.2-3.5-1.3-3.4 4.2zM439.5 515.3l3.4-4.1-3.4-1.2-3.4 4.1zM436.1 509.0l3.4-4-3.4-1-3.4 4z"/><path fill="#00ff33" stroke="#00ff33" d="M510.2 574.6l3.6-4.6-4-2.5-3.5 4.6zM479.4 556.4l3.6-4.5-3.8-2-3.5 4.6zM460.8 540.8l3.5-4.4-3.6-1.6-3.5 4.4zM553.5 590.6l3.6-4.4-4.1-3.1-3.6 4.4zM565.4 592.4l3.5-4.3-4.1-3.2-3.6 4.4zM577.2 594.6l3.6-4.2-4.2-3.3-3.5 4.2zM675.9 511.6l2.7-0.8-3.9-3.1-2.8 0.7z"/><path fill="#00ff30" stroke="#00ff30" d="M506.3 572.1l3.5-4.6-3.9-2.4-3.5 4.6zM502.4 569.7l3.5-4.6-3.9-2.4-3.5 4.6zM498.5 567.3l3.5-4.6-3.8-2.3-3.6 4.6zM494.6 565.0l3.6-4.6-3.9-2.2-3.5 4.6zM490.8 562.8l3.5-4.6-3.8-2.2-3.5 4.6zM487.0 560.6l3.5-4.6-3.8-2.1-3.5 4.6zM483.2 558.5l3.5-4.6-3.7-2-3.6 4.5zM533.7 583.3l3.6-4.5-4.1-2.8-3.5 4.5zM453.5 531.7l3.5-4.4-3.6-1.4-3.5 4.3zM446.4 523.1l3.5-4.2-3.5-1.2-3.5 4.2zM584.9 593.7l3.6-4-4.2-3.4-3.5 4.1zM678.2 519.9l2.8-1-4-3.3-2.8 1zM677.0 515.6l2.8-0.8-3.9-3.2-2.8 0.8z"/><path fill="#00ff2d" stroke="#00ff2d" d="M529.7 580.5l3.5-4.5-4-2.7-3.5 4.5zM464.4 542.5l3.5-4.4-3.6-1.7-3.5 4.4zM549.4 587.5l3.6-4.4-4.1-3-3.5 4.5zM561.2 589.3l3.6-4.4-4.1-3-3.6 4.3zM573.1 591.3l3.5-4.2-4.1-3.2-3.6 4.2zM442.9 516.4l3.5-4.1-3.5-1.1-3.4 4.1zM439.5 510.0l3.4-3.9-3.4-1.1-3.4 4z"/><path fill="#00ff26" stroke="#00ff26" d="M525.7 577.8l3.5-4.5-4-2.7-3.5 4.5zM471.8 546.1l3.5-4.5-3.7-1.8-3.5 4.5zM580.8 590.4l3.5-4.1-4.2-3.3-3.5 4.1zM671.9 508.4l2.8-0.7-3.9-3.1-2.8 0.8z"/><path fill="#00ff23" stroke="#00ff23" d="M521.7 575.1l3.5-4.5-3.9-2.6-3.6 4.5zM517.7 572.5l3.6-4.5-4-2.5-3.5 4.5zM475.5 548.0l3.5-4.5-3.7-1.9-3.5 4.5zM541.3 581.6l3.6-4.4-4.1-2.8-3.5 4.4zM460.7 534.8l3.5-4.4-3.6-1.6-3.5 4.4zM557.1 586.2l3.6-4.3-4.1-3.1-3.6 4.3zM568.9 588.1l3.6-4.2-4.2-3.1-3.5 4.1zM446.4 517.7l3.4-4.2-3.4-1.2-3.5 4.1zM442.9 511.2l3.5-4-3.5-1.1-3.4 3.9zM588.5 589.7l3.5-4-4.2-3.4-3.5 4zM439.5 505.0l3.4-3.9-3.3-1-3.5 3.9zM675.3 520.9l2.9-1-4-3.3-2.9 1zM674.2 516.6l2.8-1-3.9-3.2-2.9 1zM673.1 512.4l2.8-0.8-4-3.2-2.8 0.9z"/><path fill="#00ff20" stroke="#00ff20" d="M513.8 570.0l3.5-4.5-3.9-2.5-3.6 4.5zM483.0 551.9l3.5-4.5-3.8-2-3.5 4.5zM479.2 549.9l3.5-4.5-3.7-1.9-3.5 4.5zM453.4 525.9l3.5-4.2-3.5-1.4-3.5 4.2z"/><path fill="#00ff1d" stroke="#00ff1d" d="M509.8 567.5l3.6-4.5-3.9-2.4-3.6 4.5zM505.9 565.1l3.6-4.5-3.9-2.4-3.6 4.5zM502.0 562.7l3.6-4.5-3.9-2.2-3.5 4.4zM490.5 556.0l3.6-4.4-3.8-2.1-3.6 4.4zM486.7 553.9l3.6-4.4-3.8-2.1-3.5 4.5zM537.3 578.8l3.5-4.4-4-2.8-3.6 4.4zM464.3 536.4l3.5-4.4-3.6-1.6-3.5 4.4zM553.0 583.1l3.6-4.3-4.1-2.9-3.6 4.2zM457.0 527.3l3.5-4.2-3.6-1.4-3.5 4.2zM564.8 584.9l3.5-4.1-4.1-3.1-3.5 4.2zM449.9 518.9l3.4-4.1-3.5-1.3-3.4 4.2zM576.6 587.1l3.5-4.1-4.1-3.2-3.5 4.1zM668.0 505.4l2.8-0.8-3.9-3-2.8 0.7z"/><path fill="#00ff1a" stroke="#00ff1a" d="M498.2 560.4l3.5-4.4-3.8-2.3-3.6 4.5zM494.3 558.2l3.6-4.5-3.8-2.1-3.6 4.4zM533.2 576.0l3.6-4.4-4-2.7-3.6 4.4zM467.9 538.1l3.5-4.4-3.6-1.7-3.5 4.4zM446.4 512.3l3.4-4-3.4-1.1-3.5 4zM584.3 586.3l3.5-4-4.1-3.2-3.6 3.9zM442.9 506.1l3.5-3.9-3.5-1.1-3.4 3.9zM669.1 509.3l2.8-0.9-3.9-3-2.8 0.8z"/><path fill="#00ff29" stroke="#00ff29" d="M468.1 544.3l3.5-4.5-3.7-1.7-3.5 4.4zM545.4 584.6l3.5-4.5-4-2.9-3.6 4.4zM457.1 533.2l3.5-4.4-3.6-1.5-3.5 4.4zM449.9 524.5l3.5-4.2-3.5-1.4-3.5 4.2z"/><path fill="#00ff3d" stroke="#00ff3d" d="M453.6 537.6l3.5-4.4-3.6-1.5-3.5 4.4zM557.7 593.7l3.5-4.4-4.1-3.1-3.6 4.4zM446.4 528.8l3.5-4.3-3.5-1.4-3.5 4.4zM581.4 598.0l3.5-4.3-4.1-3.3-3.6 4.2zM681.0 518.9l2.8-0.8-4-3.3-2.8 0.8z"/><path fill="#00ff16" stroke="#00ff16" d="M529.2 573.3l3.6-4.4-4-2.7-3.6 4.4zM471.6 539.8l3.5-4.3-3.7-1.8-3.5 4.4zM548.9 580.1l3.6-4.2-4.1-3-3.5 4.3zM460.6 528.8l3.5-4.2-3.6-1.5-3.5 4.2zM453.4 520.3l3.4-4.1-3.5-1.4-3.4 4.1zM572.5 583.9l3.5-4.1-4.1-3.1-3.6 4.1zM592.0 585.7l3.5-3.9-4.2-3.3-3.5 3.8zM672.4 522.1l2.9-1.2-4-3.3-2.9 1.2zM671.3 517.6l2.9-1-4-3.2-2.9 1zM670.2 513.4l2.9-1-4-3.1-2.8 0.9z"/><path fill="#00ff13" stroke="#00ff13" d="M525.2 570.6l3.6-4.4-4-2.6-3.5 4.4zM475.3 541.6l3.5-4.3-3.7-1.8-3.5 4.3zM544.9 577.2l3.5-4.3-4-2.8-3.6 4.3zM560.7 581.9l3.5-4.2-4.1-3.1-3.5 4.2zM449.8 513.5l3.5-4-3.5-1.2-3.4 4zM446.4 507.2l3.4-3.9-3.4-1.1-3.5 3.9zM442.9 501.1l3.5-3.8-3.4-1-3.4 3.8zM664.1 502.3l2.8-0.7-3.9-3-2.8 0.7z"/><path fill="#00ff10" stroke="#00ff10" d="M521.3 568.0l3.5-4.4-3.9-2.5-3.6 4.4zM479.0 543.5l3.5-4.4-3.7-1.8-3.5 4.3zM464.2 530.4l3.5-4.2-3.6-1.6-3.5 4.2zM456.9 521.7l3.5-4.2-3.6-1.3-3.4 4.1zM580.1 583.0l3.6-3.9-4.2-3.3-3.5 4z"/><path fill="#00ff0d" stroke="#00ff0d" d="M517.3 565.5l3.6-4.4-3.9-2.5-3.6 4.4zM482.7 545.4l3.6-4.3-3.8-2-3.5 4.4zM540.8 574.4l3.6-4.3-4-2.8-3.6 4.3zM556.6 578.8l3.5-4.2-4.1-2.9-3.5 4.2zM568.3 580.8l3.6-4.1-4.1-3.1-3.6 4.1zM587.8 582.3l3.5-3.8-4.2-3.3-3.4 3.9zM666.3 510.2l2.8-0.9-3.9-3.1-2.9 0.9zM665.2 506.2l2.8-0.8-3.9-3.1-2.9 0.9z"/><path fill="#00ff0a" stroke="#00ff0a" d="M513.4 563.0l3.6-4.4-3.9-2.4-3.6 4.4zM509.5 560.6l3.6-4.4-3.9-2.3-3.6 4.3zM505.6 558.2l3.6-4.3-3.9-2.3-3.6 4.4zM494.1 551.6l3.5-4.4-3.8-2.1-3.5 4.4zM490.3 549.5l3.5-4.4-3.8-2-3.5 4.3zM486.5 547.4l3.5-4.3-3.7-2-3.6 4.3zM536.8 571.6l3.6-4.3-4-2.7-3.6 4.3zM467.8 532.0l3.5-4.2-3.6-1.6-3.5 4.2zM460.5 523.1l3.5-4.1-3.6-1.5-3.5 4.2zM453.3 514.8l3.5-4-3.5-1.3-3.5 4zM449.8 508.3l3.4-3.9-3.4-1.1-3.4 3.9zM446.4 502.2l3.4-3.8-3.4-1.1-3.5 3.8zM595.5 581.8l3.4-3.8-4.1-3.3-3.5 3.8zM669.5 523.3l2.9-1.2-4-3.3-2.9 1.3zM668.4 518.8l2.9-1.2-4-3.2-2.8 1.2zM667.3 514.4l2.9-1-3.9-3.2-2.9 1.1z"/><path fill="#00ff06" stroke="#00ff06" d="M501.7 556.0l3.6-4.4-3.9-2.2-3.5 4.3zM497.9 553.7l3.5-4.3-3.8-2.2-3.5 4.4zM471.4 533.7l3.5-4.2-3.6-1.7-3.5 4.2zM552.5 575.9l3.5-4.2-4-2.9-3.6 4.1zM564.2 577.7l3.6-4.1-4.1-3-3.6 4zM576.0 579.8l3.5-4-4.1-3.1-3.5 4zM660.2 499.3l2.8-0.7-3.9-2.9-2.8 0.7z"/><path fill="#00ff03" stroke="#00ff03" d="M532.8 568.9l3.6-4.3-4-2.6-3.6 4.2zM475.1 535.5l3.5-4.3-3.7-1.7-3.5 4.2zM548.4 572.9l3.6-4.1-4.1-2.9-3.5 4.2zM464.1 524.6l3.4-4.1-3.5-1.5-3.5 4.1zM456.8 516.2l3.5-4.1-3.5-1.3-3.5 4zM583.7 579.1l3.4-3.9-4.1-3.2-3.5 3.8zM446.4 497.3l3.4-3.7-3.4-0.9-3.4 3.6zM661.2 503.2l2.9-0.9-3.9-3-2.9 0.9z"/><path fill="#00ff00" stroke="#00ff00" d="M528.8 566.2l3.6-4.2-4-2.6-3.6 4.2zM478.8 537.3l3.5-4.3-3.7-1.8-3.5 4.3zM560.1 574.6l3.6-4-4.1-3-3.6 4.1zM571.9 576.7l3.5-4-4.1-3.1-3.5 4zM453.3 509.5l3.4-3.9-3.5-1.2-3.4 3.9zM449.8 503.3l3.4-3.8-3.4-1.1-3.4 3.8zM591.3 578.5l3.5-3.8-4.2-3.3-3.5 3.8zM598.9 578.0l3.5-3.6-4.2-3.3-3.4 3.6zM666.6 524.7l2.9-1.4-4-3.2-2.9 1.3zM665.5 520.1l2.9-1.3-3.9-3.2-3 1.2zM663.4 511.3l2.9-1.1-4-3.1-2.9 1.1zM662.3 507.1l2.9-0.9-4-3-2.8 0.9z"/><path fill="#03ff00" stroke="#03ff00" d="M524.8 563.6l3.6-4.2-4-2.6-3.5 4.3zM520.9 561.1l3.5-4.3-3.9-2.4-3.5 4.2zM482.5 539.1l3.5-4.2-3.7-1.9-3.5 4.3zM544.4 570.1l3.5-4.2-4-2.8-3.5 4.2zM467.7 526.2l3.5-4.1-3.7-1.6-3.4 4.1zM460.4 517.5l3.5-4-3.6-1.4-3.5 4.1zM664.5 515.6l2.8-1.2-3.9-3.1-2.9 1.1zM656.3 496.4l2.8-0.7-3.9-2.9-2.8 0.8z"/><path fill="#06ff00" stroke="#06ff00" d="M517.0 558.6l3.5-4.2-3.9-2.4-3.5 4.2zM490.0 543.1l3.6-4.3-3.8-2-3.5 4.3zM486.3 541.1l3.5-4.3-3.8-1.9-3.5 4.2zM540.4 567.3l3.5-4.2-4-2.7-3.5 4.2zM471.3 527.8l3.5-4.1-3.6-1.6-3.5 4.1zM556.0 571.7l3.6-4.1-4.1-2.9-3.5 4.1zM567.8 573.6l3.5-4-4.1-3-3.5 4zM456.8 510.8l3.4-3.9-3.5-1.3-3.4 3.9zM579.5 575.8l3.5-3.8-4.1-3.2-3.5 3.9zM453.2 504.4l3.5-3.8-3.5-1.1-3.4 3.8zM449.8 498.4l3.4-3.7-3.4-1.1-3.4 3.7zM657.3 500.2l2.9-0.9-3.9-2.9-2.9 0.9z"/><path fill="#0aff00" stroke="#0aff00" d="M513.1 556.2l3.5-4.2-3.9-2.4-3.5 4.3zM509.2 553.9l3.5-4.3-3.9-2.3-3.5 4.3zM505.3 551.6l3.5-4.3-3.8-2.2-3.6 4.3zM501.4 549.4l3.6-4.3-3.8-2.2-3.6 4.3zM497.6 547.2l3.6-4.3-3.9-2.1-3.5 4.3zM493.8 545.1l3.5-4.3-3.7-2-3.6 4.3zM464.0 519.0l3.4-4-3.5-1.5-3.5 4zM587.1 575.2l3.5-3.8-4.1-3.2-3.5 3.8zM594.8 574.7l3.4-3.6-4.1-3.3-3.5 3.6zM449.8 493.6l3.4-3.5-3.4-1-3.4 3.6zM602.4 574.4l3.4-3.5-4.1-3.4-3.5 3.6zM663.6 526.1l3-1.4-4-3.3-3 1.5zM658.4 504.1l2.8-0.9-3.9-3-2.9 0.9z"/><path fill="#0dff00" stroke="#0dff00" d="M536.4 564.6l3.5-4.2-4-2.6-3.5 4.2zM474.9 529.5l3.5-4.1-3.6-1.7-3.5 4.1zM552.0 568.8l3.5-4.1-4-2.8-3.6 4zM460.3 512.1l3.5-3.9-3.6-1.3-3.4 3.9zM575.4 572.7l3.5-3.9-4.1-3-3.5 3.8zM453.2 499.5l3.5-3.7-3.5-1.1-3.4 3.7zM662.6 521.4l2.9-1.3-4-3.3-2.9 1.4zM661.5 516.8l3-1.2-4-3.2-3 1.3zM660.5 512.4l2.9-1.1-4-3.1-2.9 1.1zM659.4 508.2l2.9-1.1-3.9-3-2.9 1zM652.4 493.6l2.8-0.8-3.9-2.8-2.8 0.8z"/><path fill="#10ff00" stroke="#10ff00" d="M532.4 562.0l3.5-4.2-4-2.6-3.5 4.2zM478.6 531.2l3.5-4.1-3.7-1.7-3.5 4.1zM467.5 520.5l3.5-4-3.6-1.5-3.4 4zM563.7 570.6l3.5-4-4.1-3-3.5 4zM456.7 505.6l3.5-3.7-3.5-1.3-3.5 3.8zM583.0 572.0l3.5-3.8-4.1-3.1-3.5 3.7zM653.4 497.3l2.9-0.9-3.9-2.8-2.9 0.8z"/><path fill="#13ff00" stroke="#13ff00" d="M528.4 559.4l3.5-4.2-3.9-2.5-3.6 4.1zM482.3 533.0l3.5-4.1-3.7-1.8-3.5 4.1zM547.9 565.9l3.6-4-4.1-2.8-3.5 4zM471.2 522.1l3.4-4.1-3.6-1.5-3.5 4zM463.9 513.5l3.4-3.9-3.5-1.4-3.5 3.9zM571.3 569.6l3.5-3.8-4.1-3.1-3.5 3.9zM590.6 571.4l3.5-3.6-4.2-3.2-3.4 3.6zM453.2 494.7l3.4-3.6-3.4-1-3.4 3.5zM598.2 571.1l3.5-3.6-4.2-3.2-3.4 3.5zM605.8 570.9l3.4-3.5-4.1-3.3-3.4 3.4zM660.7 527.7l2.9-1.6-4-3.2-3 1.5zM654.4 501.1l2.9-0.9-3.9-2.9-2.9 0.9zM648.5 490.8l2.8-0.8-3.8-2.7-2.9 0.7z"/><path fill="#16ff00" stroke="#16ff00" d="M524.4 556.8l3.6-4.1-4-2.5-3.5 4.2zM520.5 554.4l3.5-4.2-3.9-2.4-3.5 4.2zM489.8 536.8l3.5-4.1-3.7-1.9-3.6 4.1zM486.0 534.9l3.6-4.1-3.8-1.9-3.5 4.1zM543.9 563.1l3.5-4-4-2.7-3.5 4zM559.6 567.6l3.5-4-4.1-2.9-3.5 4zM460.2 506.9l3.5-3.8-3.5-1.2-3.5 3.7zM456.7 500.6l3.4-3.6-3.4-1.2-3.5 3.7zM659.6 522.9l3-1.5-4-3.2-3 1.4zM658.6 518.2l2.9-1.4-4-3.1-2.9 1.3zM655.5 505.1l2.9-1-4-3-2.9 1.1z"/><path fill="#1aff00" stroke="#1aff00" d="M516.6 552.0l3.5-4.2-3.9-2.3-3.5 4.1zM512.7 549.6l3.5-4.1-3.8-2.3-3.6 4.1zM501.2 542.9l3.5-4.1-3.8-2.1-3.6 4.1zM497.3 540.8l3.6-4.1-3.8-2-3.5 4.1zM493.6 538.8l3.5-4.1-3.8-2-3.5 4.1zM474.8 523.7l3.5-4-3.7-1.7-3.4 4.1zM555.5 564.7l3.5-4-4-2.8-3.5 4zM467.4 515.0l3.5-3.9-3.6-1.5-3.4 3.9zM578.9 568.8l3.5-3.7-4.1-3.1-3.5 3.8zM453.2 490.1l3.4-3.5-3.4-1-3.4 3.5zM609.2 567.4l3.4-3.3-4.1-3.3-3.4 3.3zM657.6 529.4l3.1-1.7-4.1-3.3-3 1.7zM657.5 513.7l3-1.3-4-3.1-3 1.3zM656.5 509.3l2.9-1.1-3.9-3.1-3 1.2zM649.5 494.4l2.9-0.8-3.9-2.8-2.9 0.8z"/><path fill="#1dff00" stroke="#1dff00" d="M508.8 547.3l3.6-4.1-3.9-2.2-3.5 4.1zM505.0 545.1l3.5-4.1-3.8-2.2-3.5 4.1zM539.9 560.4l3.5-4-4-2.7-3.5 4.1zM478.4 525.4l3.5-4.1-3.6-1.6-3.5 4zM567.2 566.6l3.5-3.9-4.1-2.9-3.5 3.8zM463.8 508.2l3.4-3.8-3.5-1.3-3.5 3.8zM460.2 501.9l3.4-3.7-3.5-1.2-3.4 3.6zM586.5 568.2l3.4-3.6-4.1-3.1-3.4 3.6zM456.7 495.8l3.4-3.6-3.5-1.1-3.4 3.6zM594.1 567.8l3.4-3.5-4.1-3.2-3.5 3.5zM601.7 567.5l3.4-3.4-4.2-3.2-3.4 3.4zM656.6 524.4l3-1.5-4-3.3-3 1.6zM650.5 498.2l2.9-0.9-3.9-2.9-2.9 1zM644.6 488.0l2.9-0.7-3.9-2.7-2.9 0.8z"/><path fill="#20ff00" stroke="#20ff00" d="M535.9 557.8l3.5-4.1-3.9-2.6-3.6 4.1zM482.1 527.1l3.5-4-3.7-1.8-3.5 4.1zM551.5 561.9l3.5-4-4-2.8-3.6 4zM471.0 516.5l3.5-3.9-3.6-1.5-3.5 3.9zM574.8 565.8l3.5-3.8-4.1-3-3.5 3.7zM612.6 564.1l3.4-3.2-4.1-3.3-3.4 3.2zM654.6 531.2l3-1.8-4-3.3-3.1 1.8zM655.6 519.6l3-1.4-4-3.2-3 1.5zM651.5 502.2l2.9-1.1-3.9-2.9-2.9 1.1z"/><path fill="#23ff00" stroke="#23ff00" d="M531.9 555.2l3.6-4.1-4-2.5-3.5 4.1zM485.8 528.9l3.5-4-3.7-1.8-3.5 4zM474.6 518.0l3.5-3.9-3.6-1.5-3.5 3.9zM563.1 563.6l3.5-3.8-4.1-2.9-3.5 3.8zM467.3 509.6l3.5-3.8-3.6-1.4-3.4 3.8zM582.4 565.1l3.4-3.6-4.1-3.1-3.4 3.6zM456.6 491.1l3.4-3.5-3.4-1-3.4 3.5zM605.1 564.1l3.4-3.3-4.2-3.2-3.4 3.3zM654.6 515.0l2.9-1.3-4-3.1-2.9 1.3zM653.5 510.6l3-1.3-4-3-2.9 1.2zM652.5 506.3l3-1.2-4-2.9-2.9 1.1zM645.6 491.6l2.9-0.8-3.9-2.8-2.9 0.9zM640.7 485.4l2.9-0.8-3.8-2.6-2.9 0.7z"/><path fill="#26ff00" stroke="#26ff00" d="M528.0 552.7l3.5-4.1-3.9-2.5-3.6 4.1zM524.0 550.2l3.6-4.1-3.9-2.4-3.6 4.1zM489.6 530.8l3.5-4.1-3.8-1.8-3.5 4zM547.4 559.1l3.6-4-4.1-2.7-3.5 4zM570.7 562.7l3.5-3.7-4.1-3-3.5 3.8zM463.7 503.1l3.4-3.7-3.5-1.2-3.4 3.7zM460.1 497.0l3.4-3.6-3.4-1.2-3.4 3.6zM589.9 564.6l3.5-3.5-4.1-3.2-3.5 3.6zM597.5 564.3l3.4-3.4-4.1-3.2-3.4 3.4zM456.6 486.6l3.4-3.4-3.4-1-3.4 3.4zM616.0 560.9l3.4-3.1-4.2-3.3-3.3 3.1zM651.5 533.0l3.1-1.8-4.1-3.3-3.1 1.9zM653.6 526.1l3-1.7-4-3.2-3.1 1.7zM646.6 495.4l2.9-1-3.9-2.8-2.9 1z"/><path fill="#29ff00" stroke="#29ff00" d="M520.1 547.8l3.6-4.1-3.9-2.3-3.6 4.1zM516.2 545.5l3.6-4.1-3.9-2.3-3.5 4.1zM500.9 536.7l3.5-4-3.8-2.1-3.5 4.1zM497.1 534.7l3.5-4.1-3.8-2-3.5 4.1zM493.3 532.7l3.5-4.1-3.7-1.9-3.5 4.1zM543.4 556.4l3.5-4-3.9-2.6-3.6 3.9zM478.3 519.7l3.5-3.9-3.7-1.7-3.5 3.9zM559.0 560.7l3.5-3.8-4-2.8-3.5 3.8zM470.9 511.1l3.5-3.8-3.6-1.5-3.5 3.8zM460.1 492.2l3.4-3.5-3.5-1.1-3.4 3.5zM608.5 560.8l3.4-3.2-4.2-3.2-3.4 3.2zM619.4 557.8l3.3-2.9-4.2-3.3-3.3 2.9zM648.4 535.0l3.1-2-4.1-3.2-3.1 1.9zM652.6 521.2l3-1.6-4-3.1-3 1.5zM647.6 499.3l2.9-1.1-3.9-2.8-2.9 1zM641.7 488.9l2.9-0.9-3.9-2.6-2.9 0.8z"/><path fill="#2dff00" stroke="#2dff00" d="M512.4 543.2l3.5-4.1-3.9-2.2-3.5 4.1zM508.5 541.0l3.5-4.1-3.8-2.1-3.5 4zM504.7 538.8l3.5-4-3.8-2.1-3.5 4zM539.4 553.7l3.6-3.9-4-2.6-3.5 3.9zM481.9 521.3l3.5-3.9-3.6-1.6-3.5 3.9zM555.0 557.9l3.5-3.8-4-2.8-3.5 3.8zM566.6 559.8l3.5-3.8-4.1-2.9-3.5 3.8zM467.2 504.4l3.5-3.6-3.6-1.4-3.4 3.7zM578.3 562.0l3.4-3.6-4.1-3-3.4 3.6zM463.6 498.2l3.4-3.6-3.5-1.2-3.4 3.6zM585.8 561.5l3.5-3.6-4.1-3-3.5 3.5zM593.4 561.1l3.4-3.4-4.1-3.2-3.4 3.4zM600.9 560.9l3.4-3.3-4.1-3.2-3.4 3.3zM622.7 554.9l3.3-2.9-4.1-3.3-3.4 2.9zM645.3 537.1l3.1-2.1-4.1-3.3-3.1 2.1zM650.5 527.9l3.1-1.8-4.1-3.2-3 1.7zM651.6 516.5l3-1.5-4-3.1-3 1.5zM650.6 511.9l2.9-1.3-3.9-3.1-3 1.4zM649.6 507.5l2.9-1.2-3.9-3-3 1.3zM648.6 503.3l2.9-1.1-3.9-2.9-3 1.1zM636.9 482.7l2.9-0.7-3.9-2.6-2.9 0.8z"/><path fill="#30ff00" stroke="#30ff00" d="M535.5 551.1l3.5-3.9-4-2.5-3.5 3.9zM485.6 523.1l3.5-3.9-3.7-1.8-3.5 3.9zM474.5 512.6l3.5-3.8-3.6-1.5-3.5 3.8zM460.0 487.6l3.4-3.3-3.4-1.1-3.4 3.4zM611.9 557.6l3.3-3.1-4.1-3.2-3.4 3.1zM626.0 552.0l3.3-2.8-4.2-3.3-3.2 2.8zM642.1 539.3l3.2-2.2-4.1-3.3-3.2 2.2zM647.4 529.8l3.1-1.9-4-3.3-3.1 1.9zM649.5 522.9l3.1-1.7-4-3.2-3.1 1.7zM642.7 492.6l2.9-1-3.9-2.7-2.9 0.9z"/><path fill="#33ff00" stroke="#33ff00" d="M531.5 548.6l3.5-3.9-3.9-2.5-3.5 3.9zM489.3 524.9l3.5-3.9-3.7-1.8-3.5 3.9zM551.0 555.1l3.5-3.8-4-2.7-3.6 3.8zM478.1 514.1l3.5-3.8-3.6-1.5-3.5 3.8zM562.5 556.9l3.5-3.8-4-2.8-3.5 3.8zM470.8 505.8l3.4-3.7-3.5-1.3-3.5 3.6zM574.2 559.0l3.4-3.6-4-3-3.5 3.6zM467.1 499.4l3.5-3.5-3.6-1.3-3.4 3.6zM463.5 493.4l3.5-3.5-3.5-1.2-3.4 3.5zM460.0 483.2l3.4-3.2-3.4-1-3.4 3.2zM604.3 557.6l3.4-3.2-4.1-3.2-3.4 3.2zM615.2 554.5l3.3-2.9-4.1-3.3-3.3 3zM629.3 549.2l3.2-2.6-4.1-3.3-3.3 2.6zM632.5 546.6l3.2-2.5-4.1-3.3-3.2 2.5zM635.7 544.1l3.3-2.5-4.2-3.3-3.2 2.5zM639.0 541.6l3.1-2.3-4.1-3.3-3.2 2.3zM648.6 518.0l3-1.5-4-3.1-3.1 1.5zM643.7 496.4l2.9-1-3.9-2.8-3 1zM637.8 486.2l2.9-0.8-3.8-2.7-2.9 0.9zM633.0 480.2l2.9-0.8-3.8-2.5-2.9 0.8z"/><path fill="#36ff00" stroke="#36ff00" d="M527.6 546.1l3.5-3.9-3.9-2.4-3.5 3.9zM496.8 528.6l3.5-3.9-3.7-1.9-3.5 3.9zM493.1 526.7l3.5-3.9-3.8-1.8-3.5 3.9zM546.9 552.4l3.6-3.8-4-2.7-3.5 3.9zM581.7 558.4l3.5-3.5-4.1-3.1-3.5 3.6zM589.3 557.9l3.4-3.4-4.1-3.1-3.4 3.5zM463.5 488.7l3.4-3.3-3.5-1.1-3.4 3.3zM596.8 557.7l3.4-3.3-4.1-3.2-3.4 3.3zM644.3 531.7l3.1-1.9-4-3.3-3.1 2zM646.5 524.6l3-1.7-4-3.2-3.1 1.8zM647.6 513.4l3-1.5-4-3-3 1.4zM646.6 508.9l3-1.4-4-2.9-3 1.3zM645.6 504.6l3-1.3-4-2.9-2.9 1.2zM644.6 500.4l3-1.1-3.9-2.9-3 1.1zM638.8 489.8l2.9-0.9-3.9-2.7-2.9 0.9z"/><path fill="#39ff00" stroke="#39ff00" d="M523.7 543.7l3.5-3.9-3.9-2.3-3.5 3.9zM519.8 541.4l3.5-3.9-3.9-2.3-3.5 3.9zM515.9 539.1l3.5-3.9-3.9-2.2-3.5 3.9zM512.0 536.9l3.5-3.9-3.8-2.2-3.5 4zM508.2 534.8l3.5-4-3.8-2.1-3.5 4zM504.4 532.7l3.5-4-3.8-2-3.5 3.9zM500.6 530.6l3.5-3.9-3.8-2-3.5 3.9zM543.0 549.8l3.5-3.9-4-2.6-3.5 3.9zM481.8 515.8l3.4-3.9-3.6-1.6-3.5 3.8zM558.5 554.1l3.5-3.8-4-2.7-3.5 3.7zM474.4 507.3l3.4-3.7-3.6-1.5-3.4 3.7zM570.1 556.0l3.5-3.6-4.1-2.9-3.5 3.6zM470.7 500.8l3.4-3.6-3.5-1.3-3.5 3.5zM467.0 494.6l3.5-3.5-3.5-1.2-3.5 3.5zM463.4 484.3l3.4-3.3-3.4-1-3.4 3.2zM607.7 554.4l3.4-3.1-4.1-3.2-3.4 3.1zM618.5 551.6l3.4-2.9-4.2-3.3-3.3 2.9zM641.2 533.8l3.1-2.1-4-3.2-3.2 2.1zM645.5 519.7l3.1-1.7-4.1-3.1-3 1.7zM634.0 483.6l2.9-0.9-3.9-2.5-2.9 0.8zM629.2 477.7l2.9-0.8-3.8-2.4-2.9 0.7z"/><path fill="#40ff00" stroke="#40ff00" d="M539.0 547.2l3.5-3.9-4-2.5-3.5 3.9zM489.1 519.2l3.5-3.8-3.7-1.8-3.5 3.8zM554.5 551.3l3.5-3.7-4.1-2.8-3.4 3.8zM566.0 553.1l3.5-3.6-4-2.8-3.5 3.6zM474.2 502.1l3.5-3.5-3.6-1.4-3.4 3.6zM470.6 495.9l3.4-3.5-3.5-1.3-3.5 3.5zM585.2 554.9l3.4-3.5-4.1-3-3.4 3.4zM467.0 489.9l3.4-3.4-3.5-1.1-3.4 3.3zM592.7 554.5l3.4-3.3-4.1-3.1-3.4 3.3zM611.1 551.3l3.3-3-4.1-3.2-3.3 3zM628.4 543.3l3.2-2.5-4.1-3.3-3.2 2.6zM631.6 540.8l3.2-2.5-4-3.2-3.3 2.4zM640.3 528.5l3.1-2-4.1-3.1-3.1 1.9zM642.4 521.5l3.1-1.8-4-3.1-3.1 1.8zM643.6 510.3l3-1.4-4-3-3 1.5zM642.6 505.9l3-1.3-3.9-3-3 1.4zM641.7 501.6l2.9-1.2-3.9-2.9-3 1.3zM640.7 497.5l3-1.1-4-2.8-2.9 1.1zM634.9 487.1l2.9-0.9-3.8-2.6-3 0.9zM630.1 481.0l2.9-0.8-3.8-2.5-2.9 0.8zM535.0 434.5l3.1-1-3.4-1-3.1 0.9zM625.4 475.2l2.9-0.7-3.8-2.4-2.9 0.7z"/><path fill="#43ff00" stroke="#43ff00" d="M535.0 544.7l3.5-3.9-3.9-2.4-3.5 3.8zM531.1 542.2l3.5-3.8-3.9-2.4-3.5 3.8zM496.6 522.8l3.4-3.8-3.7-1.9-3.5 3.9zM492.8 521.0l3.5-3.9-3.7-1.7-3.5 3.8zM550.5 548.6l3.4-3.8-3.9-2.6-3.5 3.7zM481.6 510.3l3.4-3.7-3.6-1.5-3.4 3.7zM573.6 552.4l3.4-3.5-4-2.9-3.5 3.5zM466.9 485.4l3.4-3.3-3.5-1.1-3.4 3.3zM603.6 551.2l3.4-3.1-4.1-3.1-3.4 3zM614.4 548.3l3.3-2.9-4.1-3.1-3.3 2.8zM637.1 530.6l3.2-2.1-4.1-3.2-3.1 2.1zM635.8 490.9l3-1.1-3.9-2.7-3 1.1zM621.6 472.8l2.9-0.7-3.8-2.3-2.9 0.7zM545.0 435.8l3.1-0.8-3.5-1.2-3.1 0.8z"/><path fill="#46ff00" stroke="#46ff00" d="M527.2 539.8l3.5-3.8-3.9-2.4-3.5 3.9zM523.3 537.5l3.5-3.9-3.9-2.2-3.5 3.8zM500.3 524.7l3.5-3.8-3.8-1.9-3.4 3.8zM546.5 545.9l3.5-3.7-4-2.6-3.5 3.7zM485.2 511.9l3.5-3.7-3.7-1.6-3.4 3.7zM562.0 550.3l3.5-3.6-4.1-2.8-3.4 3.7zM477.8 503.6l3.5-3.6-3.6-1.4-3.5 3.5zM474.1 497.2l3.4-3.5-3.5-1.3-3.4 3.5zM581.1 551.8l3.4-3.4-4.1-2.9-3.4 3.4zM470.5 491.1l3.4-3.4-3.5-1.2-3.4 3.4zM588.6 551.4l3.4-3.3-4.1-3-3.4 3.3zM596.1 551.2l3.4-3.2-4.1-3-3.4 3.1zM466.8 481.0l3.4-3.1-3.4-1.1-3.4 3.2zM466.8 476.8l3.4-3-3.5-1-3.3 3zM607.0 548.1l3.3-3-4.1-3.1-3.3 3zM617.7 545.4l3.3-2.7-4.1-3.2-3.3 2.8zM621.0 542.7l3.3-2.6-4.1-3.2-3.3 2.6zM634.0 532.8l3.1-2.2-4-3.2-3.2 2.2zM639.3 523.4l3.1-1.9-4-3.1-3.1 1.8zM641.5 516.6l3-1.7-4-3-3 1.7zM640.5 511.9l3.1-1.6-4-2.9-3 1.5zM636.8 494.7l2.9-1.1-3.9-2.7-2.9 1.1zM631.0 484.5l3-0.9-3.9-2.6-2.9 1zM626.3 478.5l2.9-0.8-3.8-2.5-2.9 0.9zM538.5 435.6l3-1-3.4-1.1-3.1 1zM548.5 437.0l3-0.8-3.4-1.2-3.1 0.8z"/><path fill="#49ff00" stroke="#49ff00" d="M519.4 535.2l3.5-3.8-3.9-2.3-3.5 3.9zM515.5 533.0l3.5-3.9-3.8-2.1-3.5 3.8zM511.7 530.8l3.5-3.8-3.8-2.1-3.5 3.8zM507.9 528.7l3.5-3.8-3.8-2-3.5 3.8zM504.1 526.7l3.5-3.8-3.8-2-3.5 3.8zM488.9 513.6l3.5-3.7-3.7-1.7-3.5 3.7zM558.0 547.6l3.4-3.7-4-2.7-3.5 3.6zM569.5 549.5l3.5-3.5-4.1-2.8-3.4 3.5zM470.4 486.5l3.4-3.2-3.5-1.2-3.4 3.3zM624.3 540.1l3.2-2.6-4-3.2-3.3 2.6zM627.5 537.5l3.3-2.4-4.1-3.2-3.2 2.4zM630.8 535.1l3.2-2.3-4.1-3.2-3.2 2.3zM636.2 525.3l3.1-1.9-4-3.2-3.1 2zM639.6 507.4l3-1.5-3.9-2.9-3.1 1.4zM638.7 503.0l3-1.4-4-2.8-3 1.3zM637.7 498.8l3-1.3-3.9-2.8-3 1.3zM531.9 435.5l3.1-1-3.4-1.1-3.1 1zM617.8 470.5l2.9-0.7-3.7-2.3-3 0.7z"/><path fill="#3dff00" stroke="#3dff00" d="M485.4 517.4l3.5-3.8-3.7-1.7-3.4 3.9zM478.0 508.8l3.4-3.7-3.6-1.5-3.4 3.7zM577.6 555.4l3.5-3.6-4.1-2.9-3.4 3.5zM600.2 554.4l3.4-3.2-4.1-3.2-3.4 3.2zM463.4 480.0l3.4-3.2-3.4-1-3.4 3.2zM621.9 548.7l3.2-2.8-4.1-3.2-3.3 2.7zM625.1 545.9l3.3-2.6-4.1-3.2-3.3 2.6zM634.8 538.3l3.2-2.3-4-3.2-3.2 2.3zM638.0 536.0l3.2-2.2-4.1-3.2-3.1 2.2zM643.4 526.5l3.1-1.9-4.1-3.1-3.1 1.9zM644.5 514.9l3.1-1.5-4-3.1-3.1 1.6zM639.7 493.6l3-1-3.9-2.8-3 1.1z"/><path fill="#4cff00" stroke="#4cff00" d="M542.5 543.3l3.5-3.7-4-2.5-3.5 3.7zM492.6 515.4l3.5-3.8-3.7-1.7-3.5 3.7zM481.4 505.1l3.5-3.6-3.6-1.5-3.5 3.6zM477.7 498.6l3.4-3.5-3.6-1.4-3.4 3.5zM577.0 548.9l3.4-3.4-4-2.9-3.4 3.4zM474.0 492.4l3.4-3.4-3.5-1.3-3.4 3.4zM584.5 548.4l3.4-3.3-4-2.9-3.5 3.3zM592.0 548.1l3.4-3.1-4.1-3-3.4 3.1zM470.3 482.1l3.4-3.1-3.5-1.1-3.4 3.1zM599.5 548.0l3.4-3-4.1-3.1-3.4 3.1zM610.3 545.1l3.3-2.8-4.1-3.2-3.3 2.9zM633.1 527.4l3.1-2.1-4-3.1-3.2 2.1zM638.4 518.4l3.1-1.8-4-3-3.1 1.7zM631.9 488.2l3-1.1-3.9-2.6-2.9 1.1zM627.2 482.0l2.9-1-3.8-2.5-3 0.9zM622.5 476.1l2.9-0.9-3.8-2.4-3 0.9zM541.9 436.7l3.1-0.9-3.5-1.2-3 1zM614.0 468.2l3-0.7-3.8-2.2-3 0.7zM552.0 438.3l3-0.8-3.5-1.3-3 0.8z"/><path fill="#50ff00" stroke="#50ff00" d="M538.5 540.8l3.5-3.7-3.9-2.5-3.5 3.8zM534.6 538.4l3.5-3.8-3.9-2.3-3.5 3.7zM496.3 517.1l3.5-3.7-3.7-1.8-3.5 3.8zM553.9 544.8l3.5-3.6-4-2.6-3.4 3.6zM485.0 506.6l3.5-3.6-3.6-1.5-3.5 3.6zM565.5 546.7l3.4-3.5-4-2.8-3.5 3.5zM470.2 477.9l3.4-3.1-3.4-1-3.4 3zM602.9 545.0l3.3-3-4.1-3.1-3.3 3zM470.2 473.8l3.3-3-3.4-1-3.4 3zM613.6 542.3l3.3-2.8-4.1-3.1-3.3 2.7zM616.9 539.5l3.3-2.6-4.1-3.1-3.3 2.6zM629.9 529.6l3.2-2.2-4.1-3.1-3.2 2.2zM635.3 520.2l3.1-1.8-4-3.1-3.1 1.9zM637.5 513.6l3-1.7-3.9-3-3.1 1.7zM636.6 508.9l3-1.5-4-3-3 1.6zM633.8 496.0l3-1.3-3.9-2.7-3 1.2zM632.9 492.0l2.9-1.1-3.9-2.7-2.9 1.1zM535.4 436.6l3.1-1-3.5-1.1-3.1 1zM618.6 473.7l3-0.9-3.8-2.3-3 0.8zM610.2 466.0l3-0.7-3.8-2.2-2.9 0.8zM555.5 439.6l3.1-0.8-3.6-1.3-3 0.8z"/><path fill="#53ff00" stroke="#53ff00" d="M530.7 536.0l3.5-3.7-3.9-2.4-3.5 3.7zM503.8 520.9l3.5-3.7-3.8-1.9-3.5 3.7zM500.0 519.0l3.5-3.7-3.7-1.9-3.5 3.7zM550.0 542.2l3.4-3.6-3.9-2.6-3.5 3.6zM488.7 508.2l3.5-3.5-3.7-1.7-3.5 3.6zM481.3 500.0l3.4-3.5-3.6-1.4-3.4 3.5zM573.0 546.0l3.4-3.4-4-2.8-3.5 3.4zM477.5 493.7l3.5-3.4-3.6-1.3-3.4 3.4zM473.9 487.7l3.4-3.2-3.5-1.2-3.4 3.2zM595.4 545.0l3.4-3.1-4.1-3-3.4 3.1zM620.2 536.9l3.3-2.6-4.1-3.1-3.3 2.6zM623.5 534.3l3.2-2.4-4.1-3.1-3.2 2.4zM626.7 531.9l3.2-2.3-4.1-3.1-3.2 2.3zM632.2 522.2l3.1-2-4-3-3.2 2zM635.6 504.4l3.1-1.4-4-2.9-3 1.5zM634.7 500.1l3-1.3-3.9-2.8-3 1.3zM628.1 485.6l2.9-1.1-3.8-2.5-3 1zM528.8 436.6l3.1-1.1-3.4-1.1-3.1 1.1zM623.3 479.4l3-0.9-3.8-2.4-3 0.9zM545.4 437.9l3.1-0.9-3.5-1.2-3.1 0.9zM606.5 463.9l2.9-0.8-3.7-2.1-2.9 0.8zM559.1 441.0l3-0.8-3.5-1.4-3.1 0.8z"/><path fill="#56ff00" stroke="#56ff00" d="M526.8 533.6l3.5-3.7-3.9-2.3-3.5 3.8zM522.9 531.4l3.5-3.8-3.9-2.2-3.5 3.7zM519.0 529.1l3.5-3.7-3.8-2.1-3.5 3.7zM515.2 527.0l3.5-3.7-3.8-2.1-3.5 3.7zM511.4 524.9l3.5-3.7-3.8-2-3.5 3.7zM507.6 522.9l3.5-3.7-3.8-2-3.5 3.7zM546.0 539.6l3.5-3.6-4-2.5-3.5 3.6zM492.4 509.9l3.4-3.6-3.6-1.6-3.5 3.5zM561.4 543.9l3.5-3.5-4-2.7-3.5 3.5zM580.4 545.5l3.5-3.3-4.1-2.9-3.4 3.3zM587.9 545.1l3.4-3.1-4-3-3.4 3.2zM473.8 483.3l3.4-3.2-3.5-1.1-3.4 3.1zM473.7 479.0l3.4-3.1-3.5-1.1-3.4 3.1zM606.2 542.0l3.3-2.9-4-3-3.4 2.8zM634.4 515.3l3.1-1.7-4-3-3.1 1.7zM629.0 489.3l2.9-1.1-3.8-2.6-3 1.1zM538.9 437.7l3-1-3.4-1.1-3.1 1zM614.8 471.3l3-0.8-3.8-2.3-3 0.9zM548.9 439.2l3.1-0.9-3.5-1.3-3.1 0.9zM602.8 461.8l2.9-0.8-3.7-2-3 0.7zM562.6 442.4l3-0.8-3.5-1.4-3 0.8z"/><path fill="#59ff00" stroke="#59ff00" d="M542.0 537.1l3.5-3.6-3.9-2.5-3.5 3.6zM496.1 511.6l3.4-3.5-3.7-1.8-3.4 3.6zM557.4 541.2l3.5-3.5-4-2.6-3.5 3.5zM484.9 501.5l3.4-3.5-3.6-1.5-3.4 3.5zM568.9 543.2l3.5-3.4-4.1-2.8-3.4 3.4zM481.1 495.1l3.4-3.4-3.5-1.4-3.5 3.4zM477.4 489.0l3.4-3.3-3.5-1.2-3.4 3.2zM598.8 541.9l3.3-3-4-3-3.4 3zM473.6 474.8l3.4-2.9-3.5-1.1-3.3 3zM473.5 470.8l3.4-2.8-3.5-1-3.3 2.8zM609.5 539.1l3.3-2.7-4-3.1-3.3 2.8zM612.8 536.4l3.3-2.6-4-3.1-3.3 2.6zM625.8 526.5l3.2-2.2-4-3-3.2 2.2zM629.0 524.3l3.2-2.1-4.1-3-3.1 2.1zM631.3 517.2l3.1-1.9-4-3-3.1 1.9zM633.5 510.6l3.1-1.7-4-2.9-3.1 1.6zM632.6 506.0l3-1.6-3.9-2.8-3.1 1.5zM631.7 501.6l3-1.5-3.9-2.8-3.1 1.5zM630.8 497.3l3-1.3-3.9-2.8-3.1 1.4zM629.9 493.2l3-1.2-3.9-2.7-3 1.3zM525.7 437.8l3.1-1.2-3.4-1.1-3.1 1.3zM624.2 483.0l3-1-3.9-2.6-3 1.1zM532.3 437.7l3.1-1.1-3.5-1.1-3.1 1.1zM619.5 477.0l3-0.9-3.9-2.4-2.9 0.9zM611.0 469.1l3-0.9-3.8-2.2-2.9 0.9zM552.5 440.5l3-0.9-3.5-1.3-3.1 0.9zM599.0 459.7l3-0.7-3.7-2-3 0.7zM569.8 445.4l3-0.8-3.6-1.5-3 0.8zM566.2 443.9l3-0.8-3.6-1.5-3 0.8z"/><path fill="#5cff00" stroke="#5cff00" d="M538.1 534.6l3.5-3.6-4-2.4-3.4 3.7zM499.8 513.4l3.4-3.6-3.7-1.7-3.4 3.5zM553.4 538.6l3.5-3.5-4-2.6-3.4 3.5zM488.5 503.0l3.4-3.4-3.6-1.6-3.4 3.5zM576.4 542.6l3.4-3.3-4-2.8-3.4 3.3zM583.9 542.2l3.4-3.2-4.1-2.9-3.4 3.2zM477.3 484.5l3.4-3.2-3.5-1.2-3.4 3.2zM591.3 542.0l3.4-3.1-4.1-3-3.3 3.1zM602.1 538.9l3.4-2.8-4.1-3-3.3 2.8zM616.1 533.8l3.3-2.6-4.1-3-3.2 2.5zM619.4 531.2l3.2-2.4-4-3-3.3 2.4zM622.6 528.8l3.2-2.3-4-3-3.2 2.3zM628.1 519.2l3.2-2-4-3-3.2 2zM630.4 512.3l3.1-1.7-4-3-3.1 1.8zM625.1 486.7l3-1.1-3.9-2.6-3 1.1zM615.7 474.6l2.9-0.9-3.8-2.4-2.9 1zM542.3 438.9l3.1-1-3.5-1.2-3 1zM607.3 466.9l2.9-0.9-3.7-2.1-3 0.8zM595.3 457.7l3-0.7-3.7-2-3 0.8zM591.6 455.8l3-0.8-3.7-1.8-3 0.7zM587.9 453.9l3-0.7-3.6-1.9-3 0.8zM584.3 452.1l3-0.8-3.7-1.7-3 0.7zM580.6 450.3l3-0.7-3.6-1.7-3 0.7zM577.0 448.6l3-0.7-3.6-1.7-3 0.8zM573.4 447.0l3-0.8-3.6-1.6-3 0.8z"/><path fill="#60ff00" stroke="#60ff00" d="M534.2 532.3l3.4-3.7-3.9-2.3-3.4 3.6zM530.3 529.9l3.4-3.6-3.8-2.3-3.5 3.6zM507.3 517.2l3.4-3.6-3.7-1.9-3.5 3.6zM503.5 515.3l3.5-3.6-3.8-1.9-3.4 3.6zM492.2 504.7l3.4-3.5-3.7-1.6-3.4 3.4zM564.9 540.4l3.4-3.4-4-2.7-3.4 3.4zM484.7 496.5l3.4-3.4-3.6-1.4-3.4 3.4zM481.0 490.3l3.4-3.2-3.6-1.4-3.4 3.3zM477.2 480.1l3.4-3-3.5-1.2-3.4 3.1zM594.7 538.9l3.4-3-4.1-2.9-3.4 2.9zM477.1 475.9l3.3-2.9-3.4-1.1-3.4 2.9zM477.0 471.9l3.3-2.9-3.4-1-3.4 2.8zM605.5 536.1l3.3-2.8-4.1-3-3.3 2.8zM476.9 468.0l3.3-2.7-3.4-1-3.4 2.7zM625.0 521.3l3.1-2.1-4-3-3.2 2.1zM629.5 507.6l3.1-1.6-4-2.9-3.1 1.7zM626.0 490.6l3-1.3-3.9-2.6-3 1.2zM529.2 438.9l3.1-1.2-3.5-1.1-3.1 1.2zM620.3 480.5l3-1.1-3.8-2.4-3 1zM535.8 438.8l3.1-1.1-3.5-1.1-3.1 1.1zM545.9 440.2l3-1-3.5-1.3-3.1 1zM603.5 464.7l3-0.8-3.7-2.1-3 0.8zM559.6 443.3l3-0.9-3.5-1.4-3.1 0.8zM556.0 441.8l3.1-0.8-3.6-1.4-3 0.9z"/><path fill="#63ff00" stroke="#63ff00" d="M526.4 527.6l3.5-3.6-3.9-2.2-3.5 3.6zM522.5 525.4l3.5-3.6-3.8-2.1-3.5 3.6zM518.7 523.3l3.5-3.6-3.9-2.1-3.4 3.6zM514.9 521.2l3.4-3.6-3.8-2-3.4 3.6zM511.1 519.2l3.4-3.6-3.8-2-3.4 3.6zM549.5 536.0l3.4-3.5-3.9-2.5-3.5 3.5zM495.8 506.3l3.5-3.5-3.7-1.6-3.4 3.5zM560.9 537.7l3.4-3.4-4-2.6-3.4 3.4zM488.3 498.0l3.4-3.4-3.6-1.5-3.4 3.4zM572.4 539.8l3.4-3.3-4-2.8-3.5 3.3zM484.5 491.7l3.4-3.3-3.5-1.3-3.4 3.2zM579.8 539.3l3.4-3.2-4-2.8-3.4 3.2zM480.8 485.7l3.4-3.1-3.5-1.3-3.4 3.2zM587.3 539.0l3.3-3.1-4-2.8-3.4 3zM608.8 533.3l3.3-2.6-4.1-3-3.3 2.6zM621.8 523.5l3.2-2.2-4.1-3-3.2 2.2zM627.3 514.2l3.1-1.9-4-2.9-3.1 1.9zM628.6 503.1l3.1-1.5-4-2.8-3.1 1.5zM627.7 498.8l3.1-1.5-4-2.7-3 1.4zM626.8 494.6l3.1-1.4-3.9-2.6-3.1 1.3zM522.5 439.1l3.2-1.3-3.4-1-3.2 1.3zM621.2 484.1l3-1.1-3.9-2.5-3 1.1zM616.5 478.0l3-1-3.8-2.4-3 1.1zM611.9 472.3l2.9-1-3.8-2.2-2.9 0.9zM599.8 462.6l3-0.8-3.8-2.1-3 0.9zM563.1 444.7l3.1-0.8-3.6-1.5-3 0.9z"/><path fill="#66ff00" stroke="#66ff00" d="M545.5 533.5l3.5-3.5-4-2.5-3.4 3.5zM499.5 508.1l3.5-3.5-3.7-1.8-3.5 3.5zM568.3 537.0l3.5-3.3-4-2.7-3.5 3.3zM480.7 481.3l3.4-3-3.5-1.2-3.4 3zM480.6 477.1l3.3-3-3.5-1.1-3.3 2.9zM598.1 535.9l3.3-2.8-4.1-3-3.3 2.9zM480.3 469.0l3.4-2.7-3.5-1-3.3 2.7zM480.2 465.3l3.4-2.7-3.5-1-3.3 2.7zM612.1 530.7l3.2-2.5-4-3-3.3 2.5zM615.3 528.2l3.3-2.4-4.1-3-3.2 2.4zM618.6 525.8l3.2-2.3-4.1-3-3.2 2.3zM624.1 516.2l3.2-2-4-2.9-3.2 2zM626.4 509.4l3.1-1.8-4-2.8-3.1 1.7zM519.4 440.5l3.1-1.4-3.4-1-3.2 1.4zM622.1 487.9l3-1.2-3.9-2.6-3 1.3zM532.6 440.0l3.2-1.2-3.5-1.1-3.1 1.2zM539.2 440.0l3.1-1.1-3.4-1.2-3.1 1.1zM608.1 470.0l2.9-0.9-3.7-2.2-3 0.9zM549.4 441.5l3.1-1-3.6-1.3-3 1zM596.0 460.6l3-0.9-3.7-2-3 0.9zM566.7 446.3l3.1-0.9-3.6-1.5-3.1 0.8z"/><path fill="#69ff00" stroke="#69ff00" d="M541.6 531.0l3.4-3.5-3.9-2.4-3.5 3.5zM537.6 528.6l3.5-3.5-3.9-2.3-3.5 3.5zM503.2 509.8l3.5-3.4-3.7-1.8-3.5 3.5zM556.9 535.1l3.4-3.4-3.9-2.6-3.5 3.4zM491.9 499.6l3.5-3.4-3.7-1.6-3.4 3.4zM488.1 493.1l3.4-3.2-3.6-1.5-3.4 3.3zM575.8 536.5l3.4-3.2-4-2.7-3.4 3.1zM484.4 487.1l3.4-3.2-3.6-1.3-3.4 3.1zM583.2 536.1l3.4-3-4-2.9-3.4 3.1zM590.6 535.9l3.4-2.9-4-2.9-3.4 3zM480.4 473.0l3.4-2.9-3.5-1.1-3.3 2.9zM601.4 533.1l3.3-2.8-4-2.9-3.4 2.7zM483.6 462.6l3.3-2.5-3.5-1-3.3 2.5zM620.9 518.3l3.2-2.1-4-2.9-3.2 2zM625.5 504.8l3.1-1.7-4-2.8-3.1 1.7zM624.6 500.3l3.1-1.5-3.9-2.8-3.1 1.6zM623.8 496.0l3-1.4-3.9-2.7-3 1.4zM622.9 491.9l3.1-1.3-3.9-2.7-3.1 1.4zM526.0 440.2l3.2-1.3-3.5-1.1-3.2 1.3zM617.3 481.6l3-1.1-3.8-2.5-3 1.2zM612.7 475.7l3-1.1-3.8-2.3-3 1zM542.8 441.2l3.1-1-3.6-1.3-3.1 1.1zM604.3 467.8l3-0.9-3.8-2.2-3 0.9zM552.9 442.8l3.1-1-3.5-1.3-3.1 1zM592.3 458.6l3-0.9-3.7-1.9-3 0.8zM588.6 456.6l3-0.8-3.7-1.9-3 0.9zM584.9 454.8l3-0.9-3.6-1.8-3 0.9zM581.3 453.0l3-0.9-3.7-1.8-3 0.9zM577.6 451.2l3-0.9-3.6-1.7-3 0.9zM574.0 449.5l3-0.9-3.6-1.6-3.1 0.9zM570.3 447.9l3.1-0.9-3.6-1.6-3.1 0.9z"/><path fill="#6cff00" stroke="#6cff00" d="M533.7 526.3l3.5-3.5-3.9-2.3-3.4 3.5zM529.9 524.0l3.4-3.5-3.8-2.2-3.5 3.5zM510.7 513.6l3.5-3.5-3.8-1.9-3.4 3.5zM507.0 511.7l3.4-3.5-3.7-1.8-3.5 3.4zM552.9 532.5l3.5-3.4-4-2.5-3.4 3.4zM495.6 501.2l3.4-3.4-3.6-1.6-3.5 3.4zM564.3 534.3l3.5-3.3-4-2.6-3.5 3.3zM484.2 482.6l3.4-3.1-3.5-1.2-3.4 3zM594.0 533.0l3.3-2.9-4-2.8-3.3 2.8zM604.7 530.3l3.3-2.6-4-2.9-3.3 2.6zM483.7 466.3l3.3-2.6-3.4-1.1-3.4 2.7zM608.0 527.7l3.3-2.5-4.1-3-3.2 2.6zM611.3 525.2l3.2-2.4-4-3-3.3 2.4zM614.5 522.8l3.2-2.3-4-3-3.2 2.3zM617.7 520.5l3.2-2.2-4-3-3.2 2.2zM623.3 511.3l3.1-1.9-4-2.9-3.1 1.9zM516.2 442.0l3.2-1.5-3.5-1-3.1 1.5zM618.2 485.4l3-1.3-3.9-2.5-3 1.3zM536.1 441.2l3.1-1.2-3.4-1.2-3.2 1.2zM608.9 473.3l3-1-3.8-2.3-3.1 1.1zM546.3 442.6l3.1-1.1-3.5-1.3-3.1 1zM600.5 465.6l3-0.9-3.7-2.1-3 0.9zM556.5 444.2l3.1-0.9-3.6-1.5-3.1 1z"/><path fill="#70ff00" stroke="#70ff00" d="M526.0 521.8l3.5-3.5-3.9-2.1-3.4 3.5zM522.2 519.7l3.4-3.5-3.8-2.1-3.5 3.5zM518.3 517.6l3.5-3.5-3.8-2-3.5 3.5zM514.5 515.6l3.5-3.5-3.8-2-3.5 3.5zM549.0 530.0l3.4-3.4-3.9-2.5-3.5 3.4zM499.3 502.8l3.4-3.3-3.7-1.7-3.4 3.4zM560.3 531.7l3.5-3.3-4-2.6-3.4 3.3zM491.7 494.6l3.5-3.2-3.7-1.5-3.4 3.2zM571.8 533.7l3.4-3.1-4-2.7-3.4 3.1zM487.9 488.4l3.5-3.1-3.6-1.4-3.4 3.2zM579.2 533.3l3.4-3.1-4-2.7-3.4 3.1zM586.6 533.1l3.4-3-4.1-2.8-3.3 2.9zM484.1 478.3l3.4-3-3.6-1.2-3.3 3zM483.9 474.1l3.4-2.8-3.5-1.2-3.4 2.9zM597.3 530.1l3.4-2.7-4.1-2.9-3.3 2.8zM483.8 470.1l3.4-2.7-3.5-1.1-3.4 2.7zM486.9 460.1l3.3-2.4-3.4-1-3.4 2.4zM620.1 513.3l3.2-2-4-2.9-3.2 2zM622.4 506.5l3.1-1.7-4-2.8-3.1 1.7zM621.5 502.0l3.1-1.7-3.9-2.7-3.1 1.6zM513.0 443.6l3.2-1.6-3.4-1-3.2 1.6zM619.9 493.3l3-1.4-3.9-2.6-3.1 1.4zM619.0 489.3l3.1-1.4-3.9-2.5-3.1 1.3zM522.8 441.6l3.2-1.4-3.5-1.1-3.1 1.4zM529.5 441.3l3.1-1.3-3.4-1.1-3.2 1.3zM613.5 479.2l3-1.2-3.8-2.3-3.1 1.1zM596.8 463.5l3-0.9-3.8-2-3 0.9zM563.7 447.3l3-1-3.6-1.6-3 1zM560.1 445.7l3-1-3.5-1.4-3.1 0.9z"/><path fill="#73ff00" stroke="#73ff00" d="M545.0 527.5l3.5-3.4-3.9-2.3-3.5 3.3zM503.0 504.6l3.4-3.4-3.7-1.7-3.4 3.3zM495.4 496.2l3.4-3.3-3.6-1.5-3.5 3.2zM567.8 531.0l3.4-3.1-4-2.7-3.4 3.2zM491.5 489.9l3.4-3.2-3.5-1.4-3.5 3.1zM487.8 483.9l3.4-3-3.6-1.4-3.4 3.1zM590.0 530.1l3.3-2.8-4-2.9-3.4 2.9zM600.7 527.4l3.3-2.6-4.1-2.9-3.3 2.6zM487.0 463.7l3.3-2.6-3.4-1-3.3 2.5zM490.2 457.7l3.3-2.3-3.4-1-3.3 2.3zM613.7 517.5l3.2-2.2-4-2.8-3.2 2.2zM616.9 515.3l3.2-2-4-2.9-3.2 2.1zM619.3 508.4l3.1-1.9-4-2.8-3.1 1.9zM509.8 445.3l3.2-1.7-3.4-1-3.3 1.7zM620.7 497.6l3.1-1.6-3.9-2.7-3.1 1.6zM519.7 443.1l3.1-1.5-3.4-1.1-3.2 1.5zM614.3 482.9l3-1.3-3.8-2.4-3.1 1.2zM533.0 442.5l3.1-1.3-3.5-1.2-3.1 1.3zM609.6 476.8l3.1-1.1-3.8-2.4-3.1 1.2zM539.6 442.4l3.2-1.2-3.6-1.2-3.1 1.2zM605.0 471.1l3.1-1.1-3.8-2.2-3 1zM549.8 443.9l3.1-1.1-3.5-1.3-3.1 1.1zM593.0 461.5l3-0.9-3.7-2-3 0.9zM589.3 459.5l3-0.9-3.7-2-3 1zM585.6 457.6l3-1-3.7-1.8-3 0.9zM570.9 450.5l3.1-1-3.7-1.6-3 0.9zM567.3 448.8l3-0.9-3.6-1.6-3 1z"/><path fill="#76ff00" stroke="#76ff00" d="M541.1 525.1l3.5-3.3-3.9-2.4-3.5 3.4zM537.2 522.8l3.5-3.4-3.9-2.2-3.5 3.3zM510.4 508.2l3.5-3.4-3.8-1.8-3.4 3.4zM506.7 506.4l3.4-3.4-3.7-1.8-3.4 3.4zM556.4 529.1l3.4-3.3-4-2.5-3.4 3.3zM499.0 497.8l3.5-3.3-3.7-1.6-3.4 3.3zM575.2 530.6l3.4-3.1-4-2.7-3.4 3.1zM582.6 530.2l3.3-2.9-4-2.8-3.3 3zM487.6 479.5l3.4-2.9-3.5-1.3-3.4 3zM487.5 475.3l3.3-2.8-3.5-1.2-3.4 2.8zM593.3 527.3l3.3-2.8-4-2.8-3.3 2.7zM487.3 471.3l3.4-2.8-3.5-1.1-3.4 2.7zM487.2 467.4l3.3-2.6-3.5-1.1-3.3 2.6zM604.0 524.8l3.2-2.6-4-2.8-3.3 2.5zM607.2 522.2l3.3-2.4-4-2.8-3.3 2.4zM490.3 461.1l3.4-2.4-3.5-1-3.3 2.4zM610.5 519.8l3.2-2.3-4-2.8-3.2 2.3zM493.5 455.4l3.3-2.3-3.5-1-3.2 2.3zM496.8 453.1l3.3-2.1-3.5-1-3.3 2.1zM616.1 510.4l3.2-2-4-2.8-3.2 2zM500.1 451.0l3.2-2-3.4-1-3.3 2zM503.3 449.0l3.3-1.9-3.5-1-3.2 1.9zM618.4 503.7l3.1-1.7-3.9-2.8-3.1 1.8zM506.6 447.1l3.2-1.8-3.5-1-3.2 1.8zM516.5 444.7l3.2-1.6-3.5-1.1-3.2 1.6zM615.1 486.7l3.1-1.3-3.9-2.5-3.1 1.3zM526.3 442.7l3.2-1.4-3.5-1.1-3.2 1.4zM605.8 474.5l3.1-1.2-3.9-2.2-3 1.1zM543.2 443.7l3.1-1.1-3.5-1.4-3.2 1.2zM601.3 468.8l3-1-3.8-2.2-3 1.1zM553.4 445.3l3.1-1.1-3.6-1.4-3.1 1.1zM581.9 455.7l3-0.9-3.6-1.8-3.1 0.9zM578.2 453.9l3.1-0.9-3.7-1.8-3 1zM574.6 452.2l3-1-3.6-1.7-3.1 1z"/><path fill="#79ff00" stroke="#79ff00" d="M533.3 520.5l3.5-3.3-3.9-2.2-3.4 3.3zM529.5 518.3l3.4-3.3-3.8-2.2-3.5 3.4zM525.6 516.2l3.5-3.4-3.9-2.1-3.4 3.4zM521.8 514.1l3.4-3.4-3.8-2-3.4 3.4zM518.0 512.1l3.4-3.4-3.7-2-3.5 3.4zM514.2 510.1l3.5-3.4-3.8-1.9-3.5 3.4zM552.4 526.6l3.4-3.3-3.9-2.4-3.4 3.2zM502.7 499.5l3.4-3.3-3.6-1.7-3.5 3.3zM563.8 528.4l3.4-3.2-4-2.5-3.4 3.1zM495.2 491.4l3.4-3.2-3.7-1.5-3.4 3.2zM571.2 527.9l3.4-3.1-4-2.6-3.4 3zM491.4 485.3l3.3-3.1-3.5-1.3-3.4 3zM491.2 480.9l3.3-3-3.5-1.3-3.4 2.9zM585.9 527.3l3.4-2.9-4-2.7-3.4 2.8zM596.6 524.5l3.3-2.6-4-2.8-3.3 2.6zM490.5 464.8l3.3-2.6-3.5-1.1-3.3 2.6zM493.7 458.7l3.3-2.3-3.5-1-3.3 2.3zM612.9 512.5l3.2-2.1-4-2.8-3.2 2.1zM617.6 499.2l3.1-1.6-3.9-2.7-3.1 1.6zM513.3 446.4l3.2-1.7-3.5-1.1-3.2 1.7zM616.8 494.9l3.1-1.6-4-2.6-3.1 1.6zM615.9 490.7l3.1-1.4-3.9-2.6-3.1 1.5zM523.1 444.2l3.2-1.5-3.5-1.1-3.1 1.5zM529.8 443.9l3.2-1.4-3.5-1.2-3.2 1.4zM610.4 480.4l3.1-1.2-3.9-2.4-3 1.2zM536.5 443.7l3.1-1.3-3.5-1.2-3.1 1.3zM546.7 445.1l3.1-1.2-3.5-1.3-3.1 1.1zM597.5 466.7l3-1.1-3.7-2.1-3.1 1.1zM593.7 464.6l3.1-1.1-3.8-2-3 1.1zM560.6 448.3l3.1-1-3.6-1.6-3.1 1.1zM557.0 446.8l3.1-1.1-3.6-1.5-3.1 1.1z"/><path fill="#7cff00" stroke="#7cff00" d="M548.5 524.1l3.4-3.2-3.9-2.4-3.4 3.3zM506.4 501.2l3.4-3.3-3.7-1.7-3.4 3.3zM559.8 525.8l3.4-3.1-3.9-2.6-3.5 3.2zM498.8 492.9l3.4-3.1-3.6-1.6-3.4 3.2zM494.9 486.7l3.4-3-3.6-1.5-3.3 3.1zM578.6 527.5l3.3-3-4-2.7-3.3 3zM491.0 476.6l3.4-2.8-3.6-1.3-3.3 2.8zM490.8 472.5l3.4-2.7-3.5-1.3-3.4 2.8zM490.7 468.5l3.3-2.6-3.5-1.1-3.3 2.6zM599.9 521.9l3.3-2.5-4-2.8-3.3 2.5zM603.2 519.4l3.3-2.4-4-2.8-3.3 2.4zM606.5 517.0l3.2-2.3-4-2.8-3.2 2.3zM609.7 514.7l3.2-2.2-4-2.8-3.2 2.2zM497.0 456.4l3.2-2.2-3.4-1.1-3.3 2.3zM615.3 505.6l3.1-1.9-3.9-2.7-3.2 1.9zM614.5 501.0l3.1-1.8-3.9-2.7-3.2 1.8zM510.0 448.2l3.3-1.8-3.5-1.1-3.2 1.8zM519.9 445.8l3.2-1.6-3.4-1.1-3.2 1.6zM612.0 488.2l3.1-1.5-3.9-2.5-3 1.5zM611.2 484.2l3.1-1.3-3.9-2.5-3 1.4zM606.6 478.0l3-1.2-3.8-2.3-3 1.2zM540.0 445.0l3.2-1.3-3.6-1.3-3.1 1.3zM602.0 472.2l3-1.1-3.7-2.3-3.1 1.2zM550.3 446.5l3.1-1.2-3.6-1.4-3.1 1.2zM590.0 462.6l3-1.1-3.7-2-3.1 1.1zM586.2 460.6l3.1-1.1-3.7-1.9-3.1 1.1zM564.2 449.9l3.1-1.1-3.6-1.5-3.1 1z"/><path fill="#80ff00" stroke="#80ff00" d="M544.6 521.8l3.4-3.3-3.9-2.4-3.4 3.3zM540.7 519.4l3.4-3.3-3.9-2.2-3.4 3.3zM513.9 504.8l3.4-3.2-3.7-1.9-3.5 3.3zM510.1 503.0l3.5-3.3-3.8-1.8-3.4 3.3zM555.8 523.3l3.5-3.2-4-2.4-3.4 3.2zM502.5 494.5l3.4-3.1-3.7-1.6-3.4 3.1zM567.2 525.2l3.4-3-4-2.6-3.4 3.1zM574.6 524.8l3.3-3-4-2.6-3.3 3zM494.7 482.2l3.4-2.9-3.6-1.4-3.3 3zM581.9 524.5l3.4-2.8-4-2.7-3.4 2.8zM589.3 524.4l3.3-2.7-4-2.8-3.3 2.8zM592.6 521.7l3.3-2.6-4-2.8-3.3 2.6zM494.0 465.9l3.3-2.5-3.5-1.2-3.3 2.6zM493.8 462.2l3.3-2.4-3.4-1.1-3.4 2.4zM500.2 454.2l3.3-2.1-3.4-1.1-3.3 2.1zM612.1 507.6l3.2-2-4-2.7-3.2 1.9zM503.5 452.1l3.3-2-3.5-1.1-3.2 2zM506.8 450.1l3.2-1.9-3.4-1.1-3.3 1.9zM613.7 496.5l3.1-1.6-4-2.6-3.1 1.6zM612.8 492.3l3.1-1.6-3.9-2.5-3.1 1.5zM526.6 445.4l3.2-1.5-3.5-1.2-3.2 1.5zM607.4 481.8l3-1.4-3.8-2.4-3.1 1.4zM533.3 445.1l3.2-1.4-3.5-1.2-3.2 1.4zM602.8 475.7l3-1.2-3.8-2.3-3.1 1.2zM598.2 470.0l3.1-1.2-3.8-2.1-3.1 1.1zM553.9 448.0l3.1-1.2-3.6-1.5-3.1 1.2zM582.5 458.7l3.1-1.1-3.7-1.9-3.1 1.1zM578.8 456.8l3.1-1.1-3.7-1.8-3 1.1zM575.2 455.0l3-1.1-3.6-1.7-3.1 1zM571.5 453.2l3.1-1-3.7-1.7-3.1 1zM567.8 451.5l3.1-1-3.6-1.7-3.1 1.1z"/><path fill="#83ff00" stroke="#83ff00" d="M536.8 517.2l3.4-3.3-3.9-2.2-3.4 3.3zM532.9 515.0l3.4-3.3-3.8-2.2-3.4 3.3zM529.1 512.8l3.4-3.3-3.8-2.1-3.5 3.3zM525.2 510.7l3.5-3.3-3.8-2-3.5 3.3zM521.4 508.7l3.5-3.3-3.8-1.9-3.4 3.2zM517.7 506.7l3.4-3.2-3.8-1.9-3.4 3.2zM551.9 520.9l3.4-3.2-3.9-2.4-3.4 3.2zM506.1 496.2l3.5-3.2-3.7-1.6-3.4 3.1zM563.2 522.7l3.4-3.1-3.9-2.5-3.4 3zM498.6 488.2l3.4-3-3.7-1.5-3.4 3zM494.5 477.9l3.4-2.8-3.5-1.3-3.4 2.8zM585.3 521.7l3.3-2.8-4-2.6-3.3 2.7zM494.4 473.8l3.3-2.8-3.5-1.2-3.4 2.7zM494.2 469.8l3.3-2.7-3.5-1.2-3.3 2.6zM595.9 519.1l3.3-2.5-4-2.8-3.3 2.5zM599.2 516.6l3.3-2.4-4-2.8-3.3 2.4zM602.5 514.2l3.2-2.3-4-2.8-3.2 2.3zM497.1 459.8l3.3-2.3-3.4-1.1-3.3 2.3zM605.7 511.9l3.2-2.2-4-2.8-3.2 2.2zM500.4 457.5l3.3-2.2-3.5-1.1-3.2 2.2zM608.9 509.7l3.2-2.1-4-2.8-3.2 2.1zM611.3 502.9l3.2-1.9-4-2.7-3.1 1.9zM610.5 498.3l3.2-1.8-4-2.6-3.1 1.8zM513.5 449.3l3.2-1.8-3.4-1.1-3.3 1.8zM516.7 447.5l3.2-1.7-3.4-1.1-3.2 1.7zM523.4 447.0l3.2-1.6-3.5-1.2-3.2 1.6zM608.2 485.7l3-1.5-3.8-2.4-3.1 1.4zM536.9 446.4l3.1-1.4-3.5-1.3-3.2 1.4zM543.6 446.4l3.1-1.3-3.5-1.4-3.2 1.3zM594.4 467.8l3.1-1.1-3.8-2.1-3 1.1zM590.7 465.7l3-1.1-3.7-2-3.1 1.1zM557.5 449.5l3.1-1.2-3.6-1.5-3.1 1.2z"/><path fill="#86ff00" stroke="#86ff00" d="M548.0 518.5l3.4-3.2-3.9-2.3-3.4 3.1zM509.8 497.9l3.5-3.1-3.7-1.8-3.5 3.2zM502.2 489.8l3.4-3.1-3.6-1.5-3.4 3zM570.6 522.2l3.3-3-3.9-2.6-3.4 3zM498.3 483.7l3.4-3-3.6-1.4-3.4 2.9zM577.9 521.8l3.4-2.8-4-2.6-3.4 2.8zM588.6 518.9l3.3-2.6-4-2.7-3.3 2.7zM497.3 463.4l3.3-2.4-3.5-1.2-3.3 2.4zM503.7 455.3l3.3-2.1-3.5-1.1-3.3 2.1zM608.1 504.8l3.2-1.9-3.9-2.7-3.2 1.9zM507.0 453.2l3.3-2-3.5-1.1-3.3 2zM510.3 451.2l3.2-1.9-3.5-1.1-3.2 1.9zM609.7 493.9l3.1-1.6-3.9-2.6-3.1 1.7zM520.2 448.7l3.2-1.7-3.5-1.2-3.2 1.7zM608.9 489.7l3.1-1.5-3.8-2.5-3.1 1.5zM530.2 446.6l3.1-1.5-3.5-1.2-3.2 1.5zM603.5 479.4l3.1-1.4-3.8-2.3-3.1 1.4zM598.9 473.4l3.1-1.2-3.8-2.2-3.1 1.2zM547.2 447.8l3.1-1.3-3.6-1.4-3.1 1.3zM586.9 463.7l3.1-1.1-3.8-2-3 1.1zM583.2 461.7l3-1.1-3.7-1.9-3 1.1zM564.7 452.7l3.1-1.2-3.6-1.6-3.1 1.2zM561.1 451.1l3.1-1.2-3.6-1.6-3.1 1.2z"/><path fill="#89ff00" stroke="#89ff00" d="M544.1 516.1l3.4-3.1-3.9-2.3-3.4 3.2zM540.2 513.9l3.4-3.2-3.8-2.2-3.5 3.2zM517.3 501.6l3.4-3.2-3.7-1.9-3.4 3.2zM513.6 499.7l3.4-3.2-3.7-1.7-3.5 3.1zM559.3 520.1l3.4-3-4-2.5-3.4 3.1zM505.9 491.4l3.4-3.1-3.7-1.6-3.4 3.1zM566.6 519.6l3.4-3-4-2.5-3.3 3zM502.0 485.2l3.4-3-3.7-1.5-3.4 3zM573.9 519.2l3.4-2.8-4-2.6-3.3 2.8zM498.1 479.3l3.4-2.8-3.6-1.4-3.4 2.8zM581.3 519.0l3.3-2.7-4-2.7-3.3 2.8zM497.9 475.1l3.4-2.8-3.6-1.3-3.3 2.8zM497.7 471.0l3.4-2.6-3.6-1.3-3.3 2.7zM591.9 516.3l3.3-2.5-4-2.7-3.3 2.5zM497.5 467.1l3.3-2.5-3.5-1.2-3.3 2.5zM595.2 513.8l3.3-2.4-4-2.7-3.3 2.4zM598.5 511.4l3.2-2.3-4-2.7-3.2 2.3zM500.6 461.0l3.3-2.3-3.5-1.2-3.3 2.3zM601.7 509.1l3.2-2.2-3.9-2.7-3.3 2.2zM503.9 458.7l3.3-2.2-3.5-1.2-3.3 2.2zM604.9 506.9l3.2-2.1-3.9-2.7-3.2 2.1zM607.4 500.2l3.1-1.9-3.9-2.6-3.2 1.9zM606.6 495.7l3.1-1.8-3.9-2.5-3.1 1.7zM517.0 450.5l3.2-1.8-3.5-1.2-3.2 1.8zM605.8 491.4l3.1-1.7-3.8-2.5-3.2 1.7zM605.1 487.2l3.1-1.5-3.9-2.5-3.1 1.6zM527.0 448.2l3.2-1.6-3.6-1.2-3.2 1.6zM604.3 483.2l3.1-1.4-3.9-2.4-3.1 1.4zM533.7 447.9l3.2-1.5-3.6-1.3-3.1 1.5zM599.7 477.1l3.1-1.4-3.9-2.3-3 1.4zM540.4 447.8l3.2-1.4-3.6-1.4-3.1 1.4zM595.1 471.2l3.1-1.2-3.8-2.2-3 1.3zM591.4 469.1l3-1.3-3.7-2.1-3.1 1.3zM550.7 449.2l3.2-1.2-3.6-1.5-3.1 1.3zM579.5 459.8l3-1.1-3.7-1.9-3 1.1zM575.8 457.9l3-1.1-3.6-1.8-3.1 1.1zM572.1 456.1l3.1-1.1-3.7-1.8-3.1 1.2zM568.4 454.4l3.1-1.2-3.7-1.7-3.1 1.2z"/><path fill="#8cff00" stroke="#8cff00" d="M536.3 511.7l3.5-3.2-3.9-2.1-3.4 3.1zM532.5 509.5l3.4-3.1-3.8-2.1-3.4 3.1zM528.7 507.4l3.4-3.1-3.8-2-3.4 3.1zM524.9 505.4l3.4-3.1-3.8-2-3.4 3.2zM521.1 503.5l3.4-3.2-3.8-1.9-3.4 3.2zM555.3 517.7l3.4-3.1-3.9-2.4-3.4 3.1zM551.4 515.3l3.4-3.1-3.9-2.3-3.4 3.1zM509.6 493.0l3.4-3-3.7-1.7-3.4 3.1zM505.6 486.7l3.4-2.9-3.6-1.6-3.4 3zM501.7 480.7l3.4-2.8-3.6-1.4-3.4 2.8zM584.6 516.3l3.3-2.7-3.9-2.6-3.4 2.6zM501.1 468.4l3.3-2.5-3.6-1.3-3.3 2.5zM500.8 464.6l3.4-2.4-3.6-1.2-3.3 2.4zM507.2 456.5l3.3-2.1-3.5-1.2-3.3 2.1zM604.2 502.1l3.2-1.9-4-2.6-3.2 1.9zM510.5 454.4l3.3-2-3.5-1.2-3.3 2zM513.8 452.4l3.2-1.9-3.5-1.2-3.2 1.9zM523.8 449.9l3.2-1.7-3.6-1.2-3.2 1.7zM600.4 480.8l3.1-1.4-3.8-2.3-3.1 1.4zM595.9 474.8l3-1.4-3.8-2.2-3 1.4zM544.0 449.2l3.2-1.4-3.6-1.4-3.2 1.4zM587.6 467.0l3.1-1.3-3.8-2-3.1 1.3zM558.0 452.3l3.1-1.2-3.6-1.6-3.1 1.3zM554.4 450.8l3.1-1.3-3.6-1.5-3.2 1.2z"/><path fill="#8fff00" stroke="#8fff00" d="M547.5 513.0l3.4-3.1-3.9-2.2-3.4 3zM517.0 496.5l3.4-3-3.7-1.8-3.4 3.1zM513.3 494.8l3.4-3.1-3.7-1.7-3.4 3zM562.7 517.1l3.3-3-3.9-2.4-3.4 2.9zM509.3 488.3l3.4-2.9-3.7-1.6-3.4 2.9zM570.0 516.6l3.3-2.8-3.9-2.5-3.4 2.8zM505.4 482.2l3.3-2.8-3.6-1.5-3.4 2.8zM577.3 516.4l3.3-2.8-3.9-2.5-3.4 2.7zM501.5 476.5l3.4-2.8-3.6-1.4-3.4 2.8zM501.3 472.3l3.3-2.6-3.5-1.3-3.4 2.6zM587.9 513.6l3.3-2.5-3.9-2.6-3.3 2.5zM591.2 511.1l3.3-2.4-4-2.6-3.2 2.4zM594.5 508.7l3.2-2.3-3.9-2.6-3.3 2.3zM504.2 462.2l3.3-2.3-3.6-1.2-3.3 2.3zM597.7 506.4l3.3-2.2-4-2.6-3.2 2.2zM507.5 459.9l3.3-2.2-3.6-1.2-3.3 2.2zM601.0 504.2l3.2-2.1-4-2.6-3.2 2.1zM603.4 497.6l3.2-1.9-3.9-2.6-3.2 1.9zM602.7 493.1l3.1-1.7-3.9-2.5-3.1 1.7zM520.5 451.7l3.3-1.8-3.6-1.2-3.2 1.8zM601.9 488.9l3.2-1.7-3.9-2.4-3.2 1.6zM601.2 484.8l3.1-1.6-3.9-2.4-3.1 1.6zM530.5 449.5l3.2-1.6-3.5-1.3-3.2 1.6zM596.6 478.5l3.1-1.4-3.8-2.3-3.1 1.4zM537.3 449.2l3.1-1.4-3.5-1.4-3.2 1.5zM592.1 472.6l3-1.4-3.7-2.1-3.1 1.3zM547.6 450.6l3.1-1.4-3.5-1.4-3.2 1.4zM583.8 465.0l3.1-1.3-3.7-2-3.1 1.3zM580.1 463.0l3.1-1.3-3.7-1.9-3.1 1.3zM576.4 461.1l3.1-1.3-3.7-1.9-3.1 1.3zM569.0 457.4l3.1-1.3-3.7-1.7-3.1 1.3zM565.3 455.7l3.1-1.3-3.7-1.7-3.1 1.3zM561.6 454.0l3.1-1.3-3.6-1.6-3.1 1.2z"/><path fill="#93ff00" stroke="#93ff00" d="M543.6 510.7l3.4-3-3.8-2.2-3.4 3zM539.8 508.5l3.4-3-3.9-2.2-3.4 3.1zM535.9 506.4l3.4-3.1-3.8-2.1-3.4 3.1zM524.5 500.3l3.4-3.1-3.8-1.9-3.4 3.1zM520.7 498.4l3.4-3.1-3.7-1.8-3.4 3zM558.7 514.6l3.4-2.9-3.9-2.4-3.4 2.9zM513.0 490.0l3.4-3-3.7-1.6-3.4 2.9zM566.0 514.1l3.4-2.8-3.9-2.5-3.4 2.9zM573.3 513.8l3.4-2.7-4-2.5-3.3 2.7zM505.1 477.9l3.4-2.7-3.6-1.5-3.4 2.8zM580.6 513.6l3.4-2.6-4-2.6-3.3 2.7zM504.9 473.7l3.3-2.6-3.6-1.4-3.3 2.6zM504.6 469.7l3.4-2.5-3.6-1.3-3.3 2.5zM504.4 465.9l3.3-2.4-3.5-1.3-3.4 2.4zM507.7 463.5l3.3-2.3-3.5-1.3-3.3 2.3zM597.0 501.6l3.2-2.1-3.9-2.5-3.2 2zM510.8 457.7l3.2-2.1-3.5-1.2-3.3 2.1zM600.2 499.5l3.2-1.9-3.9-2.6-3.2 2zM514.0 455.6l3.3-2-3.5-1.2-3.3 2zM599.5 495.0l3.2-1.9-3.9-2.5-3.2 1.9zM517.3 453.6l3.2-1.9-3.5-1.2-3.2 1.9zM527.3 451.2l3.2-1.7-3.5-1.3-3.2 1.7zM597.3 482.4l3.1-1.6-3.8-2.3-3.1 1.6zM534.1 450.8l3.2-1.6-3.6-1.3-3.2 1.6zM592.8 476.2l3.1-1.4-3.8-2.2-3.2 1.4zM540.8 450.6l3.2-1.4-3.6-1.4-3.1 1.4zM588.3 470.4l3.1-1.3-3.8-2.1-3.1 1.3zM551.2 452.1l3.2-1.3-3.7-1.6-3.1 1.4zM572.7 459.2l3.1-1.3-3.7-1.8-3.1 1.3z"/><path fill="#96ff00" stroke="#96ff00" d="M532.1 504.3l3.4-3.1-3.8-2-3.4 3.1zM528.3 502.3l3.4-3.1-3.8-2-3.4 3.1zM554.8 512.2l3.4-2.9-3.9-2.3-3.4 2.9zM550.9 509.9l3.4-2.9-3.9-2.3-3.4 3zM516.7 491.7l3.4-2.9-3.7-1.8-3.4 3zM562.1 511.7l3.4-2.9-3.9-2.3-3.4 2.8zM509.0 483.8l3.4-2.9-3.7-1.5-3.3 2.8zM508.7 479.4l3.4-2.7-3.6-1.5-3.4 2.7zM576.7 511.1l3.3-2.7-3.9-2.5-3.4 2.7zM584.0 511.0l3.3-2.5-4-2.6-3.3 2.5zM587.3 508.5l3.2-2.4-3.9-2.6-3.3 2.4zM508.0 467.2l3.3-2.4-3.6-1.3-3.3 2.4zM590.5 506.1l3.3-2.3-4-2.6-3.2 2.3zM593.8 503.8l3.2-2.2-3.9-2.6-3.3 2.2zM511.0 461.2l3.3-2.3-3.5-1.2-3.3 2.2zM514.3 458.9l3.3-2.1-3.6-1.2-3.2 2.1zM596.3 497.0l3.2-2-3.9-2.5-3.2 2zM517.6 456.8l3.2-1.9-3.5-1.3-3.3 2zM520.8 454.9l3.3-1.9-3.6-1.3-3.2 1.9zM598.8 490.6l3.1-1.7-3.9-2.5-3.1 1.8zM524.1 453.0l3.2-1.8-3.5-1.3-3.3 1.8zM598.0 486.4l3.2-1.6-3.9-2.4-3.1 1.6zM530.9 452.5l3.2-1.7-3.6-1.3-3.2 1.7zM593.5 480.1l3.1-1.6-3.8-2.3-3.2 1.6zM537.7 452.2l3.1-1.6-3.5-1.4-3.2 1.6zM588.9 474.0l3.2-1.4-3.8-2.2-3.2 1.5zM544.4 452.1l3.2-1.5-3.6-1.4-3.2 1.4zM584.5 468.3l3.1-1.3-3.8-2-3.1 1.3zM580.7 466.3l3.1-1.3-3.7-2-3.1 1.3zM558.5 455.3l3.1-1.3-3.6-1.7-3.2 1.4zM554.8 453.7l3.2-1.4-3.6-1.5-3.2 1.3z"/><path fill="#99ff00" stroke="#99ff00" d="M547.0 507.7l3.4-3-3.8-2.2-3.4 3zM543.2 505.5l3.4-3-3.9-2.1-3.4 2.9zM524.1 495.3l3.4-2.9-3.7-1.8-3.4 2.9zM520.4 493.5l3.4-2.9-3.7-1.8-3.4 2.9zM558.2 509.3l3.4-2.8-3.9-2.4-3.4 2.9zM512.7 485.4l3.3-2.9-3.6-1.6-3.4 2.9zM569.4 511.3l3.3-2.7-3.9-2.5-3.3 2.7zM508.5 475.2l3.3-2.7-3.6-1.4-3.3 2.6zM580.0 508.4l3.3-2.5-3.9-2.5-3.3 2.5zM508.2 471.1l3.3-2.5-3.5-1.4-3.4 2.5zM511.3 464.8l3.3-2.3-3.6-1.3-3.3 2.3zM593.1 499.0l3.2-2-3.9-2.5-3.2 2zM595.6 492.5l3.2-1.9-3.9-2.4-3.2 1.8zM594.9 488.2l3.1-1.8-3.8-2.4-3.2 1.8zM527.6 454.3l3.3-1.8-3.6-1.3-3.2 1.8zM594.2 484.0l3.1-1.6-3.8-2.3-3.2 1.6zM541.3 453.7l3.1-1.6-3.6-1.5-3.1 1.6zM585.1 471.9l3.2-1.5-3.8-2.1-3.1 1.5zM551.7 455.2l3.1-1.5-3.6-1.6-3.2 1.5zM548.0 453.6l3.2-1.5-3.6-1.5-3.2 1.5zM577.0 464.3l3.1-1.3-3.7-1.9-3.2 1.3zM573.2 462.4l3.2-1.3-3.7-1.9-3.2 1.4zM569.5 460.6l3.2-1.4-3.7-1.8-3.2 1.4zM565.8 458.8l3.2-1.4-3.7-1.7-3.1 1.3zM562.2 457.0l3.1-1.3-3.7-1.7-3.1 1.3z"/><path fill="#9cff00" stroke="#9cff00" d="M539.3 503.3l3.4-2.9-3.8-2.1-3.4 2.9zM535.5 501.2l3.4-2.9-3.8-2-3.4 2.9zM531.7 499.2l3.4-2.9-3.8-2-3.4 2.9zM527.9 497.2l3.4-2.9-3.8-1.9-3.4 2.9zM554.3 507.0l3.4-2.9-3.9-2.2-3.4 2.8zM520.1 488.8l3.3-2.9-3.7-1.7-3.3 2.8zM516.4 487.0l3.3-2.8-3.7-1.7-3.3 2.9zM565.5 508.8l3.3-2.7-3.9-2.4-3.3 2.8zM512.4 480.9l3.3-2.7-3.6-1.5-3.4 2.7zM572.7 508.6l3.4-2.7-4-2.4-3.3 2.6zM512.1 476.7l3.3-2.7-3.6-1.5-3.3 2.7zM576.1 505.9l3.3-2.5-3.9-2.4-3.4 2.5zM511.8 472.5l3.3-2.5-3.6-1.4-3.3 2.5zM583.3 505.9l3.3-2.4-3.9-2.5-3.3 2.4zM511.5 468.6l3.4-2.4-3.6-1.4-3.3 2.4zM586.6 503.5l3.2-2.3-3.9-2.5-3.2 2.3zM589.8 501.2l3.3-2.2-3.9-2.5-3.3 2.2zM514.6 462.5l3.3-2.2-3.6-1.4-3.3 2.3zM517.9 460.3l3.2-2.1-3.5-1.4-3.3 2.1zM592.4 494.5l3.2-2-3.9-2.5-3.2 2zM521.1 458.2l3.3-2-3.6-1.3-3.2 1.9zM591.7 490.0l3.2-1.8-3.9-2.4-3.2 1.9zM524.4 456.2l3.2-1.9-3.5-1.3-3.3 1.9zM591.0 485.8l3.2-1.8-3.9-2.3-3.2 1.8zM531.2 455.7l3.2-1.8-3.5-1.4-3.3 1.8zM590.3 481.7l3.2-1.6-3.9-2.3-3.1 1.6zM534.4 453.9l3.3-1.7-3.6-1.4-3.2 1.7zM589.6 477.8l3.2-1.6-3.9-2.2-3.1 1.6zM585.8 475.6l3.1-1.6-3.8-2.1-3.1 1.5zM544.9 455.2l3.1-1.6-3.6-1.5-3.1 1.6zM581.4 469.8l3.1-1.5-3.8-2-3.1 1.5zM577.6 467.8l3.1-1.5-3.7-2-3.2 1.5zM555.3 456.8l3.2-1.5-3.7-1.6-3.1 1.5z"/><path fill="#9fff00" stroke="#9fff00" d="M550.4 504.7l3.4-2.8-3.9-2.2-3.3 2.8zM546.6 502.5l3.3-2.8-3.8-2.2-3.4 2.9zM527.5 492.4l3.4-2.8-3.7-1.9-3.4 2.9zM523.8 490.6l3.4-2.9-3.8-1.8-3.3 2.9zM561.6 506.5l3.3-2.8-3.9-2.3-3.3 2.7zM519.7 484.2l3.4-2.7-3.7-1.7-3.4 2.7zM516.0 482.5l3.4-2.7-3.7-1.6-3.3 2.7zM568.8 506.1l3.3-2.6-3.9-2.4-3.3 2.6zM515.7 478.2l3.4-2.6-3.7-1.6-3.3 2.7zM515.4 474.0l3.4-2.5-3.7-1.5-3.3 2.5zM579.4 503.4l3.3-2.4-4-2.4-3.2 2.4zM515.1 470.0l3.4-2.4-3.6-1.4-3.4 2.4zM582.7 501.0l3.2-2.3-3.9-2.4-3.3 2.3zM514.9 466.2l3.3-2.3-3.6-1.4-3.3 2.3zM585.9 498.7l3.3-2.2-3.9-2.4-3.3 2.2zM518.2 463.9l3.3-2.2-3.6-1.4-3.3 2.2zM589.2 496.5l3.2-2-3.9-2.5-3.2 2.1zM521.5 461.7l3.2-2.1-3.6-1.4-3.2 2.1zM588.5 492.0l3.2-2-3.9-2.3-3.2 1.9zM524.7 459.6l3.3-2-3.6-1.4-3.3 2zM528.0 457.6l3.2-1.9-3.6-1.4-3.2 1.9zM586.5 479.4l3.1-1.6-3.8-2.2-3.2 1.6zM538.0 455.4l3.3-1.7-3.6-1.5-3.3 1.7zM582.0 473.4l3.1-1.5-3.7-2.1-3.2 1.6zM548.5 456.7l3.2-1.5-3.7-1.6-3.1 1.6zM573.8 465.8l3.2-1.5-3.8-1.9-3.1 1.5zM570.1 463.9l3.1-1.5-3.7-1.8-3.1 1.4zM566.4 462.0l3.1-1.4-3.7-1.8-3.1 1.4zM562.7 460.2l3.1-1.4-3.6-1.8-3.2 1.5zM559.0 458.5l3.2-1.5-3.7-1.7-3.2 1.5z"/><path fill="#a3ff00" stroke="#a3ff00" d="M542.7 500.4l3.4-2.9-3.8-2.1-3.4 2.9zM538.9 498.3l3.4-2.9-3.8-2-3.4 2.9zM535.1 496.3l3.4-2.9-3.8-1.9-3.4 2.8zM531.3 494.3l3.4-2.8-3.8-1.9-3.4 2.8zM557.7 504.1l3.3-2.7-3.9-2.3-3.3 2.8zM553.8 501.9l3.3-2.8-3.8-2.2-3.4 2.8zM523.4 485.9l3.4-2.7-3.7-1.7-3.4 2.7zM564.9 503.7l3.3-2.6-3.8-2.3-3.4 2.6zM519.4 479.8l3.4-2.6-3.7-1.6-3.4 2.6zM572.1 503.5l3.4-2.5-3.9-2.4-3.4 2.5zM519.1 475.6l3.3-2.5-3.6-1.6-3.4 2.5zM575.5 501.0l3.2-2.4-3.9-2.4-3.2 2.4zM518.8 471.5l3.3-2.4-3.6-1.5-3.4 2.4zM578.7 498.6l3.3-2.3-3.9-2.4-3.3 2.3zM518.5 467.6l3.3-2.3-3.6-1.4-3.3 2.3zM582.0 496.3l3.3-2.2-3.9-2.4-3.3 2.2zM521.8 465.3l3.3-2.2-3.6-1.4-3.3 2.2zM585.3 494.1l3.2-2.1-3.9-2.4-3.2 2.1zM587.8 487.7l3.2-1.9-3.9-2.3-3.2 1.8zM531.6 459.0l3.2-1.9-3.6-1.4-3.2 1.9zM587.1 483.5l3.2-1.8-3.8-2.3-3.2 1.8zM534.8 457.1l3.2-1.7-3.6-1.5-3.2 1.8zM582.6 477.2l3.2-1.6-3.8-2.2-3.2 1.7zM545.3 458.4l3.2-1.7-3.6-1.5-3.2 1.7zM541.7 456.9l3.2-1.7-3.6-1.5-3.3 1.7zM578.2 471.4l3.2-1.6-3.8-2-3.2 1.5zM574.4 469.3l3.2-1.5-3.8-2-3.1 1.6zM555.8 460.1l3.2-1.6-3.7-1.7-3.1 1.6zM552.2 458.4l3.1-1.6-3.6-1.6-3.2 1.5z"/><path fill="#a6ff00" stroke="#a6ff00" d="M549.9 499.7l3.4-2.8-3.9-2.1-3.3 2.7zM546.1 497.5l3.3-2.7-3.8-2.1-3.3 2.7zM542.3 495.4l3.3-2.7-3.8-2-3.3 2.7zM538.5 493.4l3.3-2.7-3.8-2-3.3 2.8zM534.7 491.5l3.3-2.8-3.7-1.9-3.4 2.8zM530.9 489.6l3.4-2.8-3.8-1.8-3.3 2.7zM527.2 487.7l3.3-2.7-3.7-1.8-3.4 2.7zM561.0 501.4l3.4-2.6-3.9-2.3-3.4 2.6zM557.1 499.1l3.4-2.6-3.9-2.2-3.3 2.6zM523.1 481.5l3.3-2.6-3.6-1.7-3.4 2.6zM568.2 501.1l3.4-2.5-3.9-2.3-3.3 2.5zM522.8 477.2l3.3-2.5-3.7-1.6-3.3 2.5zM571.6 498.6l3.2-2.4-3.8-2.3-3.3 2.4zM522.4 473.1l3.3-2.4-3.6-1.6-3.3 2.4zM522.1 469.1l3.3-2.3-3.6-1.5-3.3 2.3zM581.4 491.7l3.2-2.1-3.9-2.3-3.2 2.1zM525.1 463.1l3.2-2.1-3.6-1.4-3.2 2.1zM584.6 489.6l3.2-1.9-3.9-2.4-3.2 2zM528.3 461.0l3.3-2-3.6-1.4-3.3 2zM583.9 485.3l3.2-1.8-3.8-2.3-3.2 1.9zM535.2 460.5l3.2-1.9-3.6-1.5-3.2 1.9zM583.3 481.2l3.2-1.8-3.9-2.2-3.1 1.8zM579.5 479.0l3.1-1.8-3.8-2.1-3.2 1.8zM542.1 460.2l3.2-1.8-3.6-1.5-3.3 1.7zM538.4 458.6l3.3-1.7-3.7-1.5-3.2 1.7zM578.8 475.1l3.2-1.7-3.8-2-3.2 1.6zM575.0 473.0l3.2-1.6-3.8-2.1-3.1 1.7zM549.0 460.0l3.2-1.6-3.7-1.7-3.2 1.7zM570.7 467.4l3.1-1.6-3.7-1.9-3.2 1.5zM566.9 465.4l3.2-1.5-3.7-1.9-3.2 1.6zM563.2 463.6l3.2-1.6-3.7-1.8-3.2 1.6zM559.5 461.8l3.2-1.6-3.7-1.7-3.2 1.6z"/><path fill="#a9ff00" stroke="#a9ff00" d="M553.3 496.9l3.3-2.6-3.8-2.1-3.4 2.6zM549.4 494.8l3.4-2.6-3.8-2.1-3.4 2.6zM534.3 486.8l3.3-2.6-3.7-1.8-3.4 2.6zM530.5 485.0l3.4-2.6-3.8-1.8-3.3 2.6zM526.8 483.2l3.3-2.6-3.7-1.7-3.3 2.6zM564.4 498.8l3.3-2.5-3.9-2.3-3.3 2.5zM560.5 496.5l3.3-2.5-3.9-2.2-3.3 2.5zM526.4 478.9l3.4-2.6-3.7-1.6-3.3 2.5zM567.7 496.3l3.3-2.4-3.9-2.3-3.3 2.4zM526.1 474.7l3.3-2.4-3.7-1.6-3.3 2.4zM574.8 496.2l3.3-2.3-3.9-2.3-3.2 2.3zM525.7 470.7l3.3-2.3-3.6-1.6-3.3 2.3zM578.1 493.9l3.3-2.2-3.9-2.3-3.3 2.2zM525.4 466.8l3.3-2.2-3.6-1.5-3.3 2.2zM577.5 489.4l3.2-2.1-3.8-2.2-3.3 2zM528.7 464.6l3.3-2.1-3.7-1.5-3.2 2.1zM580.7 487.3l3.2-2-3.8-2.2-3.2 2zM532.0 462.5l3.2-2-3.6-1.5-3.3 2zM580.1 483.1l3.2-1.9-3.8-2.2-3.2 1.9zM538.9 462.1l3.2-1.9-3.7-1.6-3.2 1.9zM575.6 476.9l3.2-1.8-3.8-2.1-3.1 1.8zM545.7 461.8l3.3-1.8-3.7-1.6-3.2 1.8zM571.3 471.0l3.1-1.7-3.7-1.9-3.2 1.6zM567.5 469.0l3.2-1.6-3.8-2-3.1 1.7zM563.8 467.1l3.1-1.7-3.7-1.8-3.2 1.7zM560.0 465.3l3.2-1.7-3.7-1.8-3.2 1.7zM556.3 463.5l3.2-1.7-3.7-1.7-3.2 1.6zM552.6 461.7l3.2-1.6-3.6-1.7-3.2 1.6z"/><path fill="#acff00" stroke="#acff00" d="M545.6 492.7l3.4-2.6-3.8-2-3.4 2.6zM541.8 490.7l3.4-2.6-3.8-2-3.4 2.6zM538.0 488.7l3.4-2.6-3.8-1.9-3.3 2.6zM556.6 494.3l3.3-2.5-3.8-2.1-3.3 2.5zM552.8 492.2l3.3-2.5-3.8-2.1-3.3 2.5zM533.9 482.4l3.3-2.5-3.7-1.8-3.4 2.5zM530.1 480.6l3.4-2.5-3.7-1.8-3.4 2.6zM563.8 494.0l3.3-2.4-3.9-2.2-3.3 2.4zM529.8 476.3l3.3-2.4-3.7-1.6-3.3 2.4zM571.0 493.9l3.2-2.3-3.8-2.3-3.3 2.3zM567.1 491.6l3.3-2.3-3.9-2.2-3.3 2.3zM529.4 472.3l3.3-2.3-3.7-1.6-3.3 2.3zM574.2 491.6l3.3-2.2-3.9-2.3-3.2 2.2zM570.4 489.3l3.2-2.2-3.8-2.2-3.3 2.2zM532.7 470.0l3.3-2.2-3.7-1.6-3.3 2.2zM529.0 468.4l3.3-2.2-3.6-1.6-3.3 2.2zM573.6 487.1l3.3-2-3.9-2.3-3.2 2.1zM532.3 466.2l3.3-2.1-3.6-1.6-3.3 2.1zM576.9 485.1l3.2-2-3.8-2.2-3.3 1.9zM573.0 482.8l3.3-1.9-3.9-2.2-3.2 2zM539.3 465.7l3.2-2-3.6-1.6-3.3 2zM535.6 464.1l3.3-2-3.7-1.6-3.2 2zM576.3 480.9l3.2-1.9-3.9-2.1-3.2 1.8zM572.4 478.7l3.2-1.8-3.7-2.1-3.3 1.8zM542.5 463.7l3.2-1.9-3.6-1.6-3.2 1.9zM571.9 474.8l3.1-1.8-3.7-2-3.2 1.8zM568.1 472.8l3.2-1.8-3.8-2-3.2 1.8zM564.3 470.8l3.2-1.8-3.7-1.9-3.2 1.8zM560.6 468.9l3.2-1.8-3.8-1.8-3.2 1.7zM556.8 467.0l3.2-1.7-3.7-1.8-3.2 1.7zM553.1 465.2l3.2-1.7-3.7-1.8-3.2 1.8zM549.4 463.5l3.2-1.8-3.6-1.7-3.3 1.8z"/><path fill="#afff00" stroke="#afff00" d="M549.0 490.1l3.3-2.5-3.8-2-3.3 2.5zM545.2 488.1l3.3-2.5-3.8-2-3.3 2.5zM541.4 486.1l3.3-2.5-3.8-1.9-3.3 2.5zM537.6 484.2l3.3-2.5-3.7-1.8-3.3 2.5zM559.9 491.8l3.3-2.4-3.8-2.1-3.3 2.4zM556.1 489.7l3.3-2.4-3.8-2.1-3.3 2.4zM552.3 487.6l3.3-2.4-3.8-2-3.3 2.4zM540.9 481.7l3.4-2.4-3.8-1.8-3.3 2.4zM537.2 479.9l3.3-2.4-3.7-1.8-3.3 2.4zM533.5 478.1l3.3-2.4-3.7-1.8-3.3 2.4zM563.2 489.4l3.3-2.3-3.8-2.1-3.3 2.3zM536.8 475.7l3.3-2.3-3.7-1.8-3.3 2.3zM533.1 473.9l3.3-2.3-3.7-1.6-3.3 2.3zM566.5 487.1l3.3-2.2-3.8-2.1-3.3 2.2zM536.4 471.6l3.3-2.2-3.7-1.6-3.3 2.2zM569.8 484.9l3.2-2.1-3.8-2.1-3.2 2.1zM566.0 482.8l3.2-2.1-3.8-2.1-3.2 2.1zM539.7 469.4l3.2-2-3.6-1.7-3.3 2.1zM536.0 467.8l3.3-2.1-3.7-1.6-3.3 2.1zM569.2 480.7l3.2-2-3.8-2.1-3.2 2zM565.4 478.6l3.2-2-3.7-2-3.3 2zM546.6 469.1l3.3-2-3.7-1.7-3.3 2zM542.9 467.4l3.3-2-3.7-1.7-3.2 2zM568.6 476.6l3.3-1.8-3.8-2-3.2 1.8zM564.9 474.6l3.2-1.8-3.8-2-3.2 1.9zM561.1 472.7l3.2-1.9-3.7-1.9-3.3 1.8zM557.3 470.7l3.3-1.8-3.8-1.9-3.2 1.9zM553.6 468.9l3.2-1.9-3.7-1.8-3.2 1.9zM549.9 467.1l3.2-1.9-3.7-1.7-3.2 1.9zM546.2 465.4l3.2-1.9-3.7-1.7-3.2 1.9z"/><path fill="#b3ff00" stroke="#b3ff00" d="M548.5 485.6l3.3-2.4-3.8-2-3.3 2.4zM544.7 483.6l3.3-2.4-3.7-1.9-3.4 2.4zM559.4 487.3l3.3-2.3-3.8-2.1-3.3 2.3zM555.6 485.2l3.3-2.3-3.8-2-3.3 2.3zM551.8 483.2l3.3-2.3-3.8-2-3.3 2.3zM548.0 481.2l3.3-2.3-3.7-1.9-3.3 2.3zM544.3 479.3l3.3-2.3-3.8-1.8-3.3 2.3zM540.5 477.5l3.3-2.3-3.7-1.8-3.3 2.3zM562.7 485.0l3.3-2.2-3.8-2.1-3.3 2.2zM558.9 482.9l3.3-2.2-3.8-2-3.3 2.2zM555.1 480.9l3.3-2.2-3.8-2-3.3 2.2zM551.3 478.9l3.3-2.2-3.8-1.9-3.2 2.2zM547.6 477.0l3.2-2.2-3.7-1.8-3.3 2.2zM543.8 475.2l3.3-2.2-3.7-1.8-3.3 2.2zM540.1 473.4l3.3-2.2-3.7-1.8-3.3 2.2zM562.2 480.7l3.2-2.1-3.8-2-3.2 2.1zM558.4 478.7l3.2-2.1-3.7-2-3.3 2.1zM554.6 476.7l3.3-2.1-3.8-1.9-3.3 2.1zM550.8 474.8l3.3-2.1-3.7-1.8-3.3 2.1zM547.1 473.0l3.3-2.1-3.8-1.8-3.2 2.1zM543.4 471.2l3.2-2.1-3.7-1.7-3.2 2zM561.6 476.6l3.3-2-3.8-1.9-3.2 1.9zM557.9 474.6l3.2-1.9-3.8-2-3.2 2zM554.1 472.7l3.2-2-3.7-1.8-3.2 2zM550.4 470.9l3.2-2-3.7-1.8-3.3 2z"/><path fill="#39ef00" stroke="#39ef00" d="M541.5 434.6l3.1-0.8-3.4-1.1-3.1 0.8z"/><path fill="#33ef00" stroke="#33ef00" d="M538.1 433.5l3.1-0.8-3.5-1-3 0.8z"/></g>
<path d="M556.2 630.5Q514.3 596.5 476.3 575.0Q438.3 553.5 405.3 543.6M556.2 630.5Q592.9 580.1 626.0 552.0Q659.0 524.1 686.5 517.3M558.0 628.0Q516.1 594.0 478.1 572.5Q440.1 551.1 407.0 541.2M554.1 628.8Q590.8 578.4 623.9 550.3Q657.0 522.5 684.6 515.7M559.8 625.5Q517.9 591.6 479.8 570.1Q441.8 548.7 408.7 538.8M552.0 627.1Q588.7 576.8 621.9 548.7Q655.0 520.8 682.6 514.0M561.7 623.1Q519.7 589.1 481.6 567.7Q443.6 546.3 410.4 536.4M550.0 625.4Q586.6 575.1 619.8 547.1Q652.9 519.2 680.6 512.4M563.5 620.6Q521.5 586.7 483.4 565.3Q445.4 543.9 412.2 534.1M547.9 623.8Q584.5 573.5 617.7 545.4Q650.9 517.6 678.6 510.8M565.3 618.2Q523.3 584.4 485.2 562.9Q447.1 541.6 413.9 531.8M545.8 622.2Q582.4 571.9 615.7 543.8Q648.9 516.0 676.7 509.3M567.1 615.9Q525.1 582.0 487.0 560.6Q448.9 539.3 415.6 529.5M543.7 620.6Q580.3 570.3 613.6 542.3Q646.8 514.4 674.7 507.7M568.9 613.5Q526.9 579.7 488.8 558.3Q450.6 537.0 417.3 527.2M541.7 619.0Q578.3 568.7 611.6 540.7Q644.8 512.9 672.8 506.1M570.7 611.2Q528.7 577.4 490.5 556.0Q452.4 534.7 419.0 525.0M539.6 617.4Q576.2 567.1 609.5 539.1Q642.8 511.3 670.8 504.6M572.5 609.0Q530.5 575.1 492.3 553.8Q454.1 532.5 420.7 522.8M537.6 615.8Q574.1 565.6 607.5 537.6Q640.8 509.8 668.8 503.1M574.3 606.7Q532.3 572.9 494.1 551.6Q455.9 530.3 422.4 520.6M535.5 614.3Q572.1 564.1 605.5 536.1Q638.8 508.3 666.9 501.6M576.1 604.5Q534.1 570.7 495.8 549.4Q457.6 528.1 424.2 518.4M533.5 612.7Q570.0 562.5 603.4 534.6Q636.8 506.8 664.9 500.1M577.8 602.3Q535.9 568.5 497.6 547.2Q459.4 526.0 425.9 516.3M531.4 611.2Q567.9 561.0 601.4 533.1Q634.8 505.3 663.0 498.6M579.6 600.1Q537.7 566.3 499.4 545.1Q461.1 523.8 427.6 514.2M529.4 609.7Q565.9 559.6 599.4 531.6Q632.8 503.8 661.0 497.1M581.4 598.0Q539.5 564.2 501.2 542.9Q462.9 521.7 429.3 512.1M527.3 608.2Q563.9 558.1 597.3 530.1Q630.8 502.4 659.1 495.7M583.2 595.8Q541.2 562.1 502.9 540.9Q464.6 519.7 431.0 510.0M525.3 606.7Q561.8 556.6 595.3 528.7Q628.8 500.9 657.1 494.3M584.9 593.7Q543.0 560.0 504.7 538.8Q466.4 517.6 432.7 508.0M523.3 605.3Q559.8 555.2 593.3 527.3Q626.8 499.5 655.2 492.8M586.7 591.7Q544.8 558.0 506.4 536.8Q468.1 515.6 434.4 506.0M521.3 603.8Q557.7 553.8 591.3 525.8Q624.8 498.1 653.3 491.4M588.5 589.7Q546.6 556.0 508.2 534.8Q469.9 513.6 436.1 504.0M519.3 602.4Q555.7 552.4 589.3 524.4Q622.8 496.7 651.3 490.0M590.2 587.6Q548.3 554.0 509.9 532.8Q471.6 511.6 437.9 502.0M517.3 601.0Q553.7 551.0 587.3 523.1Q620.8 495.3 649.4 488.7M592.0 585.7Q550.1 552.0 511.7 530.8Q473.4 509.7 439.6 500.1M515.3 599.6Q551.7 549.6 585.3 521.7Q618.8 494.0 647.5 487.3M593.7 583.7Q551.8 550.1 513.4 528.9Q475.1 507.8 441.3 498.2M513.3 598.2Q549.6 548.2 583.3 520.3Q616.8 492.6 645.5 486.0M595.5 581.8Q553.6 548.2 515.2 527.0Q476.8 505.9 443.0 496.3M511.3 596.9Q547.6 546.9 581.3 519.0Q614.9 491.3 643.6 484.6M597.2 579.9Q555.4 546.3 516.9 525.1Q478.6 504.0 444.7 494.5M509.3 595.5Q545.6 545.6 579.3 517.7Q612.9 490.0 641.7 483.3M598.9 578.0Q557.1 544.4 518.7 523.3Q480.3 502.2 446.4 492.7M507.3 594.2Q543.6 544.3 577.3 516.4Q610.9 488.7 639.8 482.0M600.7 576.2Q558.8 542.6 520.4 521.5Q482.0 500.4 448.1 490.9M505.3 592.9Q541.6 543.0 575.3 515.1Q609.0 487.4 637.8 480.7M602.4 574.4Q560.6 540.8 522.2 519.7Q483.8 498.6 449.8 489.1M503.3 591.6Q539.6 541.7 573.3 513.8Q607.0 486.1 635.9 479.4M604.1 572.6Q562.3 539.1 523.9 517.9Q485.5 496.8 451.5 487.3M501.4 590.3Q537.6 540.4 571.4 512.5Q605.0 484.9 634.0 478.2M605.8 570.9Q564.1 537.3 525.6 516.2Q487.2 495.1 453.2 485.6M499.4 589.0Q535.7 539.2 569.4 511.3Q603.1 483.6 632.1 476.9M607.5 569.1Q565.8 535.6 527.3 514.5Q488.9 493.4 454.9 483.9M497.5 587.8Q533.7 537.9 567.4 510.1Q601.1 482.4 630.2 475.7M609.2 567.4Q567.5 533.9 529.1 512.8Q490.6 491.7 456.6 482.2M495.5 586.5Q531.7 536.7 565.5 508.8Q599.2 481.2 628.3 474.5M610.9 565.8Q569.2 532.3 530.8 511.2Q492.4 490.1 458.3 480.6M493.6 585.3Q529.7 535.5 563.5 507.6Q597.2 480.0 626.4 473.3M612.6 564.1Q570.9 530.6 532.5 509.5Q494.1 488.5 460.0 479.0M491.6 584.1Q527.8 534.3 561.6 506.5Q595.3 478.8 624.5 472.1M614.3 562.5Q572.7 529.0 534.2 507.9Q495.8 486.9 461.7 477.4M489.7 582.9Q525.8 533.2 559.6 505.3Q593.4 477.6 622.6 470.9M616.0 560.9Q574.4 527.5 535.9 506.4Q497.5 485.3 463.4 475.8M487.7 581.7Q523.8 532.0 557.7 504.1Q591.4 476.5 620.7 469.8M617.7 559.4Q576.1 525.9 537.6 504.8Q499.2 483.8 465.0 474.3M485.8 580.6Q521.9 530.9 555.7 503.0Q589.5 475.3 618.8 468.6M619.4 557.8Q577.8 524.4 539.3 503.3Q500.9 482.3 466.7 472.8M483.9 579.4Q519.9 529.7 553.8 501.9Q587.6 474.2 617.0 467.5M621.0 556.3Q579.5 522.9 541.0 501.8Q502.6 480.8 468.4 471.3M482.0 578.3Q518.0 528.6 551.9 500.8Q585.6 473.1 615.1 466.4M622.7 554.9Q581.2 521.4 542.7 500.4Q504.3 479.3 470.1 469.8M480.1 577.2Q516.1 527.5 549.9 499.7Q583.7 472.0 613.2 465.3M624.3 553.4Q582.8 520.0 544.4 498.9Q506.0 477.9 471.8 468.4M478.2 576.1Q514.1 526.4 548.0 498.6Q581.8 470.9 611.3 464.2M626.0 552.0Q584.5 518.6 546.1 497.5Q507.7 476.5 473.4 467.0M476.3 575.0Q512.2 525.4 546.1 497.5Q579.9 469.9 609.4 463.1M627.6 550.6Q586.2 517.2 547.8 496.2Q509.4 475.1 475.1 465.6M474.4 573.9Q510.3 524.3 544.2 496.5Q578.0 468.8 607.6 462.0M629.3 549.2Q587.9 515.9 549.4 494.8Q511.1 473.8 476.8 464.3M472.5 572.9Q508.4 523.3 542.3 495.4Q576.1 467.8 605.7 461.0M630.9 547.9Q589.5 514.6 551.1 493.5Q512.7 472.5 478.5 462.9M470.6 571.8Q506.5 522.3 540.4 494.4Q574.2 466.8 603.9 460.0M632.5 546.6Q591.2 513.3 552.8 492.2Q514.4 471.2 480.1 461.6M468.7 570.8Q504.6 521.3 538.5 493.4Q572.3 465.8 602.0 459.0M634.1 545.3Q592.8 512.0 554.5 490.9Q516.1 469.9 481.8 460.4M466.9 569.8Q502.7 520.3 536.6 492.4Q570.4 464.8 600.1 458.0M635.7 544.1Q594.5 510.7 556.1 489.7Q517.8 468.6 483.4 459.1M465.0 568.8Q500.8 519.3 534.7 491.5Q568.5 463.8 598.3 457.0M637.4 542.8Q596.1 509.5 557.8 488.5Q519.4 467.4 485.1 457.9M463.2 567.8Q498.9 518.4 532.8 490.5Q566.6 462.9 596.4 456.0M639.0 541.6Q597.8 508.3 559.4 487.3Q521.1 466.2 486.8 456.7M461.3 566.8Q497.0 517.4 530.9 489.6Q564.8 461.9 594.6 455.0M640.5 540.5Q599.4 507.2 561.1 486.1Q522.8 465.1 488.4 455.5M459.5 565.9Q495.1 516.5 529.0 488.6Q562.9 461.0 592.8 454.1M642.1 539.3Q601.0 506.1 562.7 485.0Q524.4 463.9 490.1 454.4M457.6 565.0Q493.3 515.6 527.2 487.7Q561.0 460.1 590.9 453.2M643.7 538.2Q602.6 505.0 564.3 483.9Q526.1 462.8 491.7 453.2M455.8 564.0Q491.4 514.7 525.3 486.8Q559.2 459.2 589.1 452.2M645.3 537.1Q604.3 503.9 566.0 482.8Q527.7 461.8 493.3 452.1M454.0 563.1Q489.5 513.8 523.4 485.9Q557.3 458.3 587.3 451.3M646.9 536.1Q605.9 502.8 567.6 481.7Q529.4 460.7 495.0 451.1M452.1 562.2Q487.7 512.9 521.6 485.1Q555.4 457.4 585.4 450.4M648.4 535.0Q607.5 501.8 569.2 480.7Q531.0 459.7 496.6 450.0M450.3 561.4Q485.8 512.1 519.7 484.2Q553.6 456.6 583.6 449.6M650.0 534.0Q609.1 500.8 570.8 479.7Q532.6 458.7 498.2 449.0M448.5 560.5Q484.0 511.2 517.9 483.4Q551.7 455.7 581.8 448.7M651.5 533.0Q610.7 499.8 572.4 478.7Q534.3 457.7 499.9 448.0M446.7 559.7Q482.1 510.4 516.0 482.5Q549.9 454.9 580.0 447.9M653.1 532.1Q612.2 498.9 574.0 477.8Q535.9 456.7 501.5 447.0M444.9 558.8Q480.3 509.6 514.2 481.7Q548.1 454.1 578.2 447.0M654.6 531.2Q613.8 498.0 575.6 476.9Q537.5 455.8 503.1 446.1M443.1 558.0Q478.5 508.8 512.4 480.9Q546.2 453.3 576.4 446.2M656.1 530.3Q615.4 497.1 577.2 476.0Q539.1 454.9 504.7 445.2M441.3 557.2Q476.7 508.0 510.6 480.2Q544.4 452.5 574.6 445.4M657.6 529.4Q617.0 496.2 578.8 475.1Q540.7 454.0 506.3 444.3M439.6 556.4Q474.8 507.3 508.7 479.4Q542.6 451.7 572.8 444.6M659.1 528.5Q618.5 495.4 580.4 474.3Q542.4 453.2 508.0 443.4M437.8 555.6Q473.0 506.5 506.9 478.6Q540.8 451.0 571.0 443.8M660.7 527.7Q620.1 494.6 582.0 473.4Q544.0 452.4 509.6 442.6M436.0 554.9Q471.2 505.8 505.1 477.9Q538.9 450.2 569.2 443.1M662.2 526.9Q621.6 493.8 583.6 472.6Q545.6 451.6 511.2 441.8M434.3 554.1Q469.4 505.0 503.3 477.2Q537.1 449.5 567.4 442.3M663.6 526.1Q623.2 493.0 585.1 471.9Q547.1 450.8 512.8 441.0M432.5 553.4Q467.6 504.3 501.5 476.5Q535.3 448.8 565.6 441.6M665.1 525.4Q624.7 492.3 586.7 471.1Q548.7 450.0 514.4 440.2M430.8 552.7Q465.8 503.6 499.7 475.8Q533.5 448.1 563.9 440.9M666.6 524.7Q626.2 491.6 588.3 470.4Q550.3 449.3 515.9 439.5M429.0 552.0Q464.1 503.0 497.9 475.1Q531.7 447.4 562.1 440.2M668.1 524.0Q627.8 490.9 589.8 469.7Q551.9 448.6 517.5 438.8M427.3 551.3Q462.3 502.3 496.1 474.4Q529.9 446.7 560.3 439.5M669.5 523.3Q629.3 490.3 591.4 469.1Q553.5 448.0 519.1 438.1M425.6 550.6Q460.5 501.6 494.4 473.8Q528.2 446.1 558.6 438.8M671.0 522.7Q630.8 489.6 592.9 468.4Q555.0 447.3 520.7 437.4M423.8 550.0Q458.8 501.0 492.6 473.1Q526.4 445.4 556.8 438.1M672.4 522.1Q632.3 489.0 594.4 467.8Q556.6 446.7 522.3 436.8M422.1 549.3Q457.0 500.4 490.8 472.5Q524.6 444.8 555.0 437.5M673.9 521.5Q633.8 488.5 596.0 467.3Q558.2 446.1 523.8 436.1M420.4 548.7Q455.2 499.8 489.1 471.9Q522.8 444.2 553.3 436.8M675.3 520.9Q635.3 487.9 597.5 466.7Q559.7 445.5 525.4 435.5M418.7 548.0Q453.5 499.2 487.3 471.3Q521.1 443.6 551.5 436.2M676.7 520.4Q636.8 487.4 599.0 466.2Q561.3 445.0 526.9 435.0M417.0 547.4Q451.8 498.6 485.5 470.7Q519.3 443.0 549.8 435.6M678.2 519.9Q638.2 486.9 600.5 465.6Q562.8 444.5 528.5 434.4M415.3 546.9Q450.0 498.0 483.8 470.1Q517.5 442.4 548.1 435.0M679.6 519.4Q639.7 486.4 602.0 465.2Q564.4 444.0 530.1 433.9M413.6 546.3Q448.3 497.5 482.1 469.6Q515.8 441.8 546.3 434.4M681.0 518.9Q641.2 486.0 603.5 464.7Q565.9 443.5 531.6 433.4M412.0 545.7Q446.6 497.0 480.3 469.0Q514.0 441.3 544.6 433.8M682.4 518.5Q642.6 485.5 605.0 464.3Q567.4 443.1 533.1 432.9M410.3 545.2Q444.9 496.4 478.6 468.5Q512.3 440.8 542.9 433.3M683.8 518.1Q644.1 485.1 606.5 463.9Q568.9 442.6 534.7 432.5M408.6 544.6Q443.1 495.9 476.9 468.0Q510.6 440.2 541.2 432.7M685.2 517.7Q645.5 484.7 608.0 463.5Q570.5 442.2 536.2 432.1M407.0 544.1Q441.4 495.4 475.2 467.5Q508.8 439.7 539.4 432.2M686.5 517.3Q646.9 484.4 609.4 463.1Q572.0 441.9 537.7 431.7M405.3 543.6Q439.7 494.9 473.4 467.0Q507.1 439.2 537.7 431.7" fill="none" stroke="#000" stroke-width="0.70" stroke-opacity="0.66"/>
<path d="M546.1 497.5 L546.1 462.0" stroke="#3c3c00" stroke-width="0.8"/>
<circle cx="546.1" cy="462.0" r="2.6" fill="#d01818" stroke="#701010" stroke-width="0.5"/>
<text x="373.5" y="532.3" font-size="9.5" text-anchor="middle" class="tt" transform="rotate(-90 373.5 532.3)">Total phenol (OD280 g)</text>
<text x="456.3" y="683.7" font-size="9.2" text-anchor="middle" class="tt">B: Total P (g kg-1)</text>
<text x="659.9" y="678.7" font-size="9.1" text-anchor="middle" class="tt">A: Available P (mg kg-1)</text>
<text x="436.3" y="400.7" class="lt">c</text></g>
</svg>
</body></html>
